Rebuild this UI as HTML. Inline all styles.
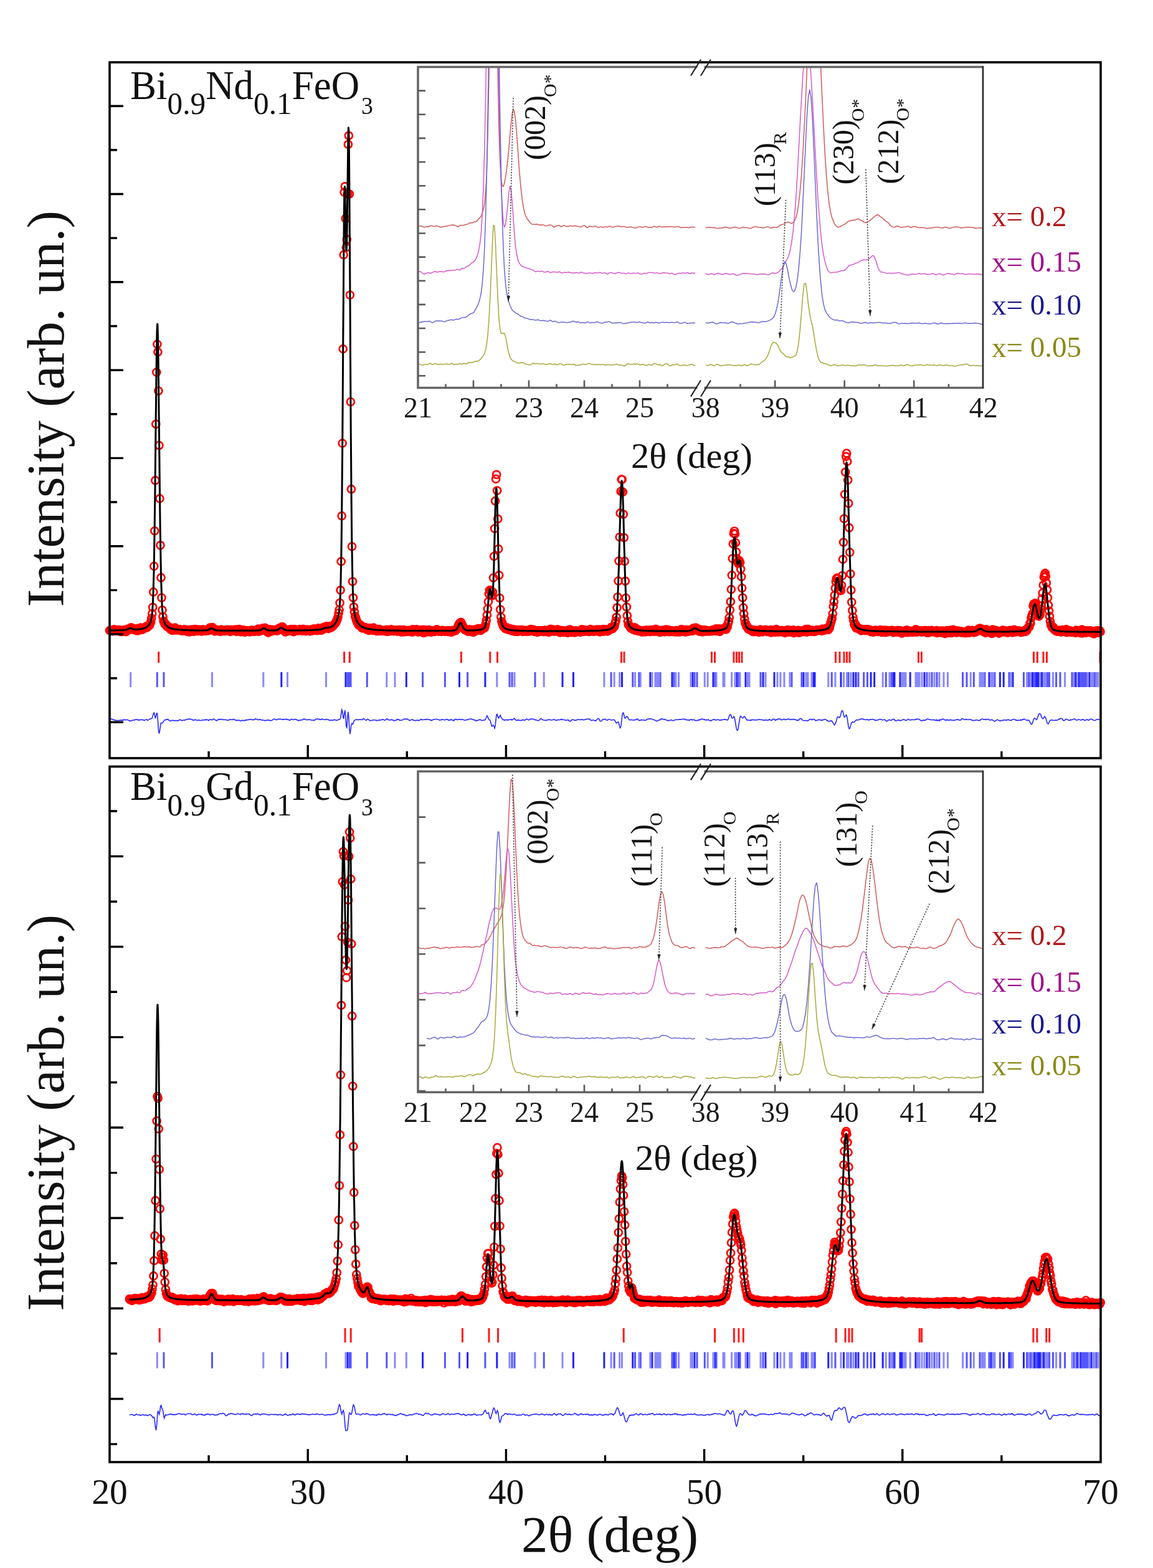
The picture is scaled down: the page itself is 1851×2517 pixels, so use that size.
<!DOCTYPE html>
<html><head><meta charset="utf-8"><title>XRD</title>
<style>html,body{margin:0;padding:0;background:#fff;}svg{display:block;}text{font-family:"Liberation Serif","Times New Roman",serif;}</style></head><body>
<svg width="1851" height="2517" viewBox="0 0 1851 2517">
<rect width="1851" height="2517" fill="#fff"/>
<defs>
<marker id="c" viewBox="-8 -8 16 16" markerWidth="16" markerHeight="16" markerUnits="userSpaceOnUse" refX="0" refY="0" overflow="visible"><circle r="6" fill="none" stroke="#ff0000" stroke-width="2.7"/></marker>
<marker id="ah" viewBox="-4 -8 8 8" markerWidth="8" markerHeight="8" markerUnits="userSpaceOnUse" refX="0" refY="0" orient="auto-start-reverse" overflow="visible"><path d="M-9,-2.6 L-9,2.6 L0,0 Z" fill="#222"/></marker>
<clipPath id="it"><rect x="671" y="107.5" width="907" height="515"/></clipPath>
<clipPath id="ib"><rect x="671" y="1238.2" width="907" height="515"/></clipPath>
</defs>
<polyline fill="none" stroke="none" marker-start="url(#c)" marker-mid="url(#c)" marker-end="url(#c)" points="176,1012 177,1011.6 178,1012.3 179.1,1013 180.1,1012.5 181.1,1013.1 182.1,1011.8 183.1,1010.3 184.1,1012.5 185.2,1012.6 186.2,1011.3 187.2,1011.4 188.2,1011.7 189.2,1012.9 190.3,1011.8 191.3,1011 192.3,1013.4 193.3,1012.3 194.3,1014 195.3,1013.2 196.4,1013.9 197.4,1011.9 198.4,1013.1 199.4,1011.2 200.4,1011.2 201.5,1011.5 202.5,1014.1 203.5,1011.4 204.5,1010.4 205.5,1009.7 206.5,1011.1 207.6,1009.3 208.6,1009.6 209.6,1009.3 210.6,1007.3 211.6,1010 212.7,1009.6 213.7,1008.9 214.7,1011 215.7,1010.7 216.7,1010.5 217.7,1010.6 218.8,1012.2 219.8,1010.5 220.8,1008.9 221.8,1012.3 222.8,1009.3 223.9,1010.1 224.9,1010.9 225.9,1007.5 226.9,1008.9 227.9,1011 228.9,1009.3 230,1008.4 231,1009 232,1007.6 233,1008.1 234,1006.8 235.1,1005.3 236.1,1007.2 237.1,1005.4 238.1,1005.3 239.1,1003.5 240.1,1003.7 241.2,1001.1 242.2,998.1 243.2,992.6 244.2,985.1 245.2,974.8 246.3,950.4 247.3,908.9 248.3,852.3 249.3,771.2 250.3,680.8 251.3,597.6 252.4,552.6 253.4,565 254.4,627.5 255.4,715 256.4,800.4 257.5,875.3 258.5,927.2 259.5,959.5 260.5,979.3 261.5,990 262.6,996.9 263.6,999 264.6,1001.7 265.6,1001.5 266.6,1003.3 267.6,1005.2 268.7,1005.2 269.7,1007.1 270.7,1006.1 271.7,1007.8 272.7,1007.6 273.8,1010.2 274.8,1008.6 275.8,1011.3 276.8,1012 277.8,1010.1 278.8,1011 279.9,1009.9 280.9,1007.6 281.9,1011.4 282.9,1011.3 283.9,1010.4 285,1010.2 286,1011.1 287,1011.2 288,1010.2 289,1010.5 290,1012.4 291.1,1011.3 292.1,1011.3 293.1,1012.6 294.1,1011.1 295.1,1012.5 296.2,1010.3 297.2,1011.3 298.2,1011.5 299.2,1012.3 300.2,1011.8 301.2,1014.1 302.3,1013.1 303.3,1011.3 304.3,1014.3 305.3,1010.8 306.3,1013.9 307.4,1010.9 308.4,1012.9 309.4,1010.9 310.4,1011.7 311.4,1013.7 312.4,1010.4 313.5,1010.2 314.5,1012 315.5,1012.3 316.5,1012.2 317.5,1013.1 318.6,1010.7 319.6,1012.6 320.6,1012.1 321.6,1013 322.6,1012.8 323.6,1013.5 324.7,1010.5 325.7,1012.2 326.7,1010.9 327.7,1012 328.7,1012.8 329.8,1012.3 330.8,1012.5 331.8,1011.7 332.8,1012 333.8,1011.6 334.8,1012.4 335.9,1011.1 336.9,1007.6 337.9,1009.8 338.9,1009.9 339.9,1008.1 341,1007.2 342,1011.2 343,1010.3 344,1011.4 345,1013.3 346,1010.6 347.1,1011.8 348.1,1011.9 349.1,1012.9 350.1,1011.5 351.1,1012.8 352.2,1012.3 353.2,1013.5 354.2,1013.6 355.2,1010.6 356.2,1012.8 357.2,1011.9 358.3,1012.3 359.3,1012.8 360.3,1012.9 361.3,1011.5 362.3,1012.6 363.4,1012.4 364.4,1012.2 365.4,1010.9 366.4,1011.5 367.4,1011.8 368.4,1013 369.5,1013.9 370.5,1011.2 371.5,1011.1 372.5,1012.5 373.5,1011.6 374.6,1011.4 375.6,1011.3 376.6,1011.2 377.6,1012.9 378.6,1010.5 379.6,1013.8 380.7,1011.3 381.7,1011.7 382.7,1011.3 383.7,1010.1 384.7,1010.5 385.8,1013.7 386.8,1014.3 387.8,1011.3 388.8,1013.5 389.8,1012.3 390.8,1011.3 391.9,1014.3 392.9,1014.9 393.9,1012 394.9,1012.3 395.9,1012.6 397,1012.3 398,1013.3 399,1014.1 400,1012.5 401,1013.5 402,1014.3 403.1,1011.7 404.1,1012.4 405.1,1011.8 406.1,1013.5 407.1,1013.1 408.2,1013.5 409.2,1013.3 410.2,1012 411.2,1013.2 412.2,1011.8 413.2,1011.8 414.3,1009.7 415.3,1013.7 416.3,1010.8 417.3,1011.7 418.3,1011.2 419.4,1012.4 420.4,1010.6 421.4,1008.5 422.4,1009 423.4,1008.5 424.5,1009.1 425.5,1007.8 426.5,1009.8 427.5,1013.1 428.5,1011.8 429.5,1013.8 430.6,1015.6 431.6,1012.5 432.6,1010.4 433.6,1012 434.6,1013.5 435.7,1013.3 436.7,1010.8 437.7,1011.9 438.7,1012.1 439.7,1012.2 440.7,1012 441.8,1011 442.8,1011.2 443.8,1011.5 444.8,1012.7 445.8,1010.4 446.9,1011.3 447.9,1008.4 448.9,1010.5 449.9,1008.4 450.9,1007.8 451.9,1009.3 453,1006 454,1007 455,1010.1 456,1009.4 457,1010.4 458.1,1014.5 459.1,1011.3 460.1,1011.9 461.1,1011.8 462.1,1013.3 463.1,1012.3 464.2,1012.3 465.2,1010.6 466.2,1011.7 467.2,1012.1 468.2,1010.2 469.3,1012.7 470.3,1012.5 471.3,1014.2 472.3,1010.2 473.3,1010.9 474.3,1010.9 475.4,1011.2 476.4,1011.9 477.4,1011.7 478.4,1012.3 479.4,1012.2 480.5,1011.9 481.5,1010.1 482.5,1011.3 483.5,1012 484.5,1012.6 485.5,1012.6 486.6,1009.9 487.6,1011.2 488.6,1011.7 489.6,1012.2 490.6,1013.1 491.7,1011.8 492.7,1010.7 493.7,1012.1 494.7,1011.9 495.7,1011.9 496.7,1011.4 497.8,1013.4 498.8,1011.8 499.8,1012.5 500.8,1010.4 501.8,1012.3 502.9,1010.6 503.9,1009.4 504.9,1011.6 505.9,1011.9 506.9,1010.9 507.9,1011 509,1012.1 510,1010.3 511,1008.3 512,1011 513,1010.8 514.1,1011.7 515.1,1009.9 516.1,1011.5 517.1,1011.1 518.1,1007.8 519.1,1010.1 520.2,1007.3 521.2,1006.3 522.2,1007.5 523.2,1007 524.2,1005.3 525.3,1007.8 526.3,1008.3 527.3,1009.1 528.3,1007.3 529.3,1005.3 530.3,1005.6 531.4,1007.4 532.4,1006.8 533.4,1005.8 534.4,1004.1 535.4,1003.8 536.5,1002.4 537.5,1001.1 538.5,1000.4 539.5,998.4 540.5,996.1 541.5,994 542.6,990.1 543.6,984.1 544.6,978.9 545.6,967.8 546.6,947.3 547.7,901.4 548.7,828.2 549.7,711.6 550.7,560.1 551.7,409.1 552.7,308.6 553.8,299.3 554.8,350.8 555.8,397.3 556.8,384.4 557.8,311.5 558.9,231.8 559.9,217.8 560.9,311.5 561.9,473.6 562.9,645.1 563.9,785.2 565,877.4 566,933.5 567,959.5 568,974.3 569,982.3 570.1,989.3 571.1,991.7 572.1,995.3 573.1,997.9 574.1,999.7 575.2,1002.3 576.2,1003.8 577.2,1002.2 578.2,1004.3 579.2,1004.6 580.2,1004.4 581.3,1008.3 582.3,1007.7 583.3,1007 584.3,1007.1 585.3,1008.4 586.4,1007.1 587.4,1008.4 588.4,1010.3 589.4,1010.2 590.4,1008.4 591.4,1009 592.5,1012 593.5,1008.3 594.5,1009.4 595.5,1008.6 596.5,1010.8 597.6,1010.8 598.6,1011.9 599.6,1007.6 600.6,1011 601.6,1009 602.6,1011.7 603.7,1010.9 604.7,1013.1 605.7,1011.7 606.7,1010.1 607.7,1012.8 608.8,1010.1 609.8,1011 610.8,1012.8 611.8,1012.2 612.8,1012.1 613.8,1011.7 614.9,1012.3 615.9,1012.7 616.9,1012.1 617.9,1013 618.9,1013.4 620,1011.9 621,1010.8 622,1013.8 623,1012 624,1012.8 625,1013.2 626.1,1011 627.1,1012.7 628.1,1010.3 629.1,1013 630.1,1011.7 631.2,1012.4 632.2,1013.1 633.2,1011.5 634.2,1012.4 635.2,1011.5 636.2,1012.3 637.3,1013.6 638.3,1012.4 639.3,1012.2 640.3,1011.1 641.3,1013.4 642.4,1012.4 643.4,1014.4 644.4,1011.6 645.4,1013.7 646.4,1014.5 647.4,1012.5 648.5,1011.1 649.5,1014.2 650.5,1013.7 651.5,1013.3 652.5,1013.8 653.6,1012 654.6,1013.4 655.6,1013.3 656.6,1011.8 657.6,1013.4 658.6,1012 659.7,1013.7 660.7,1014 661.7,1014.7 662.7,1010.3 663.7,1012.9 664.8,1012.2 665.8,1012.6 666.8,1012.3 667.8,1012.5 668.8,1010.3 669.8,1013.8 670.9,1014.4 671.9,1013.8 672.9,1014.2 673.9,1011.7 674.9,1011.6 676,1013.7 677,1014.3 678,1013 679,1010.9 680,1016 681,1012 682.1,1013.9 683.1,1011.4 684.1,1013.9 685.1,1013 686.1,1014.4 687.2,1013.8 688.2,1011 689.2,1011.6 690.2,1013.1 691.2,1013.7 692.2,1014.9 693.3,1013.1 694.3,1012.7 695.3,1012.7 696.3,1012.7 697.3,1014 698.4,1012.7 699.4,1012.7 700.4,1011.1 701.4,1010.4 702.4,1012.8 703.4,1013.5 704.5,1012.7 705.5,1013.3 706.5,1013.5 707.5,1012.7 708.5,1013.9 709.6,1011.9 710.6,1012.7 711.6,1012.3 712.6,1012.8 713.6,1013.4 714.6,1013.7 715.7,1012.8 716.7,1013.2 717.7,1012.3 718.7,1012.5 719.7,1014.1 720.8,1012.4 721.8,1014.1 722.8,1013.2 723.8,1012.7 724.8,1014.8 725.8,1012.2 726.9,1012.1 727.9,1012.3 728.9,1012.5 729.9,1012.2 730.9,1012.6 732,1011.1 733,1010.4 734,1008.1 735,1007.8 736,1003.8 737.1,1001.6 738.1,1000.1 739.1,999.6 740.1,998.9 741.1,1003.2 742.1,1002.9 743.2,1005.4 744.2,1007.4 745.2,1008.8 746.2,1011.1 747.2,1011.4 748.3,1010.7 749.3,1011.2 750.3,1011.6 751.3,1013.7 752.3,1011.3 753.3,1010.6 754.4,1010.8 755.4,1011.7 756.4,1013.8 757.4,1010.8 758.4,1012.1 759.5,1014.9 760.5,1011.4 761.5,1013.6 762.5,1013.3 763.5,1012.4 764.5,1010 765.6,1011.9 766.6,1011 767.6,1009.1 768.6,1009.2 769.6,1011.1 770.7,1011 771.7,1012 772.7,1011.1 773.7,1009.5 774.7,1009.1 775.7,1008.9 776.8,1007.2 777.8,1008.1 778.8,1005.4 779.8,1001.1 780.8,995.9 781.9,987.3 782.9,977.4 783.9,965.9 784.9,953.4 785.9,947.5 786.9,947.4 788,949.4 789,955.7 790,956.3 791,950.4 792,927.5 793.1,893 794.1,848.5 795.1,804.2 796.1,768.9 797.1,761.8 798.1,787.5 799.2,833 800.2,881.1 801.2,923.3 802.2,960 803.2,978.4 804.3,990.5 805.3,997.6 806.3,1000.4 807.3,1003.3 808.3,1005.8 809.3,1006.8 810.4,1007 811.4,1009.3 812.4,1009.2 813.4,1008.5 814.4,1007.6 815.5,1010.4 816.5,1010.6 817.5,1010.5 818.5,1009.3 819.5,1011.2 820.5,1009.5 821.6,1012.6 822.6,1011.8 823.6,1011.9 824.6,1010.8 825.6,1010.6 826.7,1013.7 827.7,1013.1 828.7,1011.6 829.7,1012.9 830.7,1014 831.7,1011 832.8,1011.7 833.8,1011.7 834.8,1012.9 835.8,1011.2 836.8,1012.7 837.9,1011.1 838.9,1013.6 839.9,1013.5 840.9,1012.3 841.9,1013.4 842.9,1011.8 844,1012.3 845,1013.7 846,1012.6 847,1013.1 848,1011.6 849.1,1013.5 850.1,1013.2 851.1,1011.3 852.1,1010.1 853.1,1010.4 854.1,1012.7 855.2,1012.5 856.2,1010.9 857.2,1012.9 858.2,1014 859.2,1012.7 860.3,1012.3 861.3,1013.8 862.3,1014.8 863.3,1014.6 864.3,1012.1 865.3,1013.8 866.4,1013 867.4,1012.6 868.4,1012.1 869.4,1013.3 870.4,1012.3 871.5,1014 872.5,1013.3 873.5,1014.1 874.5,1011.6 875.5,1013 876.5,1013.8 877.6,1013.4 878.6,1013.2 879.6,1012.1 880.6,1014.9 881.6,1014.2 882.7,1013.4 883.7,1009.9 884.7,1011.8 885.7,1013.1 886.7,1012.1 887.7,1010.5 888.8,1013.3 889.8,1013.4 890.8,1011.5 891.8,1012.4 892.8,1012.2 893.9,1013.6 894.9,1010.7 895.9,1010.9 896.9,1012.3 897.9,1012.2 899,1015.4 900,1012.2 901,1013.2 902,1012.5 903,1012.2 904,1013.4 905.1,1015 906.1,1012.5 907.1,1013.9 908.1,1013.4 909.1,1013.7 910.2,1013.4 911.2,1015.8 912.2,1011.5 913.2,1012.7 914.2,1011.6 915.2,1010.6 916.3,1012.9 917.3,1015.1 918.3,1014 919.3,1014.4 920.3,1013.6 921.4,1012.9 922.4,1015.4 923.4,1012.5 924.4,1014.8 925.4,1012.6 926.4,1013.1 927.5,1013.3 928.5,1013 929.5,1013.6 930.5,1013.6 931.5,1014.9 932.6,1012.9 933.6,1010.7 934.6,1010.5 935.6,1011.3 936.6,1012 937.6,1013.7 938.7,1011.1 939.7,1012.9 940.7,1012.9 941.7,1013.2 942.7,1012.7 943.8,1013.3 944.8,1012.9 945.8,1014 946.8,1013.2 947.8,1010 948.8,1012.8 949.9,1013 950.9,1012 951.9,1011.8 952.9,1013.9 953.9,1012.8 955,1011.4 956,1012.2 957,1012.3 958,1010.6 959,1013.2 960,1012.2 961.1,1012.9 962.1,1010.5 963.1,1014.5 964.1,1012.9 965.1,1012.7 966.2,1011.2 967.2,1011.2 968.2,1010.1 969.2,1013.6 970.2,1010.7 971.2,1011.8 972.3,1012.1 973.3,1010.5 974.3,1012.1 975.3,1013.3 976.3,1011 977.4,1012.1 978.4,1010.8 979.4,1009.2 980.4,1008.9 981.4,1006.9 982.4,1008.4 983.5,1009.3 984.5,1007.5 985.5,1006.5 986.5,1005 987.5,1000.2 988.6,996.8 989.6,990.8 990.6,975.5 991.6,958.4 992.6,932.6 993.6,900.5 994.7,862.1 995.7,823.7 996.7,788.7 997.7,769.6 998.7,769.7 999.8,789.7 1000.8,825.5 1001.8,863 1002.8,900.9 1003.8,932.8 1004.8,959.9 1005.9,974.4 1006.9,988.3 1007.9,997.5 1008.9,1002.8 1009.9,1003.9 1011,1005.5 1012,1007.5 1013,1007.4 1014,1009 1015,1008.1 1016,1010.2 1017.1,1009.7 1018.1,1008.9 1019.1,1007.3 1020.1,1011.8 1021.1,1011.4 1022.2,1012 1023.2,1010.3 1024.2,1012.8 1025.2,1012.1 1026.2,1011.7 1027.2,1012.9 1028.3,1013 1029.3,1012.5 1030.3,1014.6 1031.3,1013.9 1032.3,1012.7 1033.4,1012.1 1034.4,1012.5 1035.4,1014.5 1036.4,1013 1037.4,1011.5 1038.4,1011.9 1039.5,1012.7 1040.5,1013.7 1041.5,1011.9 1042.5,1013.4 1043.5,1014.1 1044.6,1013.7 1045.6,1011 1046.6,1012.5 1047.6,1011.4 1048.6,1013.4 1049.6,1011.7 1050.7,1013.6 1051.7,1013.1 1052.7,1009.9 1053.7,1012 1054.7,1013.5 1055.8,1013 1056.8,1012.6 1057.8,1011.5 1058.8,1013.6 1059.8,1015.1 1060.9,1013.3 1061.9,1013 1062.9,1012.9 1063.9,1011.5 1064.9,1012.7 1065.9,1012.1 1067,1014.4 1068,1012 1069,1010.6 1070,1012.2 1071,1012.8 1072.1,1012.9 1073.1,1011 1074.1,1014.2 1075.1,1013.2 1076.1,1012.6 1077.1,1012.2 1078.2,1013.6 1079.2,1012.7 1080.2,1013.5 1081.2,1013 1082.2,1013.3 1083.3,1014.5 1084.3,1013.2 1085.3,1012.1 1086.3,1014.3 1087.3,1013.4 1088.3,1012.3 1089.4,1014.4 1090.4,1012.9 1091.4,1014.4 1092.4,1011.8 1093.4,1010.3 1094.5,1010.7 1095.5,1013.4 1096.5,1012.2 1097.5,1012.9 1098.5,1012.9 1099.5,1011.2 1100.6,1014.6 1101.6,1011.8 1102.6,1013 1103.6,1011.2 1104.6,1012.6 1105.7,1013.6 1106.7,1012.2 1107.7,1011.4 1108.7,1011.9 1109.7,1010.9 1110.7,1011.6 1111.8,1012.9 1112.8,1008.6 1113.8,1008.3 1114.8,1008.5 1115.8,1008.5 1116.9,1007.6 1117.9,1009.8 1118.9,1010.7 1119.9,1010.7 1120.9,1009.7 1121.9,1013.3 1123,1010.6 1124,1013.1 1125,1013.8 1126,1011.1 1127,1012.8 1128.1,1014.3 1129.1,1013.2 1130.1,1011.7 1131.1,1011.4 1132.1,1013.3 1133.1,1012.3 1134.2,1011.9 1135.2,1013.5 1136.2,1012.3 1137.2,1012.8 1138.2,1013.3 1139.3,1013.2 1140.3,1012.5 1141.3,1012.6 1142.3,1013.2 1143.3,1013 1144.3,1011.1 1145.4,1012.1 1146.4,1011.3 1147.4,1010.8 1148.4,1011.5 1149.4,1009.4 1150.5,1013 1151.5,1011 1152.5,1012.2 1153.5,1009.5 1154.5,1009.6 1155.5,1013.8 1156.6,1012.4 1157.6,1010.3 1158.6,1009.9 1159.6,1009.7 1160.6,1010.4 1161.7,1009.4 1162.7,1008.8 1163.7,1009.2 1164.7,1007.2 1165.7,1010.4 1166.7,1005.8 1167.8,1006 1168.8,1000.9 1169.8,997.8 1170.8,991.5 1171.8,979.3 1172.9,965.8 1173.9,946.1 1174.9,923.4 1175.9,896.6 1176.9,873 1177.9,856.3 1179,852.5 1180,857 1181,871.3 1182,886 1183,896.6 1184.1,902.1 1185.1,904.5 1186.1,901.9 1187.1,900.2 1188.1,902.9 1189.1,913.5 1190.2,925.7 1191.2,944.1 1192.2,959.5 1193.2,975.4 1194.2,985.4 1195.3,993.7 1196.3,1000.4 1197.3,1001.2 1198.3,1005.5 1199.3,1005.3 1200.3,1007.3 1201.4,1009.9 1202.4,1010.1 1203.4,1009.6 1204.4,1010.4 1205.4,1010.7 1206.5,1011.3 1207.5,1013.4 1208.5,1011.6 1209.5,1014.2 1210.5,1011.3 1211.6,1012.7 1212.6,1012.8 1213.6,1012.3 1214.6,1011.8 1215.6,1014 1216.6,1014.4 1217.7,1013.7 1218.7,1014.9 1219.7,1013.7 1220.7,1010.7 1221.7,1013.9 1222.8,1011.9 1223.8,1014.4 1224.8,1012.4 1225.8,1013.2 1226.8,1012.9 1227.8,1012.2 1228.9,1010.8 1229.9,1012.7 1230.9,1012.8 1231.9,1014.1 1232.9,1012.3 1234,1013.3 1235,1012 1236,1013.1 1237,1011 1238,1015.5 1239,1013.4 1240.1,1012 1241.1,1013.5 1242.1,1014.1 1243.1,1013.5 1244.1,1014.8 1245.2,1013 1246.2,1010.2 1247.2,1011.8 1248.2,1014.5 1249.2,1014.2 1250.2,1013.7 1251.3,1012 1252.3,1014.2 1253.3,1014 1254.3,1012.2 1255.3,1012.2 1256.4,1013.7 1257.4,1014.6 1258.4,1015.1 1259.4,1014.1 1260.4,1015.9 1261.4,1012.3 1262.5,1014 1263.5,1012.7 1264.5,1011 1265.5,1011.8 1266.5,1014.6 1267.6,1012.2 1268.6,1011.8 1269.6,1014.1 1270.6,1014.4 1271.6,1013.3 1272.6,1015.1 1273.7,1011.4 1274.7,1016.1 1275.7,1014.5 1276.7,1013.5 1277.7,1013.5 1278.8,1013 1279.8,1012.8 1280.8,1013.4 1281.8,1011.8 1282.8,1015.7 1283.8,1013.1 1284.9,1014 1285.9,1012.9 1286.9,1012.8 1287.9,1014.2 1288.9,1013.8 1290,1012.1 1291,1012.6 1292,1013.8 1293,1010.5 1294,1010.2 1295,1014.7 1296.1,1012.6 1297.1,1009.9 1298.1,1011.9 1299.1,1012.6 1300.1,1013.1 1301.2,1013.4 1302.2,1013 1303.2,1013.4 1304.2,1011.8 1305.2,1013.1 1306.2,1013.1 1307.3,1014 1308.3,1012.5 1309.3,1013.5 1310.3,1012.6 1311.3,1011 1312.4,1011.8 1313.4,1011.5 1314.4,1011.6 1315.4,1011.9 1316.4,1012 1317.4,1012.1 1318.5,1010.7 1319.5,1012.7 1320.5,1009.7 1321.5,1011.1 1322.5,1011.8 1323.6,1011.3 1324.6,1011.3 1325.6,1010 1326.6,1010.7 1327.6,1008 1328.6,1009.8 1329.7,1010.9 1330.7,1008 1331.7,1008.1 1332.7,1003.6 1333.7,999.4 1334.8,995.8 1335.8,992.7 1336.8,985.1 1337.8,973.6 1338.8,965.7 1339.8,955.7 1340.9,944.3 1341.9,933.7 1342.9,928.8 1343.9,927.6 1344.9,928.7 1346,932.9 1347,940.3 1348,946.3 1349,948.1 1350,948 1351,939.4 1352.1,924.1 1353.1,897.9 1354.1,870.5 1355.1,832.6 1356.1,793.6 1357.2,757.8 1358.2,732.8 1359.2,727.7 1360.2,740.8 1361.2,770.6 1362.2,808 1363.3,847.2 1364.3,886.6 1365.3,921.3 1366.3,947.2 1367.3,966.6 1368.4,980 1369.4,990.7 1370.4,996.4 1371.4,1002.2 1372.4,1003.9 1373.5,1002.4 1374.5,1008.2 1375.5,1006.9 1376.5,1007 1377.5,1008.4 1378.5,1009.5 1379.6,1009.1 1380.6,1009.4 1381.6,1009.9 1382.6,1012.3 1383.6,1010.6 1384.7,1011.7 1385.7,1011.5 1386.7,1010.8 1387.7,1010.5 1388.7,1010.3 1389.7,1012.2 1390.8,1010.6 1391.8,1010.4 1392.8,1010.6 1393.8,1010.4 1394.8,1012.3 1395.9,1012.5 1396.9,1011.4 1397.9,1014.1 1398.9,1012.2 1399.9,1013.2 1400.9,1013.1 1402,1014.8 1403,1013.8 1404,1012.8 1405,1011.8 1406,1011.7 1407.1,1013 1408.1,1013.2 1409.1,1014 1410.1,1012.6 1411.1,1013.4 1412.1,1012.4 1413.2,1011 1414.2,1013.2 1415.2,1015 1416.2,1014.3 1417.2,1015 1418.3,1014.7 1419.3,1011.7 1420.3,1013.1 1421.3,1015.2 1422.3,1012.6 1423.3,1011.9 1424.4,1013.8 1425.4,1014.2 1426.4,1013.8 1427.4,1013.1 1428.4,1012.7 1429.5,1012.1 1430.5,1012.1 1431.5,1012.1 1432.5,1011.9 1433.5,1012.8 1434.5,1015.4 1435.6,1013.7 1436.6,1013.2 1437.6,1014.1 1438.6,1012.5 1439.6,1014 1440.7,1014.7 1441.7,1011.9 1442.7,1012.8 1443.7,1013.4 1444.7,1012.6 1445.7,1012.4 1446.8,1013.3 1447.8,1016.6 1448.8,1014.5 1449.8,1014.3 1450.8,1014.9 1451.9,1013.5 1452.9,1012.3 1453.9,1014.3 1454.9,1015.1 1455.9,1011.3 1456.9,1014.3 1458,1015.2 1459,1013.5 1460,1013.3 1461,1014.6 1462,1012.8 1463.1,1014.4 1464.1,1014.9 1465.1,1013.6 1466.1,1012.9 1467.1,1014.6 1468.1,1013.4 1469.2,1013.9 1470.2,1010.4 1471.2,1014.7 1472.2,1012.2 1473.2,1013.9 1474.3,1014 1475.3,1013 1476.3,1012.8 1477.3,1012.3 1478.3,1013.5 1479.3,1014.6 1480.4,1014.5 1481.4,1013.3 1482.4,1013.2 1483.4,1012.2 1484.4,1013.4 1485.5,1012.6 1486.5,1012.1 1487.5,1013.7 1488.5,1015.7 1489.5,1015.3 1490.5,1015.6 1491.6,1012 1492.6,1014.9 1493.6,1012.4 1494.6,1013.2 1495.6,1011.9 1496.7,1012.7 1497.7,1014.1 1498.7,1014.2 1499.7,1013.8 1500.7,1013.7 1501.7,1014.6 1502.8,1014 1503.8,1012 1504.8,1016 1505.8,1013.6 1506.8,1015 1507.9,1013.7 1508.9,1012.9 1509.9,1014 1510.9,1013 1511.9,1015.9 1512.9,1012.6 1514,1014.7 1515,1013.2 1516,1013.8 1517,1017.1 1518,1014.9 1519.1,1013.7 1520.1,1012.1 1521.1,1013.6 1522.1,1013.7 1523.1,1015.7 1524.1,1012.3 1525.2,1011.8 1526.2,1014 1527.2,1014.3 1528.2,1015.9 1529.2,1012.9 1530.3,1010.8 1531.3,1013.1 1532.3,1012.5 1533.3,1013.3 1534.3,1015.2 1535.4,1012.4 1536.4,1015.5 1537.4,1014.2 1538.4,1013.7 1539.4,1012.9 1540.4,1013.5 1541.5,1013.5 1542.5,1014.9 1543.5,1015.5 1544.5,1013.9 1545.5,1014.8 1546.6,1015.6 1547.6,1015.5 1548.6,1014.6 1549.6,1016.2 1550.6,1015.6 1551.6,1015.9 1552.7,1013.8 1553.7,1013.5 1554.7,1011.5 1555.7,1015.7 1556.7,1014.8 1557.8,1012.8 1558.8,1014.2 1559.8,1014.3 1560.8,1011.8 1561.8,1014.2 1562.8,1015.1 1563.9,1015.2 1564.9,1013 1565.9,1012.8 1566.9,1014.4 1567.9,1013.5 1569,1011.1 1570,1010.4 1571,1011.1 1572,1009 1573,1008.7 1574,1011.4 1575.1,1009.8 1576.1,1009.5 1577.1,1011.3 1578.1,1013.9 1579.1,1012.3 1580.2,1011.6 1581.2,1011.1 1582.2,1015.9 1583.2,1010.4 1584.2,1015 1585.2,1012.6 1586.3,1012.3 1587.3,1012.7 1588.3,1013.7 1589.3,1015.3 1590.3,1013.2 1591.4,1014.8 1592.4,1017 1593.4,1010.5 1594.4,1013.1 1595.4,1011.8 1596.4,1015 1597.5,1012.2 1598.5,1012 1599.5,1012.1 1600.5,1014 1601.5,1015.4 1602.6,1014.2 1603.6,1016.6 1604.6,1016 1605.6,1013.8 1606.6,1015.1 1607.6,1014.1 1608.7,1014.1 1609.7,1011.6 1610.7,1012.4 1611.7,1014 1612.7,1012.4 1613.8,1014.8 1614.8,1014.3 1615.8,1012.8 1616.8,1015.3 1617.8,1014.2 1618.8,1015.4 1619.9,1013.7 1620.9,1011.8 1621.9,1014.7 1622.9,1013.5 1623.9,1014.8 1625,1015.1 1626,1015.2 1627,1011.9 1628,1010.8 1629,1013 1630,1014.4 1631.1,1012.7 1632.1,1013.9 1633.1,1012.5 1634.1,1013.1 1635.1,1013 1636.2,1012.6 1637.2,1014 1638.2,1013.7 1639.2,1015.2 1640.2,1013.6 1641.2,1014.6 1642.3,1013 1643.3,1013.8 1644.3,1012.4 1645.3,1011.8 1646.3,1013.8 1647.4,1012.7 1648.4,1012.4 1649.4,1009.6 1650.4,1007.4 1651.4,1006.8 1652.4,1006 1653.5,1000.7 1654.5,1000.3 1655.5,991.7 1656.5,988.6 1657.5,985.1 1658.6,972.9 1659.6,969.5 1660.6,970 1661.6,968.4 1662.6,971.2 1663.6,974.8 1664.7,981.5 1665.7,985.1 1666.7,987.3 1667.7,989.4 1668.7,987.7 1669.8,986 1670.8,977.5 1671.8,972.8 1672.8,961.1 1673.8,951.9 1674.8,939.3 1675.9,926.2 1676.9,922.8 1677.9,920.1 1678.9,925.4 1679.9,935.8 1681,946.7 1682,959.5 1683,971.5 1684,980.6 1685,989.4 1686,997.6 1687.1,1002.9 1688.1,1004.9 1689.1,1007.6 1690.1,1007.8 1691.1,1006.9 1692.2,1009.8 1693.2,1011.3 1694.2,1011.8 1695.2,1012.9 1696.2,1013.2 1697.3,1013.6 1698.3,1013 1699.3,1013.2 1700.3,1011.9 1701.3,1013.4 1702.3,1013.3 1703.4,1014.6 1704.4,1011.3 1705.4,1012.7 1706.4,1011.2 1707.4,1012.5 1708.5,1011.7 1709.5,1013.8 1710.5,1012.7 1711.5,1010.4 1712.5,1015.2 1713.5,1012.3 1714.6,1011.7 1715.6,1013.3 1716.6,1012.9 1717.6,1012.3 1718.6,1014.7 1719.7,1013.4 1720.7,1015 1721.7,1014.8 1722.7,1014.7 1723.7,1014.2 1724.7,1013.8 1725.8,1013.5 1726.8,1015.8 1727.8,1011.6 1728.8,1012.6 1729.8,1013.2 1730.9,1014.5 1731.9,1014.2 1732.9,1013.4 1733.9,1013.6 1734.9,1016.2 1735.9,1013.2 1737,1010.6 1738,1016.4 1739,1013 1740,1013.7 1741,1014.3 1742.1,1012.5 1743.1,1015.7 1744.1,1014 1745.1,1012.4 1746.1,1014.5 1747.1,1014.8 1748.2,1014.1 1749.2,1014.8 1750.2,1012.4 1751.2,1015.4 1752.2,1013.2 1753.3,1015.8 1754.3,1013.5 1755.3,1014.4 1756.3,1017.5 1757.3,1014.3 1758.3,1015.6 1759.4,1014.9 1760.4,1012.4 1761.4,1015.7 1762.4,1015.6 1763.4,1012.6 1764.5,1014.2 1765.5,1012.4 1766.5,1014"/>
<polyline fill="none" stroke="#000" stroke-width="3" stroke-linejoin="round" points="176,1011.9 176.3,1011.9 176.6,1011.9 177,1011.9 177.3,1011.9 177.6,1011.9 177.9,1011.9 178.2,1011.9 178.5,1011.9 178.9,1011.9 179.2,1011.9 179.5,1011.9 179.8,1011.9 180.1,1011.9 180.5,1011.9 180.8,1011.9 181.1,1011.9 181.4,1011.9 181.7,1011.9 182,1011.9 182.4,1011.9 182.7,1011.9 183,1011.9 183.3,1011.9 183.6,1011.9 184,1011.9 184.3,1011.9 184.6,1011.9 184.9,1011.9 185.2,1011.9 185.5,1011.8 185.9,1011.8 186.2,1011.8 186.5,1011.8 186.8,1011.8 187.1,1011.8 187.5,1011.8 187.8,1011.8 188.1,1011.8 188.4,1011.8 188.7,1011.8 189,1011.8 189.4,1011.8 189.7,1011.8 190,1011.8 190.3,1011.8 190.6,1011.8 191,1011.8 191.3,1011.8 191.6,1011.8 191.9,1011.7 192.2,1011.7 192.5,1011.7 192.9,1011.7 193.2,1011.7 193.5,1011.7 193.8,1011.7 194.1,1011.7 194.5,1011.7 194.8,1011.7 195.1,1011.7 195.4,1011.7 195.7,1011.7 196,1011.6 196.4,1011.6 196.7,1011.6 197,1011.6 197.3,1011.6 197.6,1011.6 198,1011.6 198.3,1011.6 198.6,1011.5 198.9,1011.5 199.2,1011.5 199.5,1011.5 199.9,1011.5 200.2,1011.4 200.5,1011.4 200.8,1011.3 201.1,1011.3 201.5,1011.3 201.8,1011.2 202.1,1011.1 202.4,1011 202.7,1011 203,1010.9 203.4,1010.8 203.7,1010.6 204,1010.5 204.3,1010.4 204.6,1010.2 205,1010.1 205.3,1009.9 205.6,1009.7 205.9,1009.6 206.2,1009.4 206.5,1009.2 206.9,1009.1 207.2,1008.9 207.5,1008.8 207.8,1008.6 208.1,1008.5 208.5,1008.4 208.8,1008.4 209.1,1008.3 209.4,1008.3 209.7,1008.4 210,1008.4 210.4,1008.5 210.7,1008.6 211,1008.7 211.3,1008.9 211.6,1009 212,1009.2 212.3,1009.3 212.6,1009.4 212.9,1009.6 213.2,1009.7 213.5,1009.9 213.9,1010 214.2,1010.1 214.5,1010.2 214.8,1010.3 215.1,1010.3 215.5,1010.4 215.8,1010.5 216.1,1010.5 216.4,1010.5 216.7,1010.6 217,1010.6 217.4,1010.6 217.7,1010.6 218,1010.6 218.3,1010.6 218.6,1010.6 219,1010.6 219.3,1010.6 219.6,1010.6 219.9,1010.5 220.2,1010.5 220.5,1010.5 220.9,1010.5 221.2,1010.4 221.5,1010.4 221.8,1010.4 222.1,1010.3 222.5,1010.3 222.8,1010.3 223.1,1010.2 223.4,1010.2 223.7,1010.1 224,1010.1 224.4,1010 224.7,1010 225,1009.9 225.3,1009.9 225.6,1009.8 226,1009.8 226.3,1009.7 226.6,1009.7 226.9,1009.6 227.2,1009.5 227.5,1009.5 227.9,1009.4 228.2,1009.3 228.5,1009.3 228.8,1009.2 229.1,1009.1 229.5,1009 229.8,1008.9 230.1,1008.8 230.4,1008.7 230.7,1008.6 231,1008.5 231.4,1008.4 231.7,1008.3 232,1008.2 232.3,1008.1 232.6,1007.9 233,1007.8 233.3,1007.7 233.6,1007.5 233.9,1007.3 234.2,1007.2 234.5,1007 234.9,1006.8 235.2,1006.6 235.5,1006.4 235.8,1006.2 236.1,1006 236.5,1005.7 236.8,1005.5 237.1,1005.2 237.4,1004.9 237.7,1004.6 238,1004.3 238.4,1004 238.7,1003.6 239,1003.2 239.3,1002.8 239.6,1002.4 240,1001.9 240.3,1001.4 240.6,1000.8 240.9,1000.2 241.2,999.5 241.5,998.7 241.9,997.9 242.2,996.9 242.5,995.7 242.8,994.4 243.1,992.8 243.5,991 243.8,988.7 244.1,986 244.4,982.7 244.7,978.8 245,974 245.4,968.2 245.7,961.2 246,953 246.3,943.2 246.6,931.7 247,918.3 247.3,902.9 247.6,885.4 247.9,865.7 248.2,843.8 248.5,819.8 248.9,793.8 249.2,766.1 249.5,737.1 249.8,707.1 250.1,676.8 250.5,646.8 250.8,618 251.1,591.2 251.4,567.3 251.7,547.5 252,532.4 252.4,523.1 252.7,519.9 253,523.1 253.3,532.4 253.6,547.5 254,567.4 254.3,591.2 254.6,618 254.9,646.9 255.2,676.8 255.6,707.1 255.9,737.1 256.2,766.1 256.5,793.8 256.8,819.8 257.1,843.8 257.5,865.7 257.8,885.4 258.1,902.9 258.4,918.3 258.7,931.7 259.1,943.2 259.4,953 259.7,961.3 260,968.2 260.3,974 260.6,978.8 261,982.8 261.3,986 261.6,988.7 261.9,991 262.2,992.9 262.6,994.4 262.9,995.8 263.2,996.9 263.5,997.9 263.8,998.8 264.1,999.5 264.5,1000.2 264.8,1000.8 265.1,1001.4 265.4,1001.9 265.7,1002.4 266.1,1002.9 266.4,1003.3 266.7,1003.7 267,1004 267.3,1004.4 267.6,1004.7 268,1005 268.3,1005.3 268.6,1005.5 268.9,1005.8 269.2,1006 269.6,1006.3 269.9,1006.5 270.2,1006.7 270.5,1006.9 270.8,1007.1 271.1,1007.2 271.5,1007.4 271.8,1007.6 272.1,1007.7 272.4,1007.9 272.7,1008 273.1,1008.1 273.4,1008.3 273.7,1008.4 274,1008.5 274.3,1008.6 274.6,1008.7 275,1008.8 275.3,1008.9 275.6,1009 275.9,1009.1 276.2,1009.2 276.6,1009.3 276.9,1009.3 277.2,1009.4 277.5,1009.5 277.8,1009.6 278.1,1009.6 278.5,1009.7 278.8,1009.8 279.1,1009.8 279.4,1009.9 279.7,1009.9 280.1,1010 280.4,1010 280.7,1010.1 281,1010.2 281.3,1010.2 281.6,1010.2 282,1010.3 282.3,1010.3 282.6,1010.4 282.9,1010.4 283.2,1010.5 283.6,1010.5 283.9,1010.5 284.2,1010.6 284.5,1010.6 284.8,1010.6 285.1,1010.7 285.5,1010.7 285.8,1010.7 286.1,1010.8 286.4,1010.8 286.7,1010.8 287.1,1010.9 287.4,1010.9 287.7,1010.9 288,1010.9 288.3,1011 288.6,1011 289,1011 289.3,1011 289.6,1011.1 289.9,1011.1 290.2,1011.1 290.6,1011.1 290.9,1011.2 291.2,1011.2 291.5,1011.2 291.8,1011.2 292.1,1011.2 292.5,1011.2 292.8,1011.3 293.1,1011.3 293.4,1011.3 293.7,1011.3 294.1,1011.3 294.4,1011.3 294.7,1011.4 295,1011.4 295.3,1011.4 295.6,1011.4 296,1011.4 296.3,1011.4 296.6,1011.5 296.9,1011.5 297.2,1011.5 297.6,1011.5 297.9,1011.5 298.2,1011.5 298.5,1011.5 298.8,1011.5 299.1,1011.6 299.5,1011.6 299.8,1011.6 300.1,1011.6 300.4,1011.6 300.7,1011.6 301.1,1011.6 301.4,1011.6 301.7,1011.6 302,1011.6 302.3,1011.7 302.6,1011.7 303,1011.7 303.3,1011.7 303.6,1011.7 303.9,1011.7 304.2,1011.7 304.6,1011.7 304.9,1011.7 305.2,1011.7 305.5,1011.7 305.8,1011.7 306.1,1011.8 306.5,1011.8 306.8,1011.8 307.1,1011.8 307.4,1011.8 307.7,1011.8 308.1,1011.8 308.4,1011.8 308.7,1011.8 309,1011.8 309.3,1011.8 309.6,1011.8 310,1011.8 310.3,1011.8 310.6,1011.8 310.9,1011.9 311.2,1011.9 311.6,1011.9 311.9,1011.9 312.2,1011.9 312.5,1011.9 312.8,1011.9 313.1,1011.9 313.5,1011.9 313.8,1011.9 314.1,1011.9 314.4,1011.9 314.7,1011.9 315.1,1011.9 315.4,1011.9 315.7,1011.9 316,1011.9 316.3,1011.9 316.6,1011.9 317,1011.9 317.3,1011.9 317.6,1011.9 317.9,1012 318.2,1012 318.6,1012 318.9,1012 319.2,1012 319.5,1012 319.8,1012 320.1,1012 320.5,1012 320.8,1012 321.1,1012 321.4,1012 321.7,1012 322.1,1012 322.4,1012 322.7,1012 323,1012 323.3,1012 323.6,1012 324,1012 324.3,1012 324.6,1012 324.9,1012 325.2,1012 325.6,1012 325.9,1012 326.2,1012 326.5,1012 326.8,1012 327.1,1012 327.5,1012 327.8,1012 328.1,1012 328.4,1012 328.7,1012 329.1,1012 329.4,1011.9 329.7,1011.9 330,1011.9 330.3,1011.9 330.6,1011.9 331,1011.8 331.3,1011.8 331.6,1011.8 331.9,1011.7 332.2,1011.6 332.6,1011.6 332.9,1011.5 333.2,1011.4 333.5,1011.3 333.8,1011.2 334.1,1011.1 334.5,1010.9 334.8,1010.8 335.1,1010.6 335.4,1010.4 335.7,1010.2 336.1,1010 336.4,1009.9 336.7,1009.7 337,1009.5 337.3,1009.3 337.6,1009.1 338,1008.9 338.3,1008.8 338.6,1008.7 338.9,1008.6 339.2,1008.5 339.6,1008.5 339.9,1008.5 340.2,1008.6 340.5,1008.7 340.8,1008.8 341.1,1009 341.5,1009.1 341.8,1009.3 342.1,1009.5 342.4,1009.7 342.7,1009.9 343.1,1010.1 343.4,1010.3 343.7,1010.5 344,1010.6 344.3,1010.8 344.6,1011 345,1011.1 345.3,1011.3 345.6,1011.4 345.9,1011.5 346.2,1011.6 346.6,1011.7 346.9,1011.7 347.2,1011.8 347.5,1011.8 347.8,1011.9 348.1,1011.9 348.5,1012 348.8,1012 349.1,1012 349.4,1012 349.7,1012.1 350.1,1012.1 350.4,1012.1 350.7,1012.1 351,1012.1 351.3,1012.1 351.6,1012.1 352,1012.1 352.3,1012.1 352.6,1012.2 352.9,1012.2 353.2,1012.2 353.6,1012.2 353.9,1012.2 354.2,1012.2 354.5,1012.2 354.8,1012.2 355.1,1012.2 355.5,1012.2 355.8,1012.2 356.1,1012.2 356.4,1012.2 356.7,1012.2 357.1,1012.2 357.4,1012.2 357.7,1012.2 358,1012.2 358.3,1012.2 358.6,1012.2 359,1012.2 359.3,1012.2 359.6,1012.2 359.9,1012.2 360.2,1012.2 360.6,1012.2 360.9,1012.2 361.2,1012.2 361.5,1012.2 361.8,1012.2 362.1,1012.2 362.5,1012.3 362.8,1012.3 363.1,1012.3 363.4,1012.3 363.7,1012.3 364.1,1012.3 364.4,1012.3 364.7,1012.3 365,1012.3 365.3,1012.3 365.6,1012.3 366,1012.3 366.3,1012.3 366.6,1012.3 366.9,1012.3 367.2,1012.3 367.6,1012.3 367.9,1012.3 368.2,1012.3 368.5,1012.3 368.8,1012.3 369.1,1012.3 369.5,1012.3 369.8,1012.3 370.1,1012.3 370.4,1012.3 370.7,1012.3 371.1,1012.3 371.4,1012.3 371.7,1012.3 372,1012.3 372.3,1012.3 372.6,1012.3 373,1012.3 373.3,1012.3 373.6,1012.3 373.9,1012.3 374.2,1012.3 374.6,1012.3 374.9,1012.3 375.2,1012.3 375.5,1012.3 375.8,1012.3 376.1,1012.3 376.5,1012.3 376.8,1012.3 377.1,1012.3 377.4,1012.3 377.7,1012.3 378.1,1012.3 378.4,1012.3 378.7,1012.3 379,1012.3 379.3,1012.3 379.6,1012.3 380,1012.3 380.3,1012.3 380.6,1012.3 380.9,1012.3 381.2,1012.3 381.6,1012.3 381.9,1012.3 382.2,1012.3 382.5,1012.3 382.8,1012.3 383.1,1012.3 383.5,1012.3 383.8,1012.3 384.1,1012.3 384.4,1012.3 384.7,1012.3 385.1,1012.3 385.4,1012.3 385.7,1012.3 386,1012.3 386.3,1012.3 386.6,1012.3 387,1012.3 387.3,1012.3 387.6,1012.3 387.9,1012.3 388.2,1012.3 388.6,1012.3 388.9,1012.3 389.2,1012.3 389.5,1012.3 389.8,1012.3 390.1,1012.3 390.5,1012.3 390.8,1012.3 391.1,1012.3 391.4,1012.3 391.7,1012.3 392.1,1012.3 392.4,1012.3 392.7,1012.3 393,1012.3 393.3,1012.3 393.6,1012.3 394,1012.3 394.3,1012.3 394.6,1012.3 394.9,1012.3 395.2,1012.3 395.6,1012.3 395.9,1012.3 396.2,1012.3 396.5,1012.3 396.8,1012.3 397.1,1012.3 397.5,1012.3 397.8,1012.3 398.1,1012.3 398.4,1012.3 398.7,1012.3 399.1,1012.3 399.4,1012.3 399.7,1012.3 400,1012.3 400.3,1012.3 400.6,1012.3 401,1012.3 401.3,1012.3 401.6,1012.3 401.9,1012.3 402.2,1012.3 402.6,1012.3 402.9,1012.3 403.2,1012.3 403.5,1012.3 403.8,1012.3 404.1,1012.3 404.5,1012.3 404.8,1012.3 405.1,1012.3 405.4,1012.3 405.7,1012.3 406.1,1012.3 406.4,1012.3 406.7,1012.3 407,1012.3 407.3,1012.3 407.6,1012.3 408,1012.3 408.3,1012.3 408.6,1012.3 408.9,1012.3 409.2,1012.3 409.6,1012.3 409.9,1012.3 410.2,1012.2 410.5,1012.2 410.8,1012.2 411.1,1012.2 411.5,1012.2 411.8,1012.2 412.1,1012.2 412.4,1012.2 412.7,1012.2 413.1,1012.2 413.4,1012.2 413.7,1012.1 414,1012.1 414.3,1012.1 414.7,1012.1 415,1012 415.3,1012 415.6,1011.9 415.9,1011.9 416.2,1011.8 416.6,1011.8 416.9,1011.7 417.2,1011.6 417.5,1011.5 417.8,1011.4 418.2,1011.2 418.5,1011.1 418.8,1010.9 419.1,1010.8 419.4,1010.6 419.7,1010.4 420.1,1010.2 420.4,1010 420.7,1009.8 421,1009.6 421.3,1009.4 421.7,1009.2 422,1009.1 422.3,1008.9 422.6,1008.8 422.9,1008.7 423.2,1008.7 423.6,1008.6 423.9,1008.7 424.2,1008.7 424.5,1008.8 424.8,1008.9 425.2,1009.1 425.5,1009.2 425.8,1009.4 426.1,1009.6 426.4,1009.8 426.7,1010 427.1,1010.2 427.4,1010.4 427.7,1010.6 428,1010.7 428.3,1010.9 428.7,1011.1 429,1011.2 429.3,1011.3 429.6,1011.4 429.9,1011.5 430.2,1011.6 430.6,1011.7 430.9,1011.8 431.2,1011.8 431.5,1011.9 431.8,1011.9 432.2,1012 432.5,1012 432.8,1012 433.1,1012.1 433.4,1012.1 433.7,1012.1 434.1,1012.1 434.4,1012.1 434.7,1012.1 435,1012.1 435.3,1012.1 435.7,1012.1 436,1012.1 436.3,1012.1 436.6,1012.1 436.9,1012.1 437.2,1012.1 437.6,1012.1 437.9,1012.1 438.2,1012.1 438.5,1012.1 438.8,1012.1 439.2,1012.1 439.5,1012.1 439.8,1012.1 440.1,1012.1 440.4,1012.1 440.7,1012.1 441.1,1012.1 441.4,1012 441.7,1012 442,1012 442.3,1012 442.7,1011.9 443,1011.9 443.3,1011.8 443.6,1011.8 443.9,1011.7 444.2,1011.6 444.6,1011.5 444.9,1011.4 445.2,1011.3 445.5,1011.2 445.8,1011 446.2,1010.9 446.5,1010.7 446.8,1010.5 447.1,1010.3 447.4,1010.1 447.7,1009.9 448.1,1009.6 448.4,1009.4 448.7,1009.1 449,1008.9 449.3,1008.6 449.7,1008.4 450,1008.2 450.3,1008 450.6,1007.9 450.9,1007.8 451.2,1007.7 451.6,1007.7 451.9,1007.7 452.2,1007.8 452.5,1007.9 452.8,1008 453.2,1008.2 453.5,1008.4 453.8,1008.6 454.1,1008.9 454.4,1009.1 454.7,1009.3 455.1,1009.6 455.4,1009.8 455.7,1010.1 456,1010.3 456.3,1010.5 456.7,1010.7 457,1010.9 457.3,1011 457.6,1011.2 457.9,1011.3 458.2,1011.4 458.6,1011.5 458.9,1011.6 459.2,1011.7 459.5,1011.7 459.8,1011.8 460.2,1011.8 460.5,1011.9 460.8,1011.9 461.1,1011.9 461.4,1012 461.7,1012 462.1,1012 462.4,1012 462.7,1012 463,1012 463.3,1012 463.7,1012 464,1012 464.3,1012 464.6,1012 464.9,1012.1 465.2,1012.1 465.6,1012.1 465.9,1012.1 466.2,1012.1 466.5,1012.1 466.8,1012.1 467.2,1012.1 467.5,1012.1 467.8,1012.1 468.1,1012.1 468.4,1012.1 468.7,1012.1 469.1,1012.1 469.4,1012.1 469.7,1012.1 470,1012.1 470.3,1012.1 470.7,1012.1 471,1012.1 471.3,1012.1 471.6,1012 471.9,1012 472.2,1012 472.6,1012 472.9,1012 473.2,1012 473.5,1012 473.8,1012 474.2,1012 474.5,1012 474.8,1012 475.1,1012 475.4,1012 475.7,1012 476.1,1012 476.4,1012 476.7,1012 477,1012 477.3,1012 477.7,1012 478,1012 478.3,1012 478.6,1012 478.9,1012 479.2,1012 479.6,1012 479.9,1012 480.2,1012 480.5,1012 480.8,1012 481.2,1011.9 481.5,1011.9 481.8,1011.9 482.1,1011.9 482.4,1011.9 482.7,1011.9 483.1,1011.9 483.4,1011.9 483.7,1011.9 484,1011.9 484.3,1011.9 484.7,1011.9 485,1011.9 485.3,1011.9 485.6,1011.9 485.9,1011.9 486.2,1011.9 486.6,1011.9 486.9,1011.8 487.2,1011.8 487.5,1011.8 487.8,1011.8 488.2,1011.8 488.5,1011.8 488.8,1011.8 489.1,1011.8 489.4,1011.8 489.7,1011.8 490.1,1011.8 490.4,1011.8 490.7,1011.8 491,1011.8 491.3,1011.7 491.7,1011.7 492,1011.7 492.3,1011.7 492.6,1011.7 492.9,1011.7 493.2,1011.7 493.6,1011.7 493.9,1011.7 494.2,1011.7 494.5,1011.7 494.8,1011.6 495.2,1011.6 495.5,1011.6 495.8,1011.6 496.1,1011.6 496.4,1011.6 496.7,1011.6 497.1,1011.6 497.4,1011.6 497.7,1011.5 498,1011.5 498.3,1011.5 498.7,1011.5 499,1011.5 499.3,1011.5 499.6,1011.5 499.9,1011.5 500.2,1011.4 500.6,1011.4 500.9,1011.4 501.2,1011.4 501.5,1011.4 501.8,1011.4 502.2,1011.4 502.5,1011.3 502.8,1011.3 503.1,1011.3 503.4,1011.3 503.7,1011.3 504.1,1011.3 504.4,1011.2 504.7,1011.2 505,1011.2 505.3,1011.2 505.7,1011.2 506,1011.1 506.3,1011.1 506.6,1011.1 506.9,1011.1 507.2,1011.1 507.6,1011 507.9,1011 508.2,1011 508.5,1011 508.8,1011 509.2,1010.9 509.5,1010.9 509.8,1010.9 510.1,1010.8 510.4,1010.8 510.7,1010.8 511.1,1010.8 511.4,1010.7 511.7,1010.7 512,1010.7 512.3,1010.6 512.7,1010.6 513,1010.6 513.3,1010.5 513.6,1010.5 513.9,1010.4 514.2,1010.4 514.6,1010.3 514.9,1010.3 515.2,1010.2 515.5,1010.1 515.8,1010.1 516.2,1010 516.5,1009.9 516.8,1009.8 517.1,1009.7 517.4,1009.6 517.7,1009.5 518.1,1009.4 518.4,1009.3 518.7,1009.2 519,1009 519.3,1008.9 519.7,1008.8 520,1008.6 520.3,1008.5 520.6,1008.4 520.9,1008.3 521.2,1008.1 521.6,1008 521.9,1007.9 522.2,1007.8 522.5,1007.8 522.8,1007.7 523.2,1007.7 523.5,1007.6 523.8,1007.6 524.1,1007.6 524.4,1007.6 524.7,1007.6 525.1,1007.6 525.4,1007.6 525.7,1007.6 526,1007.6 526.3,1007.6 526.7,1007.6 527,1007.6 527.3,1007.5 527.6,1007.5 527.9,1007.4 528.2,1007.4 528.6,1007.3 528.9,1007.2 529.2,1007.2 529.5,1007.1 529.8,1007 530.2,1006.9 530.5,1006.7 530.8,1006.6 531.1,1006.5 531.4,1006.3 531.7,1006.2 532.1,1006 532.4,1005.8 532.7,1005.6 533,1005.4 533.3,1005.2 533.7,1005 534,1004.8 534.3,1004.6 534.6,1004.3 534.9,1004.1 535.2,1003.8 535.6,1003.5 535.9,1003.2 536.2,1002.9 536.5,1002.6 536.8,1002.3 537.2,1001.9 537.5,1001.5 537.8,1001.1 538.1,1000.7 538.4,1000.2 538.7,999.8 539.1,999.2 539.4,998.7 539.7,998.1 540,997.5 540.3,996.9 540.7,996.2 541,995.5 541.3,994.7 541.6,993.8 541.9,992.9 542.2,991.9 542.6,990.8 542.9,989.6 543.2,988.3 543.5,986.8 543.8,985.1 544.2,983.2 544.5,980.9 544.8,978.2 545.1,975 545.4,971.1 545.7,966.2 546.1,960.3 546.4,953 546.7,944 547,932.9 547.3,919.4 547.7,903.2 548,883.7 548.3,860.8 548.6,834 548.9,803.4 549.2,768.7 549.6,730.2 549.9,688.2 550.2,643.2 550.5,596 550.8,547.7 551.2,499.5 551.5,452.9 551.8,409.6 552.1,371.5 552.4,340.2 552.7,317.4 553.1,303.8 553.4,299.6 553.7,303.9 554,315.1 554.3,331 554.7,349.2 555,367.3 555.3,383.2 555.6,395.1 555.9,401.5 556.2,401.7 556.6,395.2 556.9,382 557.2,362.8 557.5,338.6 557.8,311.2 558.2,282.5 558.5,254.8 558.8,231 559.1,213.5 559.4,204.9 559.7,206.8 560.1,220.2 560.4,244.8 560.7,279.5 561,322.6 561.3,371.8 561.7,425.1 562,480.4 562.3,535.9 562.6,590.2 562.9,642 563.2,690.4 563.6,734.8 563.9,774.7 564.2,810 564.5,840.8 564.8,867.2 565.2,889.6 565.5,908.3 565.8,923.8 566.1,936.4 566.4,946.7 566.7,955.1 567.1,961.8 567.4,967.3 567.7,971.7 568,975.4 568.3,978.4 568.7,981 569,983.1 569.3,985 569.6,986.6 569.9,988.1 570.2,989.4 570.6,990.6 570.9,991.7 571.2,992.7 571.5,993.6 571.8,994.5 572.2,995.3 572.5,996 572.8,996.7 573.1,997.4 573.4,998 573.8,998.6 574.1,999.1 574.4,999.6 574.7,1000.1 575,1000.6 575.3,1001 575.7,1001.4 576,1001.8 576.3,1002.2 576.6,1002.5 576.9,1002.9 577.3,1003.2 577.6,1003.5 577.9,1003.8 578.2,1004.1 578.5,1004.3 578.8,1004.6 579.2,1004.8 579.5,1005.1 579.8,1005.3 580.1,1005.5 580.4,1005.7 580.8,1005.9 581.1,1006.1 581.4,1006.2 581.7,1006.4 582,1006.6 582.3,1006.7 582.7,1006.9 583,1007 583.3,1007.2 583.6,1007.3 583.9,1007.4 584.3,1007.6 584.6,1007.7 584.9,1007.8 585.2,1007.9 585.5,1008 585.8,1008.1 586.2,1008.2 586.5,1008.3 586.8,1008.4 587.1,1008.5 587.4,1008.6 587.8,1008.7 588.1,1008.8 588.4,1008.9 588.7,1009 589,1009 589.3,1009.1 589.7,1009.2 590,1009.3 590.3,1009.3 590.6,1009.4 590.9,1009.5 591.3,1009.5 591.6,1009.6 591.9,1009.6 592.2,1009.7 592.5,1009.8 592.8,1009.8 593.2,1009.9 593.5,1009.9 593.8,1010 594.1,1010 594.4,1010.1 594.8,1010.1 595.1,1010.2 595.4,1010.2 595.7,1010.2 596,1010.3 596.3,1010.3 596.7,1010.4 597,1010.4 597.3,1010.4 597.6,1010.5 597.9,1010.5 598.3,1010.6 598.6,1010.6 598.9,1010.6 599.2,1010.7 599.5,1010.7 599.8,1010.7 600.2,1010.8 600.5,1010.8 600.8,1010.8 601.1,1010.8 601.4,1010.9 601.8,1010.9 602.1,1010.9 602.4,1011 602.7,1011 603,1011 603.3,1011 603.7,1011.1 604,1011.1 604.3,1011.1 604.6,1011.1 604.9,1011.1 605.3,1011.2 605.6,1011.2 605.9,1011.2 606.2,1011.2 606.5,1011.3 606.8,1011.3 607.2,1011.3 607.5,1011.3 607.8,1011.3 608.1,1011.4 608.4,1011.4 608.8,1011.4 609.1,1011.4 609.4,1011.4 609.7,1011.4 610,1011.5 610.3,1011.5 610.7,1011.5 611,1011.5 611.3,1011.5 611.6,1011.5 611.9,1011.6 612.3,1011.6 612.6,1011.6 612.9,1011.6 613.2,1011.6 613.5,1011.6 613.8,1011.6 614.2,1011.7 614.5,1011.7 614.8,1011.7 615.1,1011.7 615.4,1011.7 615.8,1011.7 616.1,1011.7 616.4,1011.7 616.7,1011.8 617,1011.8 617.3,1011.8 617.7,1011.8 618,1011.8 618.3,1011.8 618.6,1011.8 618.9,1011.8 619.3,1011.8 619.6,1011.9 619.9,1011.9 620.2,1011.9 620.5,1011.9 620.8,1011.9 621.2,1011.9 621.5,1011.9 621.8,1011.9 622.1,1011.9 622.4,1011.9 622.8,1012 623.1,1012 623.4,1012 623.7,1012 624,1012 624.3,1012 624.7,1012 625,1012 625.3,1012 625.6,1012 625.9,1012 626.3,1012 626.6,1012.1 626.9,1012.1 627.2,1012.1 627.5,1012.1 627.8,1012.1 628.2,1012.1 628.5,1012.1 628.8,1012.1 629.1,1012.1 629.4,1012.1 629.8,1012.1 630.1,1012.1 630.4,1012.1 630.7,1012.1 631,1012.1 631.3,1012.2 631.7,1012.2 632,1012.2 632.3,1012.2 632.6,1012.2 632.9,1012.2 633.3,1012.2 633.6,1012.2 633.9,1012.2 634.2,1012.2 634.5,1012.2 634.8,1012.2 635.2,1012.2 635.5,1012.2 635.8,1012.2 636.1,1012.2 636.4,1012.2 636.8,1012.2 637.1,1012.3 637.4,1012.3 637.7,1012.3 638,1012.3 638.3,1012.3 638.7,1012.3 639,1012.3 639.3,1012.3 639.6,1012.3 639.9,1012.3 640.3,1012.3 640.6,1012.3 640.9,1012.3 641.2,1012.3 641.5,1012.3 641.8,1012.3 642.2,1012.3 642.5,1012.3 642.8,1012.3 643.1,1012.3 643.4,1012.3 643.8,1012.3 644.1,1012.4 644.4,1012.4 644.7,1012.4 645,1012.4 645.3,1012.4 645.7,1012.4 646,1012.4 646.3,1012.4 646.6,1012.4 646.9,1012.4 647.3,1012.4 647.6,1012.4 647.9,1012.4 648.2,1012.4 648.5,1012.4 648.8,1012.4 649.2,1012.4 649.5,1012.4 649.8,1012.4 650.1,1012.4 650.4,1012.4 650.8,1012.4 651.1,1012.4 651.4,1012.4 651.7,1012.4 652,1012.4 652.3,1012.4 652.7,1012.4 653,1012.4 653.3,1012.4 653.6,1012.5 653.9,1012.5 654.3,1012.5 654.6,1012.5 654.9,1012.5 655.2,1012.5 655.5,1012.5 655.8,1012.5 656.2,1012.5 656.5,1012.5 656.8,1012.5 657.1,1012.5 657.4,1012.5 657.8,1012.5 658.1,1012.5 658.4,1012.5 658.7,1012.5 659,1012.5 659.3,1012.5 659.7,1012.5 660,1012.5 660.3,1012.5 660.6,1012.5 660.9,1012.5 661.3,1012.5 661.6,1012.5 661.9,1012.5 662.2,1012.5 662.5,1012.5 662.8,1012.5 663.2,1012.5 663.5,1012.5 663.8,1012.5 664.1,1012.5 664.4,1012.5 664.8,1012.5 665.1,1012.5 665.4,1012.5 665.7,1012.5 666,1012.5 666.3,1012.5 666.7,1012.5 667,1012.5 667.3,1012.6 667.6,1012.6 667.9,1012.6 668.3,1012.6 668.6,1012.6 668.9,1012.6 669.2,1012.6 669.5,1012.6 669.8,1012.6 670.2,1012.6 670.5,1012.6 670.8,1012.6 671.1,1012.6 671.4,1012.6 671.8,1012.6 672.1,1012.6 672.4,1012.6 672.7,1012.6 673,1012.6 673.3,1012.6 673.7,1012.6 674,1012.6 674.3,1012.6 674.6,1012.6 674.9,1012.6 675.3,1012.6 675.6,1012.6 675.9,1012.6 676.2,1012.6 676.5,1012.6 676.8,1012.6 677.2,1012.6 677.5,1012.6 677.8,1012.6 678.1,1012.6 678.4,1012.6 678.8,1012.6 679.1,1012.6 679.4,1012.6 679.7,1012.6 680,1012.6 680.3,1012.6 680.7,1012.6 681,1012.6 681.3,1012.6 681.6,1012.6 681.9,1012.6 682.3,1012.6 682.6,1012.6 682.9,1012.6 683.2,1012.6 683.5,1012.6 683.8,1012.6 684.2,1012.6 684.5,1012.6 684.8,1012.6 685.1,1012.6 685.4,1012.6 685.8,1012.6 686.1,1012.6 686.4,1012.6 686.7,1012.6 687,1012.6 687.3,1012.6 687.7,1012.6 688,1012.6 688.3,1012.6 688.6,1012.6 688.9,1012.6 689.3,1012.6 689.6,1012.6 689.9,1012.6 690.2,1012.6 690.5,1012.6 690.8,1012.6 691.2,1012.6 691.5,1012.6 691.8,1012.6 692.1,1012.6 692.4,1012.6 692.8,1012.6 693.1,1012.6 693.4,1012.6 693.7,1012.6 694,1012.6 694.3,1012.6 694.7,1012.6 695,1012.6 695.3,1012.6 695.6,1012.6 695.9,1012.6 696.3,1012.6 696.6,1012.6 696.9,1012.6 697.2,1012.6 697.5,1012.6 697.8,1012.6 698.2,1012.6 698.5,1012.6 698.8,1012.6 699.1,1012.6 699.4,1012.6 699.8,1012.6 700.1,1012.6 700.4,1012.6 700.7,1012.6 701,1012.6 701.3,1012.6 701.7,1012.6 702,1012.6 702.3,1012.6 702.6,1012.6 702.9,1012.6 703.3,1012.6 703.6,1012.6 703.9,1012.6 704.2,1012.6 704.5,1012.6 704.8,1012.6 705.2,1012.6 705.5,1012.6 705.8,1012.6 706.1,1012.6 706.4,1012.6 706.8,1012.6 707.1,1012.6 707.4,1012.6 707.7,1012.6 708,1012.6 708.3,1012.6 708.7,1012.6 709,1012.6 709.3,1012.6 709.6,1012.6 709.9,1012.6 710.3,1012.6 710.6,1012.6 710.9,1012.6 711.2,1012.6 711.5,1012.6 711.8,1012.6 712.2,1012.6 712.5,1012.6 712.8,1012.6 713.1,1012.6 713.4,1012.6 713.8,1012.6 714.1,1012.6 714.4,1012.6 714.7,1012.6 715,1012.6 715.3,1012.6 715.7,1012.6 716,1012.6 716.3,1012.6 716.6,1012.6 716.9,1012.6 717.3,1012.6 717.6,1012.6 717.9,1012.6 718.2,1012.5 718.5,1012.5 718.8,1012.5 719.2,1012.5 719.5,1012.5 719.8,1012.5 720.1,1012.5 720.4,1012.5 720.8,1012.5 721.1,1012.5 721.4,1012.5 721.7,1012.5 722,1012.5 722.3,1012.5 722.7,1012.5 723,1012.5 723.3,1012.4 723.6,1012.4 723.9,1012.4 724.3,1012.4 724.6,1012.4 724.9,1012.4 725.2,1012.4 725.5,1012.4 725.8,1012.3 726.2,1012.3 726.5,1012.3 726.8,1012.3 727.1,1012.3 727.4,1012.2 727.8,1012.2 728.1,1012.2 728.4,1012.1 728.7,1012.1 729,1012.1 729.3,1012 729.7,1011.9 730,1011.8 730.3,1011.7 730.6,1011.6 730.9,1011.5 731.3,1011.3 731.6,1011.2 731.9,1010.9 732.2,1010.7 732.5,1010.4 732.9,1010.1 733.2,1009.7 733.5,1009.3 733.8,1008.9 734.1,1008.4 734.4,1007.9 734.8,1007.3 735.1,1006.7 735.4,1006 735.7,1005.4 736,1004.7 736.4,1004 736.7,1003.4 737,1002.7 737.3,1002.1 737.6,1001.5 737.9,1001 738.3,1000.6 738.6,1000.3 738.9,1000.1 739.2,1000.1 739.5,1000.1 739.9,1000.3 740.2,1000.6 740.5,1001 740.8,1001.5 741.1,1002 741.4,1002.7 741.8,1003.3 742.1,1004 742.4,1004.6 742.7,1005.3 743,1006 743.4,1006.6 743.7,1007.2 744,1007.8 744.3,1008.3 744.6,1008.8 744.9,1009.2 745.3,1009.6 745.6,1010 745.9,1010.3 746.2,1010.5 746.5,1010.8 746.9,1011 747.2,1011.2 747.5,1011.3 747.8,1011.4 748.1,1011.5 748.4,1011.6 748.8,1011.7 749.1,1011.8 749.4,1011.8 749.7,1011.9 750,1011.9 750.4,1011.9 750.7,1012 751,1012 751.3,1012 751.6,1012 751.9,1012 752.3,1012 752.6,1012 752.9,1012 753.2,1012 753.5,1012 753.9,1012 754.2,1012 754.5,1012 754.8,1012 755.1,1012 755.4,1012 755.8,1012 756.1,1012 756.4,1012 756.7,1012 757,1012 757.4,1012 757.7,1012 758,1012 758.3,1012 758.6,1012 758.9,1011.9 759.3,1011.9 759.6,1011.9 759.9,1011.9 760.2,1011.9 760.5,1011.9 760.9,1011.9 761.2,1011.9 761.5,1011.8 761.8,1011.8 762.1,1011.8 762.4,1011.8 762.8,1011.8 763.1,1011.7 763.4,1011.7 763.7,1011.7 764,1011.7 764.4,1011.7 764.7,1011.6 765,1011.6 765.3,1011.6 765.6,1011.5 765.9,1011.5 766.3,1011.5 766.6,1011.4 766.9,1011.4 767.2,1011.4 767.5,1011.3 767.9,1011.3 768.2,1011.3 768.5,1011.2 768.8,1011.2 769.1,1011.1 769.4,1011.1 769.8,1011 770.1,1011 770.4,1010.9 770.7,1010.9 771,1010.8 771.4,1010.7 771.7,1010.7 772,1010.6 772.3,1010.5 772.6,1010.4 772.9,1010.3 773.3,1010.3 773.6,1010.2 773.9,1010.1 774.2,1009.9 774.5,1009.8 774.9,1009.7 775.2,1009.5 775.5,1009.4 775.8,1009.2 776.1,1009 776.4,1008.8 776.8,1008.6 777.1,1008.3 777.4,1007.9 777.7,1007.5 778,1007.1 778.4,1006.5 778.7,1005.8 779,1005 779.3,1004.1 779.6,1003 779.9,1001.7 780.3,1000.2 780.6,998.4 780.9,996.4 781.2,994.2 781.5,991.6 781.9,988.8 782.2,985.7 782.5,982.4 782.8,978.9 783.1,975.1 783.4,971.3 783.8,967.4 784.1,963.5 784.4,959.7 784.7,956.2 785,953 785.4,950.2 785.7,948 786,946.5 786.3,945.6 786.6,945.5 786.9,946 787.3,947.1 787.6,948.7 787.9,950.6 788.2,952.6 788.5,954.6 788.9,956.5 789.2,958 789.5,958.9 789.8,959.3 790.1,958.9 790.4,957.5 790.8,955.1 791.1,951.6 791.4,946.9 791.7,941 792,933.8 792.4,925.3 792.7,915.6 793,904.8 793.3,893 793.6,880.5 793.9,867.3 794.3,853.9 794.6,840.6 794.9,827.6 795.2,815.6 795.5,804.8 795.9,795.9 796.2,789.1 796.5,785 796.8,783.7 797.1,785.2 797.4,789.7 797.8,796.7 798.1,806 798.4,817.1 798.7,829.5 799,842.9 799.4,856.8 799.7,870.9 800,884.8 800.3,898.2 800.6,911.1 800.9,923.1 801.3,934.2 801.6,944.4 801.9,953.5 802.2,961.6 802.5,968.8 802.9,975 803.2,980.3 803.5,984.9 803.8,988.7 804.1,992 804.4,994.7 804.8,996.9 805.1,998.8 805.4,1000.3 805.7,1001.6 806,1002.6 806.4,1003.5 806.7,1004.2 807,1004.9 807.3,1005.4 807.6,1005.9 807.9,1006.3 808.3,1006.7 808.6,1007 808.9,1007.3 809.2,1007.6 809.5,1007.8 809.9,1008.1 810.2,1008.3 810.5,1008.5 810.8,1008.7 811.1,1008.8 811.4,1009 811.8,1009.2 812.1,1009.3 812.4,1009.5 812.7,1009.6 813,1009.7 813.4,1009.8 813.7,1009.9 814,1010 814.3,1010.1 814.6,1010.2 814.9,1010.3 815.3,1010.4 815.6,1010.5 815.9,1010.6 816.2,1010.7 816.5,1010.7 816.9,1010.8 817.2,1010.9 817.5,1010.9 817.8,1011 818.1,1011 818.4,1011.1 818.8,1011.2 819.1,1011.2 819.4,1011.3 819.7,1011.3 820,1011.3 820.4,1011.4 820.7,1011.4 821,1011.5 821.3,1011.5 821.6,1011.6 821.9,1011.6 822.3,1011.6 822.6,1011.7 822.9,1011.7 823.2,1011.7 823.5,1011.8 823.9,1011.8 824.2,1011.8 824.5,1011.8 824.8,1011.9 825.1,1011.9 825.4,1011.9 825.8,1011.9 826.1,1012 826.4,1012 826.7,1012 827,1012 827.4,1012.1 827.7,1012.1 828,1012.1 828.3,1012.1 828.6,1012.1 828.9,1012.1 829.3,1012.2 829.6,1012.2 829.9,1012.2 830.2,1012.2 830.5,1012.2 830.9,1012.2 831.2,1012.3 831.5,1012.3 831.8,1012.3 832.1,1012.3 832.4,1012.3 832.8,1012.3 833.1,1012.3 833.4,1012.4 833.7,1012.4 834,1012.4 834.4,1012.4 834.7,1012.4 835,1012.4 835.3,1012.4 835.6,1012.4 835.9,1012.4 836.3,1012.5 836.6,1012.5 836.9,1012.5 837.2,1012.5 837.5,1012.5 837.9,1012.5 838.2,1012.5 838.5,1012.5 838.8,1012.5 839.1,1012.5 839.4,1012.5 839.8,1012.6 840.1,1012.6 840.4,1012.6 840.7,1012.6 841,1012.6 841.4,1012.6 841.7,1012.6 842,1012.6 842.3,1012.6 842.6,1012.6 842.9,1012.6 843.3,1012.6 843.6,1012.6 843.9,1012.6 844.2,1012.7 844.5,1012.7 844.9,1012.7 845.2,1012.7 845.5,1012.7 845.8,1012.7 846.1,1012.7 846.4,1012.7 846.8,1012.7 847.1,1012.7 847.4,1012.7 847.7,1012.7 848,1012.7 848.4,1012.7 848.7,1012.7 849,1012.7 849.3,1012.7 849.6,1012.7 849.9,1012.7 850.3,1012.7 850.6,1012.8 850.9,1012.8 851.2,1012.8 851.5,1012.8 851.9,1012.8 852.2,1012.8 852.5,1012.8 852.8,1012.8 853.1,1012.8 853.4,1012.8 853.8,1012.8 854.1,1012.8 854.4,1012.8 854.7,1012.8 855,1012.8 855.4,1012.8 855.7,1012.8 856,1012.8 856.3,1012.8 856.6,1012.8 856.9,1012.8 857.3,1012.8 857.6,1012.8 857.9,1012.8 858.2,1012.8 858.5,1012.8 858.9,1012.8 859.2,1012.8 859.5,1012.8 859.8,1012.8 860.1,1012.9 860.4,1012.9 860.8,1012.9 861.1,1012.9 861.4,1012.9 861.7,1012.9 862,1012.9 862.4,1012.9 862.7,1012.9 863,1012.9 863.3,1012.9 863.6,1012.9 863.9,1012.9 864.3,1012.9 864.6,1012.9 864.9,1012.9 865.2,1012.9 865.5,1012.9 865.9,1012.9 866.2,1012.9 866.5,1012.9 866.8,1012.9 867.1,1012.9 867.4,1012.9 867.8,1012.9 868.1,1012.9 868.4,1012.9 868.7,1012.9 869,1012.9 869.4,1012.9 869.7,1012.9 870,1012.9 870.3,1012.9 870.6,1012.9 870.9,1012.9 871.3,1012.9 871.6,1012.9 871.9,1012.9 872.2,1012.9 872.5,1012.9 872.9,1012.9 873.2,1012.9 873.5,1012.9 873.8,1012.9 874.1,1012.9 874.4,1012.9 874.8,1012.9 875.1,1012.9 875.4,1012.9 875.7,1012.9 876,1012.9 876.4,1012.9 876.7,1012.9 877,1012.9 877.3,1012.9 877.6,1013 877.9,1013 878.3,1013 878.6,1013 878.9,1013 879.2,1013 879.5,1013 879.9,1013 880.2,1013 880.5,1013 880.8,1013 881.1,1013 881.4,1013 881.8,1013 882.1,1013 882.4,1013 882.7,1013 883,1013 883.4,1013 883.7,1013 884,1013 884.3,1013 884.6,1013 884.9,1013 885.3,1013 885.6,1013 885.9,1013 886.2,1013 886.5,1013 886.9,1013 887.2,1013 887.5,1013 887.8,1013 888.1,1013 888.4,1013 888.8,1013 889.1,1013 889.4,1013 889.7,1013 890,1013 890.4,1013 890.7,1013 891,1013 891.3,1013 891.6,1013 892,1013 892.3,1013 892.6,1013 892.9,1013 893.2,1013 893.5,1013 893.9,1013 894.2,1013 894.5,1013 894.8,1013 895.1,1013 895.5,1013 895.8,1013 896.1,1013 896.4,1013 896.7,1013 897,1013 897.4,1013 897.7,1013 898,1013 898.3,1013 898.6,1013 899,1013 899.3,1013 899.6,1013 899.9,1013 900.2,1013 900.5,1013 900.9,1013 901.2,1013 901.5,1013 901.8,1013 902.1,1013 902.5,1013 902.8,1013 903.1,1013 903.4,1013 903.7,1013 904,1013 904.4,1013 904.7,1013 905,1013 905.3,1013 905.6,1013 906,1013 906.3,1013 906.6,1013 906.9,1013 907.2,1013 907.5,1013 907.9,1013 908.2,1013 908.5,1013 908.8,1013 909.1,1013 909.5,1013 909.8,1013 910.1,1013 910.4,1013 910.7,1013 911,1013 911.4,1013 911.7,1013 912,1013 912.3,1013 912.6,1013 913,1013 913.3,1013 913.6,1013 913.9,1013 914.2,1013 914.5,1013 914.9,1013 915.2,1013 915.5,1013 915.8,1013 916.1,1013 916.5,1013 916.8,1013 917.1,1013 917.4,1013 917.7,1013 918,1013 918.4,1013 918.7,1013 919,1013 919.3,1013 919.6,1013 920,1013 920.3,1013 920.6,1013 920.9,1013 921.2,1013 921.5,1013 921.9,1013 922.2,1013 922.5,1013 922.8,1013 923.1,1013 923.5,1013 923.8,1013 924.1,1013 924.4,1013 924.7,1013 925,1013 925.4,1013 925.7,1013 926,1012.9 926.3,1012.9 926.6,1012.9 927,1012.9 927.3,1012.9 927.6,1012.9 927.9,1012.9 928.2,1012.9 928.5,1012.9 928.9,1012.9 929.2,1012.9 929.5,1012.9 929.8,1012.9 930.1,1012.9 930.5,1012.9 930.8,1012.9 931.1,1012.9 931.4,1012.9 931.7,1012.9 932,1012.9 932.4,1012.9 932.7,1012.9 933,1012.9 933.3,1012.9 933.6,1012.9 934,1012.9 934.3,1012.9 934.6,1012.9 934.9,1012.9 935.2,1012.9 935.5,1012.9 935.9,1012.9 936.2,1012.9 936.5,1012.9 936.8,1012.9 937.1,1012.9 937.5,1012.9 937.8,1012.9 938.1,1012.9 938.4,1012.9 938.7,1012.9 939,1012.9 939.4,1012.8 939.7,1012.8 940,1012.8 940.3,1012.8 940.6,1012.8 941,1012.8 941.3,1012.8 941.6,1012.8 941.9,1012.8 942.2,1012.8 942.5,1012.8 942.9,1012.8 943.2,1012.8 943.5,1012.8 943.8,1012.8 944.1,1012.8 944.5,1012.8 944.8,1012.8 945.1,1012.8 945.4,1012.8 945.7,1012.8 946,1012.8 946.4,1012.8 946.7,1012.7 947,1012.7 947.3,1012.7 947.6,1012.7 948,1012.7 948.3,1012.7 948.6,1012.7 948.9,1012.7 949.2,1012.7 949.5,1012.7 949.9,1012.7 950.2,1012.7 950.5,1012.7 950.8,1012.7 951.1,1012.7 951.5,1012.6 951.8,1012.6 952.1,1012.6 952.4,1012.6 952.7,1012.6 953,1012.6 953.4,1012.6 953.7,1012.6 954,1012.6 954.3,1012.6 954.6,1012.6 955,1012.6 955.3,1012.5 955.6,1012.5 955.9,1012.5 956.2,1012.5 956.5,1012.5 956.9,1012.5 957.2,1012.5 957.5,1012.5 957.8,1012.5 958.1,1012.4 958.5,1012.4 958.8,1012.4 959.1,1012.4 959.4,1012.4 959.7,1012.4 960,1012.4 960.4,1012.4 960.7,1012.3 961,1012.3 961.3,1012.3 961.6,1012.3 962,1012.3 962.3,1012.3 962.6,1012.2 962.9,1012.2 963.2,1012.2 963.5,1012.2 963.9,1012.2 964.2,1012.1 964.5,1012.1 964.8,1012.1 965.1,1012.1 965.5,1012.1 965.8,1012 966.1,1012 966.4,1012 966.7,1012 967,1011.9 967.4,1011.9 967.7,1011.9 968,1011.8 968.3,1011.8 968.6,1011.8 969,1011.8 969.3,1011.7 969.6,1011.7 969.9,1011.7 970.2,1011.6 970.5,1011.6 970.9,1011.5 971.2,1011.5 971.5,1011.5 971.8,1011.4 972.1,1011.4 972.5,1011.3 972.8,1011.3 973.1,1011.2 973.4,1011.2 973.7,1011.1 974,1011.1 974.4,1011 974.7,1011 975,1010.9 975.3,1010.8 975.6,1010.8 976,1010.7 976.3,1010.6 976.6,1010.5 976.9,1010.5 977.2,1010.4 977.5,1010.3 977.9,1010.2 978.2,1010.1 978.5,1010 978.8,1009.9 979.1,1009.8 979.5,1009.7 979.8,1009.6 980.1,1009.5 980.4,1009.3 980.7,1009.2 981,1009 981.4,1008.9 981.7,1008.7 982,1008.6 982.3,1008.4 982.6,1008.2 983,1008 983.3,1007.7 983.6,1007.5 983.9,1007.2 984.2,1007 984.5,1006.7 984.9,1006.3 985.2,1005.9 985.5,1005.5 985.8,1005 986.1,1004.5 986.5,1003.9 986.8,1003.2 987.1,1002.3 987.4,1001.4 987.7,1000.2 988,998.9 988.4,997.4 988.7,995.6 989,993.5 989.3,991.1 989.6,988.3 990,985 990.3,981.3 990.6,977 990.9,972.2 991.2,966.7 991.5,960.6 991.9,953.7 992.2,946.2 992.5,938 992.8,929 993.1,919.4 993.5,909.1 993.8,898.2 994.1,886.9 994.4,875.2 994.7,863.2 995,851 995.4,839 995.7,827.3 996,816 996.3,805.5 996.6,796 997,787.8 997.3,781 997.6,776 997.9,773 998.2,771.9 998.5,773 998.9,776 999.2,781 999.5,787.8 999.8,796 1000.1,805.5 1000.5,816 1000.8,827.3 1001.1,839 1001.4,851.1 1001.7,863.2 1002,875.2 1002.4,886.9 1002.7,898.3 1003,909.1 1003.3,919.4 1003.6,929 1004,938 1004.3,946.2 1004.6,953.8 1004.9,960.6 1005.2,966.7 1005.5,972.2 1005.9,977 1006.2,981.3 1006.5,985 1006.8,988.3 1007.1,991.1 1007.5,993.5 1007.8,995.6 1008.1,997.4 1008.4,999 1008.7,1000.3 1009,1001.4 1009.4,1002.4 1009.7,1003.2 1010,1003.9 1010.3,1004.5 1010.6,1005.1 1011,1005.5 1011.3,1006 1011.6,1006.4 1011.9,1006.7 1012.2,1007 1012.5,1007.3 1012.9,1007.5 1013.2,1007.8 1013.5,1008 1013.8,1008.2 1014.1,1008.4 1014.5,1008.6 1014.8,1008.8 1015.1,1008.9 1015.4,1009.1 1015.7,1009.2 1016,1009.4 1016.4,1009.5 1016.7,1009.6 1017,1009.7 1017.3,1009.9 1017.6,1010 1018,1010.1 1018.3,1010.2 1018.6,1010.3 1018.9,1010.3 1019.2,1010.4 1019.5,1010.5 1019.9,1010.6 1020.2,1010.7 1020.5,1010.7 1020.8,1010.8 1021.1,1010.9 1021.5,1011 1021.8,1011 1022.1,1011.1 1022.4,1011.1 1022.7,1011.2 1023,1011.2 1023.4,1011.3 1023.7,1011.3 1024,1011.4 1024.3,1011.4 1024.6,1011.5 1025,1011.5 1025.3,1011.6 1025.6,1011.6 1025.9,1011.6 1026.2,1011.7 1026.5,1011.7 1026.9,1011.8 1027.2,1011.8 1027.5,1011.8 1027.8,1011.9 1028.1,1011.9 1028.5,1011.9 1028.8,1011.9 1029.1,1012 1029.4,1012 1029.7,1012 1030,1012.1 1030.4,1012.1 1030.7,1012.1 1031,1012.1 1031.3,1012.2 1031.6,1012.2 1032,1012.2 1032.3,1012.2 1032.6,1012.2 1032.9,1012.3 1033.2,1012.3 1033.5,1012.3 1033.9,1012.3 1034.2,1012.3 1034.5,1012.4 1034.8,1012.4 1035.1,1012.4 1035.5,1012.4 1035.8,1012.4 1036.1,1012.4 1036.4,1012.5 1036.7,1012.5 1037,1012.5 1037.4,1012.5 1037.7,1012.5 1038,1012.5 1038.3,1012.5 1038.6,1012.5 1039,1012.6 1039.3,1012.6 1039.6,1012.6 1039.9,1012.6 1040.2,1012.6 1040.5,1012.6 1040.9,1012.6 1041.2,1012.6 1041.5,1012.7 1041.8,1012.7 1042.1,1012.7 1042.5,1012.7 1042.8,1012.7 1043.1,1012.7 1043.4,1012.7 1043.7,1012.7 1044,1012.7 1044.4,1012.7 1044.7,1012.7 1045,1012.8 1045.3,1012.8 1045.6,1012.8 1046,1012.8 1046.3,1012.8 1046.6,1012.8 1046.9,1012.8 1047.2,1012.8 1047.5,1012.8 1047.9,1012.8 1048.2,1012.8 1048.5,1012.8 1048.8,1012.8 1049.1,1012.8 1049.5,1012.9 1049.8,1012.9 1050.1,1012.9 1050.4,1012.9 1050.7,1012.9 1051.1,1012.9 1051.4,1012.9 1051.7,1012.9 1052,1012.9 1052.3,1012.9 1052.6,1012.9 1053,1012.9 1053.3,1012.9 1053.6,1012.9 1053.9,1012.9 1054.2,1012.9 1054.6,1012.9 1054.9,1012.9 1055.2,1012.9 1055.5,1013 1055.8,1013 1056.1,1013 1056.5,1013 1056.8,1013 1057.1,1013 1057.4,1013 1057.7,1013 1058.1,1013 1058.4,1013 1058.7,1013 1059,1013 1059.3,1013 1059.6,1013 1060,1013 1060.3,1013 1060.6,1013 1060.9,1013 1061.2,1013 1061.6,1013 1061.9,1013 1062.2,1013 1062.5,1013 1062.8,1013 1063.1,1013 1063.5,1013 1063.8,1013 1064.1,1013 1064.4,1013.1 1064.7,1013.1 1065.1,1013.1 1065.4,1013.1 1065.7,1013.1 1066,1013.1 1066.3,1013.1 1066.6,1013.1 1067,1013.1 1067.3,1013.1 1067.6,1013.1 1067.9,1013.1 1068.2,1013.1 1068.6,1013.1 1068.9,1013.1 1069.2,1013.1 1069.5,1013.1 1069.8,1013.1 1070.1,1013.1 1070.5,1013.1 1070.8,1013.1 1071.1,1013.1 1071.4,1013.1 1071.7,1013.1 1072.1,1013.1 1072.4,1013.1 1072.7,1013.1 1073,1013.1 1073.3,1013.1 1073.6,1013.1 1074,1013.1 1074.3,1013.1 1074.6,1013.1 1074.9,1013.1 1075.2,1013.1 1075.6,1013.1 1075.9,1013.1 1076.2,1013.1 1076.5,1013.1 1076.8,1013.1 1077.1,1013.1 1077.5,1013.1 1077.8,1013.1 1078.1,1013.1 1078.4,1013.1 1078.7,1013.1 1079.1,1013.1 1079.4,1013.1 1079.7,1013.1 1080,1013.1 1080.3,1013.1 1080.6,1013.1 1081,1013.1 1081.3,1013.1 1081.6,1013.1 1081.9,1013.1 1082.2,1013.1 1082.6,1013.1 1082.9,1013.1 1083.2,1013.1 1083.5,1013.1 1083.8,1013.1 1084.1,1013.1 1084.5,1013.1 1084.8,1013.1 1085.1,1013.1 1085.4,1013.1 1085.7,1013.1 1086.1,1013.1 1086.4,1013.1 1086.7,1013.1 1087,1013.1 1087.3,1013.1 1087.6,1013.1 1088,1013.1 1088.3,1013.1 1088.6,1013.1 1088.9,1013.1 1089.2,1013.1 1089.6,1013.1 1089.9,1013.1 1090.2,1013.1 1090.5,1013.1 1090.8,1013.1 1091.1,1013.1 1091.5,1013.1 1091.8,1013.1 1092.1,1013.1 1092.4,1013.1 1092.7,1013.1 1093.1,1013.1 1093.4,1013.1 1093.7,1013.1 1094,1013.1 1094.3,1013.1 1094.6,1013.1 1095,1013.1 1095.3,1013.1 1095.6,1013.1 1095.9,1013.1 1096.2,1013.1 1096.6,1013.1 1096.9,1013.1 1097.2,1013.1 1097.5,1013.1 1097.8,1013.1 1098.1,1013.1 1098.5,1013.1 1098.8,1013.1 1099.1,1013.1 1099.4,1013.1 1099.7,1013.1 1100.1,1013.1 1100.4,1013.1 1100.7,1013 1101,1013 1101.3,1013 1101.6,1013 1102,1013 1102.3,1013 1102.6,1013 1102.9,1013 1103.2,1013 1103.6,1013 1103.9,1012.9 1104.2,1012.9 1104.5,1012.9 1104.8,1012.9 1105.1,1012.8 1105.5,1012.8 1105.8,1012.7 1106.1,1012.7 1106.4,1012.6 1106.7,1012.6 1107.1,1012.5 1107.4,1012.4 1107.7,1012.3 1108,1012.2 1108.3,1012.1 1108.6,1012 1109,1011.9 1109.3,1011.7 1109.6,1011.6 1109.9,1011.4 1110.2,1011.3 1110.6,1011.1 1110.9,1010.9 1111.2,1010.7 1111.5,1010.5 1111.8,1010.3 1112.1,1010.1 1112.5,1009.9 1112.8,1009.7 1113.1,1009.5 1113.4,1009.3 1113.7,1009.1 1114.1,1009 1114.4,1008.8 1114.7,1008.7 1115,1008.7 1115.3,1008.6 1115.6,1008.6 1116,1008.6 1116.3,1008.7 1116.6,1008.7 1116.9,1008.8 1117.2,1009 1117.6,1009.1 1117.9,1009.3 1118.2,1009.4 1118.5,1009.6 1118.8,1009.8 1119.1,1010 1119.5,1010.2 1119.8,1010.4 1120.1,1010.6 1120.4,1010.8 1120.7,1011 1121.1,1011.2 1121.4,1011.4 1121.7,1011.5 1122,1011.7 1122.3,1011.8 1122.6,1011.9 1123,1012 1123.3,1012.1 1123.6,1012.2 1123.9,1012.3 1124.2,1012.4 1124.6,1012.5 1124.9,1012.5 1125.2,1012.6 1125.5,1012.6 1125.8,1012.6 1126.1,1012.7 1126.5,1012.7 1126.8,1012.7 1127.1,1012.8 1127.4,1012.8 1127.7,1012.8 1128.1,1012.8 1128.4,1012.8 1128.7,1012.8 1129,1012.8 1129.3,1012.8 1129.6,1012.8 1130,1012.8 1130.3,1012.8 1130.6,1012.8 1130.9,1012.8 1131.2,1012.8 1131.6,1012.8 1131.9,1012.8 1132.2,1012.8 1132.5,1012.8 1132.8,1012.8 1133.1,1012.8 1133.5,1012.8 1133.8,1012.8 1134.1,1012.8 1134.4,1012.8 1134.7,1012.8 1135.1,1012.8 1135.4,1012.8 1135.7,1012.8 1136,1012.8 1136.3,1012.8 1136.6,1012.8 1137,1012.8 1137.3,1012.7 1137.6,1012.7 1137.9,1012.7 1138.2,1012.7 1138.6,1012.7 1138.9,1012.7 1139.2,1012.7 1139.5,1012.7 1139.8,1012.7 1140.1,1012.7 1140.5,1012.7 1140.8,1012.6 1141.1,1012.6 1141.4,1012.6 1141.7,1012.6 1142.1,1012.6 1142.4,1012.6 1142.7,1012.6 1143,1012.6 1143.3,1012.5 1143.6,1012.5 1144,1012.5 1144.3,1012.5 1144.6,1012.5 1144.9,1012.5 1145.2,1012.5 1145.6,1012.4 1145.9,1012.4 1146.2,1012.4 1146.5,1012.4 1146.8,1012.4 1147.1,1012.4 1147.5,1012.3 1147.8,1012.3 1148.1,1012.3 1148.4,1012.3 1148.7,1012.2 1149.1,1012.2 1149.4,1012.2 1149.7,1012.2 1150,1012.2 1150.3,1012.1 1150.6,1012.1 1151,1012.1 1151.3,1012 1151.6,1012 1151.9,1012 1152.2,1011.9 1152.6,1011.9 1152.9,1011.9 1153.2,1011.8 1153.5,1011.8 1153.8,1011.8 1154.1,1011.7 1154.5,1011.7 1154.8,1011.6 1155.1,1011.6 1155.4,1011.6 1155.7,1011.5 1156.1,1011.5 1156.4,1011.4 1156.7,1011.4 1157,1011.3 1157.3,1011.2 1157.6,1011.2 1158,1011.1 1158.3,1011.1 1158.6,1011 1158.9,1010.9 1159.2,1010.8 1159.6,1010.8 1159.9,1010.7 1160.2,1010.6 1160.5,1010.5 1160.8,1010.4 1161.1,1010.3 1161.5,1010.2 1161.8,1010.1 1162.1,1010 1162.4,1009.9 1162.7,1009.7 1163.1,1009.6 1163.4,1009.5 1163.7,1009.3 1164,1009.1 1164.3,1009 1164.6,1008.8 1165,1008.6 1165.3,1008.3 1165.6,1008.1 1165.9,1007.8 1166.2,1007.5 1166.6,1007.1 1166.9,1006.7 1167.2,1006.3 1167.5,1005.7 1167.8,1005.1 1168.1,1004.4 1168.5,1003.6 1168.8,1002.7 1169.1,1001.6 1169.4,1000.3 1169.7,998.8 1170.1,997.1 1170.4,995.1 1170.7,992.8 1171,990.2 1171.3,987.3 1171.6,984 1172,980.3 1172.3,976.2 1172.6,971.7 1172.9,966.7 1173.2,961.3 1173.6,955.5 1173.9,949.3 1174.2,942.8 1174.5,935.9 1174.8,928.8 1175.1,921.6 1175.5,914.2 1175.8,906.9 1176.1,899.7 1176.4,892.8 1176.7,886.2 1177.1,880.2 1177.4,874.8 1177.7,870.3 1178,866.7 1178.3,864.2 1178.6,862.7 1179,862.3 1179.3,862.9 1179.6,864.5 1179.9,866.9 1180.2,870 1180.6,873.6 1180.9,877.5 1181.2,881.6 1181.5,885.6 1181.8,889.6 1182.1,893.3 1182.5,896.6 1182.8,899.5 1183.1,901.9 1183.4,903.8 1183.7,905.1 1184.1,905.9 1184.4,906.1 1184.7,905.9 1185,905.3 1185.3,904.4 1185.6,903.3 1186,902.2 1186.3,901 1186.6,900.1 1186.9,899.5 1187.2,899.3 1187.6,899.7 1187.9,900.7 1188.2,902.4 1188.5,904.7 1188.8,907.7 1189.1,911.3 1189.5,915.4 1189.8,920 1190.1,924.9 1190.4,930 1190.7,935.3 1191.1,940.7 1191.4,946 1191.7,951.3 1192,956.4 1192.3,961.4 1192.6,966.1 1193,970.6 1193.3,974.8 1193.6,978.7 1193.9,982.3 1194.2,985.6 1194.6,988.5 1194.9,991.2 1195.2,993.6 1195.5,995.7 1195.8,997.6 1196.1,999.3 1196.5,1000.7 1196.8,1002 1197.1,1003.1 1197.4,1004 1197.7,1004.8 1198.1,1005.5 1198.4,1006.1 1198.7,1006.7 1199,1007.1 1199.3,1007.5 1199.6,1007.9 1200,1008.2 1200.3,1008.5 1200.6,1008.7 1200.9,1008.9 1201.2,1009.1 1201.6,1009.3 1201.9,1009.5 1202.2,1009.6 1202.5,1009.8 1202.8,1009.9 1203.1,1010 1203.5,1010.2 1203.8,1010.3 1204.1,1010.4 1204.4,1010.5 1204.7,1010.6 1205.1,1010.7 1205.4,1010.8 1205.7,1010.8 1206,1010.9 1206.3,1011 1206.6,1011.1 1207,1011.1 1207.3,1011.2 1207.6,1011.3 1207.9,1011.3 1208.2,1011.4 1208.6,1011.4 1208.9,1011.5 1209.2,1011.5 1209.5,1011.6 1209.8,1011.6 1210.2,1011.7 1210.5,1011.7 1210.8,1011.8 1211.1,1011.8 1211.4,1011.9 1211.7,1011.9 1212.1,1011.9 1212.4,1012 1212.7,1012 1213,1012 1213.3,1012.1 1213.7,1012.1 1214,1012.1 1214.3,1012.2 1214.6,1012.2 1214.9,1012.2 1215.2,1012.2 1215.6,1012.3 1215.9,1012.3 1216.2,1012.3 1216.5,1012.3 1216.8,1012.4 1217.2,1012.4 1217.5,1012.4 1217.8,1012.4 1218.1,1012.5 1218.4,1012.5 1218.7,1012.5 1219.1,1012.5 1219.4,1012.5 1219.7,1012.5 1220,1012.6 1220.3,1012.6 1220.7,1012.6 1221,1012.6 1221.3,1012.6 1221.6,1012.6 1221.9,1012.7 1222.2,1012.7 1222.6,1012.7 1222.9,1012.7 1223.2,1012.7 1223.5,1012.7 1223.8,1012.7 1224.2,1012.8 1224.5,1012.8 1224.8,1012.8 1225.1,1012.8 1225.4,1012.8 1225.7,1012.8 1226.1,1012.8 1226.4,1012.8 1226.7,1012.8 1227,1012.9 1227.3,1012.9 1227.7,1012.9 1228,1012.9 1228.3,1012.9 1228.6,1012.9 1228.9,1012.9 1229.2,1012.9 1229.6,1012.9 1229.9,1012.9 1230.2,1012.9 1230.5,1012.9 1230.8,1013 1231.2,1013 1231.5,1013 1231.8,1013 1232.1,1013 1232.4,1013 1232.7,1013 1233.1,1013 1233.4,1013 1233.7,1013 1234,1013 1234.3,1013 1234.7,1013 1235,1013 1235.3,1013 1235.6,1013.1 1235.9,1013.1 1236.2,1013.1 1236.6,1013.1 1236.9,1013.1 1237.2,1013.1 1237.5,1013.1 1237.8,1013.1 1238.2,1013.1 1238.5,1013.1 1238.8,1013.1 1239.1,1013.1 1239.4,1013.1 1239.7,1013.1 1240.1,1013.1 1240.4,1013.1 1240.7,1013.1 1241,1013.1 1241.3,1013.1 1241.7,1013.1 1242,1013.1 1242.3,1013.1 1242.6,1013.1 1242.9,1013.2 1243.2,1013.2 1243.6,1013.2 1243.9,1013.2 1244.2,1013.2 1244.5,1013.2 1244.8,1013.2 1245.2,1013.2 1245.5,1013.2 1245.8,1013.2 1246.1,1013.2 1246.4,1013.2 1246.7,1013.2 1247.1,1013.2 1247.4,1013.2 1247.7,1013.2 1248,1013.2 1248.3,1013.2 1248.7,1013.2 1249,1013.2 1249.3,1013.2 1249.6,1013.2 1249.9,1013.2 1250.2,1013.2 1250.6,1013.2 1250.9,1013.2 1251.2,1013.2 1251.5,1013.2 1251.8,1013.2 1252.2,1013.2 1252.5,1013.2 1252.8,1013.2 1253.1,1013.2 1253.4,1013.2 1253.7,1013.2 1254.1,1013.2 1254.4,1013.2 1254.7,1013.2 1255,1013.2 1255.3,1013.2 1255.7,1013.2 1256,1013.2 1256.3,1013.2 1256.6,1013.2 1256.9,1013.2 1257.2,1013.2 1257.6,1013.2 1257.9,1013.2 1258.2,1013.2 1258.5,1013.2 1258.8,1013.2 1259.2,1013.2 1259.5,1013.2 1259.8,1013.2 1260.1,1013.2 1260.4,1013.2 1260.7,1013.2 1261.1,1013.2 1261.4,1013.2 1261.7,1013.2 1262,1013.2 1262.3,1013.2 1262.7,1013.2 1263,1013.2 1263.3,1013.2 1263.6,1013.2 1263.9,1013.2 1264.2,1013.2 1264.6,1013.2 1264.9,1013.2 1265.2,1013.2 1265.5,1013.2 1265.8,1013.2 1266.2,1013.2 1266.5,1013.2 1266.8,1013.2 1267.1,1013.2 1267.4,1013.2 1267.7,1013.2 1268.1,1013.2 1268.4,1013.2 1268.7,1013.2 1269,1013.2 1269.3,1013.2 1269.7,1013.2 1270,1013.2 1270.3,1013.2 1270.6,1013.2 1270.9,1013.2 1271.2,1013.2 1271.6,1013.2 1271.9,1013.2 1272.2,1013.2 1272.5,1013.2 1272.8,1013.2 1273.2,1013.2 1273.5,1013.2 1273.8,1013.2 1274.1,1013.2 1274.4,1013.2 1274.7,1013.2 1275.1,1013.2 1275.4,1013.2 1275.7,1013.2 1276,1013.2 1276.3,1013.2 1276.7,1013.2 1277,1013.2 1277.3,1013.2 1277.6,1013.2 1277.9,1013.2 1278.2,1013.2 1278.6,1013.2 1278.9,1013.2 1279.2,1013.2 1279.5,1013.2 1279.8,1013.2 1280.2,1013.2 1280.5,1013.2 1280.8,1013.2 1281.1,1013.2 1281.4,1013.2 1281.7,1013.2 1282.1,1013.2 1282.4,1013.2 1282.7,1013.2 1283,1013.2 1283.3,1013.2 1283.7,1013.1 1284,1013.1 1284.3,1013.1 1284.6,1013.1 1284.9,1013.1 1285.2,1013.1 1285.6,1013.1 1285.9,1013.1 1286.2,1013.1 1286.5,1013.1 1286.8,1013.1 1287.2,1013.1 1287.5,1013.1 1287.8,1013.1 1288.1,1013.1 1288.4,1013.1 1288.7,1013.1 1289.1,1013.1 1289.4,1013.1 1289.7,1013.1 1290,1013.1 1290.3,1013.1 1290.7,1013.1 1291,1013 1291.3,1013 1291.6,1013 1291.9,1013 1292.2,1013 1292.6,1013 1292.9,1013 1293.2,1013 1293.5,1013 1293.8,1013 1294.2,1013 1294.5,1013 1294.8,1013 1295.1,1013 1295.4,1013 1295.7,1013 1296.1,1012.9 1296.4,1012.9 1296.7,1012.9 1297,1012.9 1297.3,1012.9 1297.7,1012.9 1298,1012.9 1298.3,1012.9 1298.6,1012.9 1298.9,1012.9 1299.2,1012.9 1299.6,1012.9 1299.9,1012.8 1300.2,1012.8 1300.5,1012.8 1300.8,1012.8 1301.2,1012.8 1301.5,1012.8 1301.8,1012.8 1302.1,1012.8 1302.4,1012.8 1302.7,1012.7 1303.1,1012.7 1303.4,1012.7 1303.7,1012.7 1304,1012.7 1304.3,1012.7 1304.7,1012.7 1305,1012.7 1305.3,1012.6 1305.6,1012.6 1305.9,1012.6 1306.2,1012.6 1306.6,1012.6 1306.9,1012.6 1307.2,1012.6 1307.5,1012.5 1307.8,1012.5 1308.2,1012.5 1308.5,1012.5 1308.8,1012.5 1309.1,1012.5 1309.4,1012.4 1309.7,1012.4 1310.1,1012.4 1310.4,1012.4 1310.7,1012.4 1311,1012.3 1311.3,1012.3 1311.7,1012.3 1312,1012.3 1312.3,1012.2 1312.6,1012.2 1312.9,1012.2 1313.2,1012.2 1313.6,1012.1 1313.9,1012.1 1314.2,1012.1 1314.5,1012.1 1314.8,1012 1315.2,1012 1315.5,1012 1315.8,1011.9 1316.1,1011.9 1316.4,1011.9 1316.7,1011.8 1317.1,1011.8 1317.4,1011.8 1317.7,1011.7 1318,1011.7 1318.3,1011.7 1318.7,1011.6 1319,1011.6 1319.3,1011.5 1319.6,1011.5 1319.9,1011.4 1320.2,1011.4 1320.6,1011.3 1320.9,1011.3 1321.2,1011.2 1321.5,1011.2 1321.8,1011.1 1322.2,1011.1 1322.5,1011 1322.8,1010.9 1323.1,1010.9 1323.4,1010.8 1323.7,1010.7 1324.1,1010.7 1324.4,1010.6 1324.7,1010.5 1325,1010.4 1325.3,1010.3 1325.7,1010.2 1326,1010.1 1326.3,1010 1326.6,1009.9 1326.9,1009.8 1327.2,1009.6 1327.6,1009.5 1327.9,1009.4 1328.2,1009.2 1328.5,1009 1328.8,1008.8 1329.2,1008.6 1329.5,1008.4 1329.8,1008.1 1330.1,1007.8 1330.4,1007.5 1330.7,1007.1 1331.1,1006.7 1331.4,1006.2 1331.7,1005.7 1332,1005.2 1332.3,1004.5 1332.7,1003.8 1333,1003 1333.3,1002.1 1333.6,1001.1 1333.9,1000 1334.2,998.8 1334.6,997.4 1334.9,996 1335.2,994.3 1335.5,992.6 1335.8,990.7 1336.2,988.6 1336.5,986.4 1336.8,984.1 1337.1,981.6 1337.4,978.9 1337.7,976.1 1338.1,973.2 1338.4,970.2 1338.7,967.1 1339,963.9 1339.3,960.6 1339.7,957.3 1340,954 1340.3,950.8 1340.6,947.6 1340.9,944.5 1341.2,941.5 1341.6,938.7 1341.9,936.1 1342.2,933.8 1342.5,931.8 1342.8,930.2 1343.2,928.9 1343.5,927.9 1343.8,927.4 1344.1,927.3 1344.4,927.6 1344.7,928.2 1345.1,929.2 1345.4,930.5 1345.7,932 1346,933.8 1346.3,935.6 1346.7,937.6 1347,939.6 1347.3,941.6 1347.6,943.4 1347.9,945.1 1348.2,946.6 1348.6,947.9 1348.9,948.8 1349.2,949.3 1349.5,949.3 1349.8,948.9 1350.2,947.9 1350.5,946.3 1350.8,944.1 1351.1,941.2 1351.4,937.5 1351.7,933.1 1352.1,927.9 1352.4,921.9 1352.7,915.2 1353,907.7 1353.3,899.4 1353.7,890.4 1354,880.8 1354.3,870.5 1354.6,859.8 1354.9,848.7 1355.2,837.3 1355.6,825.8 1355.9,814.2 1356.2,802.9 1356.5,792 1356.8,781.6 1357.2,772 1357.5,763.4 1357.8,756.1 1358.1,750.1 1358.4,745.8 1358.7,743.2 1359.1,742.4 1359.4,743.5 1359.7,746.4 1360,751.1 1360.3,757.3 1360.7,765 1361,774 1361.3,783.9 1361.6,794.8 1361.9,806.2 1362.2,818 1362.6,830.1 1362.9,842.3 1363.2,854.4 1363.5,866.4 1363.8,878 1364.2,889.2 1364.5,899.9 1364.8,910.1 1365.1,919.7 1365.4,928.6 1365.7,937 1366.1,944.7 1366.4,951.7 1366.7,958.1 1367,963.9 1367.3,969.1 1367.7,973.8 1368,978 1368.3,981.7 1368.6,984.9 1368.9,987.8 1369.3,990.3 1369.6,992.5 1369.9,994.4 1370.2,996.1 1370.5,997.6 1370.8,998.8 1371.2,999.9 1371.5,1000.9 1371.8,1001.7 1372.1,1002.5 1372.4,1003.1 1372.8,1003.7 1373.1,1004.2 1373.4,1004.7 1373.7,1005.1 1374,1005.5 1374.3,1005.8 1374.7,1006.2 1375,1006.5 1375.3,1006.7 1375.6,1007 1375.9,1007.2 1376.3,1007.5 1376.6,1007.7 1376.9,1007.9 1377.2,1008.1 1377.5,1008.2 1377.8,1008.4 1378.2,1008.6 1378.5,1008.7 1378.8,1008.9 1379.1,1009 1379.4,1009.2 1379.8,1009.3 1380.1,1009.4 1380.4,1009.5 1380.7,1009.7 1381,1009.8 1381.3,1009.9 1381.7,1010 1382,1010.1 1382.3,1010.2 1382.6,1010.3 1382.9,1010.4 1383.3,1010.4 1383.6,1010.5 1383.9,1010.6 1384.2,1010.7 1384.5,1010.8 1384.8,1010.8 1385.2,1010.9 1385.5,1011 1385.8,1011 1386.1,1011.1 1386.4,1011.2 1386.8,1011.2 1387.1,1011.3 1387.4,1011.3 1387.7,1011.4 1388,1011.4 1388.3,1011.5 1388.7,1011.5 1389,1011.6 1389.3,1011.6 1389.6,1011.7 1389.9,1011.7 1390.3,1011.8 1390.6,1011.8 1390.9,1011.8 1391.2,1011.9 1391.5,1011.9 1391.8,1011.9 1392.2,1012 1392.5,1012 1392.8,1012.1 1393.1,1012.1 1393.4,1012.1 1393.8,1012.1 1394.1,1012.2 1394.4,1012.2 1394.7,1012.2 1395,1012.3 1395.3,1012.3 1395.7,1012.3 1396,1012.3 1396.3,1012.4 1396.6,1012.4 1396.9,1012.4 1397.3,1012.4 1397.6,1012.5 1397.9,1012.5 1398.2,1012.5 1398.5,1012.5 1398.8,1012.6 1399.2,1012.6 1399.5,1012.6 1399.8,1012.6 1400.1,1012.6 1400.4,1012.7 1400.8,1012.7 1401.1,1012.7 1401.4,1012.7 1401.7,1012.7 1402,1012.7 1402.3,1012.8 1402.7,1012.8 1403,1012.8 1403.3,1012.8 1403.6,1012.8 1403.9,1012.8 1404.3,1012.9 1404.6,1012.9 1404.9,1012.9 1405.2,1012.9 1405.5,1012.9 1405.8,1012.9 1406.2,1012.9 1406.5,1013 1406.8,1013 1407.1,1013 1407.4,1013 1407.8,1013 1408.1,1013 1408.4,1013 1408.7,1013 1409,1013.1 1409.3,1013.1 1409.7,1013.1 1410,1013.1 1410.3,1013.1 1410.6,1013.1 1410.9,1013.1 1411.3,1013.1 1411.6,1013.1 1411.9,1013.1 1412.2,1013.2 1412.5,1013.2 1412.8,1013.2 1413.2,1013.2 1413.5,1013.2 1413.8,1013.2 1414.1,1013.2 1414.4,1013.2 1414.8,1013.2 1415.1,1013.2 1415.4,1013.2 1415.7,1013.3 1416,1013.3 1416.3,1013.3 1416.7,1013.3 1417,1013.3 1417.3,1013.3 1417.6,1013.3 1417.9,1013.3 1418.3,1013.3 1418.6,1013.3 1418.9,1013.3 1419.2,1013.3 1419.5,1013.3 1419.8,1013.3 1420.2,1013.4 1420.5,1013.4 1420.8,1013.4 1421.1,1013.4 1421.4,1013.4 1421.8,1013.4 1422.1,1013.4 1422.4,1013.4 1422.7,1013.4 1423,1013.4 1423.3,1013.4 1423.7,1013.4 1424,1013.4 1424.3,1013.4 1424.6,1013.4 1424.9,1013.4 1425.3,1013.4 1425.6,1013.5 1425.9,1013.5 1426.2,1013.5 1426.5,1013.5 1426.8,1013.5 1427.2,1013.5 1427.5,1013.5 1427.8,1013.5 1428.1,1013.5 1428.4,1013.5 1428.8,1013.5 1429.1,1013.5 1429.4,1013.5 1429.7,1013.5 1430,1013.5 1430.3,1013.5 1430.7,1013.5 1431,1013.5 1431.3,1013.5 1431.6,1013.5 1431.9,1013.5 1432.3,1013.6 1432.6,1013.6 1432.9,1013.6 1433.2,1013.6 1433.5,1013.6 1433.8,1013.6 1434.2,1013.6 1434.5,1013.6 1434.8,1013.6 1435.1,1013.6 1435.4,1013.6 1435.8,1013.6 1436.1,1013.6 1436.4,1013.6 1436.7,1013.6 1437,1013.6 1437.3,1013.6 1437.7,1013.6 1438,1013.6 1438.3,1013.6 1438.6,1013.6 1438.9,1013.6 1439.3,1013.6 1439.6,1013.6 1439.9,1013.6 1440.2,1013.6 1440.5,1013.6 1440.8,1013.6 1441.2,1013.6 1441.5,1013.7 1441.8,1013.7 1442.1,1013.7 1442.4,1013.7 1442.8,1013.7 1443.1,1013.7 1443.4,1013.7 1443.7,1013.7 1444,1013.7 1444.3,1013.7 1444.7,1013.7 1445,1013.7 1445.3,1013.7 1445.6,1013.7 1445.9,1013.7 1446.3,1013.7 1446.6,1013.7 1446.9,1013.7 1447.2,1013.7 1447.5,1013.7 1447.8,1013.7 1448.2,1013.7 1448.5,1013.7 1448.8,1013.7 1449.1,1013.7 1449.4,1013.7 1449.8,1013.7 1450.1,1013.7 1450.4,1013.7 1450.7,1013.7 1451,1013.7 1451.3,1013.7 1451.7,1013.7 1452,1013.7 1452.3,1013.7 1452.6,1013.7 1452.9,1013.7 1453.3,1013.7 1453.6,1013.7 1453.9,1013.8 1454.2,1013.8 1454.5,1013.8 1454.8,1013.8 1455.2,1013.8 1455.5,1013.8 1455.8,1013.8 1456.1,1013.8 1456.4,1013.8 1456.8,1013.8 1457.1,1013.8 1457.4,1013.8 1457.7,1013.8 1458,1013.8 1458.3,1013.8 1458.7,1013.8 1459,1013.8 1459.3,1013.8 1459.6,1013.8 1459.9,1013.8 1460.3,1013.8 1460.6,1013.8 1460.9,1013.8 1461.2,1013.8 1461.5,1013.8 1461.8,1013.8 1462.2,1013.8 1462.5,1013.8 1462.8,1013.8 1463.1,1013.8 1463.4,1013.8 1463.8,1013.8 1464.1,1013.8 1464.4,1013.8 1464.7,1013.8 1465,1013.8 1465.3,1013.8 1465.7,1013.8 1466,1013.8 1466.3,1013.8 1466.6,1013.8 1466.9,1013.8 1467.3,1013.8 1467.6,1013.8 1467.9,1013.8 1468.2,1013.8 1468.5,1013.8 1468.8,1013.8 1469.2,1013.8 1469.5,1013.8 1469.8,1013.8 1470.1,1013.8 1470.4,1013.8 1470.8,1013.8 1471.1,1013.8 1471.4,1013.8 1471.7,1013.8 1472,1013.8 1472.3,1013.9 1472.7,1013.9 1473,1013.9 1473.3,1013.9 1473.6,1013.9 1473.9,1013.9 1474.3,1013.9 1474.6,1013.9 1474.9,1013.9 1475.2,1013.9 1475.5,1013.9 1475.8,1013.9 1476.2,1013.9 1476.5,1013.9 1476.8,1013.9 1477.1,1013.9 1477.4,1013.9 1477.8,1013.9 1478.1,1013.9 1478.4,1013.9 1478.7,1013.9 1479,1013.9 1479.3,1013.9 1479.7,1013.9 1480,1013.9 1480.3,1013.9 1480.6,1013.9 1480.9,1013.9 1481.3,1013.9 1481.6,1013.9 1481.9,1013.9 1482.2,1013.9 1482.5,1013.9 1482.8,1013.9 1483.2,1013.9 1483.5,1013.9 1483.8,1013.9 1484.1,1013.9 1484.4,1013.9 1484.8,1013.9 1485.1,1013.9 1485.4,1013.9 1485.7,1013.9 1486,1013.9 1486.3,1013.9 1486.7,1013.9 1487,1013.9 1487.3,1013.9 1487.6,1013.9 1487.9,1013.9 1488.3,1013.9 1488.6,1013.9 1488.9,1013.9 1489.2,1013.9 1489.5,1013.9 1489.8,1013.9 1490.2,1013.9 1490.5,1013.9 1490.8,1013.9 1491.1,1013.9 1491.4,1013.9 1491.8,1013.9 1492.1,1013.9 1492.4,1013.9 1492.7,1013.9 1493,1013.9 1493.3,1013.9 1493.7,1013.9 1494,1013.9 1494.3,1013.9 1494.6,1013.9 1494.9,1013.9 1495.3,1013.9 1495.6,1013.9 1495.9,1013.9 1496.2,1013.9 1496.5,1013.9 1496.8,1013.9 1497.2,1013.9 1497.5,1013.9 1497.8,1013.9 1498.1,1013.9 1498.4,1013.9 1498.8,1013.9 1499.1,1013.9 1499.4,1013.9 1499.7,1013.9 1500,1013.9 1500.3,1013.9 1500.7,1013.9 1501,1013.9 1501.3,1013.9 1501.6,1014 1501.9,1014 1502.3,1014 1502.6,1014 1502.9,1014 1503.2,1014 1503.5,1014 1503.8,1014 1504.2,1014 1504.5,1014 1504.8,1014 1505.1,1014 1505.4,1014 1505.8,1014 1506.1,1014 1506.4,1014 1506.7,1014 1507,1014 1507.3,1014 1507.7,1014 1508,1014 1508.3,1014 1508.6,1014 1508.9,1014 1509.3,1014 1509.6,1014 1509.9,1014 1510.2,1014 1510.5,1014 1510.8,1014 1511.2,1014 1511.5,1014 1511.8,1014 1512.1,1014 1512.4,1014 1512.8,1014 1513.1,1014 1513.4,1014 1513.7,1014 1514,1014 1514.3,1014 1514.7,1014 1515,1014 1515.3,1014 1515.6,1014 1515.9,1014 1516.3,1014 1516.6,1014 1516.9,1014 1517.2,1014 1517.5,1014 1517.8,1014 1518.2,1014 1518.5,1014 1518.8,1014 1519.1,1014 1519.4,1014 1519.8,1014 1520.1,1014 1520.4,1014 1520.7,1014 1521,1014 1521.3,1014 1521.7,1014 1522,1014 1522.3,1014 1522.6,1014 1522.9,1014 1523.3,1014 1523.6,1014 1523.9,1014 1524.2,1014 1524.5,1014 1524.8,1014 1525.2,1014 1525.5,1014 1525.8,1014 1526.1,1014 1526.4,1014 1526.8,1014 1527.1,1014 1527.4,1014 1527.7,1014 1528,1014 1528.4,1014 1528.7,1014 1529,1014 1529.3,1014 1529.6,1014 1529.9,1014 1530.3,1014 1530.6,1014 1530.9,1014 1531.2,1014 1531.5,1014 1531.9,1014 1532.2,1014 1532.5,1014 1532.8,1014 1533.1,1014 1533.4,1014 1533.8,1014 1534.1,1014 1534.4,1014 1534.7,1014 1535,1014 1535.4,1014 1535.7,1014 1536,1014 1536.3,1014 1536.6,1014 1536.9,1014 1537.3,1014 1537.6,1014 1537.9,1014 1538.2,1014 1538.5,1014 1538.9,1014 1539.2,1014 1539.5,1014 1539.8,1014 1540.1,1014 1540.4,1014 1540.8,1014 1541.1,1014 1541.4,1014 1541.7,1014 1542,1014 1542.4,1014 1542.7,1014 1543,1014 1543.3,1014 1543.6,1014 1543.9,1014 1544.3,1014 1544.6,1014 1544.9,1014 1545.2,1014 1545.5,1014 1545.9,1014 1546.2,1014 1546.5,1014 1546.8,1014 1547.1,1014 1547.4,1014 1547.8,1014 1548.1,1014 1548.4,1014 1548.7,1014 1549,1014 1549.4,1014 1549.7,1014 1550,1014 1550.3,1014 1550.6,1014 1550.9,1014 1551.3,1014 1551.6,1014 1551.9,1014 1552.2,1014 1552.5,1014 1552.9,1014 1553.2,1014 1553.5,1014 1553.8,1014 1554.1,1014 1554.4,1014 1554.8,1014 1555.1,1014 1555.4,1014 1555.7,1014 1556,1014 1556.4,1014 1556.7,1014 1557,1013.9 1557.3,1013.9 1557.6,1013.9 1557.9,1013.9 1558.3,1013.9 1558.6,1013.9 1558.9,1013.9 1559.2,1013.9 1559.5,1013.9 1559.9,1013.9 1560.2,1013.9 1560.5,1013.9 1560.8,1013.9 1561.1,1013.9 1561.4,1013.8 1561.8,1013.8 1562.1,1013.8 1562.4,1013.8 1562.7,1013.8 1563,1013.7 1563.4,1013.7 1563.7,1013.7 1564,1013.6 1564.3,1013.6 1564.6,1013.5 1564.9,1013.4 1565.3,1013.4 1565.6,1013.3 1565.9,1013.2 1566.2,1013.1 1566.5,1013 1566.9,1012.8 1567.2,1012.7 1567.5,1012.6 1567.8,1012.4 1568.1,1012.2 1568.4,1012 1568.8,1011.8 1569.1,1011.6 1569.4,1011.4 1569.7,1011.2 1570,1011 1570.4,1010.8 1570.7,1010.6 1571,1010.4 1571.3,1010.2 1571.6,1010 1571.9,1009.8 1572.3,1009.6 1572.6,1009.5 1572.9,1009.4 1573.2,1009.3 1573.5,1009.2 1573.9,1009.2 1574.2,1009.2 1574.5,1009.3 1574.8,1009.4 1575.1,1009.5 1575.4,1009.6 1575.8,1009.8 1576.1,1010 1576.4,1010.2 1576.7,1010.4 1577,1010.6 1577.4,1010.8 1577.7,1011 1578,1011.2 1578.3,1011.4 1578.6,1011.6 1578.9,1011.8 1579.3,1012 1579.6,1012.2 1579.9,1012.4 1580.2,1012.6 1580.5,1012.7 1580.9,1012.8 1581.2,1013 1581.5,1013.1 1581.8,1013.2 1582.1,1013.3 1582.4,1013.4 1582.8,1013.4 1583.1,1013.5 1583.4,1013.6 1583.7,1013.6 1584,1013.7 1584.4,1013.7 1584.7,1013.7 1585,1013.8 1585.3,1013.8 1585.6,1013.8 1585.9,1013.8 1586.3,1013.8 1586.6,1013.9 1586.9,1013.9 1587.2,1013.9 1587.5,1013.9 1587.9,1013.9 1588.2,1013.9 1588.5,1013.9 1588.8,1013.9 1589.1,1013.9 1589.4,1013.9 1589.8,1013.9 1590.1,1013.9 1590.4,1013.9 1590.7,1013.9 1591,1013.9 1591.4,1013.9 1591.7,1013.9 1592,1014 1592.3,1014 1592.6,1014 1592.9,1014 1593.3,1014 1593.6,1014 1593.9,1014 1594.2,1014 1594.5,1014 1594.9,1014 1595.2,1014 1595.5,1014 1595.8,1014 1596.1,1014 1596.4,1014 1596.8,1014 1597.1,1014 1597.4,1014 1597.7,1014 1598,1014 1598.4,1014 1598.7,1014 1599,1014 1599.3,1014 1599.6,1014 1599.9,1014 1600.3,1014 1600.6,1014 1600.9,1014 1601.2,1014 1601.5,1014 1601.9,1014 1602.2,1014 1602.5,1014 1602.8,1014 1603.1,1014 1603.4,1014 1603.8,1014 1604.1,1014 1604.4,1014 1604.7,1014 1605,1014 1605.4,1014 1605.7,1014 1606,1014 1606.3,1014 1606.6,1014 1606.9,1014 1607.3,1014 1607.6,1014 1607.9,1014 1608.2,1014 1608.5,1014 1608.9,1014 1609.2,1014 1609.5,1014 1609.8,1013.9 1610.1,1013.9 1610.4,1013.9 1610.8,1013.9 1611.1,1013.9 1611.4,1013.9 1611.7,1013.9 1612,1013.9 1612.4,1013.9 1612.7,1013.9 1613,1013.9 1613.3,1013.9 1613.6,1013.9 1613.9,1013.9 1614.3,1013.9 1614.6,1013.9 1614.9,1013.9 1615.2,1013.9 1615.5,1013.9 1615.9,1013.9 1616.2,1013.9 1616.5,1013.9 1616.8,1013.9 1617.1,1013.9 1617.4,1013.9 1617.8,1013.9 1618.1,1013.9 1618.4,1013.9 1618.7,1013.9 1619,1013.9 1619.4,1013.9 1619.7,1013.9 1620,1013.9 1620.3,1013.9 1620.6,1013.9 1620.9,1013.8 1621.3,1013.8 1621.6,1013.8 1621.9,1013.8 1622.2,1013.8 1622.5,1013.8 1622.9,1013.8 1623.2,1013.8 1623.5,1013.8 1623.8,1013.8 1624.1,1013.8 1624.4,1013.8 1624.8,1013.8 1625.1,1013.8 1625.4,1013.8 1625.7,1013.8 1626,1013.8 1626.4,1013.8 1626.7,1013.7 1627,1013.7 1627.3,1013.7 1627.6,1013.7 1627.9,1013.7 1628.3,1013.7 1628.6,1013.7 1628.9,1013.7 1629.2,1013.7 1629.5,1013.7 1629.9,1013.7 1630.2,1013.7 1630.5,1013.6 1630.8,1013.6 1631.1,1013.6 1631.4,1013.6 1631.8,1013.6 1632.1,1013.6 1632.4,1013.6 1632.7,1013.6 1633,1013.6 1633.4,1013.5 1633.7,1013.5 1634,1013.5 1634.3,1013.5 1634.6,1013.5 1634.9,1013.5 1635.3,1013.5 1635.6,1013.4 1635.9,1013.4 1636.2,1013.4 1636.5,1013.4 1636.9,1013.4 1637.2,1013.4 1637.5,1013.3 1637.8,1013.3 1638.1,1013.3 1638.4,1013.3 1638.8,1013.3 1639.1,1013.2 1639.4,1013.2 1639.7,1013.2 1640,1013.2 1640.4,1013.1 1640.7,1013.1 1641,1013.1 1641.3,1013 1641.6,1013 1641.9,1013 1642.3,1012.9 1642.6,1012.9 1642.9,1012.9 1643.2,1012.8 1643.5,1012.8 1643.9,1012.7 1644.2,1012.7 1644.5,1012.6 1644.8,1012.6 1645.1,1012.5 1645.4,1012.5 1645.8,1012.4 1646.1,1012.3 1646.4,1012.2 1646.7,1012.1 1647,1012 1647.4,1011.9 1647.7,1011.8 1648,1011.6 1648.3,1011.5 1648.6,1011.3 1648.9,1011.1 1649.3,1010.8 1649.6,1010.6 1649.9,1010.3 1650.2,1009.9 1650.5,1009.5 1650.9,1009.1 1651.2,1008.6 1651.5,1008 1651.8,1007.4 1652.1,1006.7 1652.4,1006 1652.8,1005.1 1653.1,1004.2 1653.4,1003.2 1653.7,1002.1 1654,1000.9 1654.4,999.6 1654.7,998.2 1655,996.7 1655.3,995.2 1655.6,993.6 1655.9,991.9 1656.3,990.1 1656.6,988.3 1656.9,986.5 1657.2,984.7 1657.5,982.9 1657.9,981.1 1658.2,979.3 1658.5,977.6 1658.8,976 1659.1,974.6 1659.4,973.3 1659.8,972.1 1660.1,971.2 1660.4,970.5 1660.7,970.1 1661,969.9 1661.4,969.9 1661.7,970.2 1662,970.7 1662.3,971.5 1662.6,972.4 1662.9,973.6 1663.3,974.8 1663.6,976.2 1663.9,977.7 1664.2,979.2 1664.5,980.7 1664.9,982.2 1665.2,983.7 1665.5,985.1 1665.8,986.5 1666.1,987.7 1666.4,988.9 1666.8,989.9 1667.1,990.7 1667.4,991.4 1667.7,991.9 1668,992.2 1668.4,992.3 1668.7,992.2 1669,991.9 1669.3,991.3 1669.6,990.5 1669.9,989.5 1670.3,988.2 1670.6,986.7 1670.9,985 1671.2,983.1 1671.5,980.9 1671.9,978.6 1672.2,976.1 1672.5,973.4 1672.8,970.6 1673.1,967.7 1673.4,964.7 1673.8,961.7 1674.1,958.6 1674.4,955.6 1674.7,952.7 1675,949.8 1675.4,947.2 1675.7,944.8 1676,942.6 1676.3,940.8 1676.6,939.3 1676.9,938.2 1677.3,937.6 1677.6,937.4 1677.9,937.7 1678.2,938.4 1678.5,939.5 1678.9,941.1 1679.2,943.1 1679.5,945.3 1679.8,947.9 1680.1,950.7 1680.4,953.6 1680.8,956.7 1681.1,959.9 1681.4,963.1 1681.7,966.3 1682,969.5 1682.4,972.7 1682.7,975.8 1683,978.7 1683.3,981.6 1683.6,984.3 1683.9,986.9 1684.3,989.3 1684.6,991.6 1684.9,993.7 1685.2,995.6 1685.5,997.4 1685.9,999.1 1686.2,1000.6 1686.5,1001.9 1686.8,1003.1 1687.1,1004.2 1687.5,1005.2 1687.8,1006 1688.1,1006.8 1688.4,1007.5 1688.7,1008.1 1689,1008.6 1689.4,1009.1 1689.7,1009.5 1690,1009.8 1690.3,1010.1 1690.6,1010.4 1691,1010.7 1691.3,1010.9 1691.6,1011.1 1691.9,1011.2 1692.2,1011.4 1692.5,1011.5 1692.9,1011.7 1693.2,1011.8 1693.5,1011.9 1693.8,1012 1694.1,1012.1 1694.5,1012.1 1694.8,1012.2 1695.1,1012.3 1695.4,1012.4 1695.7,1012.4 1696,1012.5 1696.4,1012.5 1696.7,1012.6 1697,1012.6 1697.3,1012.7 1697.6,1012.7 1698,1012.8 1698.3,1012.8 1698.6,1012.9 1698.9,1012.9 1699.2,1013 1699.5,1013 1699.9,1013 1700.2,1013.1 1700.5,1013.1 1700.8,1013.1 1701.1,1013.2 1701.5,1013.2 1701.8,1013.2 1702.1,1013.2 1702.4,1013.3 1702.7,1013.3 1703,1013.3 1703.4,1013.3 1703.7,1013.4 1704,1013.4 1704.3,1013.4 1704.6,1013.4 1705,1013.4 1705.3,1013.5 1705.6,1013.5 1705.9,1013.5 1706.2,1013.5 1706.5,1013.5 1706.9,1013.6 1707.2,1013.6 1707.5,1013.6 1707.8,1013.6 1708.1,1013.6 1708.5,1013.6 1708.8,1013.7 1709.1,1013.7 1709.4,1013.7 1709.7,1013.7 1710,1013.7 1710.4,1013.7 1710.7,1013.7 1711,1013.7 1711.3,1013.8 1711.6,1013.8 1712,1013.8 1712.3,1013.8 1712.6,1013.8 1712.9,1013.8 1713.2,1013.8 1713.5,1013.8 1713.9,1013.8 1714.2,1013.8 1714.5,1013.9 1714.8,1013.9 1715.1,1013.9 1715.5,1013.9 1715.8,1013.9 1716.1,1013.9 1716.4,1013.9 1716.7,1013.9 1717,1013.9 1717.4,1013.9 1717.7,1013.9 1718,1013.9 1718.3,1013.9 1718.6,1014 1719,1014 1719.3,1014 1719.6,1014 1719.9,1014 1720.2,1014 1720.5,1014 1720.9,1014 1721.2,1014 1721.5,1014 1721.8,1014 1722.1,1014 1722.5,1014 1722.8,1014 1723.1,1014 1723.4,1014 1723.7,1014.1 1724,1014.1 1724.4,1014.1 1724.7,1014.1 1725,1014.1 1725.3,1014.1 1725.6,1014.1 1726,1014.1 1726.3,1014.1 1726.6,1014.1 1726.9,1014.1 1727.2,1014.1 1727.5,1014.1 1727.9,1014.1 1728.2,1014.1 1728.5,1014.1 1728.8,1014.1 1729.1,1014.1 1729.5,1014.1 1729.8,1014.1 1730.1,1014.1 1730.4,1014.1 1730.7,1014.1 1731,1014.1 1731.4,1014.2 1731.7,1014.2 1732,1014.2 1732.3,1014.2 1732.6,1014.2 1733,1014.2 1733.3,1014.2 1733.6,1014.2 1733.9,1014.2 1734.2,1014.2 1734.5,1014.2 1734.9,1014.2 1735.2,1014.2 1735.5,1014.2 1735.8,1014.2 1736.1,1014.2 1736.5,1014.2 1736.8,1014.2 1737.1,1014.2 1737.4,1014.2 1737.7,1014.2 1738,1014.2 1738.4,1014.2 1738.7,1014.2 1739,1014.2 1739.3,1014.2 1739.6,1014.2 1740,1014.2 1740.3,1014.2 1740.6,1014.2 1740.9,1014.2 1741.2,1014.2 1741.5,1014.2 1741.9,1014.2 1742.2,1014.2 1742.5,1014.2 1742.8,1014.3 1743.1,1014.3 1743.5,1014.3 1743.8,1014.3 1744.1,1014.3 1744.4,1014.3 1744.7,1014.3 1745,1014.3 1745.4,1014.3 1745.7,1014.3 1746,1014.3 1746.3,1014.3 1746.6,1014.3 1747,1014.3 1747.3,1014.3 1747.6,1014.3 1747.9,1014.3 1748.2,1014.3 1748.5,1014.3 1748.9,1014.3 1749.2,1014.3 1749.5,1014.3 1749.8,1014.3 1750.1,1014.3 1750.5,1014.3 1750.8,1014.3 1751.1,1014.3 1751.4,1014.3 1751.7,1014.3 1752,1014.3 1752.4,1014.3 1752.7,1014.3 1753,1014.3 1753.3,1014.3 1753.6,1014.3 1754,1014.3 1754.3,1014.3 1754.6,1014.3 1754.9,1014.3 1755.2,1014.3 1755.5,1014.3 1755.9,1014.3 1756.2,1014.3 1756.5,1014.3 1756.8,1014.3 1757.1,1014.3 1757.5,1014.3 1757.8,1014.3 1758.1,1014.3 1758.4,1014.3 1758.7,1014.3 1759,1014.3 1759.4,1014.3 1759.7,1014.3 1760,1014.3 1760.3,1014.3 1760.6,1014.3 1761,1014.3 1761.3,1014.3 1761.6,1014.3 1761.9,1014.4 1762.2,1014.4 1762.5,1014.4 1762.9,1014.4 1763.2,1014.4 1763.5,1014.4 1763.8,1014.4 1764.1,1014.4 1764.5,1014.4 1764.8,1014.4 1765.1,1014.4 1765.4,1014.4 1765.7,1014.4 1766,1014.4 1766.4,1014.4 1766.7,1014.4 1767,1014.4"/>
<path d="M254.7 1046v18M552.6 1046v18M561.3 1046v18M740.4 1046v18M786.8 1046v18M798.5 1046v18M997.5 1046v18M1002 1046v18M1142.5 1046v18M1147.5 1046v18M1178 1046v18M1182.5 1046v18M1186.5 1046v18M1191 1046v18M1341.5 1046v18M1348 1046v18M1355 1046v18M1359.5 1046v18M1364 1046v18M1474.5 1046v18M1479.4 1046v18M1659.5 1046v18M1665.3 1046v18M1675 1046v18M1680.5 1046v18M1766 1046v18" stroke="#ff1a1a" stroke-width="3" fill="none"/>
<path d="M451.8 1079v24M555 1079v24M652.3 1079v24M737.5 1079v24M778.9 1079v24M903 1079v24M920.4 1079v24M998.5 1079v24M1043.9 1079v24M1079 1079v24M1112 1079v24M1145 1079v24M1183 1079v24M1197 1079v24M1225 1079v24M1243 1079v24M1290 1079v24M1306 1079v24M1308 1079v24M1350 1079v24M1370 1079v24M1374 1079v24M1398.1 1079v24M1403.7 1079v24M1434 1079v24M1436 1079v24M1445 1079v24M1461.2 1079v24M1484 1079v24M1588 1079v24M1605.4 1079v24M1611.2 1079v24M1626 1079v24M1657.6 1079v24M1663.6 1079v24M1666.6 1079v24M1672.6 1079v24M1726.6 1079v24M1732.2 1079v24M1749 1079v24" stroke="#2222ff" stroke-width="3" fill="none"/>
<path d="M252.3 1079v24M263 1079v24M558 1079v24M561 1079v24M563 1079v24M589.3 1079v24M678.6 1079v24M714.4 1079v24M750.6 1079v24M818 1079v24M822 1079v24M859 1079v24M981.1 1079v24M1015.8 1079v24M1025.8 1079v24M1060 1079v24M1082 1079v24M1115 1079v24M1119 1079v24M1148 1079v24M1186 1079v24M1221 1079v24M1271 1079v24M1287 1079v24M1335.3 1079v24M1362 1079v24M1378 1079v24M1386.7 1079v24M1392.5 1079v24M1422.3 1079v24M1431 1079v24M1488 1079v24M1496 1079v24M1504 1079v24M1545.6 1079v24M1552 1079v24M1563.4 1079v24M1581 1079v24M1597 1079v24M1620 1079v24M1643.5 1079v24M1651.6 1079v24M1660.6 1079v24M1681.6 1079v24M1684.6 1079v24M1695.6 1079v24M1702 1079v24M1721 1079v24M1735 1079v24M1737.8 1079v24M1740.6 1079v24M1743.4 1079v24M1757.4 1079v24" stroke="#5555ff" stroke-width="3" fill="none"/>
<path d="M209.7 1079v24M340.5 1079v24M422.8 1079v24M461.5 1079v24M523.5 1079v24M620.8 1079v24M634 1079v24M797.8 1079v24M826 1079v24M873.2 1079v24M969.9 1079v24M986.1 1079v24M994.7 1079v24M1019.6 1079v24M1028.3 1079v24M1046.9 1079v24M1052 1079v24M1055 1079v24M1058 1079v24M1085 1079v24M1089.6 1079v24M1109 1079v24M1131.3 1079v24M1136.2 1079v24M1150 1079v24M1161 1079v24M1163 1079v24M1174.7 1079v24M1180 1079v24M1188 1079v24M1200 1079v24M1203 1079v24M1229 1079v24M1248 1079v24M1252.9 1079v24M1259 1079v24M1268 1079v24M1294 1079v24M1297 1079v24M1303 1079v24M1329.8 1079v24M1341 1079v24M1354.6 1079v24M1359.6 1079v24M1366 1079v24M1417.2 1079v24M1428 1079v24M1448 1079v24M1451 1079v24M1454 1079v24M1470 1079v24M1473 1079v24M1476 1079v24M1480 1079v24M1492 1079v24M1500 1079v24M1508 1079v24M1515 1079v24M1521.5 1079v24M1558.3 1079v24M1573 1079v24M1576 1079v24M1579 1079v24M1591 1079v24M1594 1079v24M1623 1079v24M1648.6 1079v24M1654.6 1079v24M1669.6 1079v24M1675.6 1079v24M1678.6 1079v24M1690.5 1079v24M1709.6 1079v24M1723.8 1079v24M1729.4 1079v24M1746.2 1079v24M1751.8 1079v24M1754.6 1079v24M1760.2 1079v24M1763 1079v24" stroke="#8888ff" stroke-width="3" fill="none"/>
<polyline fill="none" stroke="#2a2aff" stroke-width="1.6" points="176,1155.2 177,1154.3 178,1154.1 179.1,1154.5 180.1,1154.2 181.1,1155 182.1,1155.5 183.1,1155.3 184.1,1155.8 185.2,1156.7 186.2,1156.4 187.2,1156.5 188.2,1156.7 189.2,1156.6 190.3,1156.6 191.3,1156.5 192.3,1156.4 193.3,1156.1 194.3,1155.8 195.3,1156.2 196.4,1156.4 197.4,1155.3 198.4,1155.9 199.4,1155.5 200.4,1155 201.5,1155.7 202.5,1155.7 203.5,1155.3 204.5,1155.3 205.5,1156 206.5,1156.3 207.6,1156.8 208.6,1157.7 209.6,1157.1 210.6,1157 211.6,1156.6 212.7,1156.4 213.7,1156 214.7,1155.6 215.7,1156 216.7,1155.5 217.7,1154.9 218.8,1155 219.8,1154.9 220.8,1154.9 221.8,1156.1 222.8,1156 223.9,1155.4 224.9,1155.8 225.9,1155.3 226.9,1155.1 227.9,1155.8 228.9,1155.3 230,1155.6 231,1156.4 232,1156.4 233,1155.6 234,1155.3 235.1,1155.1 236.1,1155.3 237.1,1156.2 238.1,1155.8 239.1,1155.4 240.1,1154.2 241.2,1153.9 242.2,1153.7 243.2,1153.6 244.2,1152.7 245.2,1149.4 246.3,1145.3 247.3,1144 248.3,1148.2 249.3,1152.4 250.3,1150.3 251.3,1144.9 252.4,1145.4 253.4,1155.9 254.4,1171.3 255.4,1177.7 256.4,1173.4 257.5,1165.4 258.5,1160.6 259.5,1160.6 260.5,1160.7 261.5,1159.4 262.6,1157.9 263.6,1156.5 264.6,1155.6 265.6,1155.7 266.6,1154.9 267.6,1154.6 268.7,1155.2 269.7,1154.5 270.7,1155.6 271.7,1156.7 272.7,1157 273.8,1157.5 274.8,1157 275.8,1156.6 276.8,1156.1 277.8,1156.7 278.8,1156.4 279.9,1156.7 280.9,1156.9 281.9,1156.4 282.9,1157 283.9,1156.9 285,1157.1 286,1156.9 287,1156.2 288,1155.4 289,1155.4 290,1155.8 291.1,1156.4 292.1,1156.4 293.1,1156.9 294.1,1156 295.1,1155.9 296.2,1156.3 297.2,1155.4 298.2,1155.5 299.2,1155.2 300.2,1154.4 301.2,1154.6 302.3,1154.5 303.3,1154 304.3,1154.6 305.3,1153.9 306.3,1154.5 307.4,1154.8 308.4,1155.2 309.4,1155.8 310.4,1155.6 311.4,1156.3 312.4,1155.5 313.5,1155.2 314.5,1155.5 315.5,1155.9 316.5,1156.2 317.5,1156.1 318.6,1156.4 319.6,1155.6 320.6,1156.5 321.6,1156.5 322.6,1156.5 323.6,1156.2 324.7,1155.8 325.7,1155.9 326.7,1155.6 327.7,1155.7 328.7,1155.4 329.8,1155.9 330.8,1154.9 331.8,1155.6 332.8,1155.5 333.8,1155.3 334.8,1156.7 335.9,1155.9 336.9,1154.8 337.9,1155.1 338.9,1155.4 339.9,1155.3 341,1155.5 342,1155 343,1153.8 344,1154.7 345,1155.2 346,1156 347.1,1157 348.1,1156.3 349.1,1156.5 350.1,1155 351.1,1154.5 352.2,1155.1 353.2,1154.6 354.2,1154.8 355.2,1154.4 356.2,1154.8 357.2,1154.9 358.3,1155.1 359.3,1155.5 360.3,1155.3 361.3,1155 362.3,1155.6 363.4,1155.8 364.4,1155.6 365.4,1156.3 366.4,1156.2 367.4,1155.8 368.4,1155.2 369.5,1154.7 370.5,1155.3 371.5,1155.2 372.5,1155.3 373.5,1155.4 374.6,1154.3 375.6,1154.7 376.6,1155.5 377.6,1155.3 378.6,1156.1 379.6,1156.9 380.7,1156 381.7,1156.6 382.7,1156.3 383.7,1155.9 384.7,1156.9 385.8,1157.2 386.8,1157.3 387.8,1156.4 388.8,1156.9 389.8,1156.1 390.8,1156.4 391.9,1157.1 392.9,1156 393.9,1156.1 394.9,1156.3 395.9,1155.2 397,1155.7 398,1155.7 399,1155 400,1155.1 401,1155 402,1154.7 403.1,1155 404.1,1155.1 405.1,1155.2 406.1,1155.9 407.1,1154.8 408.2,1155.1 409.2,1154.8 410.2,1153.7 411.2,1154.3 412.2,1154.7 413.2,1154.5 414.3,1155.7 415.3,1155.6 416.3,1154.7 417.3,1155.3 418.3,1155 419.4,1155.5 420.4,1155.9 421.4,1156 422.4,1155.6 423.4,1156.5 424.5,1156.7 425.5,1156.4 426.5,1156.8 427.5,1156 428.5,1156.2 429.5,1155.9 430.6,1155.9 431.6,1156.1 432.6,1156.1 433.6,1156.8 434.6,1156.7 435.7,1156.8 436.7,1156.1 437.7,1155.3 438.7,1155 439.7,1154 440.7,1154.2 441.8,1155 442.8,1155 443.8,1155.5 444.8,1155 445.8,1154.5 446.9,1154.5 447.9,1154.2 448.9,1154.5 449.9,1154.2 450.9,1154.5 451.9,1154.8 453,1154.9 454,1154.7 455,1155.2 456,1154.5 457,1154.6 458.1,1154.8 459.1,1154.5 460.1,1155.3 461.1,1154.4 462.1,1155 463.1,1155.4 464.2,1155.6 465.2,1156.5 466.2,1155.5 467.2,1155 468.2,1154.2 469.3,1154.6 470.3,1155.3 471.3,1155.2 472.3,1154.7 473.3,1154.6 474.3,1154.5 475.4,1154.7 476.4,1155.8 477.4,1155.5 478.4,1155.9 479.4,1157 480.5,1156.3 481.5,1156 482.5,1156.1 483.5,1155.8 484.5,1155.4 485.5,1155.6 486.6,1154.8 487.6,1153.8 488.6,1154.6 489.6,1154.4 490.6,1155 491.7,1155.5 492.7,1155.3 493.7,1155.7 494.7,1155.1 495.7,1155.1 496.7,1155.1 497.8,1155.3 498.8,1155.5 499.8,1155.9 500.8,1156 501.8,1156 502.9,1156.3 503.9,1155.9 504.9,1156.1 505.9,1155.3 506.9,1154.4 507.9,1154.2 509,1154.1 510,1153.9 511,1154.2 512,1154.6 513,1154.4 514.1,1155.2 515.1,1154.7 516.1,1154.8 517.1,1154 518.1,1154.4 519.1,1154.8 520.2,1155.1 521.2,1155.2 522.2,1155 523.2,1155.3 524.2,1154.4 525.3,1154.8 526.3,1155.1 527.3,1155.3 528.3,1156.1 529.3,1156.5 530.3,1156.1 531.4,1156.2 532.4,1155.9 533.4,1156.1 534.4,1156.3 535.4,1156 536.5,1155.1 537.5,1155.7 538.5,1155.5 539.5,1155.9 540.5,1156.3 541.5,1155.9 542.6,1155.5 543.6,1155.1 544.6,1155 545.6,1154.8 546.6,1152.8 547.7,1145.4 548.7,1139.2 549.7,1141.8 550.7,1150.6 551.7,1154.1 552.7,1146.3 553.8,1140.1 554.8,1149.7 555.8,1166 556.8,1167.9 557.8,1153.2 558.9,1142.7 559.9,1151.5 560.9,1170.2 561.9,1178.4 562.9,1171.9 563.9,1163.5 565,1161.2 566,1162.6 567,1161.6 568,1157.9 569,1156.5 570.1,1155.9 571.1,1155.2 572.1,1155.3 573.1,1155.1 574.1,1155.1 575.2,1155.7 576.2,1155.3 577.2,1154.8 578.2,1155.3 579.2,1155 580.2,1155.3 581.3,1155.6 582.3,1154.3 583.3,1153.7 584.3,1154.2 585.3,1154.5 586.4,1155.7 587.4,1156.2 588.4,1156 589.4,1154.8 590.4,1154.2 591.4,1155.1 592.5,1155.6 593.5,1156.4 594.5,1157 595.5,1156.5 596.5,1156.5 597.6,1156.4 598.6,1156 599.6,1155.8 600.6,1155.5 601.6,1155.7 602.6,1156 603.7,1156.1 604.7,1156.9 605.7,1156.3 606.7,1156.7 607.7,1156.3 608.8,1155.6 609.8,1156 610.8,1155.4 611.8,1155.7 612.8,1155.5 613.8,1154.9 614.9,1154.9 615.9,1155.2 616.9,1156.1 617.9,1156.2 618.9,1155.6 620,1154.7 621,1153.8 622,1154.5 623,1155.2 624,1155.4 625,1155.7 626.1,1156 627.1,1155.6 628.1,1154.9 629.1,1155.7 630.1,1155.6 631.2,1155.8 632.2,1156.7 633.2,1157.1 634.2,1156.3 635.2,1156.3 636.2,1156.3 637.3,1154.5 638.3,1154.7 639.3,1155.1 640.3,1154.8 641.3,1156.2 642.4,1156.5 643.4,1156.1 644.4,1156.2 645.4,1156.1 646.4,1155.2 647.4,1154.9 648.5,1154.3 649.5,1154 650.5,1154.5 651.5,1154.2 652.5,1154.6 653.6,1154 654.6,1154.6 655.6,1155.3 656.6,1155.8 657.6,1156.7 658.6,1156.1 659.7,1155.5 660.7,1155.2 661.7,1155.1 662.7,1155.2 663.7,1156.2 664.8,1156.4 665.8,1156.4 666.8,1156.9 667.8,1156.6 668.8,1156 669.8,1156.5 670.9,1156.2 671.9,1156.8 672.9,1156.1 673.9,1156.2 674.9,1155.2 676,1154.5 677,1155.4 678,1155.3 679,1155.4 680,1155.2 681,1155.2 682.1,1154.9 683.1,1154.8 684.1,1155.5 685.1,1154.3 686.1,1154.5 687.2,1154.6 688.2,1155.1 689.2,1155.1 690.2,1155.3 691.2,1156.4 692.2,1156 693.3,1156.8 694.3,1155.7 695.3,1155 696.3,1154.9 697.3,1154.7 698.4,1154.8 699.4,1154.7 700.4,1154.2 701.4,1154.2 702.4,1155 703.4,1155 704.5,1155.4 705.5,1156 706.5,1155.4 707.5,1155.9 708.5,1155.5 709.6,1154.7 710.6,1155.2 711.6,1155 712.6,1155.6 713.6,1155.8 714.6,1155.5 715.7,1155 716.7,1154.5 717.7,1154.9 718.7,1155.1 719.7,1155.9 720.8,1155.9 721.8,1155.7 722.8,1156 723.8,1154.9 724.8,1155 725.8,1156 726.9,1155.9 727.9,1156.9 728.9,1156.8 729.9,1154.7 730.9,1154.9 732,1154.3 733,1154.8 734,1155.6 735,1155.2 736,1154.6 737.1,1154.9 738.1,1154.5 739.1,1155.1 740.1,1155.4 741.1,1154.7 742.1,1155 743.2,1155 744.2,1155.4 745.2,1156 746.2,1156.4 747.2,1155.5 748.3,1155.7 749.3,1155.4 750.3,1155.1 751.3,1155.5 752.3,1154.6 753.3,1154.2 754.4,1154.2 755.4,1154.2 756.4,1154.2 757.4,1154 758.4,1155 759.5,1155 760.5,1155.1 761.5,1156 762.5,1155.7 763.5,1156.9 764.5,1156.8 765.6,1157.1 766.6,1156.5 767.6,1156.2 768.6,1155.5 769.6,1155.2 770.7,1155.5 771.7,1155.3 772.7,1156.1 773.7,1156.6 774.7,1156.5 775.7,1156.1 776.8,1155.8 777.8,1156 778.8,1155.4 779.8,1153.8 780.8,1151.2 781.9,1148.9 782.9,1150.4 783.9,1153.4 784.9,1155.2 785.9,1155.5 786.9,1156.5 788,1159.7 789,1164.6 790,1166.1 791,1164.4 792,1164.1 793.1,1166.2 794.1,1169 795.1,1165 796.1,1155.3 797.1,1147.1 798.1,1146.3 799.2,1150.4 800.2,1152.7 801.2,1151.9 802.2,1149.3 803.2,1148.3 804.3,1151.1 805.3,1152.9 806.3,1154.1 807.3,1155.6 808.3,1155.3 809.3,1155.8 810.4,1156.3 811.4,1155.2 812.4,1155.9 813.4,1155.5 814.4,1155.1 815.5,1156.2 816.5,1155.4 817.5,1155.2 818.5,1155.2 819.5,1154.9 820.5,1154.5 821.6,1155.9 822.6,1155.3 823.6,1154.5 824.6,1154.4 825.6,1153.1 826.7,1154.4 827.7,1155.4 828.7,1156 829.7,1156.7 830.7,1155.8 831.7,1155.9 832.8,1155.7 833.8,1156.2 834.8,1156.7 835.8,1156.3 836.8,1156.6 837.9,1156 838.9,1155.3 839.9,1155.8 840.9,1155.9 841.9,1156 842.9,1156.2 844,1154.9 845,1154.4 846,1154.3 847,1155 848,1155.3 849.1,1155.9 850.1,1155.1 851.1,1154.2 852.1,1154.6 853.1,1153.9 854.1,1154.3 855.2,1154.3 856.2,1154.6 857.2,1154.5 858.2,1155 859.2,1155.9 860.3,1155.4 861.3,1156.1 862.3,1156.3 863.3,1156.7 864.3,1157 865.3,1156.4 866.4,1155.2 867.4,1154.2 868.4,1153.4 869.4,1154.2 870.4,1155 871.5,1155.2 872.5,1156.1 873.5,1156.3 874.5,1156.1 875.5,1156.4 876.5,1156.5 877.6,1155.9 878.6,1156 879.6,1155.4 880.6,1155.1 881.6,1155.4 882.7,1155.2 883.7,1155.5 884.7,1155.8 885.7,1156 886.7,1155.7 887.7,1155.2 888.8,1154.6 889.8,1155.1 890.8,1155.5 891.8,1156 892.8,1156.4 893.9,1156 894.9,1155.9 895.9,1155.4 896.9,1155.5 897.9,1155.7 899,1155.2 900,1154.9 901,1155.3 902,1154.4 903,1155.3 904,1155.3 905.1,1155.2 906.1,1155.7 907.1,1155.7 908.1,1156.4 909.1,1156.2 910.2,1155.8 911.2,1155.8 912.2,1155.5 913.2,1157.1 914.2,1157.1 915.2,1157.8 916.3,1157.6 917.3,1155.8 918.3,1155.7 919.3,1155.1 920.3,1155.2 921.4,1155.7 922.4,1156.1 923.4,1156.1 924.4,1156.5 925.4,1155.8 926.4,1155.6 927.5,1155 928.5,1154.8 929.5,1155.2 930.5,1155.3 931.5,1155.6 932.6,1155 933.6,1154.8 934.6,1155 935.6,1155.6 936.6,1155.3 937.6,1155.6 938.7,1155.3 939.7,1154.5 940.7,1154.7 941.7,1154.4 942.7,1154.4 943.8,1154.1 944.8,1154.4 945.8,1154.4 946.8,1154.3 947.8,1155.6 948.8,1156.5 949.9,1156.5 950.9,1156.2 951.9,1155.8 952.9,1155.8 953.9,1156.5 955,1156.7 956,1157.2 957,1156.4 958,1155.3 959,1154.2 960,1153.2 961.1,1153.8 962.1,1154.5 963.1,1157.2 964.1,1157.7 965.1,1157.6 966.2,1156.8 967.2,1155.1 968.2,1154.6 969.2,1154.6 970.2,1154.6 971.2,1154.4 972.3,1155 973.3,1155.2 974.3,1156.1 975.3,1156.1 976.3,1155.1 977.4,1154.7 978.4,1154.5 979.4,1155.1 980.4,1155.7 981.4,1156 982.4,1155.7 983.5,1155.5 984.5,1155.5 985.5,1155.3 986.5,1155.9 987.5,1157.5 988.6,1159.2 989.6,1160.8 990.6,1160.2 991.6,1159.2 992.6,1159 993.6,1161.5 994.7,1166.5 995.7,1168.6 996.7,1166.8 997.7,1159 998.7,1149.2 999.8,1144.4 1000.8,1144.2 1001.8,1148.1 1002.8,1152.2 1003.8,1153.1 1004.8,1151.6 1005.9,1150.2 1006.9,1150.1 1007.9,1151.6 1008.9,1153.7 1009.9,1155.2 1011,1155.8 1012,1155.5 1013,1155.5 1014,1155.3 1015,1155.7 1016,1156 1017.1,1155.9 1018.1,1155.8 1019.1,1155.6 1020.1,1155.6 1021.1,1154.7 1022.2,1154.8 1023.2,1154.2 1024.2,1154.4 1025.2,1156.4 1026.2,1156.2 1027.2,1156.7 1028.3,1156.3 1029.3,1155.3 1030.3,1155.8 1031.3,1155.5 1032.3,1156 1033.4,1156 1034.4,1155.8 1035.4,1156.3 1036.4,1156.4 1037.4,1155.8 1038.4,1155 1039.5,1154.2 1040.5,1154.1 1041.5,1153.8 1042.5,1154.3 1043.5,1153.9 1044.6,1153.6 1045.6,1154 1046.6,1154.3 1047.6,1154.9 1048.6,1155.3 1049.6,1155.1 1050.7,1155.6 1051.7,1156.5 1052.7,1156.7 1053.7,1157.7 1054.7,1157.4 1055.8,1156.6 1056.8,1156.9 1057.8,1155.8 1058.8,1155.6 1059.8,1155.6 1060.9,1154.2 1061.9,1153.7 1062.9,1154.5 1063.9,1154.1 1064.9,1154.6 1065.9,1155.2 1067,1154.4 1068,1155 1069,1155.4 1070,1155.9 1071,1156.6 1072.1,1156.4 1073.1,1156.6 1074.1,1156.9 1075.1,1156.3 1076.1,1156.3 1077.1,1155.5 1078.2,1155.9 1079.2,1156.4 1080.2,1156.7 1081.2,1156.8 1082.2,1156.3 1083.3,1155.6 1084.3,1155.4 1085.3,1155.3 1086.3,1155.2 1087.3,1155.2 1088.3,1155.4 1089.4,1155 1090.4,1154.8 1091.4,1155.1 1092.4,1154.7 1093.4,1154.9 1094.5,1154.7 1095.5,1154.5 1096.5,1154.3 1097.5,1154.2 1098.5,1154.6 1099.5,1154.4 1100.6,1154.7 1101.6,1155.7 1102.6,1155.3 1103.6,1155.7 1104.6,1156.2 1105.7,1155.5 1106.7,1156.3 1107.7,1155.5 1108.7,1154.9 1109.7,1155.4 1110.7,1154.9 1111.8,1156 1112.8,1155.2 1113.8,1155.1 1114.8,1156.2 1115.8,1156 1116.9,1156.9 1117.9,1156.7 1118.9,1156.7 1119.9,1156.5 1120.9,1155.6 1121.9,1156.4 1123,1154.9 1124,1155.4 1125,1155.1 1126,1154.1 1127,1154.7 1128.1,1154.1 1129.1,1154.8 1130.1,1155.1 1131.1,1154.7 1132.1,1155.5 1133.1,1156.3 1134.2,1155.3 1135.2,1155.8 1136.2,1155.8 1137.2,1154.9 1138.2,1156.4 1139.3,1156.8 1140.3,1156.7 1141.3,1157.1 1142.3,1156.5 1143.3,1155.5 1144.3,1155.4 1145.4,1155 1146.4,1154.7 1147.4,1155.6 1148.4,1155.4 1149.4,1155.8 1150.5,1155.8 1151.5,1155.1 1152.5,1155.3 1153.5,1155.3 1154.5,1155.7 1155.5,1156.4 1156.6,1156.1 1157.6,1155.5 1158.6,1155.8 1159.6,1155.2 1160.6,1155.2 1161.7,1155.4 1162.7,1154.5 1163.7,1154.9 1164.7,1155.1 1165.7,1155 1166.7,1155.7 1167.8,1155.8 1168.8,1154.8 1169.8,1152.5 1170.8,1149.2 1171.8,1147.3 1172.9,1146.9 1173.9,1149.6 1174.9,1152.5 1175.9,1152.9 1176.9,1152.3 1177.9,1150.1 1179,1151.1 1180,1156 1181,1161.8 1182,1168.7 1183,1172 1184.1,1172.5 1185.1,1169.2 1186.1,1163.1 1187.1,1156.6 1188.1,1150.8 1189.1,1149.5 1190.2,1150.8 1191.2,1152.2 1192.2,1152.7 1193.2,1152.2 1194.2,1150.2 1195.3,1150.2 1196.3,1151.7 1197.3,1153 1198.3,1155 1199.3,1156 1200.3,1155.5 1201.4,1155.8 1202.4,1156.3 1203.4,1156.4 1204.4,1156 1205.4,1156.5 1206.5,1155.8 1207.5,1155.2 1208.5,1155.5 1209.5,1155.5 1210.5,1155.6 1211.6,1155.8 1212.6,1155.8 1213.6,1155.5 1214.6,1155.8 1215.6,1155.6 1216.6,1155.5 1217.7,1155 1218.7,1154.9 1219.7,1155 1220.7,1155.3 1221.7,1155.3 1222.8,1155.4 1223.8,1155.7 1224.8,1155.7 1225.8,1156.5 1226.8,1155.9 1227.8,1155.9 1228.9,1155.9 1229.9,1155.4 1230.9,1156.1 1231.9,1156.2 1232.9,1155.7 1234,1155.8 1235,1154.8 1236,1155.3 1237,1155.9 1238,1156.2 1239,1156.3 1240.1,1154.9 1241.1,1154.1 1242.1,1154.6 1243.1,1154.4 1244.1,1155.7 1245.2,1156.5 1246.2,1154.9 1247.2,1155.2 1248.2,1154.7 1249.2,1153.9 1250.2,1154.2 1251.3,1154.1 1252.3,1154 1253.3,1154.6 1254.3,1155.8 1255.3,1155.4 1256.4,1155.3 1257.4,1154.8 1258.4,1154.1 1259.4,1154.6 1260.4,1155.5 1261.4,1155 1262.5,1154.9 1263.5,1154.7 1264.5,1154.2 1265.5,1154.4 1266.5,1154.6 1267.6,1154.4 1268.6,1155 1269.6,1155.3 1270.6,1154.6 1271.6,1155.1 1272.6,1154.8 1273.7,1154.4 1274.7,1155.2 1275.7,1154.6 1276.7,1155.2 1277.7,1155.3 1278.8,1156.2 1279.8,1156.7 1280.8,1155.9 1281.8,1156.1 1282.8,1155.5 1283.8,1153.8 1284.9,1153.8 1285.9,1153.3 1286.9,1154 1287.9,1155.6 1288.9,1156.3 1290,1156.7 1291,1156.8 1292,1156.9 1293,1156.4 1294,1156.5 1295,1156.9 1296.1,1157.1 1297.1,1156.7 1298.1,1156.4 1299.1,1155.4 1300.1,1154.5 1301.2,1154.8 1302.2,1154.6 1303.2,1155.6 1304.2,1155 1305.2,1154.4 1306.2,1154.8 1307.3,1154.7 1308.3,1155.4 1309.3,1156.7 1310.3,1156.9 1311.3,1156 1312.4,1156.2 1313.4,1155.6 1314.4,1155 1315.4,1155.7 1316.4,1155.6 1317.4,1155.6 1318.5,1156.3 1319.5,1155.8 1320.5,1156.2 1321.5,1155.3 1322.5,1155.3 1323.6,1154.6 1324.6,1154.6 1325.6,1155.1 1326.6,1155.4 1327.6,1156.9 1328.6,1156.9 1329.7,1157.5 1330.7,1157.9 1331.7,1157.3 1332.7,1157.5 1333.7,1157.4 1334.8,1156.8 1335.8,1157.8 1336.8,1159.7 1337.8,1161.1 1338.8,1162.9 1339.8,1163.8 1340.9,1161.8 1341.9,1159.6 1342.9,1156.1 1343.9,1152.4 1344.9,1150.6 1346,1150.8 1347,1151.8 1348,1151.7 1349,1149.8 1350,1146.1 1351,1141.7 1352.1,1140.7 1353.1,1142 1354.1,1145.9 1355.1,1150.1 1356.1,1151.3 1357.2,1149.6 1358.2,1147.6 1359.2,1148.2 1360.2,1152.9 1361.2,1160.5 1362.2,1166.8 1363.3,1169.9 1364.3,1169.3 1365.3,1165.6 1366.3,1162.2 1367.3,1159.9 1368.4,1158.7 1369.4,1159.4 1370.4,1159.5 1371.4,1158.9 1372.4,1157.9 1373.5,1156.7 1374.5,1155.8 1375.5,1155.5 1376.5,1156 1377.5,1155.8 1378.5,1155.3 1379.6,1155.4 1380.6,1154.5 1381.6,1154 1382.6,1154.3 1383.6,1154.2 1384.7,1153.9 1385.7,1154.4 1386.7,1155.1 1387.7,1154.8 1388.7,1155.3 1389.7,1155.5 1390.8,1155.3 1391.8,1154.7 1392.8,1155.3 1393.8,1155.7 1394.8,1155.4 1395.9,1155.6 1396.9,1154.8 1397.9,1155 1398.9,1154.8 1399.9,1154.9 1400.9,1154.6 1402,1154.8 1403,1155.1 1404,1155.3 1405,1156.6 1406,1156.4 1407.1,1156.1 1408.1,1156.2 1409.1,1155.9 1410.1,1155.2 1411.1,1155.2 1412.1,1154.6 1413.2,1154.6 1414.2,1155 1415.2,1155.1 1416.2,1155.7 1417.2,1155.8 1418.3,1155.4 1419.3,1155 1420.3,1155.3 1421.3,1156.1 1422.3,1156.9 1423.3,1157.9 1424.4,1157.6 1425.4,1156.3 1426.4,1155.8 1427.4,1155.6 1428.4,1155.5 1429.5,1156.1 1430.5,1156 1431.5,1156 1432.5,1155 1433.5,1154.3 1434.5,1154.8 1435.6,1154.8 1436.6,1156.1 1437.6,1157.1 1438.6,1157 1439.6,1156.9 1440.7,1156.4 1441.7,1155.8 1442.7,1155.9 1443.7,1156.2 1444.7,1156.9 1445.7,1156.8 1446.8,1156.6 1447.8,1155.8 1448.8,1155.5 1449.8,1155 1450.8,1154.8 1451.9,1155.2 1452.9,1155.7 1453.9,1156.7 1454.9,1156.6 1455.9,1155.8 1456.9,1155.1 1458,1154.3 1459,1154.7 1460,1155.4 1461,1155.8 1462,1155.6 1463.1,1155.4 1464.1,1155.4 1465.1,1155.2 1466.1,1155.3 1467.1,1155.4 1468.1,1155.6 1469.2,1154.8 1470.2,1154.7 1471.2,1155.1 1472.2,1154 1473.2,1154.4 1474.3,1154.5 1475.3,1154.3 1476.3,1155.3 1477.3,1155.9 1478.3,1156.9 1479.3,1156.6 1480.4,1157 1481.4,1156.4 1482.4,1155.8 1483.4,1156.6 1484.4,1156 1485.5,1156.1 1486.5,1155.5 1487.5,1154.5 1488.5,1154.4 1489.5,1154.1 1490.5,1154.6 1491.6,1154.9 1492.6,1155.1 1493.6,1155.5 1494.6,1155.3 1495.6,1155.6 1496.7,1155.6 1497.7,1155.3 1498.7,1155.5 1499.7,1155.8 1500.7,1155.5 1501.7,1156.4 1502.8,1156.4 1503.8,1155.4 1504.8,1157 1505.8,1156.5 1506.8,1156 1507.9,1157.2 1508.9,1155.1 1509.9,1155.9 1510.9,1155.5 1511.9,1154.4 1512.9,1154.9 1514,1154.1 1515,1154.4 1516,1155.4 1517,1155.6 1518,1155.9 1519.1,1156.1 1520.1,1155.2 1521.1,1156.1 1522.1,1155.8 1523.1,1155.7 1524.1,1156.5 1525.2,1155.5 1526.2,1155.4 1527.2,1156.1 1528.2,1155.6 1529.2,1156.2 1530.3,1156.5 1531.3,1156 1532.3,1156.2 1533.3,1155.6 1534.3,1155.7 1535.4,1155.2 1536.4,1155.1 1537.4,1155.1 1538.4,1155 1539.4,1155.5 1540.4,1156 1541.5,1156.1 1542.5,1155.6 1543.5,1154.6 1544.5,1153.5 1545.5,1153.7 1546.6,1154.2 1547.6,1154.9 1548.6,1155.4 1549.6,1155 1550.6,1154.5 1551.6,1155 1552.7,1155.1 1553.7,1155.2 1554.7,1155.3 1555.7,1155.3 1556.7,1154.5 1557.8,1155.1 1558.8,1155.4 1559.8,1155.5 1560.8,1156.6 1561.8,1156.3 1562.8,1156.7 1563.9,1156.7 1564.9,1156.1 1565.9,1156.2 1566.9,1155.8 1567.9,1155.6 1569,1155.9 1570,1156.2 1571,1156.8 1572,1156.6 1573,1155.8 1574,1155.9 1575.1,1154.4 1576.1,1154.3 1577.1,1154.3 1578.1,1154.3 1579.1,1155.1 1580.2,1154.8 1581.2,1154.6 1582.2,1155.4 1583.2,1154.6 1584.2,1155 1585.2,1155 1586.3,1154.2 1587.3,1155.2 1588.3,1155.9 1589.3,1155.6 1590.3,1155.6 1591.4,1155.7 1592.4,1155.2 1593.4,1155.8 1594.4,1156.8 1595.4,1157 1596.4,1158 1597.5,1157.6 1598.5,1156.9 1599.5,1156.1 1600.5,1155.4 1601.5,1155.3 1602.6,1156.1 1603.6,1156.2 1604.6,1156.7 1605.6,1157.3 1606.6,1156.7 1607.6,1156.6 1608.7,1156.4 1609.7,1156.3 1610.7,1156.4 1611.7,1155.6 1612.7,1155.8 1613.8,1156 1614.8,1155.7 1615.8,1156.2 1616.8,1155.7 1617.8,1155.4 1618.8,1155.2 1619.9,1155.7 1620.9,1156.2 1621.9,1156.2 1622.9,1156.5 1623.9,1156 1625,1155.3 1626,1155.1 1627,1154.5 1628,1154.7 1629,1154.7 1630,1155.3 1631.1,1156.3 1632.1,1156 1633.1,1156.9 1634.1,1156.5 1635.1,1155.9 1636.2,1156.4 1637.2,1156.1 1638.2,1155.4 1639.2,1156.4 1640.2,1155.8 1641.2,1154.7 1642.3,1155.2 1643.3,1154.3 1644.3,1154.4 1645.3,1154.7 1646.3,1155.6 1647.4,1155.8 1648.4,1156.2 1649.4,1156.5 1650.4,1155.9 1651.4,1156.1 1652.4,1157.3 1653.5,1159.1 1654.5,1161.4 1655.5,1162.8 1656.5,1162.3 1657.5,1160.4 1658.6,1157.2 1659.6,1153.8 1660.6,1152.8 1661.6,1153.6 1662.6,1153.8 1663.6,1155.4 1664.7,1154.5 1665.7,1151.7 1666.7,1149.1 1667.7,1146.3 1668.7,1145.4 1669.8,1145.9 1670.8,1146.9 1671.8,1150.6 1672.8,1152.5 1673.8,1153.3 1674.8,1153.8 1675.9,1151.7 1676.9,1150 1677.9,1151.1 1678.9,1152.8 1679.9,1156.1 1681,1160.5 1682,1161.9 1683,1162.1 1684,1159.9 1685,1157.6 1686,1156.3 1687.1,1155.9 1688.1,1155.8 1689.1,1155.9 1690.1,1156.2 1691.1,1156.2 1692.2,1156.3 1693.2,1156.5 1694.2,1156.1 1695.2,1156.1 1696.2,1156.4 1697.3,1156 1698.3,1155.4 1699.3,1155.1 1700.3,1154.1 1701.3,1154.3 1702.3,1153.4 1703.4,1153.1 1704.4,1153.5 1705.4,1153.8 1706.4,1156.1 1707.4,1156.6 1708.5,1156.7 1709.5,1155.9 1710.5,1155.2 1711.5,1154.3 1712.5,1154.7 1713.5,1155 1714.6,1155.5 1715.6,1156.2 1716.6,1156.3 1717.6,1156.2 1718.6,1155.3 1719.7,1155.8 1720.7,1155.3 1721.7,1155.3 1722.7,1155.1 1723.7,1154.2 1724.7,1154.1 1725.8,1154.4 1726.8,1155.3 1727.8,1156 1728.8,1156 1729.8,1155.7 1730.9,1155.2 1731.9,1154.8 1732.9,1155.3 1733.9,1155.6 1734.9,1155.9 1735.9,1155.8 1737,1154.9 1738,1155.1 1739,1155 1740,1155.3 1741,1156.5 1742.1,1156.2 1743.1,1155.8 1744.1,1155.3 1745.1,1154.9 1746.1,1155.4 1747.1,1156.2 1748.2,1155.5 1749.2,1155.4 1750.2,1154.2 1751.2,1154.2 1752.2,1154.7 1753.3,1154.6 1754.3,1155.6 1755.3,1155.9 1756.3,1156.3 1757.3,1156.5 1758.3,1156.3 1759.4,1155.8 1760.4,1154.9 1761.4,1154.7 1762.4,1154.7 1763.4,1154.5 1764.5,1155.1 1765.5,1155.1 1766.5,1155.3"/>
<polyline fill="none" stroke="none" marker-start="url(#c)" marker-mid="url(#c)" marker-end="url(#c)" points="207.8,2085.2 208.8,2086.3 209.9,2085.8 210.9,2086.7 211.9,2087.9 212.9,2087.4 213.9,2085.3 214.9,2085.6 216,2084.2 217,2086 218,2085 219,2084.4 220,2084.7 221.1,2086.6 222.1,2086 223.1,2085.5 224.1,2086.8 225.1,2084.9 226.1,2084.2 227.2,2085.9 228.2,2082.8 229.2,2085.3 230.2,2085.1 231.2,2084.9 232.3,2085.2 233.3,2083.6 234.3,2083.8 235.3,2081.5 236.3,2082.3 237.3,2081.9 238.4,2082.2 239.4,2082.9 240.4,2080.4 241.4,2080.2 242.4,2076.4 243.5,2075.2 244.5,2069.1 245.5,2062.6 246.5,2048.2 247.5,2023.7 248.5,1983.7 249.6,1927.2 250.6,1860.5 251.6,1799.4 252.6,1760 253.6,1763 254.7,1812.1 255.7,1877.1 256.7,1940.4 257.7,1989 258.7,2013.1 259.8,2022.5 260.8,2018.7 261.8,2014.6 262.8,2022.8 263.8,2044 264.8,2058 265.9,2069.7 266.9,2076.1 267.9,2079 268.9,2081.1 269.9,2080.1 271,2082 272,2082.8 273,2082.2 274,2083 275,2083.8 276,2084.2 277.1,2082.7 278.1,2084.4 279.1,2085.3 280.1,2086.4 281.1,2085.9 282.2,2086.9 283.2,2085.6 284.2,2085.5 285.2,2088.4 286.2,2086 287.2,2085.3 288.3,2085.9 289.3,2087.3 290.3,2084.7 291.3,2087.1 292.3,2087.8 293.4,2087.7 294.4,2086.5 295.4,2085.3 296.4,2085.1 297.4,2086.3 298.4,2088 299.5,2087.4 300.5,2087.7 301.5,2086.9 302.5,2088.8 303.5,2086.6 304.6,2085.9 305.6,2086.9 306.6,2086.2 307.6,2087.9 308.6,2088.5 309.6,2087.6 310.7,2085.4 311.7,2085.6 312.7,2087.4 313.7,2085.4 314.7,2087.3 315.8,2085.1 316.8,2086.3 317.8,2087.4 318.8,2085.9 319.8,2087.8 320.8,2088 321.9,2088.6 322.9,2086.6 323.9,2087 324.9,2087 325.9,2087.4 327,2085.1 328,2087.4 329,2087.7 330,2085.3 331,2085 332,2086.1 333.1,2088.3 334.1,2086.3 335.1,2083.8 336.1,2082.9 337.1,2079 338.2,2080.2 339.2,2076.1 340.2,2077.3 341.2,2076.2 342.2,2080.1 343.2,2081 344.3,2084.8 345.3,2087 346.3,2087.4 347.3,2087.2 348.3,2088 349.4,2085.4 350.4,2085.3 351.4,2086.6 352.4,2088.2 353.4,2087.2 354.4,2087.9 355.5,2085.3 356.5,2086.7 357.5,2086.5 358.5,2087.6 359.5,2089.6 360.6,2088.1 361.6,2088.5 362.6,2086.7 363.6,2087.1 364.6,2088.2 365.6,2087.7 366.7,2085.3 367.7,2088.4 368.7,2088.3 369.7,2087.5 370.7,2088.1 371.8,2087.7 372.8,2086.6 373.8,2085.2 374.8,2089.4 375.8,2087.3 376.8,2087.2 377.9,2087.3 378.9,2087.5 379.9,2087.7 380.9,2086.1 381.9,2087.8 383,2087.4 384,2087.3 385,2087.1 386,2087.5 387,2086.1 388,2087.3 389.1,2087.1 390.1,2087.3 391.1,2088.5 392.1,2088.3 393.1,2088.5 394.2,2087 395.2,2088.1 396.2,2088.5 397.2,2087 398.2,2086.6 399.2,2089.4 400.3,2085.2 401.3,2087.2 402.3,2087.4 403.3,2086 404.3,2087.2 405.4,2088 406.4,2084.6 407.4,2088.5 408.4,2087.3 409.4,2086.2 410.4,2088.4 411.5,2087.3 412.5,2086.6 413.5,2084.1 414.5,2088 415.5,2086.8 416.6,2085.6 417.6,2085.8 418.6,2086.7 419.6,2084.1 420.6,2083.7 421.7,2082.6 422.7,2081.5 423.7,2081.7 424.7,2082.9 425.7,2083.8 426.7,2086.2 427.8,2085.7 428.8,2085.8 429.8,2087 430.8,2086.6 431.8,2087.9 432.9,2085.1 433.9,2084.4 434.9,2087.5 435.9,2086.6 436.9,2087.3 437.9,2085.5 439,2086.5 440,2086.9 441,2087.2 442,2086.8 443,2088 444.1,2085.8 445.1,2087.2 446.1,2085.3 447.1,2085.2 448.1,2083.3 449.1,2083.9 450.2,2082.1 451.2,2084 452.2,2082.3 453.2,2083.7 454.2,2083.8 455.3,2084.7 456.3,2084.3 457.3,2088.4 458.3,2085.9 459.3,2088.3 460.3,2085.2 461.4,2089.1 462.4,2088 463.4,2088.8 464.4,2084.9 465.4,2088.4 466.5,2086.7 467.5,2087.5 468.5,2089 469.5,2087.2 470.5,2086 471.5,2087 472.6,2085.6 473.6,2087.2 474.6,2086.7 475.6,2087.1 476.6,2086.2 477.7,2084.4 478.7,2086.2 479.7,2086.3 480.7,2087.3 481.7,2087.4 482.7,2084.7 483.8,2087.8 484.8,2087.5 485.8,2086.5 486.8,2086.8 487.8,2083.9 488.9,2089.1 489.9,2085.7 490.9,2085.3 491.9,2087.4 492.9,2086.8 493.9,2085.4 495,2083.9 496,2086.9 497,2087.6 498,2084.5 499,2083.7 500.1,2085.9 501.1,2088 502.1,2083.5 503.1,2085.4 504.1,2083.7 505.1,2085 506.2,2085.3 507.2,2085.2 508.2,2082.8 509.2,2082.6 510.2,2086.7 511.3,2085.1 512.3,2081.6 513.3,2083.9 514.3,2084.8 515.3,2082.7 516.3,2082.3 517.4,2081.5 518.4,2081.1 519.4,2079.8 520.4,2078.8 521.4,2076.8 522.5,2077.3 523.5,2076.3 524.5,2076.1 525.5,2074.6 526.5,2075.8 527.5,2076.5 528.6,2075.5 529.6,2075.2 530.6,2073.6 531.6,2073.4 532.6,2070.6 533.7,2069.7 534.7,2069.6 535.7,2068 536.7,2063.9 537.7,2061.1 538.7,2057.4 539.8,2052.6 540.8,2043 541.8,2024.3 542.8,1998.1 543.8,1958.4 544.9,1903 545.9,1821.7 546.9,1725.6 547.9,1613.8 548.9,1503.7 549.9,1415.4 551,1367.1 552,1373.8 553,1420.3 554,1487 555,1541 556.1,1569.4 557.1,1558.2 558.1,1512.6 559.1,1444.7 560.1,1374.7 561.1,1335.4 562.2,1345.3 563.2,1411 564.2,1515.2 565.2,1631 566.2,1743.5 567.3,1840.4 568.3,1914.1 569.3,1967.2 570.3,2006 571.3,2029.2 572.3,2045.9 573.4,2052.4 574.4,2058.6 575.4,2064.8 576.4,2065 577.4,2067 578.5,2070.6 579.5,2071.9 580.5,2074 581.5,2073 582.5,2076.5 583.6,2075.3 584.6,2072.2 585.6,2073.2 586.6,2070.5 587.6,2068.5 588.6,2067.5 589.7,2065.5 590.7,2066.6 591.7,2071.6 592.7,2073.6 593.7,2075.8 594.8,2078.4 595.8,2083.2 596.8,2083.5 597.8,2084.8 598.8,2082.1 599.8,2082.9 600.9,2083.1 601.9,2085.2 602.9,2085.8 603.9,2084.5 604.9,2084.7 606,2086 607,2084.9 608,2084.5 609,2085.1 610,2086.8 611,2088.2 612.1,2086.1 613.1,2085.7 614.1,2086.3 615.1,2086.6 616.1,2087 617.2,2085.4 618.2,2086.4 619.2,2086.2 620.2,2087.6 621.2,2087.3 622.2,2086.4 623.3,2087.8 624.3,2088.2 625.3,2087.1 626.3,2085.4 627.3,2086.6 628.4,2085.2 629.4,2087.1 630.4,2087.4 631.4,2088.7 632.4,2087.8 633.4,2085.4 634.5,2086.8 635.5,2086.3 636.5,2086.4 637.5,2087.3 638.5,2087.6 639.6,2087.2 640.6,2086.6 641.6,2086.9 642.6,2086.8 643.6,2087.3 644.6,2088.4 645.7,2087.8 646.7,2088.7 647.7,2086.4 648.7,2090.1 649.7,2087.9 650.8,2084.8 651.8,2088.1 652.8,2089 653.8,2087.7 654.8,2086.2 655.8,2087.9 656.9,2087 657.9,2087.7 658.9,2088.2 659.9,2084 660.9,2087.7 662,2088.5 663,2088.4 664,2087.4 665,2087.4 666,2087 667,2087.7 668.1,2089.7 669.1,2087.3 670.1,2088.3 671.1,2088.3 672.1,2089.8 673.2,2088.7 674.2,2088.9 675.2,2088.1 676.2,2089.8 677.2,2088 678.2,2087.9 679.3,2089.4 680.3,2088.8 681.3,2089.1 682.3,2087 683.3,2091.1 684.4,2088.5 685.4,2090.1 686.4,2088.6 687.4,2087.1 688.4,2088.9 689.4,2088 690.5,2089.2 691.5,2085.8 692.5,2087.1 693.5,2086.8 694.5,2089.8 695.6,2089.5 696.6,2086.9 697.6,2088.4 698.6,2088.5 699.6,2087.8 700.6,2089.7 701.7,2087.3 702.7,2088.2 703.7,2087.7 704.7,2089 705.7,2087.6 706.8,2089.1 707.8,2087.1 708.8,2086.9 709.8,2087.2 710.8,2087.6 711.8,2087.5 712.9,2091.5 713.9,2087.2 714.9,2088.6 715.9,2088.1 716.9,2088.6 718,2089.9 719,2088.9 720,2087.4 721,2086.5 722,2089 723,2089.3 724.1,2086.5 725.1,2089.2 726.1,2085.7 727.1,2088.1 728.1,2089.2 729.2,2086.9 730.2,2086 731.2,2089.7 732.2,2086.1 733.2,2088.1 734.3,2085.8 735.3,2087.6 736.3,2088.5 737.3,2085.2 738.3,2083.6 739.3,2081 740.4,2080.2 741.4,2080.5 742.4,2081.3 743.4,2082 744.4,2082.6 745.5,2084.4 746.5,2084.9 747.5,2088.7 748.5,2086.2 749.5,2087 750.5,2084.2 751.6,2086.6 752.6,2088.2 753.6,2086.9 754.6,2089.1 755.6,2088.3 756.7,2089.8 757.7,2085.8 758.7,2086.8 759.7,2088.9 760.7,2087.5 761.7,2086.2 762.8,2086.6 763.8,2086.7 764.8,2088 765.8,2087.6 766.8,2086.6 767.9,2085.4 768.9,2087.3 769.9,2087.4 770.9,2084.4 771.9,2086.5 772.9,2083.5 774,2083.8 775,2081.7 776,2078.5 777,2075.9 778,2069.4 779.1,2062 780.1,2049.3 781.1,2033.5 782.1,2019.5 783.1,2012.1 784.1,2012.1 785.2,2023.2 786.2,2035.6 787.2,2046.4 788.2,2056.1 789.2,2059.7 790.3,2058.4 791.3,2046.3 792.3,2030.8 793.3,2001.9 794.3,1968.5 795.3,1924 796.4,1885.3 797.4,1851.3 798.4,1842.1 799.4,1853.1 800.4,1883.3 801.5,1927.2 802.5,1968.1 803.5,2005 804.5,2035.2 805.5,2051.7 806.5,2064.1 807.6,2073.6 808.6,2076.1 809.6,2080.4 810.6,2082.3 811.6,2082.2 812.7,2083.8 813.7,2080.8 814.7,2085.7 815.7,2083 816.7,2082.5 817.7,2085.6 818.8,2084.7 819.8,2081.3 820.8,2082 821.8,2080.8 822.8,2080.3 823.9,2082.9 824.9,2084.8 825.9,2087.9 826.9,2085.3 827.9,2087.4 828.9,2086.5 830,2087 831,2089.2 832,2085.6 833,2086.5 834,2086.9 835.1,2089.4 836.1,2088.6 837.1,2088.8 838.1,2088.7 839.1,2089.6 840.1,2087.8 841.2,2088.1 842.2,2088 843.2,2089 844.2,2086.9 845.2,2088.3 846.3,2091.8 847.3,2089.3 848.3,2088.7 849.3,2087.5 850.3,2089 851.3,2089 852.4,2089.5 853.4,2087.9 854.4,2089.3 855.4,2089.5 856.4,2089.6 857.5,2088.1 858.5,2089.4 859.5,2090.8 860.5,2088.1 861.5,2089.7 862.5,2088.4 863.6,2088.4 864.6,2087.4 865.6,2087.6 866.6,2089.6 867.6,2089.1 868.7,2090.5 869.7,2086.9 870.7,2088.4 871.7,2087.3 872.7,2089.3 873.7,2091.4 874.8,2087.1 875.8,2088.9 876.8,2088.8 877.8,2088.9 878.8,2088.2 879.9,2088.4 880.9,2090.9 881.9,2087.7 882.9,2089.7 883.9,2089.6 884.9,2087 886,2087.9 887,2089.5 888,2091.3 889,2088.9 890,2088.4 891.1,2089.2 892.1,2090.6 893.1,2090 894.1,2090.6 895.1,2088.8 896.2,2088.1 897.2,2087.9 898.2,2090 899.2,2088.8 900.2,2088.4 901.2,2089.7 902.3,2089.3 903.3,2086.6 904.3,2088.9 905.3,2088.1 906.3,2089.6 907.4,2089.1 908.4,2091.2 909.4,2089.1 910.4,2087.7 911.4,2086.6 912.4,2087.7 913.5,2088.3 914.5,2089.1 915.5,2089.8 916.5,2089.3 917.5,2088.4 918.6,2090 919.6,2088 920.6,2090.3 921.6,2091.2 922.6,2090.3 923.6,2091.1 924.7,2090.7 925.7,2087.7 926.7,2089.3 927.7,2088.8 928.7,2087.7 929.8,2087.5 930.8,2089.7 931.8,2087.4 932.8,2088.6 933.8,2089 934.8,2088.5 935.9,2090.7 936.9,2089.9 937.9,2089.1 938.9,2088.2 939.9,2089.4 941,2089.1 942,2087.7 943,2087.2 944,2087.9 945,2087.3 946,2089.3 947.1,2089.2 948.1,2088.4 949.1,2089.1 950.1,2089.3 951.1,2086.7 952.2,2088.9 953.2,2089.8 954.2,2088 955.2,2086.3 956.2,2088.4 957.2,2087 958.3,2088.9 959.3,2088.9 960.3,2089.1 961.3,2088.4 962.3,2085.9 963.4,2089.4 964.4,2086 965.4,2089 966.4,2088 967.4,2086.6 968.4,2086.7 969.5,2087 970.5,2089.1 971.5,2086.5 972.5,2088 973.5,2083.5 974.6,2086.5 975.6,2085.8 976.6,2087.1 977.6,2085.9 978.6,2086.4 979.6,2083.1 980.7,2083.9 981.7,2082.1 982.7,2082.3 983.7,2080.4 984.7,2075.8 985.8,2075 986.8,2070.8 987.8,2060.9 988.8,2052.9 989.8,2039 990.8,2020.9 991.9,2003.1 992.9,1978.5 993.9,1956.3 994.9,1929.7 995.9,1908.6 997,1895.2 998,1887.5 999,1890.7 1000,1901.3 1001,1918.9 1002,1945 1003.1,1966.4 1004.1,1992.7 1005.1,2013.3 1006.1,2032.6 1007.1,2042.6 1008.2,2056.3 1009.2,2064.2 1010.2,2070.5 1011.2,2070.8 1012.2,2074.5 1013.2,2070.5 1014.3,2067.2 1015.3,2072.4 1016.3,2076 1017.3,2079.2 1018.3,2083.8 1019.4,2084.4 1020.4,2084.2 1021.4,2085.7 1022.4,2085.8 1023.4,2087 1024.4,2086.5 1025.5,2087 1026.5,2085.6 1027.5,2086.6 1028.5,2087.9 1029.5,2090.7 1030.6,2087.1 1031.6,2087.1 1032.6,2089.3 1033.6,2090.6 1034.6,2089.7 1035.6,2087.3 1036.7,2089.8 1037.7,2089.1 1038.7,2088.4 1039.7,2087.2 1040.7,2088.8 1041.8,2088.9 1042.8,2089.5 1043.8,2087 1044.8,2087.7 1045.8,2089.1 1046.8,2090.7 1047.9,2090 1048.9,2088.4 1049.9,2090 1050.9,2088.1 1051.9,2088.8 1053,2088.9 1054,2088.5 1055,2088.7 1056,2090.3 1057,2089.7 1058.1,2086.5 1059.1,2090.8 1060.1,2090 1061.1,2088.1 1062.1,2089.6 1063.1,2090.4 1064.2,2091 1065.2,2088.8 1066.2,2088.3 1067.2,2087.8 1068.2,2089.4 1069.3,2088.3 1070.3,2090.8 1071.3,2089.3 1072.3,2090.4 1073.3,2089.4 1074.3,2088.7 1075.4,2088.3 1076.4,2090.8 1077.4,2088.1 1078.4,2090.2 1079.4,2090.8 1080.5,2089.8 1081.5,2091.4 1082.5,2089.6 1083.5,2089.3 1084.5,2089.9 1085.5,2089 1086.6,2090 1087.6,2089.7 1088.6,2091.4 1089.6,2089.6 1090.6,2090.7 1091.7,2090.2 1092.7,2089.8 1093.7,2089.5 1094.7,2091.7 1095.7,2091.6 1096.7,2090 1097.8,2089.1 1098.8,2089.3 1099.8,2088.6 1100.8,2088.1 1101.8,2089.1 1102.9,2089.7 1103.9,2090.9 1104.9,2090.8 1105.9,2090.2 1106.9,2089.4 1107.9,2089.4 1109,2089.7 1110,2089.8 1111,2088.9 1112,2089.4 1113,2089.3 1114.1,2089.3 1115.1,2090.3 1116.1,2090.9 1117.1,2089 1118.1,2089.1 1119.1,2089.9 1120.2,2090.1 1121.2,2086.8 1122.2,2090.5 1123.2,2089.8 1124.2,2089.2 1125.3,2090.9 1126.3,2089.3 1127.3,2087.3 1128.3,2088.3 1129.3,2088.7 1130.3,2088.7 1131.4,2089.2 1132.4,2088.2 1133.4,2089.5 1134.4,2089.8 1135.4,2089.1 1136.5,2088.1 1137.5,2088.8 1138.5,2088.3 1139.5,2091.5 1140.5,2087.6 1141.5,2086.1 1142.6,2087.3 1143.6,2089.2 1144.6,2089.7 1145.6,2088.3 1146.6,2089.7 1147.7,2087.6 1148.7,2089 1149.7,2087.1 1150.7,2086.5 1151.7,2090.4 1152.7,2087.4 1153.8,2088.4 1154.8,2089.1 1155.8,2087.9 1156.8,2087.1 1157.8,2085.3 1158.9,2088 1159.9,2084.5 1160.9,2082.8 1161.9,2083.8 1162.9,2082.9 1163.9,2082.2 1165,2081.6 1166,2076.8 1167,2073 1168,2067 1169,2057.4 1170.1,2050.1 1171.1,2038.7 1172.1,2023.4 1173.1,2011.4 1174.1,1994.9 1175.1,1978.1 1176.2,1964.7 1177.2,1953.2 1178.2,1949.5 1179.2,1947.4 1180.2,1952.2 1181.3,1960.1 1182.3,1969 1183.3,1974.6 1184.3,1979.6 1185.3,1985.6 1186.3,1986.6 1187.4,1989 1188.4,1993.7 1189.4,1998.3 1190.4,2007 1191.4,2019.3 1192.5,2028.7 1193.5,2040.3 1194.5,2048.4 1195.5,2058.8 1196.5,2063.9 1197.5,2070.4 1198.6,2074.2 1199.6,2079 1200.6,2083 1201.6,2080.9 1202.6,2084.5 1203.7,2083.5 1204.7,2085.3 1205.7,2085.5 1206.7,2084.6 1207.7,2086.7 1208.7,2085.7 1209.8,2089.4 1210.8,2086.7 1211.8,2088.3 1212.8,2088.3 1213.8,2088.3 1214.9,2088 1215.9,2086.6 1216.9,2090.9 1217.9,2088.7 1218.9,2089.7 1220,2087.5 1221,2089.5 1222,2088.5 1223,2089.6 1224,2088.4 1225,2088.1 1226.1,2089.8 1227.1,2089.3 1228.1,2091.1 1229.1,2089.1 1230.1,2088.5 1231.2,2090.2 1232.2,2088.2 1233.2,2092.1 1234.2,2091.9 1235.2,2091.3 1236.2,2090.3 1237.3,2089.7 1238.3,2089.8 1239.3,2089.8 1240.3,2088.9 1241.3,2090.4 1242.4,2091.3 1243.4,2091.3 1244.4,2087.3 1245.4,2092.7 1246.4,2090.1 1247.4,2088.1 1248.5,2089.3 1249.5,2090.9 1250.5,2089.9 1251.5,2088.9 1252.5,2088.5 1253.6,2091 1254.6,2089 1255.6,2089.6 1256.6,2088.6 1257.6,2088.3 1258.6,2090.3 1259.7,2091.7 1260.7,2089.5 1261.7,2087.8 1262.7,2089.1 1263.7,2089.7 1264.8,2087 1265.8,2091.2 1266.8,2088.8 1267.8,2090.6 1268.8,2089.9 1269.8,2089.8 1270.9,2088.1 1271.9,2091 1272.9,2090.5 1273.9,2091.8 1274.9,2089.3 1276,2090.4 1277,2089.3 1278,2091.1 1279,2090.2 1280,2088.5 1281,2090 1282.1,2089 1283.1,2089.1 1284.1,2090.1 1285.1,2091.6 1286.1,2088.5 1287.2,2089.4 1288.2,2088.4 1289.2,2092 1290.2,2091.5 1291.2,2092.1 1292.2,2090.5 1293.3,2088.2 1294.3,2088.7 1295.3,2089.4 1296.3,2089.1 1297.3,2088.3 1298.4,2089.6 1299.4,2088.7 1300.4,2088.9 1301.4,2091.6 1302.4,2089.4 1303.4,2087.2 1304.5,2089.3 1305.5,2088.9 1306.5,2089.3 1307.5,2089.1 1308.5,2087 1309.6,2088.6 1310.6,2089.4 1311.6,2091.8 1312.6,2088.6 1313.6,2090.1 1314.6,2089.7 1315.7,2086.4 1316.7,2086.3 1317.7,2089.2 1318.7,2085.6 1319.7,2085.8 1320.8,2086.9 1321.8,2084.7 1322.8,2087.1 1323.8,2086 1324.8,2085.5 1325.8,2084.1 1326.9,2080.3 1327.9,2081.1 1328.9,2078.2 1329.9,2074.4 1330.9,2068.2 1332,2062.7 1333,2053.7 1334,2046.6 1335,2037.4 1336,2025.9 1337,2015 1338.1,2007.2 1339.1,1999.1 1340.1,1993.8 1341.1,1996.5 1342.1,1998.1 1343.2,2000.1 1344.2,2005.8 1345.2,2007.7 1346.2,2006.8 1347.2,2000.2 1348.2,1991.1 1349.3,1978.8 1350.3,1961.5 1351.3,1939.5 1352.3,1916.9 1353.3,1895.4 1354.4,1869.9 1355.4,1848 1356.4,1829.7 1357.4,1819.4 1358.4,1816.1 1359.4,1820.2 1360.5,1833.8 1361.5,1849.9 1362.5,1873.2 1363.5,1897 1364.5,1924.6 1365.6,1949.2 1366.6,1973.5 1367.6,1994.9 1368.6,2011.4 1369.6,2028.6 1370.7,2040.5 1371.7,2052.8 1372.7,2059.5 1373.7,2067.9 1374.7,2071.2 1375.7,2074.9 1376.8,2076.2 1377.8,2078.7 1378.8,2080.7 1379.8,2080.7 1380.8,2082.4 1381.9,2082.8 1382.9,2083.1 1383.9,2084.7 1384.9,2085.4 1385.9,2085.1 1386.9,2086.4 1388,2085.8 1389,2085.2 1390,2085.8 1391,2087.6 1392,2088.9 1393.1,2087.6 1394.1,2087.9 1395.1,2086.6 1396.1,2088.6 1397.1,2088.6 1398.1,2087.6 1399.2,2089.2 1400.2,2088.9 1401.2,2086.8 1402.2,2087.2 1403.2,2088.3 1404.3,2088.9 1405.3,2090.4 1406.3,2088.7 1407.3,2089.4 1408.3,2089.3 1409.3,2090.2 1410.4,2089.7 1411.4,2090 1412.4,2089.4 1413.4,2088.2 1414.4,2089.5 1415.5,2092 1416.5,2091.2 1417.5,2092 1418.5,2091.1 1419.5,2089.5 1420.5,2089.8 1421.6,2091 1422.6,2090 1423.6,2091.3 1424.6,2092.1 1425.6,2092.1 1426.7,2091.5 1427.7,2088.8 1428.7,2092.1 1429.7,2089.1 1430.7,2089 1431.7,2090.8 1432.8,2090.7 1433.8,2091.4 1434.8,2090.7 1435.8,2089.9 1436.8,2090.7 1437.9,2089.6 1438.9,2089.4 1439.9,2090.4 1440.9,2090.4 1441.9,2090.9 1442.9,2090.5 1444,2092.2 1445,2090.4 1446,2090.7 1447,2092 1448,2088.4 1449.1,2092.2 1450.1,2092 1451.1,2090.7 1452.1,2093.4 1453.1,2092 1454.1,2092.9 1455.2,2092.2 1456.2,2091.3 1457.2,2090.7 1458.2,2089.8 1459.2,2090.2 1460.3,2089.7 1461.3,2090.5 1462.3,2091.7 1463.3,2089.9 1464.3,2091.8 1465.3,2092 1466.4,2089.4 1467.4,2090.3 1468.4,2091 1469.4,2090.4 1470.4,2090.2 1471.5,2092.9 1472.5,2091.4 1473.5,2092.7 1474.5,2091.2 1475.5,2092.1 1476.5,2089.7 1477.6,2090.7 1478.6,2092.3 1479.6,2091.4 1480.6,2092.8 1481.6,2091.3 1482.7,2090.7 1483.7,2091.1 1484.7,2093.7 1485.7,2091.8 1486.7,2090.8 1487.7,2091.1 1488.8,2090.1 1489.8,2093 1490.8,2090.8 1491.8,2092.2 1492.8,2091.2 1493.9,2091 1494.9,2090.7 1495.9,2092.2 1496.9,2091.3 1497.9,2092.9 1498.9,2093.2 1500,2090.9 1501,2091.6 1502,2093.5 1503,2092.6 1504,2091.5 1505.1,2089.7 1506.1,2090.3 1507.1,2090.6 1508.1,2093.7 1509.1,2091.7 1510.1,2091 1511.2,2091.1 1512.2,2091.1 1513.2,2091.9 1514.2,2089.5 1515.2,2089.8 1516.3,2091.7 1517.3,2092.8 1518.3,2089.2 1519.3,2092.3 1520.3,2090.2 1521.3,2089.4 1522.4,2092.8 1523.4,2091.3 1524.4,2092.1 1525.4,2091 1526.4,2091.3 1527.5,2089.3 1528.5,2091 1529.5,2091.7 1530.5,2090.3 1531.5,2092 1532.6,2092.1 1533.6,2089 1534.6,2092.7 1535.6,2092.3 1536.6,2091.7 1537.6,2093 1538.7,2094.2 1539.7,2090.5 1540.7,2092.7 1541.7,2092.4 1542.7,2092.2 1543.8,2092.9 1544.8,2093 1545.8,2091.5 1546.8,2088.9 1547.8,2090.9 1548.8,2090.8 1549.9,2093.5 1550.9,2091.8 1551.9,2093.2 1552.9,2090.8 1553.9,2092 1555,2091.7 1556,2091.8 1557,2092.4 1558,2093.5 1559,2091 1560,2093.3 1561.1,2093 1562.1,2091.9 1563.1,2092.3 1564.1,2091 1565.1,2089.9 1566.2,2090.5 1567.2,2090.2 1568.2,2089.9 1569.2,2088.4 1570.2,2091.1 1571.2,2088 1572.3,2089.3 1573.3,2089.6 1574.3,2088.4 1575.3,2089.3 1576.3,2088.6 1577.4,2088.5 1578.4,2093.1 1579.4,2090.8 1580.4,2088.7 1581.4,2090.3 1582.4,2089.7 1583.5,2091.4 1584.5,2093.4 1585.5,2093 1586.5,2090.9 1587.5,2090.6 1588.6,2092.6 1589.6,2092.1 1590.6,2091.4 1591.6,2093.9 1592.6,2092.2 1593.6,2089.8 1594.7,2089.2 1595.7,2091.9 1596.7,2089.6 1597.7,2092.4 1598.7,2092.8 1599.8,2094.5 1600.8,2090.6 1601.8,2092.2 1602.8,2089 1603.8,2091.4 1604.8,2091.5 1605.9,2093.9 1606.9,2089.9 1607.9,2092.2 1608.9,2091.9 1609.9,2094.4 1611,2090.6 1612,2090.5 1613,2092.4 1614,2091.6 1615,2091.2 1616,2090.5 1617.1,2091.5 1618.1,2089.5 1619.1,2091.9 1620.1,2092.3 1621.1,2092.1 1622.2,2094.6 1623.2,2092.4 1624.2,2090.2 1625.2,2091.1 1626.2,2092.4 1627.2,2090.9 1628.3,2093.7 1629.3,2091.6 1630.3,2090.6 1631.3,2090.3 1632.3,2092 1633.4,2089.9 1634.4,2088.7 1635.4,2091.3 1636.4,2089.8 1637.4,2092.4 1638.4,2092.7 1639.5,2089.4 1640.5,2089.8 1641.5,2089.3 1642.5,2089.7 1643.5,2088.7 1644.6,2086.5 1645.6,2084.2 1646.6,2084.9 1647.6,2084.7 1648.6,2078.8 1649.6,2076.8 1650.7,2073.5 1651.7,2070.6 1652.7,2064.3 1653.7,2063.4 1654.7,2059.7 1655.8,2059.9 1656.8,2056.7 1657.8,2056.3 1658.8,2056.1 1659.8,2057.4 1660.8,2061.1 1661.9,2060.8 1662.9,2066.9 1663.9,2068.6 1664.9,2069.7 1665.9,2072.5 1667,2070.4 1668,2069.4 1669,2068.3 1670,2062.4 1671,2060.3 1672,2054.7 1673.1,2050.1 1674.1,2044.3 1675.1,2036.3 1676.1,2029.5 1677.1,2024.1 1678.2,2018.4 1679.2,2019.8 1680.2,2018.1 1681.2,2020.9 1682.2,2021.1 1683.2,2029 1684.3,2035.4 1685.3,2043.1 1686.3,2047.8 1687.3,2056.2 1688.3,2061.7 1689.4,2070 1690.4,2071 1691.4,2076 1692.4,2079.1 1693.4,2080.9 1694.5,2084.6 1695.5,2086.2 1696.5,2086.3 1697.5,2087.5 1698.5,2089 1699.5,2089.2 1700.6,2090.2 1701.6,2089.1 1702.6,2089 1703.6,2090.4 1704.6,2088.3 1705.7,2092.5 1706.7,2091.1 1707.7,2088.9 1708.7,2091.6 1709.7,2093.1 1710.7,2089.6 1711.8,2090.7 1712.8,2092.8 1713.8,2090.5 1714.8,2092.7 1715.8,2093.2 1716.9,2091.8 1717.9,2092.3 1718.9,2093.1 1719.9,2092.2 1720.9,2093 1721.9,2091.8 1723,2091.9 1724,2091 1725,2092.5 1726,2093.6 1727,2093.6 1728.1,2092.4 1729.1,2090.2 1730.1,2091.1 1731.1,2092.9 1732.1,2091 1733.1,2093.6 1734.2,2091 1735.2,2092.7 1736.2,2091.3 1737.2,2091.5 1738.2,2092.6 1739.3,2091.9 1740.3,2093.6 1741.3,2092.4 1742.3,2091 1743.3,2087.4 1744.3,2091.5 1745.4,2092.3 1746.4,2093.6 1747.4,2091.1 1748.4,2094.4 1749.4,2093.4 1750.5,2092 1751.5,2093.9 1752.5,2090.6 1753.5,2091.2 1754.5,2093.2 1755.5,2093.2 1756.6,2094.1 1757.6,2094.2 1758.6,2092 1759.6,2091.8 1760.6,2092.1 1761.7,2092.2 1762.7,2093.2 1763.7,2092.1 1764.7,2094.4 1765.7,2092.6 1766.7,2090.8"/>
<polyline fill="none" stroke="#000" stroke-width="3" stroke-linejoin="round" points="207.8,2086.1 208.1,2086.1 208.5,2086.1 208.8,2086.1 209.1,2086.1 209.4,2086.1 209.7,2086.1 210,2086 210.4,2086 210.7,2086 211,2086 211.3,2086 211.6,2086 212,2086 212.3,2086 212.6,2085.9 212.9,2085.9 213.2,2085.9 213.5,2085.9 213.9,2085.9 214.2,2085.9 214.5,2085.8 214.8,2085.8 215.1,2085.8 215.5,2085.8 215.8,2085.8 216.1,2085.8 216.4,2085.7 216.7,2085.7 217,2085.7 217.4,2085.7 217.7,2085.7 218,2085.6 218.3,2085.6 218.6,2085.6 219,2085.6 219.3,2085.5 219.6,2085.5 219.9,2085.5 220.2,2085.5 220.5,2085.4 220.9,2085.4 221.2,2085.4 221.5,2085.3 221.8,2085.3 222.1,2085.3 222.5,2085.2 222.8,2085.2 223.1,2085.2 223.4,2085.1 223.7,2085.1 224,2085.1 224.4,2085 224.7,2085 225,2084.9 225.3,2084.9 225.6,2084.8 226,2084.8 226.3,2084.7 226.6,2084.7 226.9,2084.6 227.2,2084.6 227.5,2084.5 227.9,2084.5 228.2,2084.4 228.5,2084.3 228.8,2084.3 229.1,2084.2 229.5,2084.1 229.8,2084 230.1,2084 230.4,2083.9 230.7,2083.8 231,2083.7 231.4,2083.6 231.7,2083.5 232,2083.4 232.3,2083.3 232.6,2083.2 233,2083.1 233.3,2083 233.6,2082.8 233.9,2082.7 234.2,2082.5 234.5,2082.4 234.9,2082.2 235.2,2082.1 235.5,2081.9 235.8,2081.7 236.1,2081.5 236.5,2081.3 236.8,2081.1 237.1,2080.9 237.4,2080.7 237.7,2080.4 238,2080.1 238.4,2079.9 238.7,2079.5 239,2079.2 239.3,2078.9 239.6,2078.5 240,2078.1 240.3,2077.7 240.6,2077.2 240.9,2076.7 241.2,2076.2 241.5,2075.6 241.9,2075 242.2,2074.2 242.5,2073.4 242.8,2072.5 243.1,2071.4 243.5,2070.2 243.8,2068.7 244.1,2066.9 244.4,2064.8 244.7,2062.1 245,2059 245.4,2055.1 245.7,2050.4 246,2044.6 246.3,2037.6 246.6,2029.2 247,2019.2 247.3,2007.4 247.6,1993.6 247.9,1977.6 248.2,1959.4 248.5,1938.8 248.9,1916 249.2,1891 249.5,1864 249.8,1835.3 250.1,1805.5 250.5,1775 250.8,1744.6 251.1,1715 251.4,1687.4 251.7,1662.6 252,1641.8 252.4,1626 252.7,1616.1 253,1612.7 253.3,1616 253.6,1625.7 254,1641.4 254.3,1662.1 254.6,1686.7 254.9,1714.3 255.2,1743.6 255.6,1773.8 255.9,1803.9 256.2,1833.4 256.5,1861.6 256.8,1887.9 257.1,1912.1 257.5,1933.9 257.8,1953.1 258.1,1969.6 258.4,1983.5 258.7,1994.8 259.1,2003.8 259.4,2010.6 259.7,2015.4 260,2018.7 260.3,2020.7 260.6,2021.9 261,2022.6 261.3,2023.2 261.6,2024.1 261.9,2025.7 262.2,2028 262.6,2031.2 262.9,2035 263.2,2039.2 263.5,2043.7 263.8,2048.3 264.1,2052.7 264.5,2056.8 264.8,2060.6 265.1,2064 265.4,2067 265.7,2069.5 266.1,2071.6 266.4,2073.4 266.7,2074.8 267,2076 267.3,2076.9 267.6,2077.7 268,2078.3 268.3,2078.9 268.6,2079.3 268.9,2079.7 269.2,2080.1 269.6,2080.4 269.9,2080.7 270.2,2081 270.5,2081.2 270.8,2081.5 271.1,2081.7 271.5,2081.9 271.8,2082.1 272.1,2082.2 272.4,2082.4 272.7,2082.6 273.1,2082.7 273.4,2082.9 273.7,2083 274,2083.1 274.3,2083.3 274.6,2083.4 275,2083.5 275.3,2083.6 275.6,2083.7 275.9,2083.8 276.2,2083.9 276.6,2084 276.9,2084.1 277.2,2084.2 277.5,2084.3 277.8,2084.3 278.1,2084.4 278.5,2084.5 278.8,2084.5 279.1,2084.6 279.4,2084.7 279.7,2084.7 280.1,2084.8 280.4,2084.8 280.7,2084.9 281,2085 281.3,2085 281.6,2085.1 282,2085.1 282.3,2085.1 282.6,2085.2 282.9,2085.2 283.2,2085.3 283.6,2085.3 283.9,2085.4 284.2,2085.4 284.5,2085.4 284.8,2085.5 285.1,2085.5 285.5,2085.5 285.8,2085.6 286.1,2085.6 286.4,2085.6 286.7,2085.7 287.1,2085.7 287.4,2085.7 287.7,2085.7 288,2085.8 288.3,2085.8 288.6,2085.8 289,2085.8 289.3,2085.9 289.6,2085.9 289.9,2085.9 290.2,2085.9 290.6,2086 290.9,2086 291.2,2086 291.5,2086 291.8,2086 292.1,2086.1 292.5,2086.1 292.8,2086.1 293.1,2086.1 293.4,2086.1 293.7,2086.1 294.1,2086.2 294.4,2086.2 294.7,2086.2 295,2086.2 295.3,2086.2 295.6,2086.2 296,2086.3 296.3,2086.3 296.6,2086.3 296.9,2086.3 297.2,2086.3 297.6,2086.3 297.9,2086.3 298.2,2086.4 298.5,2086.4 298.8,2086.4 299.1,2086.4 299.5,2086.4 299.8,2086.4 300.1,2086.4 300.4,2086.4 300.7,2086.4 301.1,2086.5 301.4,2086.5 301.7,2086.5 302,2086.5 302.3,2086.5 302.6,2086.5 303,2086.5 303.3,2086.5 303.6,2086.5 303.9,2086.5 304.2,2086.5 304.6,2086.6 304.9,2086.6 305.2,2086.6 305.5,2086.6 305.8,2086.6 306.1,2086.6 306.5,2086.6 306.8,2086.6 307.1,2086.6 307.4,2086.6 307.7,2086.6 308.1,2086.6 308.4,2086.6 308.7,2086.6 309,2086.7 309.3,2086.7 309.6,2086.7 310,2086.7 310.3,2086.7 310.6,2086.7 310.9,2086.7 311.2,2086.7 311.6,2086.7 311.9,2086.7 312.2,2086.7 312.5,2086.7 312.8,2086.7 313.1,2086.7 313.5,2086.7 313.8,2086.7 314.1,2086.7 314.4,2086.7 314.7,2086.7 315.1,2086.8 315.4,2086.8 315.7,2086.8 316,2086.8 316.3,2086.8 316.6,2086.8 317,2086.8 317.3,2086.8 317.6,2086.8 317.9,2086.8 318.2,2086.8 318.6,2086.8 318.9,2086.8 319.2,2086.8 319.5,2086.8 319.8,2086.8 320.1,2086.8 320.5,2086.8 320.8,2086.8 321.1,2086.8 321.4,2086.8 321.7,2086.8 322.1,2086.8 322.4,2086.8 322.7,2086.8 323,2086.8 323.3,2086.8 323.6,2086.8 324,2086.8 324.3,2086.8 324.6,2086.8 324.9,2086.8 325.2,2086.8 325.6,2086.8 325.9,2086.8 326.2,2086.8 326.5,2086.8 326.8,2086.8 327.1,2086.8 327.5,2086.8 327.8,2086.8 328.1,2086.8 328.4,2086.8 328.7,2086.7 329.1,2086.7 329.4,2086.7 329.7,2086.7 330,2086.7 330.3,2086.7 330.6,2086.7 331,2086.6 331.3,2086.6 331.6,2086.5 331.9,2086.5 332.2,2086.4 332.6,2086.3 332.9,2086.2 333.2,2086.1 333.5,2086 333.8,2085.8 334.1,2085.6 334.5,2085.3 334.8,2085 335.1,2084.6 335.4,2084.2 335.7,2083.7 336.1,2083.2 336.4,2082.6 336.7,2082 337,2081.3 337.3,2080.6 337.6,2079.9 338,2079.3 338.3,2078.6 338.6,2078.1 338.9,2077.6 339.2,2077.2 339.6,2077 339.9,2076.9 340.2,2077 340.5,2077.2 340.8,2077.6 341.1,2078.1 341.5,2078.6 341.8,2079.3 342.1,2080 342.4,2080.7 342.7,2081.3 343.1,2082 343.4,2082.6 343.7,2083.2 344,2083.8 344.3,2084.2 344.6,2084.7 345,2085 345.3,2085.4 345.6,2085.6 345.9,2085.9 346.2,2086.1 346.6,2086.2 346.9,2086.3 347.2,2086.5 347.5,2086.5 347.8,2086.6 348.1,2086.7 348.5,2086.7 348.8,2086.8 349.1,2086.8 349.4,2086.8 349.7,2086.8 350.1,2086.9 350.4,2086.9 350.7,2086.9 351,2086.9 351.3,2086.9 351.6,2086.9 352,2086.9 352.3,2087 352.6,2087 352.9,2087 353.2,2087 353.6,2087 353.9,2087 354.2,2087 354.5,2087 354.8,2087 355.1,2087 355.5,2087 355.8,2087 356.1,2087.1 356.4,2087.1 356.7,2087.1 357.1,2087.1 357.4,2087.1 357.7,2087.1 358,2087.1 358.3,2087.1 358.6,2087.1 359,2087.1 359.3,2087.1 359.6,2087.1 359.9,2087.1 360.2,2087.1 360.6,2087.1 360.9,2087.1 361.2,2087.1 361.5,2087.1 361.8,2087.1 362.1,2087.1 362.5,2087.1 362.8,2087.1 363.1,2087.1 363.4,2087.1 363.7,2087.1 364.1,2087.1 364.4,2087.1 364.7,2087.1 365,2087.2 365.3,2087.2 365.6,2087.2 366,2087.2 366.3,2087.2 366.6,2087.2 366.9,2087.2 367.2,2087.2 367.6,2087.2 367.9,2087.2 368.2,2087.2 368.5,2087.2 368.8,2087.2 369.1,2087.2 369.5,2087.2 369.8,2087.2 370.1,2087.2 370.4,2087.2 370.7,2087.2 371.1,2087.2 371.4,2087.2 371.7,2087.2 372,2087.2 372.3,2087.2 372.6,2087.2 373,2087.2 373.3,2087.2 373.6,2087.2 373.9,2087.2 374.2,2087.2 374.6,2087.2 374.9,2087.2 375.2,2087.2 375.5,2087.2 375.8,2087.2 376.1,2087.2 376.5,2087.2 376.8,2087.2 377.1,2087.2 377.4,2087.2 377.7,2087.2 378.1,2087.2 378.4,2087.2 378.7,2087.2 379,2087.2 379.3,2087.2 379.6,2087.2 380,2087.2 380.3,2087.2 380.6,2087.2 380.9,2087.2 381.2,2087.2 381.6,2087.2 381.9,2087.2 382.2,2087.2 382.5,2087.2 382.8,2087.2 383.1,2087.2 383.5,2087.2 383.8,2087.2 384.1,2087.2 384.4,2087.2 384.7,2087.2 385.1,2087.2 385.4,2087.2 385.7,2087.2 386,2087.2 386.3,2087.2 386.6,2087.2 387,2087.2 387.3,2087.2 387.6,2087.2 387.9,2087.2 388.2,2087.2 388.6,2087.2 388.9,2087.2 389.2,2087.2 389.5,2087.2 389.8,2087.2 390.1,2087.2 390.5,2087.2 390.8,2087.2 391.1,2087.2 391.4,2087.2 391.7,2087.2 392.1,2087.2 392.4,2087.2 392.7,2087.2 393,2087.2 393.3,2087.2 393.6,2087.2 394,2087.2 394.3,2087.2 394.6,2087.2 394.9,2087.2 395.2,2087.2 395.6,2087.2 395.9,2087.2 396.2,2087.2 396.5,2087.2 396.8,2087.2 397.1,2087.2 397.5,2087.2 397.8,2087.2 398.1,2087.2 398.4,2087.2 398.7,2087.2 399.1,2087.2 399.4,2087.2 399.7,2087.2 400,2087.2 400.3,2087.2 400.6,2087.2 401,2087.2 401.3,2087.2 401.6,2087.2 401.9,2087.2 402.2,2087.2 402.6,2087.2 402.9,2087.2 403.2,2087.2 403.5,2087.2 403.8,2087.2 404.1,2087.2 404.5,2087.2 404.8,2087.2 405.1,2087.2 405.4,2087.2 405.7,2087.2 406.1,2087.2 406.4,2087.2 406.7,2087.2 407,2087.2 407.3,2087.2 407.6,2087.2 408,2087.2 408.3,2087.2 408.6,2087.2 408.9,2087.2 409.2,2087.2 409.6,2087.2 409.9,2087.1 410.2,2087.1 410.5,2087.1 410.8,2087.1 411.1,2087.1 411.5,2087.1 411.8,2087.1 412.1,2087.1 412.4,2087.1 412.7,2087.1 413.1,2087 413.4,2087 413.7,2087 414,2086.9 414.3,2086.9 414.7,2086.9 415,2086.8 415.3,2086.7 415.6,2086.7 415.9,2086.6 416.2,2086.5 416.6,2086.4 416.9,2086.2 417.2,2086.1 417.5,2085.9 417.8,2085.7 418.2,2085.6 418.5,2085.4 418.8,2085.1 419.1,2084.9 419.4,2084.7 419.7,2084.4 420.1,2084.2 420.4,2084 420.7,2083.7 421,2083.5 421.3,2083.3 421.7,2083.1 422,2083 422.3,2082.9 422.6,2082.8 422.9,2082.8 423.2,2082.8 423.6,2082.9 423.9,2083 424.2,2083.1 424.5,2083.3 424.8,2083.5 425.2,2083.7 425.5,2083.9 425.8,2084.2 426.1,2084.4 426.4,2084.7 426.7,2084.9 427.1,2085.1 427.4,2085.3 427.7,2085.5 428,2085.7 428.3,2085.9 428.7,2086 429,2086.2 429.3,2086.3 429.6,2086.4 429.9,2086.5 430.2,2086.6 430.6,2086.7 430.9,2086.7 431.2,2086.8 431.5,2086.8 431.8,2086.9 432.2,2086.9 432.5,2086.9 432.8,2086.9 433.1,2087 433.4,2087 433.7,2087 434.1,2087 434.4,2087 434.7,2087 435,2087 435.3,2087 435.7,2087 436,2087 436.3,2087 436.6,2087 436.9,2087 437.2,2087 437.6,2087 437.9,2087 438.2,2087 438.5,2087 438.8,2087 439.2,2087 439.5,2087 439.8,2087 440.1,2087 440.4,2087 440.7,2087 441.1,2086.9 441.4,2086.9 441.7,2086.9 442,2086.9 442.3,2086.9 442.7,2086.8 443,2086.8 443.3,2086.7 443.6,2086.7 443.9,2086.6 444.2,2086.5 444.6,2086.5 444.9,2086.4 445.2,2086.3 445.5,2086.1 445.8,2086 446.2,2085.9 446.5,2085.7 446.8,2085.5 447.1,2085.3 447.4,2085.1 447.7,2084.9 448.1,2084.7 448.4,2084.5 448.7,2084.2 449,2084 449.3,2083.8 449.7,2083.6 450,2083.4 450.3,2083.2 450.6,2083.1 450.9,2083 451.2,2082.9 451.6,2082.9 451.9,2082.9 452.2,2083 452.5,2083.1 452.8,2083.2 453.2,2083.4 453.5,2083.6 453.8,2083.8 454.1,2084 454.4,2084.2 454.7,2084.4 455.1,2084.6 455.4,2084.8 455.7,2085.1 456,2085.3 456.3,2085.4 456.7,2085.6 457,2085.8 457.3,2085.9 457.6,2086 457.9,2086.2 458.2,2086.3 458.6,2086.4 458.9,2086.4 459.2,2086.5 459.5,2086.6 459.8,2086.6 460.2,2086.6 460.5,2086.7 460.8,2086.7 461.1,2086.7 461.4,2086.7 461.7,2086.8 462.1,2086.8 462.4,2086.8 462.7,2086.8 463,2086.8 463.3,2086.8 463.7,2086.8 464,2086.8 464.3,2086.8 464.6,2086.8 464.9,2086.8 465.2,2086.8 465.6,2086.8 465.9,2086.8 466.2,2086.8 466.5,2086.8 466.8,2086.8 467.2,2086.8 467.5,2086.8 467.8,2086.8 468.1,2086.8 468.4,2086.8 468.7,2086.8 469.1,2086.8 469.4,2086.8 469.7,2086.8 470,2086.8 470.3,2086.7 470.7,2086.7 471,2086.7 471.3,2086.7 471.6,2086.7 471.9,2086.7 472.2,2086.7 472.6,2086.7 472.9,2086.7 473.2,2086.7 473.5,2086.7 473.8,2086.7 474.2,2086.7 474.5,2086.7 474.8,2086.7 475.1,2086.7 475.4,2086.6 475.7,2086.6 476.1,2086.6 476.4,2086.6 476.7,2086.6 477,2086.6 477.3,2086.6 477.7,2086.6 478,2086.6 478.3,2086.6 478.6,2086.6 478.9,2086.6 479.2,2086.5 479.6,2086.5 479.9,2086.5 480.2,2086.5 480.5,2086.5 480.8,2086.5 481.2,2086.5 481.5,2086.5 481.8,2086.5 482.1,2086.4 482.4,2086.4 482.7,2086.4 483.1,2086.4 483.4,2086.4 483.7,2086.4 484,2086.4 484.3,2086.4 484.7,2086.4 485,2086.3 485.3,2086.3 485.6,2086.3 485.9,2086.3 486.2,2086.3 486.6,2086.3 486.9,2086.3 487.2,2086.2 487.5,2086.2 487.8,2086.2 488.2,2086.2 488.5,2086.2 488.8,2086.2 489.1,2086.2 489.4,2086.1 489.7,2086.1 490.1,2086.1 490.4,2086.1 490.7,2086.1 491,2086.1 491.3,2086 491.7,2086 492,2086 492.3,2086 492.6,2086 492.9,2085.9 493.2,2085.9 493.6,2085.9 493.9,2085.9 494.2,2085.9 494.5,2085.8 494.8,2085.8 495.2,2085.8 495.5,2085.8 495.8,2085.8 496.1,2085.7 496.4,2085.7 496.7,2085.7 497.1,2085.7 497.4,2085.6 497.7,2085.6 498,2085.6 498.3,2085.6 498.7,2085.5 499,2085.5 499.3,2085.5 499.6,2085.4 499.9,2085.4 500.2,2085.4 500.6,2085.4 500.9,2085.3 501.2,2085.3 501.5,2085.3 501.8,2085.2 502.2,2085.2 502.5,2085.2 502.8,2085.1 503.1,2085.1 503.4,2085.1 503.7,2085 504.1,2085 504.4,2085 504.7,2084.9 505,2084.9 505.3,2084.8 505.7,2084.8 506,2084.8 506.3,2084.7 506.6,2084.7 506.9,2084.6 507.2,2084.6 507.6,2084.5 507.9,2084.5 508.2,2084.4 508.5,2084.4 508.8,2084.3 509.2,2084.3 509.5,2084.2 509.8,2084.2 510.1,2084.1 510.4,2084 510.7,2084 511.1,2083.9 511.4,2083.8 511.7,2083.8 512,2083.7 512.3,2083.6 512.7,2083.6 513,2083.5 513.3,2083.4 513.6,2083.3 513.9,2083.2 514.2,2083.1 514.6,2082.9 514.9,2082.8 515.2,2082.7 515.5,2082.5 515.8,2082.4 516.2,2082.2 516.5,2082 516.8,2081.8 517.1,2081.5 517.4,2081.3 517.7,2081 518.1,2080.7 518.4,2080.4 518.7,2080.1 519,2079.8 519.3,2079.4 519.7,2079.1 520,2078.7 520.3,2078.4 520.6,2078 520.9,2077.7 521.2,2077.4 521.6,2077.1 521.9,2076.8 522.2,2076.5 522.5,2076.3 522.8,2076.2 523.2,2076 523.5,2076 523.8,2075.9 524.1,2075.9 524.4,2075.9 524.7,2075.9 525.1,2076 525.4,2076 525.7,2076.1 526,2076.1 526.3,2076.1 526.7,2076.2 527,2076.2 527.3,2076.2 527.6,2076.1 527.9,2076.1 528.2,2076 528.6,2075.9 528.9,2075.7 529.2,2075.6 529.5,2075.4 529.8,2075.2 530.2,2075 530.5,2074.7 530.8,2074.4 531.1,2074.1 531.4,2073.8 531.7,2073.5 532.1,2073.1 532.4,2072.7 532.7,2072.3 533,2071.8 533.3,2071.3 533.7,2070.8 534,2070.3 534.3,2069.8 534.6,2069.2 534.9,2068.6 535.2,2067.9 535.6,2067.2 535.9,2066.5 536.2,2065.7 536.5,2064.8 536.8,2063.9 537.2,2062.9 537.5,2061.9 537.8,2060.7 538.1,2059.4 538.4,2058 538.7,2056.4 539.1,2054.6 539.4,2052.6 539.7,2050.3 540,2047.7 540.3,2044.6 540.7,2041.1 541,2037 541.3,2032.3 541.6,2026.7 541.9,2020.4 542.2,2013 542.6,2004.4 542.9,1994.6 543.2,1983.3 543.5,1970.5 543.8,1956 544.2,1939.6 544.5,1921.3 544.8,1901 545.1,1878.6 545.4,1854 545.7,1827.4 546.1,1798.7 546.4,1768.1 546.7,1735.8 547,1702 547.3,1667 547.7,1631.2 548,1595 548.3,1558.9 548.6,1523.5 548.9,1489.4 549.2,1457.3 549.6,1427.9 549.9,1402 550.2,1380.2 550.5,1363.1 550.8,1351.2 551.2,1344.8 551.5,1343.8 551.8,1348 552.1,1357 552.4,1370.2 552.7,1386.8 553.1,1405.8 553.4,1426.4 553.7,1447.7 554,1468.9 554.3,1489 554.7,1507.5 555,1523.6 555.3,1536.9 555.6,1546.8 555.9,1553.2 556.2,1555.6 556.6,1554.1 556.9,1548.6 557.2,1539.3 557.5,1526.4 557.8,1510.2 558.2,1491.2 558.5,1469.9 558.8,1447.1 559.1,1423.5 559.4,1399.8 559.7,1377 560.1,1356 560.4,1337.8 560.7,1323.2 561,1313.1 561.3,1308.2 561.7,1308.8 562,1315.3 562.3,1327.5 562.6,1345.2 562.9,1368 563.2,1395.1 563.6,1425.9 563.9,1459.5 564.2,1495.3 564.5,1532.5 564.8,1570.5 565.2,1608.5 565.5,1646.2 565.8,1683 566.1,1718.6 566.4,1752.6 566.7,1784.8 567.1,1814.9 567.4,1842.9 567.7,1868.8 568,1892.3 568.3,1913.7 568.7,1933 569,1950.2 569.3,1965.5 569.6,1978.9 569.9,1990.8 570.2,2001.1 570.6,2010 570.9,2017.8 571.2,2024.5 571.5,2030.3 571.8,2035.2 572.2,2039.5 572.5,2043.2 572.8,2046.4 573.1,2049.2 573.4,2051.6 573.8,2053.7 574.1,2055.5 574.4,2057.2 574.7,2058.7 575,2060 575.3,2061.2 575.7,2062.3 576,2063.3 576.3,2064.3 576.6,2065.1 576.9,2065.9 577.3,2066.7 577.6,2067.4 577.9,2068.1 578.2,2068.7 578.5,2069.3 578.8,2069.9 579.2,2070.4 579.5,2070.9 579.8,2071.4 580.1,2071.9 580.4,2072.3 580.8,2072.7 581.1,2073 581.4,2073.4 581.7,2073.7 582,2074 582.3,2074.2 582.7,2074.4 583,2074.5 583.3,2074.6 583.6,2074.7 583.9,2074.6 584.3,2074.5 584.6,2074.3 584.9,2074 585.2,2073.7 585.5,2073.2 585.8,2072.7 586.2,2072 586.5,2071.3 586.8,2070.6 587.1,2069.8 587.4,2069 587.8,2068.2 588.1,2067.4 588.4,2066.8 588.7,2066.2 589,2065.9 589.3,2065.7 589.7,2065.7 590,2066 590.3,2066.5 590.6,2067.2 590.9,2068 591.3,2069 591.6,2070.1 591.9,2071.2 592.2,2072.3 592.5,2073.4 592.8,2074.5 593.2,2075.6 593.5,2076.5 593.8,2077.4 594.1,2078.2 594.4,2079 594.8,2079.6 595.1,2080.2 595.4,2080.7 595.7,2081.1 596,2081.5 596.3,2081.8 596.7,2082.1 597,2082.3 597.3,2082.5 597.6,2082.7 597.9,2082.9 598.3,2083 598.6,2083.1 598.9,2083.2 599.2,2083.4 599.5,2083.5 599.8,2083.6 600.2,2083.6 600.5,2083.7 600.8,2083.8 601.1,2083.9 601.4,2084 601.8,2084.1 602.1,2084.1 602.4,2084.2 602.7,2084.3 603,2084.3 603.3,2084.4 603.7,2084.5 604,2084.5 604.3,2084.6 604.6,2084.6 604.9,2084.7 605.3,2084.7 605.6,2084.8 605.9,2084.9 606.2,2084.9 606.5,2085 606.8,2085 607.2,2085.1 607.5,2085.1 607.8,2085.1 608.1,2085.2 608.4,2085.2 608.8,2085.3 609.1,2085.3 609.4,2085.4 609.7,2085.4 610,2085.4 610.3,2085.5 610.7,2085.5 611,2085.6 611.3,2085.6 611.6,2085.6 611.9,2085.7 612.3,2085.7 612.6,2085.7 612.9,2085.8 613.2,2085.8 613.5,2085.8 613.8,2085.9 614.2,2085.9 614.5,2085.9 614.8,2085.9 615.1,2086 615.4,2086 615.8,2086 616.1,2086.1 616.4,2086.1 616.7,2086.1 617,2086.1 617.3,2086.2 617.7,2086.2 618,2086.2 618.3,2086.2 618.6,2086.3 618.9,2086.3 619.3,2086.3 619.6,2086.3 619.9,2086.4 620.2,2086.4 620.5,2086.4 620.8,2086.4 621.2,2086.4 621.5,2086.5 621.8,2086.5 622.1,2086.5 622.4,2086.5 622.8,2086.6 623.1,2086.6 623.4,2086.6 623.7,2086.6 624,2086.6 624.3,2086.6 624.7,2086.7 625,2086.7 625.3,2086.7 625.6,2086.7 625.9,2086.7 626.3,2086.8 626.6,2086.8 626.9,2086.8 627.2,2086.8 627.5,2086.8 627.8,2086.8 628.2,2086.9 628.5,2086.9 628.8,2086.9 629.1,2086.9 629.4,2086.9 629.8,2086.9 630.1,2086.9 630.4,2087 630.7,2087 631,2087 631.3,2087 631.7,2087 632,2087 632.3,2087 632.6,2087.1 632.9,2087.1 633.3,2087.1 633.6,2087.1 633.9,2087.1 634.2,2087.1 634.5,2087.1 634.8,2087.1 635.2,2087.2 635.5,2087.2 635.8,2087.2 636.1,2087.2 636.4,2087.2 636.8,2087.2 637.1,2087.2 637.4,2087.2 637.7,2087.2 638,2087.3 638.3,2087.3 638.7,2087.3 639,2087.3 639.3,2087.3 639.6,2087.3 639.9,2087.3 640.3,2087.3 640.6,2087.3 640.9,2087.3 641.2,2087.4 641.5,2087.4 641.8,2087.4 642.2,2087.4 642.5,2087.4 642.8,2087.4 643.1,2087.4 643.4,2087.4 643.8,2087.4 644.1,2087.4 644.4,2087.4 644.7,2087.5 645,2087.5 645.3,2087.5 645.7,2087.5 646,2087.5 646.3,2087.5 646.6,2087.5 646.9,2087.5 647.3,2087.5 647.6,2087.5 647.9,2087.5 648.2,2087.5 648.5,2087.6 648.8,2087.6 649.2,2087.6 649.5,2087.6 649.8,2087.6 650.1,2087.6 650.4,2087.6 650.8,2087.6 651.1,2087.6 651.4,2087.6 651.7,2087.6 652,2087.6 652.3,2087.6 652.7,2087.6 653,2087.7 653.3,2087.7 653.6,2087.7 653.9,2087.7 654.3,2087.7 654.6,2087.7 654.9,2087.7 655.2,2087.7 655.5,2087.7 655.8,2087.7 656.2,2087.7 656.5,2087.7 656.8,2087.7 657.1,2087.7 657.4,2087.7 657.8,2087.7 658.1,2087.8 658.4,2087.8 658.7,2087.8 659,2087.8 659.3,2087.8 659.7,2087.8 660,2087.8 660.3,2087.8 660.6,2087.8 660.9,2087.8 661.3,2087.8 661.6,2087.8 661.9,2087.8 662.2,2087.8 662.5,2087.8 662.8,2087.8 663.2,2087.8 663.5,2087.8 663.8,2087.8 664.1,2087.9 664.4,2087.9 664.8,2087.9 665.1,2087.9 665.4,2087.9 665.7,2087.9 666,2087.9 666.3,2087.9 666.7,2087.9 667,2087.9 667.3,2087.9 667.6,2087.9 667.9,2087.9 668.3,2087.9 668.6,2087.9 668.9,2087.9 669.2,2087.9 669.5,2087.9 669.8,2087.9 670.2,2087.9 670.5,2087.9 670.8,2087.9 671.1,2088 671.4,2088 671.8,2088 672.1,2088 672.4,2088 672.7,2088 673,2088 673.3,2088 673.7,2088 674,2088 674.3,2088 674.6,2088 674.9,2088 675.3,2088 675.6,2088 675.9,2088 676.2,2088 676.5,2088 676.8,2088 677.2,2088 677.5,2088 677.8,2088 678.1,2088 678.4,2088 678.8,2088 679.1,2088 679.4,2088 679.7,2088.1 680,2088.1 680.3,2088.1 680.7,2088.1 681,2088.1 681.3,2088.1 681.6,2088.1 681.9,2088.1 682.3,2088.1 682.6,2088.1 682.9,2088.1 683.2,2088.1 683.5,2088.1 683.8,2088.1 684.2,2088.1 684.5,2088.1 684.8,2088.1 685.1,2088.1 685.4,2088.1 685.8,2088.1 686.1,2088.1 686.4,2088.1 686.7,2088.1 687,2088.1 687.3,2088.1 687.7,2088.1 688,2088.1 688.3,2088.1 688.6,2088.1 688.9,2088.1 689.3,2088.1 689.6,2088.1 689.9,2088.1 690.2,2088.1 690.5,2088.1 690.8,2088.1 691.2,2088.2 691.5,2088.2 691.8,2088.2 692.1,2088.2 692.4,2088.2 692.8,2088.2 693.1,2088.2 693.4,2088.2 693.7,2088.2 694,2088.2 694.3,2088.2 694.7,2088.2 695,2088.2 695.3,2088.2 695.6,2088.2 695.9,2088.2 696.3,2088.2 696.6,2088.2 696.9,2088.2 697.2,2088.2 697.5,2088.2 697.8,2088.2 698.2,2088.2 698.5,2088.2 698.8,2088.2 699.1,2088.2 699.4,2088.2 699.8,2088.2 700.1,2088.2 700.4,2088.2 700.7,2088.2 701,2088.2 701.3,2088.2 701.7,2088.2 702,2088.2 702.3,2088.2 702.6,2088.2 702.9,2088.2 703.3,2088.2 703.6,2088.2 703.9,2088.2 704.2,2088.2 704.5,2088.2 704.8,2088.2 705.2,2088.2 705.5,2088.2 705.8,2088.2 706.1,2088.2 706.4,2088.2 706.8,2088.2 707.1,2088.2 707.4,2088.2 707.7,2088.2 708,2088.2 708.3,2088.2 708.7,2088.2 709,2088.2 709.3,2088.2 709.6,2088.2 709.9,2088.2 710.3,2088.2 710.6,2088.2 710.9,2088.2 711.2,2088.2 711.5,2088.2 711.8,2088.2 712.2,2088.2 712.5,2088.2 712.8,2088.2 713.1,2088.2 713.4,2088.2 713.8,2088.2 714.1,2088.2 714.4,2088.2 714.7,2088.2 715,2088.2 715.3,2088.2 715.7,2088.2 716,2088.2 716.3,2088.2 716.6,2088.2 716.9,2088.2 717.3,2088.2 717.6,2088.2 717.9,2088.2 718.2,2088.2 718.5,2088.2 718.8,2088.2 719.2,2088.2 719.5,2088.2 719.8,2088.2 720.1,2088.2 720.4,2088.2 720.8,2088.2 721.1,2088.2 721.4,2088.2 721.7,2088.2 722,2088.2 722.3,2088.2 722.7,2088.2 723,2088.2 723.3,2088.2 723.6,2088.2 723.9,2088.2 724.3,2088.2 724.6,2088.2 724.9,2088.2 725.2,2088.2 725.5,2088.2 725.8,2088.2 726.2,2088.2 726.5,2088.2 726.8,2088.2 727.1,2088.1 727.4,2088.1 727.8,2088.1 728.1,2088.1 728.4,2088.1 728.7,2088.1 729,2088.1 729.3,2088.1 729.7,2088.1 730,2088.1 730.3,2088.1 730.6,2088 730.9,2088 731.3,2088 731.6,2088 731.9,2088 732.2,2087.9 732.5,2087.9 732.9,2087.8 733.2,2087.8 733.5,2087.7 733.8,2087.7 734.1,2087.6 734.4,2087.5 734.8,2087.4 735.1,2087.3 735.4,2087.1 735.7,2087 736,2086.8 736.4,2086.6 736.7,2086.3 737,2086.1 737.3,2085.8 737.6,2085.5 737.9,2085.2 738.3,2084.8 738.6,2084.4 738.9,2084.1 739.2,2083.7 739.5,2083.3 739.9,2082.9 740.2,2082.5 740.5,2082.2 740.8,2081.8 741.1,2081.6 741.4,2081.3 741.8,2081.1 742.1,2081 742.4,2081 742.7,2081 743,2081.1 743.4,2081.3 743.7,2081.5 744,2081.8 744.3,2082.1 744.6,2082.4 744.9,2082.8 745.3,2083.2 745.6,2083.6 745.9,2084 746.2,2084.3 746.5,2084.7 746.9,2085 747.2,2085.3 747.5,2085.6 747.8,2085.9 748.1,2086.2 748.4,2086.4 748.8,2086.6 749.1,2086.8 749.4,2086.9 749.7,2087 750,2087.2 750.4,2087.3 750.7,2087.3 751,2087.4 751.3,2087.5 751.6,2087.5 751.9,2087.5 752.3,2087.6 752.6,2087.6 752.9,2087.6 753.2,2087.6 753.5,2087.6 753.9,2087.6 754.2,2087.6 754.5,2087.6 754.8,2087.6 755.1,2087.6 755.4,2087.6 755.8,2087.6 756.1,2087.6 756.4,2087.6 756.7,2087.6 757,2087.6 757.4,2087.6 757.7,2087.6 758,2087.5 758.3,2087.5 758.6,2087.5 758.9,2087.5 759.3,2087.5 759.6,2087.5 759.9,2087.4 760.2,2087.4 760.5,2087.4 760.9,2087.4 761.2,2087.4 761.5,2087.3 761.8,2087.3 762.1,2087.3 762.4,2087.3 762.8,2087.2 763.1,2087.2 763.4,2087.2 763.7,2087.1 764,2087.1 764.4,2087.1 764.7,2087 765,2087 765.3,2086.9 765.6,2086.9 765.9,2086.9 766.3,2086.8 766.6,2086.8 766.9,2086.7 767.2,2086.7 767.5,2086.6 767.9,2086.5 768.2,2086.5 768.5,2086.4 768.8,2086.3 769.1,2086.3 769.4,2086.2 769.8,2086.1 770.1,2086 770.4,2085.9 770.7,2085.8 771,2085.7 771.4,2085.6 771.7,2085.5 772,2085.3 772.3,2085.2 772.6,2085 772.9,2084.9 773.3,2084.7 773.6,2084.4 773.9,2084.1 774.2,2083.8 774.5,2083.5 774.9,2083 775.2,2082.5 775.5,2081.9 775.8,2081.1 776.1,2080.2 776.4,2079.2 776.8,2077.9 777.1,2076.4 777.4,2074.7 777.7,2072.7 778,2070.4 778.4,2067.8 778.7,2064.9 779,2061.6 779.3,2058.1 779.6,2054.3 779.9,2050.2 780.3,2045.9 780.6,2041.4 780.9,2037 781.2,2032.5 781.5,2028.2 781.9,2024.2 782.2,2020.7 782.5,2017.6 782.8,2015.3 783.1,2013.8 783.4,2013.1 783.8,2013.4 784.1,2014.5 784.4,2016.5 784.7,2019.1 785,2022.3 785.4,2025.8 785.7,2029.7 786,2033.6 786.3,2037.6 786.6,2041.4 786.9,2045.1 787.3,2048.5 787.6,2051.5 787.9,2054.2 788.2,2056.4 788.5,2058.1 788.9,2059.3 789.2,2060 789.5,2060.1 789.8,2059.5 790.1,2058.4 790.4,2056.6 790.8,2054 791.1,2050.8 791.4,2046.8 791.7,2041.9 792,2036.3 792.4,2029.7 792.7,2022.3 793,2014 793.3,2004.9 793.6,1994.9 793.9,1984.1 794.3,1972.6 794.6,1960.5 794.9,1947.9 795.2,1935.1 795.5,1922.1 795.9,1909.3 796.2,1896.9 796.5,1885.2 796.8,1874.6 797.1,1865.2 797.4,1857.6 797.8,1851.9 798.1,1848.4 798.4,1847.2 798.7,1848.4 799,1852 799.4,1857.8 799.7,1865.6 800,1875 800.3,1885.8 800.6,1897.6 800.9,1910.1 801.3,1923 801.6,1936 801.9,1949 802.2,1961.7 802.5,1974 802.9,1985.6 803.2,1996.6 803.5,2006.8 803.8,2016.2 804.1,2024.8 804.4,2032.6 804.8,2039.5 805.1,2045.7 805.4,2051.1 805.7,2055.8 806,2059.9 806.4,2063.4 806.7,2066.5 807,2069 807.3,2071.2 807.6,2073.1 807.9,2074.7 808.3,2076 808.6,2077.1 808.9,2078.1 809.2,2078.9 809.5,2079.6 809.9,2080.2 810.2,2080.7 810.5,2081.1 810.8,2081.5 811.1,2081.9 811.4,2082.2 811.8,2082.5 812.1,2082.7 812.4,2083 812.7,2083.2 813,2083.3 813.4,2083.5 813.7,2083.6 814,2083.7 814.3,2083.8 814.6,2083.9 814.9,2084 815.3,2084 815.6,2084 815.9,2083.9 816.2,2083.9 816.5,2083.8 816.9,2083.7 817.2,2083.6 817.5,2083.4 817.8,2083.3 818.1,2083.1 818.4,2082.9 818.8,2082.6 819.1,2082.4 819.4,2082.2 819.7,2082 820,2081.8 820.4,2081.6 820.7,2081.5 821,2081.3 821.3,2081.3 821.6,2081.3 821.9,2081.3 822.3,2081.4 822.6,2081.5 822.9,2081.7 823.2,2081.9 823.5,2082.2 823.9,2082.5 824.2,2082.8 824.5,2083.1 824.8,2083.5 825.1,2083.8 825.4,2084.2 825.8,2084.5 826.1,2084.8 826.4,2085.1 826.7,2085.4 827,2085.7 827.4,2085.9 827.7,2086.2 828,2086.4 828.3,2086.6 828.6,2086.7 828.9,2086.9 829.3,2087 829.6,2087.1 829.9,2087.2 830.2,2087.3 830.5,2087.4 830.9,2087.5 831.2,2087.6 831.5,2087.6 831.8,2087.7 832.1,2087.7 832.4,2087.8 832.8,2087.8 833.1,2087.8 833.4,2087.9 833.7,2087.9 834,2087.9 834.4,2088 834.7,2088 835,2088 835.3,2088 835.6,2088.1 835.9,2088.1 836.3,2088.1 836.6,2088.1 836.9,2088.1 837.2,2088.2 837.5,2088.2 837.9,2088.2 838.2,2088.2 838.5,2088.2 838.8,2088.2 839.1,2088.3 839.4,2088.3 839.8,2088.3 840.1,2088.3 840.4,2088.3 840.7,2088.3 841,2088.3 841.4,2088.4 841.7,2088.4 842,2088.4 842.3,2088.4 842.6,2088.4 842.9,2088.4 843.3,2088.4 843.6,2088.4 843.9,2088.5 844.2,2088.5 844.5,2088.5 844.9,2088.5 845.2,2088.5 845.5,2088.5 845.8,2088.5 846.1,2088.5 846.4,2088.5 846.8,2088.5 847.1,2088.6 847.4,2088.6 847.7,2088.6 848,2088.6 848.4,2088.6 848.7,2088.6 849,2088.6 849.3,2088.6 849.6,2088.6 849.9,2088.6 850.3,2088.6 850.6,2088.6 850.9,2088.6 851.2,2088.7 851.5,2088.7 851.9,2088.7 852.2,2088.7 852.5,2088.7 852.8,2088.7 853.1,2088.7 853.4,2088.7 853.8,2088.7 854.1,2088.7 854.4,2088.7 854.7,2088.7 855,2088.7 855.4,2088.7 855.7,2088.7 856,2088.7 856.3,2088.8 856.6,2088.8 856.9,2088.8 857.3,2088.8 857.6,2088.8 857.9,2088.8 858.2,2088.8 858.5,2088.8 858.9,2088.8 859.2,2088.8 859.5,2088.8 859.8,2088.8 860.1,2088.8 860.4,2088.8 860.8,2088.8 861.1,2088.8 861.4,2088.8 861.7,2088.8 862,2088.8 862.4,2088.8 862.7,2088.8 863,2088.8 863.3,2088.9 863.6,2088.9 863.9,2088.9 864.3,2088.9 864.6,2088.9 864.9,2088.9 865.2,2088.9 865.5,2088.9 865.9,2088.9 866.2,2088.9 866.5,2088.9 866.8,2088.9 867.1,2088.9 867.4,2088.9 867.8,2088.9 868.1,2088.9 868.4,2088.9 868.7,2088.9 869,2088.9 869.4,2088.9 869.7,2088.9 870,2088.9 870.3,2088.9 870.6,2088.9 870.9,2088.9 871.3,2088.9 871.6,2088.9 871.9,2088.9 872.2,2088.9 872.5,2088.9 872.9,2088.9 873.2,2089 873.5,2089 873.8,2089 874.1,2089 874.4,2089 874.8,2089 875.1,2089 875.4,2089 875.7,2089 876,2089 876.4,2089 876.7,2089 877,2089 877.3,2089 877.6,2089 877.9,2089 878.3,2089 878.6,2089 878.9,2089 879.2,2089 879.5,2089 879.9,2089 880.2,2089 880.5,2089 880.8,2089 881.1,2089 881.4,2089 881.8,2089 882.1,2089 882.4,2089 882.7,2089 883,2089 883.4,2089 883.7,2089 884,2089 884.3,2089 884.6,2089 884.9,2089 885.3,2089 885.6,2089 885.9,2089 886.2,2089 886.5,2089 886.9,2089 887.2,2089 887.5,2089 887.8,2089 888.1,2089 888.4,2089 888.8,2089 889.1,2089 889.4,2089.1 889.7,2089.1 890,2089.1 890.4,2089.1 890.7,2089.1 891,2089.1 891.3,2089.1 891.6,2089.1 892,2089.1 892.3,2089.1 892.6,2089.1 892.9,2089.1 893.2,2089.1 893.5,2089.1 893.9,2089.1 894.2,2089.1 894.5,2089.1 894.8,2089.1 895.1,2089.1 895.5,2089.1 895.8,2089.1 896.1,2089.1 896.4,2089.1 896.7,2089.1 897,2089.1 897.4,2089.1 897.7,2089.1 898,2089.1 898.3,2089.1 898.6,2089.1 899,2089.1 899.3,2089.1 899.6,2089.1 899.9,2089.1 900.2,2089.1 900.5,2089.1 900.9,2089.1 901.2,2089.1 901.5,2089.1 901.8,2089.1 902.1,2089.1 902.5,2089.1 902.8,2089.1 903.1,2089.1 903.4,2089.1 903.7,2089.1 904,2089.1 904.4,2089.1 904.7,2089.1 905,2089.1 905.3,2089.1 905.6,2089.1 906,2089.1 906.3,2089.1 906.6,2089.1 906.9,2089.1 907.2,2089.1 907.5,2089.1 907.9,2089.1 908.2,2089.1 908.5,2089.1 908.8,2089.1 909.1,2089.1 909.5,2089.1 909.8,2089.1 910.1,2089.1 910.4,2089.1 910.7,2089.1 911,2089.1 911.4,2089.1 911.7,2089.1 912,2089.1 912.3,2089.1 912.6,2089.1 913,2089.1 913.3,2089.1 913.6,2089.1 913.9,2089.1 914.2,2089.1 914.5,2089.1 914.9,2089.1 915.2,2089.1 915.5,2089.1 915.8,2089.1 916.1,2089.1 916.5,2089.1 916.8,2089.1 917.1,2089.1 917.4,2089.1 917.7,2089.1 918,2089.1 918.4,2089.1 918.7,2089.1 919,2089.1 919.3,2089.1 919.6,2089.1 920,2089.1 920.3,2089.1 920.6,2089.1 920.9,2089.1 921.2,2089.1 921.5,2089.1 921.9,2089.1 922.2,2089.1 922.5,2089.1 922.8,2089.1 923.1,2089.1 923.5,2089 923.8,2089 924.1,2089 924.4,2089 924.7,2089 925,2089 925.4,2089 925.7,2089 926,2089 926.3,2089 926.6,2089 927,2089 927.3,2089 927.6,2089 927.9,2089 928.2,2089 928.5,2089 928.9,2089 929.2,2089 929.5,2089 929.8,2089 930.1,2089 930.5,2089 930.8,2089 931.1,2089 931.4,2089 931.7,2089 932,2089 932.4,2089 932.7,2089 933,2089 933.3,2089 933.6,2089 934,2089 934.3,2089 934.6,2089 934.9,2088.9 935.2,2088.9 935.5,2088.9 935.9,2088.9 936.2,2088.9 936.5,2088.9 936.8,2088.9 937.1,2088.9 937.5,2088.9 937.8,2088.9 938.1,2088.9 938.4,2088.9 938.7,2088.9 939,2088.9 939.4,2088.9 939.7,2088.9 940,2088.9 940.3,2088.9 940.6,2088.9 941,2088.9 941.3,2088.8 941.6,2088.8 941.9,2088.8 942.2,2088.8 942.5,2088.8 942.9,2088.8 943.2,2088.8 943.5,2088.8 943.8,2088.8 944.1,2088.8 944.5,2088.8 944.8,2088.8 945.1,2088.8 945.4,2088.8 945.7,2088.7 946,2088.7 946.4,2088.7 946.7,2088.7 947,2088.7 947.3,2088.7 947.6,2088.7 948,2088.7 948.3,2088.7 948.6,2088.7 948.9,2088.7 949.2,2088.6 949.5,2088.6 949.9,2088.6 950.2,2088.6 950.5,2088.6 950.8,2088.6 951.1,2088.6 951.5,2088.6 951.8,2088.6 952.1,2088.5 952.4,2088.5 952.7,2088.5 953,2088.5 953.4,2088.5 953.7,2088.5 954,2088.5 954.3,2088.4 954.6,2088.4 955,2088.4 955.3,2088.4 955.6,2088.4 955.9,2088.4 956.2,2088.4 956.5,2088.3 956.9,2088.3 957.2,2088.3 957.5,2088.3 957.8,2088.3 958.1,2088.2 958.5,2088.2 958.8,2088.2 959.1,2088.2 959.4,2088.2 959.7,2088.1 960,2088.1 960.4,2088.1 960.7,2088.1 961,2088 961.3,2088 961.6,2088 962,2088 962.3,2087.9 962.6,2087.9 962.9,2087.9 963.2,2087.8 963.5,2087.8 963.9,2087.8 964.2,2087.8 964.5,2087.7 964.8,2087.7 965.1,2087.7 965.5,2087.6 965.8,2087.6 966.1,2087.5 966.4,2087.5 966.7,2087.5 967,2087.4 967.4,2087.4 967.7,2087.3 968,2087.3 968.3,2087.2 968.6,2087.2 969,2087.1 969.3,2087.1 969.6,2087 969.9,2087 970.2,2086.9 970.5,2086.9 970.9,2086.8 971.2,2086.7 971.5,2086.7 971.8,2086.6 972.1,2086.5 972.5,2086.5 972.8,2086.4 973.1,2086.3 973.4,2086.2 973.7,2086.1 974,2086.1 974.4,2086 974.7,2085.9 975,2085.8 975.3,2085.7 975.6,2085.6 976,2085.4 976.3,2085.3 976.6,2085.2 976.9,2085.1 977.2,2085 977.5,2084.8 977.9,2084.7 978.2,2084.5 978.5,2084.4 978.8,2084.2 979.1,2084 979.5,2083.8 979.8,2083.6 980.1,2083.4 980.4,2083.1 980.7,2082.9 981,2082.6 981.4,2082.3 981.7,2081.9 982,2081.6 982.3,2081.1 982.6,2080.7 983,2080.2 983.3,2079.6 983.6,2079 983.9,2078.3 984.2,2077.5 984.5,2076.5 984.9,2075.5 985.2,2074.4 985.5,2073.1 985.8,2071.7 986.1,2070.1 986.5,2068.3 986.8,2066.3 987.1,2064 987.4,2061.5 987.7,2058.8 988,2055.7 988.4,2052.4 988.7,2048.7 989,2044.7 989.3,2040.3 989.6,2035.6 990,2030.5 990.3,2025.1 990.6,2019.2 990.9,2013 991.2,2006.4 991.5,1999.5 991.9,1992.2 992.2,1984.7 992.5,1976.8 992.8,1968.7 993.1,1960.5 993.5,1952.1 993.8,1943.6 994.1,1935.1 994.4,1926.7 994.7,1918.4 995,1910.4 995.4,1902.6 995.7,1895.3 996,1888.6 996.3,1882.4 996.6,1877 997,1872.5 997.3,1868.8 997.6,1866.1 997.9,1864.5 998.2,1863.9 998.5,1864.5 998.9,1866.1 999.2,1868.8 999.5,1872.4 999.8,1877 1000.1,1882.4 1000.5,1888.5 1000.8,1895.3 1001.1,1902.6 1001.4,1910.3 1001.7,1918.3 1002,1926.6 1002.4,1935 1002.7,1943.5 1003,1951.9 1003.3,1960.3 1003.6,1968.6 1004,1976.6 1004.3,1984.5 1004.6,1992 1004.9,1999.2 1005.2,2006.2 1005.5,2012.7 1005.9,2018.9 1006.2,2024.7 1006.5,2030.1 1006.8,2035.2 1007.1,2039.9 1007.5,2044.2 1007.8,2048.1 1008.1,2051.6 1008.4,2054.9 1008.7,2057.7 1009,2060.3 1009.4,2062.4 1009.7,2064.3 1010,2065.8 1010.3,2066.9 1010.6,2067.7 1011,2068.1 1011.3,2068.2 1011.6,2068 1011.9,2067.4 1012.2,2066.6 1012.5,2065.6 1012.9,2064.5 1013.2,2063.4 1013.5,2062.4 1013.8,2061.7 1014.1,2061.4 1014.5,2061.5 1014.8,2062.2 1015.1,2063.3 1015.4,2064.8 1015.7,2066.7 1016,2068.7 1016.4,2070.8 1016.7,2072.8 1017,2074.7 1017.3,2076.5 1017.6,2078 1018,2079.4 1018.3,2080.6 1018.6,2081.6 1018.9,2082.4 1019.2,2083 1019.5,2083.6 1019.9,2084 1020.2,2084.3 1020.5,2084.6 1020.8,2084.9 1021.1,2085.1 1021.5,2085.3 1021.8,2085.4 1022.1,2085.6 1022.4,2085.7 1022.7,2085.9 1023,2086 1023.4,2086.1 1023.7,2086.2 1024,2086.3 1024.3,2086.4 1024.6,2086.5 1025,2086.6 1025.3,2086.7 1025.6,2086.7 1025.9,2086.8 1026.2,2086.9 1026.5,2087 1026.9,2087 1027.2,2087.1 1027.5,2087.2 1027.8,2087.2 1028.1,2087.3 1028.5,2087.3 1028.8,2087.4 1029.1,2087.4 1029.4,2087.5 1029.7,2087.5 1030,2087.6 1030.4,2087.6 1030.7,2087.7 1031,2087.7 1031.3,2087.8 1031.6,2087.8 1032,2087.8 1032.3,2087.9 1032.6,2087.9 1032.9,2088 1033.2,2088 1033.5,2088 1033.9,2088.1 1034.2,2088.1 1034.5,2088.1 1034.8,2088.2 1035.1,2088.2 1035.5,2088.2 1035.8,2088.3 1036.1,2088.3 1036.4,2088.3 1036.7,2088.3 1037,2088.4 1037.4,2088.4 1037.7,2088.4 1038,2088.4 1038.3,2088.5 1038.6,2088.5 1039,2088.5 1039.3,2088.5 1039.6,2088.5 1039.9,2088.6 1040.2,2088.6 1040.5,2088.6 1040.9,2088.6 1041.2,2088.6 1041.5,2088.7 1041.8,2088.7 1042.1,2088.7 1042.5,2088.7 1042.8,2088.7 1043.1,2088.8 1043.4,2088.8 1043.7,2088.8 1044,2088.8 1044.4,2088.8 1044.7,2088.8 1045,2088.9 1045.3,2088.9 1045.6,2088.9 1046,2088.9 1046.3,2088.9 1046.6,2088.9 1046.9,2088.9 1047.2,2088.9 1047.5,2089 1047.9,2089 1048.2,2089 1048.5,2089 1048.8,2089 1049.1,2089 1049.5,2089 1049.8,2089 1050.1,2089.1 1050.4,2089.1 1050.7,2089.1 1051.1,2089.1 1051.4,2089.1 1051.7,2089.1 1052,2089.1 1052.3,2089.1 1052.6,2089.1 1053,2089.1 1053.3,2089.2 1053.6,2089.2 1053.9,2089.2 1054.2,2089.2 1054.6,2089.2 1054.9,2089.2 1055.2,2089.2 1055.5,2089.2 1055.8,2089.2 1056.1,2089.2 1056.5,2089.2 1056.8,2089.2 1057.1,2089.3 1057.4,2089.3 1057.7,2089.3 1058.1,2089.3 1058.4,2089.3 1058.7,2089.3 1059,2089.3 1059.3,2089.3 1059.6,2089.3 1060,2089.3 1060.3,2089.3 1060.6,2089.3 1060.9,2089.3 1061.2,2089.3 1061.6,2089.4 1061.9,2089.4 1062.2,2089.4 1062.5,2089.4 1062.8,2089.4 1063.1,2089.4 1063.5,2089.4 1063.8,2089.4 1064.1,2089.4 1064.4,2089.4 1064.7,2089.4 1065.1,2089.4 1065.4,2089.4 1065.7,2089.4 1066,2089.4 1066.3,2089.4 1066.6,2089.4 1067,2089.4 1067.3,2089.4 1067.6,2089.5 1067.9,2089.5 1068.2,2089.5 1068.6,2089.5 1068.9,2089.5 1069.2,2089.5 1069.5,2089.5 1069.8,2089.5 1070.1,2089.5 1070.5,2089.5 1070.8,2089.5 1071.1,2089.5 1071.4,2089.5 1071.7,2089.5 1072.1,2089.5 1072.4,2089.5 1072.7,2089.5 1073,2089.5 1073.3,2089.5 1073.6,2089.5 1074,2089.5 1074.3,2089.5 1074.6,2089.5 1074.9,2089.5 1075.2,2089.5 1075.6,2089.5 1075.9,2089.6 1076.2,2089.6 1076.5,2089.6 1076.8,2089.6 1077.1,2089.6 1077.5,2089.6 1077.8,2089.6 1078.1,2089.6 1078.4,2089.6 1078.7,2089.6 1079.1,2089.6 1079.4,2089.6 1079.7,2089.6 1080,2089.6 1080.3,2089.6 1080.6,2089.6 1081,2089.6 1081.3,2089.6 1081.6,2089.6 1081.9,2089.6 1082.2,2089.6 1082.6,2089.6 1082.9,2089.6 1083.2,2089.6 1083.5,2089.6 1083.8,2089.6 1084.1,2089.6 1084.5,2089.6 1084.8,2089.6 1085.1,2089.6 1085.4,2089.6 1085.7,2089.6 1086.1,2089.6 1086.4,2089.6 1086.7,2089.6 1087,2089.6 1087.3,2089.6 1087.6,2089.6 1088,2089.6 1088.3,2089.6 1088.6,2089.6 1088.9,2089.6 1089.2,2089.6 1089.6,2089.6 1089.9,2089.6 1090.2,2089.6 1090.5,2089.6 1090.8,2089.6 1091.1,2089.6 1091.5,2089.7 1091.8,2089.7 1092.1,2089.7 1092.4,2089.7 1092.7,2089.7 1093.1,2089.7 1093.4,2089.7 1093.7,2089.7 1094,2089.7 1094.3,2089.7 1094.6,2089.7 1095,2089.7 1095.3,2089.7 1095.6,2089.7 1095.9,2089.7 1096.2,2089.7 1096.6,2089.7 1096.9,2089.7 1097.2,2089.7 1097.5,2089.7 1097.8,2089.7 1098.1,2089.7 1098.5,2089.7 1098.8,2089.7 1099.1,2089.7 1099.4,2089.7 1099.7,2089.7 1100.1,2089.7 1100.4,2089.7 1100.7,2089.7 1101,2089.7 1101.3,2089.7 1101.6,2089.7 1102,2089.7 1102.3,2089.7 1102.6,2089.7 1102.9,2089.7 1103.2,2089.7 1103.6,2089.7 1103.9,2089.7 1104.2,2089.7 1104.5,2089.7 1104.8,2089.7 1105.1,2089.7 1105.5,2089.7 1105.8,2089.7 1106.1,2089.7 1106.4,2089.7 1106.7,2089.7 1107.1,2089.7 1107.4,2089.7 1107.7,2089.7 1108,2089.7 1108.3,2089.7 1108.6,2089.7 1109,2089.6 1109.3,2089.6 1109.6,2089.6 1109.9,2089.6 1110.2,2089.6 1110.6,2089.6 1110.9,2089.6 1111.2,2089.6 1111.5,2089.6 1111.8,2089.6 1112.1,2089.6 1112.5,2089.6 1112.8,2089.6 1113.1,2089.6 1113.4,2089.6 1113.7,2089.6 1114.1,2089.6 1114.4,2089.6 1114.7,2089.6 1115,2089.6 1115.3,2089.6 1115.6,2089.6 1116,2089.6 1116.3,2089.6 1116.6,2089.6 1116.9,2089.6 1117.2,2089.6 1117.6,2089.6 1117.9,2089.6 1118.2,2089.6 1118.5,2089.6 1118.8,2089.6 1119.1,2089.6 1119.5,2089.6 1119.8,2089.6 1120.1,2089.6 1120.4,2089.6 1120.7,2089.6 1121.1,2089.6 1121.4,2089.5 1121.7,2089.5 1122,2089.5 1122.3,2089.5 1122.6,2089.5 1123,2089.5 1123.3,2089.5 1123.6,2089.5 1123.9,2089.5 1124.2,2089.5 1124.6,2089.5 1124.9,2089.5 1125.2,2089.5 1125.5,2089.5 1125.8,2089.5 1126.1,2089.5 1126.5,2089.5 1126.8,2089.5 1127.1,2089.5 1127.4,2089.4 1127.7,2089.4 1128.1,2089.4 1128.4,2089.4 1128.7,2089.4 1129,2089.4 1129.3,2089.4 1129.6,2089.4 1130,2089.4 1130.3,2089.4 1130.6,2089.4 1130.9,2089.4 1131.2,2089.4 1131.6,2089.3 1131.9,2089.3 1132.2,2089.3 1132.5,2089.3 1132.8,2089.3 1133.1,2089.3 1133.5,2089.3 1133.8,2089.3 1134.1,2089.3 1134.4,2089.3 1134.7,2089.2 1135.1,2089.2 1135.4,2089.2 1135.7,2089.2 1136,2089.2 1136.3,2089.2 1136.6,2089.2 1137,2089.2 1137.3,2089.1 1137.6,2089.1 1137.9,2089.1 1138.2,2089.1 1138.6,2089.1 1138.9,2089.1 1139.2,2089.1 1139.5,2089 1139.8,2089 1140.1,2089 1140.5,2089 1140.8,2089 1141.1,2089 1141.4,2088.9 1141.7,2088.9 1142.1,2088.9 1142.4,2088.9 1142.7,2088.9 1143,2088.8 1143.3,2088.8 1143.6,2088.8 1144,2088.8 1144.3,2088.7 1144.6,2088.7 1144.9,2088.7 1145.2,2088.7 1145.6,2088.6 1145.9,2088.6 1146.2,2088.6 1146.5,2088.6 1146.8,2088.5 1147.1,2088.5 1147.5,2088.5 1147.8,2088.4 1148.1,2088.4 1148.4,2088.4 1148.7,2088.3 1149.1,2088.3 1149.4,2088.3 1149.7,2088.2 1150,2088.2 1150.3,2088.1 1150.6,2088.1 1151,2088 1151.3,2088 1151.6,2088 1151.9,2087.9 1152.2,2087.9 1152.6,2087.8 1152.9,2087.8 1153.2,2087.7 1153.5,2087.6 1153.8,2087.6 1154.1,2087.5 1154.5,2087.4 1154.8,2087.4 1155.1,2087.3 1155.4,2087.2 1155.7,2087.2 1156.1,2087.1 1156.4,2087 1156.7,2086.9 1157,2086.8 1157.3,2086.7 1157.6,2086.6 1158,2086.5 1158.3,2086.4 1158.6,2086.3 1158.9,2086.2 1159.2,2086.1 1159.6,2085.9 1159.9,2085.8 1160.2,2085.6 1160.5,2085.5 1160.8,2085.3 1161.1,2085.1 1161.5,2084.9 1161.8,2084.6 1162.1,2084.4 1162.4,2084.1 1162.7,2083.8 1163.1,2083.4 1163.4,2083 1163.7,2082.6 1164,2082.1 1164.3,2081.5 1164.6,2080.9 1165,2080.3 1165.3,2079.5 1165.6,2078.6 1165.9,2077.7 1166.2,2076.6 1166.6,2075.4 1166.9,2074.1 1167.2,2072.6 1167.5,2071 1167.8,2069.2 1168.1,2067.3 1168.5,2065.1 1168.8,2062.8 1169.1,2060.2 1169.4,2057.5 1169.7,2054.5 1170.1,2051.3 1170.4,2047.9 1170.7,2044.2 1171,2040.4 1171.3,2036.3 1171.6,2032.1 1172,2027.6 1172.3,2023 1172.6,2018.3 1172.9,2013.4 1173.2,2008.4 1173.6,2003.4 1173.9,1998.3 1174.2,1993.2 1174.5,1988.2 1174.8,1983.3 1175.1,1978.5 1175.5,1974 1175.8,1969.7 1176.1,1965.7 1176.4,1962 1176.7,1958.8 1177.1,1956 1177.4,1953.7 1177.7,1951.9 1178,1950.6 1178.3,1949.9 1178.6,1949.6 1179,1949.9 1179.3,1950.6 1179.6,1951.7 1179.9,1953.1 1180.2,1954.8 1180.6,1956.8 1180.9,1958.9 1181.2,1961.2 1181.5,1963.5 1181.8,1965.8 1182.1,1968.1 1182.5,1970.3 1182.8,1972.4 1183.1,1974.4 1183.4,1976.2 1183.7,1977.9 1184.1,1979.4 1184.4,1980.8 1184.7,1982 1185,1983.1 1185.3,1984.1 1185.6,1984.9 1186,1985.7 1186.3,1986.5 1186.6,1987.3 1186.9,1988.1 1187.2,1989 1187.6,1990 1187.9,1991.2 1188.2,1992.5 1188.5,1994 1188.8,1995.8 1189.1,1997.8 1189.5,2000 1189.8,2002.4 1190.1,2005.1 1190.4,2007.9 1190.7,2010.8 1191.1,2013.9 1191.4,2017.1 1191.7,2020.4 1192,2023.7 1192.3,2027 1192.6,2030.4 1193,2033.7 1193.3,2037 1193.6,2040.2 1193.9,2043.4 1194.2,2046.4 1194.6,2049.4 1194.9,2052.2 1195.2,2054.9 1195.5,2057.5 1195.8,2059.9 1196.1,2062.2 1196.5,2064.4 1196.8,2066.4 1197.1,2068.3 1197.4,2070.1 1197.7,2071.7 1198.1,2073.2 1198.4,2074.5 1198.7,2075.8 1199,2076.9 1199.3,2078 1199.6,2078.9 1200,2079.8 1200.3,2080.5 1200.6,2081.2 1200.9,2081.8 1201.2,2082.4 1201.6,2082.9 1201.9,2083.4 1202.2,2083.8 1202.5,2084.1 1202.8,2084.5 1203.1,2084.8 1203.5,2085 1203.8,2085.3 1204.1,2085.5 1204.4,2085.7 1204.7,2085.9 1205.1,2086 1205.4,2086.2 1205.7,2086.3 1206,2086.5 1206.3,2086.6 1206.6,2086.7 1207,2086.8 1207.3,2086.9 1207.6,2087 1207.9,2087.1 1208.2,2087.2 1208.6,2087.3 1208.9,2087.4 1209.2,2087.4 1209.5,2087.5 1209.8,2087.6 1210.2,2087.7 1210.5,2087.7 1210.8,2087.8 1211.1,2087.8 1211.4,2087.9 1211.7,2088 1212.1,2088 1212.4,2088.1 1212.7,2088.1 1213,2088.2 1213.3,2088.2 1213.7,2088.3 1214,2088.3 1214.3,2088.4 1214.6,2088.4 1214.9,2088.4 1215.2,2088.5 1215.6,2088.5 1215.9,2088.5 1216.2,2088.6 1216.5,2088.6 1216.8,2088.7 1217.2,2088.7 1217.5,2088.7 1217.8,2088.7 1218.1,2088.8 1218.4,2088.8 1218.7,2088.8 1219.1,2088.9 1219.4,2088.9 1219.7,2088.9 1220,2088.9 1220.3,2089 1220.7,2089 1221,2089 1221.3,2089 1221.6,2089.1 1221.9,2089.1 1222.2,2089.1 1222.6,2089.1 1222.9,2089.1 1223.2,2089.2 1223.5,2089.2 1223.8,2089.2 1224.2,2089.2 1224.5,2089.2 1224.8,2089.3 1225.1,2089.3 1225.4,2089.3 1225.7,2089.3 1226.1,2089.3 1226.4,2089.3 1226.7,2089.4 1227,2089.4 1227.3,2089.4 1227.7,2089.4 1228,2089.4 1228.3,2089.4 1228.6,2089.4 1228.9,2089.5 1229.2,2089.5 1229.6,2089.5 1229.9,2089.5 1230.2,2089.5 1230.5,2089.5 1230.8,2089.5 1231.2,2089.5 1231.5,2089.5 1231.8,2089.6 1232.1,2089.6 1232.4,2089.6 1232.7,2089.6 1233.1,2089.6 1233.4,2089.6 1233.7,2089.6 1234,2089.6 1234.3,2089.6 1234.7,2089.6 1235,2089.7 1235.3,2089.7 1235.6,2089.7 1235.9,2089.7 1236.2,2089.7 1236.6,2089.7 1236.9,2089.7 1237.2,2089.7 1237.5,2089.7 1237.8,2089.7 1238.2,2089.7 1238.5,2089.7 1238.8,2089.7 1239.1,2089.7 1239.4,2089.8 1239.7,2089.8 1240.1,2089.8 1240.4,2089.8 1240.7,2089.8 1241,2089.8 1241.3,2089.8 1241.7,2089.8 1242,2089.8 1242.3,2089.8 1242.6,2089.8 1242.9,2089.8 1243.2,2089.8 1243.6,2089.8 1243.9,2089.8 1244.2,2089.8 1244.5,2089.8 1244.8,2089.8 1245.2,2089.8 1245.5,2089.9 1245.8,2089.9 1246.1,2089.9 1246.4,2089.9 1246.7,2089.9 1247.1,2089.9 1247.4,2089.9 1247.7,2089.9 1248,2089.9 1248.3,2089.9 1248.7,2089.9 1249,2089.9 1249.3,2089.9 1249.6,2089.9 1249.9,2089.9 1250.2,2089.9 1250.6,2089.9 1250.9,2089.9 1251.2,2089.9 1251.5,2089.9 1251.8,2089.9 1252.2,2089.9 1252.5,2089.9 1252.8,2089.9 1253.1,2089.9 1253.4,2089.9 1253.7,2089.9 1254.1,2089.9 1254.4,2089.9 1254.7,2089.9 1255,2089.9 1255.3,2089.9 1255.7,2089.9 1256,2089.9 1256.3,2089.9 1256.6,2089.9 1256.9,2089.9 1257.2,2089.9 1257.6,2089.9 1257.9,2089.9 1258.2,2089.9 1258.5,2089.9 1258.8,2089.9 1259.2,2089.9 1259.5,2089.9 1259.8,2089.9 1260.1,2089.9 1260.4,2089.9 1260.7,2089.9 1261.1,2089.9 1261.4,2089.9 1261.7,2089.9 1262,2089.9 1262.3,2089.9 1262.7,2089.9 1263,2089.9 1263.3,2089.9 1263.6,2089.9 1263.9,2089.9 1264.2,2089.9 1264.6,2089.9 1264.9,2089.9 1265.2,2089.9 1265.5,2089.9 1265.8,2089.9 1266.2,2089.9 1266.5,2089.9 1266.8,2089.9 1267.1,2089.9 1267.4,2089.9 1267.7,2089.9 1268.1,2089.9 1268.4,2089.9 1268.7,2089.9 1269,2089.9 1269.3,2089.9 1269.7,2089.9 1270,2089.9 1270.3,2089.9 1270.6,2089.9 1270.9,2089.9 1271.2,2089.9 1271.6,2089.9 1271.9,2089.9 1272.2,2089.9 1272.5,2089.9 1272.8,2089.9 1273.2,2089.9 1273.5,2089.9 1273.8,2089.9 1274.1,2089.9 1274.4,2089.9 1274.7,2089.9 1275.1,2089.9 1275.4,2089.9 1275.7,2089.9 1276,2089.9 1276.3,2089.9 1276.7,2089.9 1277,2089.8 1277.3,2089.8 1277.6,2089.8 1277.9,2089.8 1278.2,2089.8 1278.6,2089.8 1278.9,2089.8 1279.2,2089.8 1279.5,2089.8 1279.8,2089.8 1280.2,2089.8 1280.5,2089.8 1280.8,2089.8 1281.1,2089.8 1281.4,2089.8 1281.7,2089.8 1282.1,2089.8 1282.4,2089.8 1282.7,2089.8 1283,2089.7 1283.3,2089.7 1283.7,2089.7 1284,2089.7 1284.3,2089.7 1284.6,2089.7 1284.9,2089.7 1285.2,2089.7 1285.6,2089.7 1285.9,2089.7 1286.2,2089.7 1286.5,2089.7 1286.8,2089.7 1287.2,2089.7 1287.5,2089.6 1287.8,2089.6 1288.1,2089.6 1288.4,2089.6 1288.7,2089.6 1289.1,2089.6 1289.4,2089.6 1289.7,2089.6 1290,2089.6 1290.3,2089.6 1290.7,2089.5 1291,2089.5 1291.3,2089.5 1291.6,2089.5 1291.9,2089.5 1292.2,2089.5 1292.6,2089.5 1292.9,2089.5 1293.2,2089.5 1293.5,2089.4 1293.8,2089.4 1294.2,2089.4 1294.5,2089.4 1294.8,2089.4 1295.1,2089.4 1295.4,2089.4 1295.7,2089.4 1296.1,2089.3 1296.4,2089.3 1296.7,2089.3 1297,2089.3 1297.3,2089.3 1297.7,2089.3 1298,2089.2 1298.3,2089.2 1298.6,2089.2 1298.9,2089.2 1299.2,2089.2 1299.6,2089.2 1299.9,2089.1 1300.2,2089.1 1300.5,2089.1 1300.8,2089.1 1301.2,2089.1 1301.5,2089 1301.8,2089 1302.1,2089 1302.4,2089 1302.7,2089 1303.1,2088.9 1303.4,2088.9 1303.7,2088.9 1304,2088.9 1304.3,2088.8 1304.7,2088.8 1305,2088.8 1305.3,2088.8 1305.6,2088.7 1305.9,2088.7 1306.2,2088.7 1306.6,2088.6 1306.9,2088.6 1307.2,2088.6 1307.5,2088.6 1307.8,2088.5 1308.2,2088.5 1308.5,2088.5 1308.8,2088.4 1309.1,2088.4 1309.4,2088.4 1309.7,2088.3 1310.1,2088.3 1310.4,2088.2 1310.7,2088.2 1311,2088.2 1311.3,2088.1 1311.7,2088.1 1312,2088 1312.3,2088 1312.6,2087.9 1312.9,2087.9 1313.2,2087.8 1313.6,2087.8 1313.9,2087.7 1314.2,2087.7 1314.5,2087.6 1314.8,2087.6 1315.2,2087.5 1315.5,2087.4 1315.8,2087.4 1316.1,2087.3 1316.4,2087.3 1316.7,2087.2 1317.1,2087.1 1317.4,2087 1317.7,2087 1318,2086.9 1318.3,2086.8 1318.7,2086.7 1319,2086.6 1319.3,2086.6 1319.6,2086.5 1319.9,2086.4 1320.2,2086.3 1320.6,2086.2 1320.9,2086.1 1321.2,2085.9 1321.5,2085.8 1321.8,2085.7 1322.2,2085.6 1322.5,2085.4 1322.8,2085.3 1323.1,2085.1 1323.4,2084.9 1323.7,2084.7 1324.1,2084.5 1324.4,2084.3 1324.7,2084.1 1325,2083.8 1325.3,2083.5 1325.7,2083.2 1326,2082.8 1326.3,2082.5 1326.6,2082 1326.9,2081.6 1327.2,2081 1327.6,2080.4 1327.9,2079.8 1328.2,2079.1 1328.5,2078.3 1328.8,2077.4 1329.2,2076.5 1329.5,2075.4 1329.8,2074.2 1330.1,2073 1330.4,2071.6 1330.7,2070.1 1331.1,2068.5 1331.4,2066.7 1331.7,2064.8 1332,2062.8 1332.3,2060.6 1332.7,2058.3 1333,2055.8 1333.3,2053.3 1333.6,2050.6 1333.9,2047.8 1334.2,2044.9 1334.6,2041.9 1334.9,2038.8 1335.2,2035.7 1335.5,2032.5 1335.8,2029.3 1336.2,2026.1 1336.5,2023 1336.8,2019.9 1337.1,2016.9 1337.4,2014 1337.7,2011.3 1338.1,2008.8 1338.4,2006.5 1338.7,2004.4 1339,2002.7 1339.3,2001.2 1339.7,2000 1340,1999.2 1340.3,1998.7 1340.6,1998.5 1340.9,1998.6 1341.2,1998.9 1341.6,1999.5 1341.9,2000.3 1342.2,2001.2 1342.5,2002.2 1342.8,2003.3 1343.2,2004.4 1343.5,2005.4 1343.8,2006.4 1344.1,2007.3 1344.4,2008 1344.7,2008.5 1345.1,2008.8 1345.4,2008.8 1345.7,2008.6 1346,2008 1346.3,2007.1 1346.7,2005.9 1347,2004.2 1347.3,2002.2 1347.6,1999.8 1347.9,1997 1348.2,1993.8 1348.6,1990.1 1348.9,1986.1 1349.2,1981.7 1349.5,1976.9 1349.8,1971.7 1350.2,1966.1 1350.5,1960.3 1350.8,1954.1 1351.1,1947.6 1351.4,1940.9 1351.7,1933.9 1352.1,1926.8 1352.4,1919.5 1352.7,1912.1 1353,1904.6 1353.3,1897.1 1353.7,1889.6 1354,1882.2 1354.3,1875 1354.6,1867.9 1354.9,1861.1 1355.2,1854.7 1355.6,1848.5 1355.9,1842.9 1356.2,1837.7 1356.5,1833.1 1356.8,1829.1 1357.2,1825.8 1357.5,1823.2 1357.8,1821.3 1358.1,1820.2 1358.4,1819.9 1358.7,1820.4 1359.1,1821.6 1359.4,1823.6 1359.7,1826.4 1360,1829.9 1360.3,1834.1 1360.7,1838.9 1361,1844.2 1361.3,1850.1 1361.6,1856.4 1361.9,1863.2 1362.2,1870.2 1362.6,1877.6 1362.9,1885.1 1363.2,1892.9 1363.5,1900.7 1363.8,1908.7 1364.2,1916.6 1364.5,1924.6 1364.8,1932.5 1365.1,1940.3 1365.4,1948 1365.7,1955.5 1366.1,1962.9 1366.4,1970 1366.7,1977 1367,1983.7 1367.3,1990.2 1367.7,1996.5 1368,2002.4 1368.3,2008.1 1368.6,2013.5 1368.9,2018.7 1369.3,2023.6 1369.6,2028.2 1369.9,2032.5 1370.2,2036.6 1370.5,2040.4 1370.8,2043.9 1371.2,2047.2 1371.5,2050.3 1371.8,2053.2 1372.1,2055.8 1372.4,2058.3 1372.8,2060.5 1373.1,2062.6 1373.4,2064.5 1373.7,2066.3 1374,2067.9 1374.3,2069.4 1374.7,2070.7 1375,2072 1375.3,2073.1 1375.6,2074.1 1375.9,2075.1 1376.3,2075.9 1376.6,2076.7 1376.9,2077.4 1377.2,2078.1 1377.5,2078.7 1377.8,2079.2 1378.2,2079.7 1378.5,2080.2 1378.8,2080.6 1379.1,2081 1379.4,2081.4 1379.8,2081.7 1380.1,2082.1 1380.4,2082.4 1380.7,2082.6 1381,2082.9 1381.3,2083.1 1381.7,2083.4 1382,2083.6 1382.3,2083.8 1382.6,2084 1382.9,2084.2 1383.3,2084.3 1383.6,2084.5 1383.9,2084.7 1384.2,2084.8 1384.5,2085 1384.8,2085.1 1385.2,2085.3 1385.5,2085.4 1385.8,2085.5 1386.1,2085.6 1386.4,2085.8 1386.8,2085.9 1387.1,2086 1387.4,2086.1 1387.7,2086.2 1388,2086.3 1388.3,2086.4 1388.7,2086.5 1389,2086.6 1389.3,2086.7 1389.6,2086.8 1389.9,2086.9 1390.3,2086.9 1390.6,2087 1390.9,2087.1 1391.2,2087.2 1391.5,2087.3 1391.8,2087.3 1392.2,2087.4 1392.5,2087.5 1392.8,2087.5 1393.1,2087.6 1393.4,2087.7 1393.8,2087.7 1394.1,2087.8 1394.4,2087.8 1394.7,2087.9 1395,2088 1395.3,2088 1395.7,2088.1 1396,2088.1 1396.3,2088.2 1396.6,2088.2 1396.9,2088.3 1397.3,2088.3 1397.6,2088.4 1397.9,2088.4 1398.2,2088.5 1398.5,2088.5 1398.8,2088.5 1399.2,2088.6 1399.5,2088.6 1399.8,2088.7 1400.1,2088.7 1400.4,2088.8 1400.8,2088.8 1401.1,2088.8 1401.4,2088.9 1401.7,2088.9 1402,2088.9 1402.3,2089 1402.7,2089 1403,2089 1403.3,2089.1 1403.6,2089.1 1403.9,2089.1 1404.3,2089.2 1404.6,2089.2 1404.9,2089.2 1405.2,2089.2 1405.5,2089.3 1405.8,2089.3 1406.2,2089.3 1406.5,2089.4 1406.8,2089.4 1407.1,2089.4 1407.4,2089.4 1407.8,2089.5 1408.1,2089.5 1408.4,2089.5 1408.7,2089.5 1409,2089.6 1409.3,2089.6 1409.7,2089.6 1410,2089.6 1410.3,2089.6 1410.6,2089.7 1410.9,2089.7 1411.3,2089.7 1411.6,2089.7 1411.9,2089.8 1412.2,2089.8 1412.5,2089.8 1412.8,2089.8 1413.2,2089.8 1413.5,2089.8 1413.8,2089.9 1414.1,2089.9 1414.4,2089.9 1414.8,2089.9 1415.1,2089.9 1415.4,2090 1415.7,2090 1416,2090 1416.3,2090 1416.7,2090 1417,2090 1417.3,2090.1 1417.6,2090.1 1417.9,2090.1 1418.3,2090.1 1418.6,2090.1 1418.9,2090.1 1419.2,2090.1 1419.5,2090.2 1419.8,2090.2 1420.2,2090.2 1420.5,2090.2 1420.8,2090.2 1421.1,2090.2 1421.4,2090.2 1421.8,2090.2 1422.1,2090.3 1422.4,2090.3 1422.7,2090.3 1423,2090.3 1423.3,2090.3 1423.7,2090.3 1424,2090.3 1424.3,2090.3 1424.6,2090.4 1424.9,2090.4 1425.3,2090.4 1425.6,2090.4 1425.9,2090.4 1426.2,2090.4 1426.5,2090.4 1426.8,2090.4 1427.2,2090.4 1427.5,2090.4 1427.8,2090.5 1428.1,2090.5 1428.4,2090.5 1428.8,2090.5 1429.1,2090.5 1429.4,2090.5 1429.7,2090.5 1430,2090.5 1430.3,2090.5 1430.7,2090.5 1431,2090.6 1431.3,2090.6 1431.6,2090.6 1431.9,2090.6 1432.3,2090.6 1432.6,2090.6 1432.9,2090.6 1433.2,2090.6 1433.5,2090.6 1433.8,2090.6 1434.2,2090.6 1434.5,2090.6 1434.8,2090.7 1435.1,2090.7 1435.4,2090.7 1435.8,2090.7 1436.1,2090.7 1436.4,2090.7 1436.7,2090.7 1437,2090.7 1437.3,2090.7 1437.7,2090.7 1438,2090.7 1438.3,2090.7 1438.6,2090.7 1438.9,2090.8 1439.3,2090.8 1439.6,2090.8 1439.9,2090.8 1440.2,2090.8 1440.5,2090.8 1440.8,2090.8 1441.2,2090.8 1441.5,2090.8 1441.8,2090.8 1442.1,2090.8 1442.4,2090.8 1442.8,2090.8 1443.1,2090.8 1443.4,2090.8 1443.7,2090.8 1444,2090.9 1444.3,2090.9 1444.7,2090.9 1445,2090.9 1445.3,2090.9 1445.6,2090.9 1445.9,2090.9 1446.3,2090.9 1446.6,2090.9 1446.9,2090.9 1447.2,2090.9 1447.5,2090.9 1447.8,2090.9 1448.2,2090.9 1448.5,2090.9 1448.8,2090.9 1449.1,2090.9 1449.4,2090.9 1449.8,2091 1450.1,2091 1450.4,2091 1450.7,2091 1451,2091 1451.3,2091 1451.7,2091 1452,2091 1452.3,2091 1452.6,2091 1452.9,2091 1453.3,2091 1453.6,2091 1453.9,2091 1454.2,2091 1454.5,2091 1454.8,2091 1455.2,2091 1455.5,2091 1455.8,2091 1456.1,2091 1456.4,2091.1 1456.8,2091.1 1457.1,2091.1 1457.4,2091.1 1457.7,2091.1 1458,2091.1 1458.3,2091.1 1458.7,2091.1 1459,2091.1 1459.3,2091.1 1459.6,2091.1 1459.9,2091.1 1460.3,2091.1 1460.6,2091.1 1460.9,2091.1 1461.2,2091.1 1461.5,2091.1 1461.8,2091.1 1462.2,2091.1 1462.5,2091.1 1462.8,2091.1 1463.1,2091.1 1463.4,2091.1 1463.8,2091.1 1464.1,2091.1 1464.4,2091.2 1464.7,2091.2 1465,2091.2 1465.3,2091.2 1465.7,2091.2 1466,2091.2 1466.3,2091.2 1466.6,2091.2 1466.9,2091.2 1467.3,2091.2 1467.6,2091.2 1467.9,2091.2 1468.2,2091.2 1468.5,2091.2 1468.8,2091.2 1469.2,2091.2 1469.5,2091.2 1469.8,2091.2 1470.1,2091.2 1470.4,2091.2 1470.8,2091.2 1471.1,2091.2 1471.4,2091.2 1471.7,2091.2 1472,2091.2 1472.3,2091.2 1472.7,2091.2 1473,2091.2 1473.3,2091.2 1473.6,2091.3 1473.9,2091.3 1474.3,2091.3 1474.6,2091.3 1474.9,2091.3 1475.2,2091.3 1475.5,2091.3 1475.8,2091.3 1476.2,2091.3 1476.5,2091.3 1476.8,2091.3 1477.1,2091.3 1477.4,2091.3 1477.8,2091.3 1478.1,2091.3 1478.4,2091.3 1478.7,2091.3 1479,2091.3 1479.3,2091.3 1479.7,2091.3 1480,2091.3 1480.3,2091.3 1480.6,2091.3 1480.9,2091.3 1481.3,2091.3 1481.6,2091.3 1481.9,2091.3 1482.2,2091.3 1482.5,2091.3 1482.8,2091.3 1483.2,2091.3 1483.5,2091.3 1483.8,2091.3 1484.1,2091.3 1484.4,2091.3 1484.8,2091.3 1485.1,2091.4 1485.4,2091.4 1485.7,2091.4 1486,2091.4 1486.3,2091.4 1486.7,2091.4 1487,2091.4 1487.3,2091.4 1487.6,2091.4 1487.9,2091.4 1488.3,2091.4 1488.6,2091.4 1488.9,2091.4 1489.2,2091.4 1489.5,2091.4 1489.8,2091.4 1490.2,2091.4 1490.5,2091.4 1490.8,2091.4 1491.1,2091.4 1491.4,2091.4 1491.8,2091.4 1492.1,2091.4 1492.4,2091.4 1492.7,2091.4 1493,2091.4 1493.3,2091.4 1493.7,2091.4 1494,2091.4 1494.3,2091.4 1494.6,2091.4 1494.9,2091.4 1495.3,2091.4 1495.6,2091.4 1495.9,2091.4 1496.2,2091.4 1496.5,2091.4 1496.8,2091.4 1497.2,2091.4 1497.5,2091.4 1497.8,2091.4 1498.1,2091.4 1498.4,2091.5 1498.8,2091.5 1499.1,2091.5 1499.4,2091.5 1499.7,2091.5 1500,2091.5 1500.3,2091.5 1500.7,2091.5 1501,2091.5 1501.3,2091.5 1501.6,2091.5 1501.9,2091.5 1502.3,2091.5 1502.6,2091.5 1502.9,2091.5 1503.2,2091.5 1503.5,2091.5 1503.8,2091.5 1504.2,2091.5 1504.5,2091.5 1504.8,2091.5 1505.1,2091.5 1505.4,2091.5 1505.8,2091.5 1506.1,2091.5 1506.4,2091.5 1506.7,2091.5 1507,2091.5 1507.3,2091.5 1507.7,2091.5 1508,2091.5 1508.3,2091.5 1508.6,2091.5 1508.9,2091.5 1509.3,2091.5 1509.6,2091.5 1509.9,2091.5 1510.2,2091.5 1510.5,2091.5 1510.8,2091.5 1511.2,2091.5 1511.5,2091.5 1511.8,2091.5 1512.1,2091.5 1512.4,2091.5 1512.8,2091.5 1513.1,2091.5 1513.4,2091.5 1513.7,2091.5 1514,2091.5 1514.3,2091.5 1514.7,2091.5 1515,2091.5 1515.3,2091.6 1515.6,2091.6 1515.9,2091.6 1516.3,2091.6 1516.6,2091.6 1516.9,2091.6 1517.2,2091.6 1517.5,2091.6 1517.8,2091.6 1518.2,2091.6 1518.5,2091.6 1518.8,2091.6 1519.1,2091.6 1519.4,2091.6 1519.8,2091.6 1520.1,2091.6 1520.4,2091.6 1520.7,2091.6 1521,2091.6 1521.3,2091.6 1521.7,2091.6 1522,2091.6 1522.3,2091.6 1522.6,2091.6 1522.9,2091.6 1523.3,2091.6 1523.6,2091.6 1523.9,2091.6 1524.2,2091.6 1524.5,2091.6 1524.8,2091.6 1525.2,2091.6 1525.5,2091.6 1525.8,2091.6 1526.1,2091.6 1526.4,2091.6 1526.8,2091.6 1527.1,2091.6 1527.4,2091.6 1527.7,2091.6 1528,2091.6 1528.4,2091.6 1528.7,2091.6 1529,2091.6 1529.3,2091.6 1529.6,2091.6 1529.9,2091.6 1530.3,2091.6 1530.6,2091.6 1530.9,2091.6 1531.2,2091.6 1531.5,2091.6 1531.9,2091.6 1532.2,2091.6 1532.5,2091.6 1532.8,2091.6 1533.1,2091.6 1533.4,2091.6 1533.8,2091.6 1534.1,2091.6 1534.4,2091.6 1534.7,2091.6 1535,2091.6 1535.4,2091.6 1535.7,2091.6 1536,2091.6 1536.3,2091.6 1536.6,2091.6 1536.9,2091.6 1537.3,2091.6 1537.6,2091.6 1537.9,2091.6 1538.2,2091.7 1538.5,2091.7 1538.9,2091.7 1539.2,2091.7 1539.5,2091.7 1539.8,2091.7 1540.1,2091.7 1540.4,2091.7 1540.8,2091.7 1541.1,2091.7 1541.4,2091.7 1541.7,2091.7 1542,2091.7 1542.4,2091.7 1542.7,2091.7 1543,2091.7 1543.3,2091.7 1543.6,2091.7 1543.9,2091.7 1544.3,2091.7 1544.6,2091.7 1544.9,2091.7 1545.2,2091.7 1545.5,2091.7 1545.9,2091.7 1546.2,2091.7 1546.5,2091.7 1546.8,2091.7 1547.1,2091.7 1547.4,2091.7 1547.8,2091.7 1548.1,2091.7 1548.4,2091.7 1548.7,2091.7 1549,2091.7 1549.4,2091.7 1549.7,2091.7 1550,2091.7 1550.3,2091.7 1550.6,2091.7 1550.9,2091.7 1551.3,2091.7 1551.6,2091.7 1551.9,2091.7 1552.2,2091.7 1552.5,2091.7 1552.9,2091.7 1553.2,2091.7 1553.5,2091.7 1553.8,2091.7 1554.1,2091.7 1554.4,2091.7 1554.8,2091.7 1555.1,2091.7 1555.4,2091.7 1555.7,2091.7 1556,2091.7 1556.4,2091.7 1556.7,2091.6 1557,2091.6 1557.3,2091.6 1557.6,2091.6 1557.9,2091.6 1558.3,2091.6 1558.6,2091.6 1558.9,2091.6 1559.2,2091.6 1559.5,2091.6 1559.9,2091.6 1560.2,2091.6 1560.5,2091.6 1560.8,2091.6 1561.1,2091.6 1561.4,2091.5 1561.8,2091.5 1562.1,2091.5 1562.4,2091.5 1562.7,2091.4 1563,2091.4 1563.4,2091.4 1563.7,2091.3 1564,2091.3 1564.3,2091.2 1564.6,2091.2 1564.9,2091.1 1565.3,2091 1565.6,2090.9 1565.9,2090.8 1566.2,2090.7 1566.5,2090.6 1566.9,2090.5 1567.2,2090.4 1567.5,2090.2 1567.8,2090.1 1568.1,2089.9 1568.4,2089.8 1568.8,2089.6 1569.1,2089.4 1569.4,2089.3 1569.7,2089.1 1570,2088.9 1570.4,2088.8 1570.7,2088.6 1571,2088.5 1571.3,2088.4 1571.6,2088.3 1571.9,2088.2 1572.3,2088.1 1572.6,2088.1 1572.9,2088.1 1573.2,2088.1 1573.5,2088.1 1573.9,2088.2 1574.2,2088.3 1574.5,2088.4 1574.8,2088.5 1575.1,2088.6 1575.4,2088.8 1575.8,2088.9 1576.1,2089.1 1576.4,2089.3 1576.7,2089.4 1577,2089.6 1577.4,2089.8 1577.7,2089.9 1578,2090.1 1578.3,2090.2 1578.6,2090.4 1578.9,2090.5 1579.3,2090.6 1579.6,2090.7 1579.9,2090.8 1580.2,2090.9 1580.5,2091 1580.9,2091.1 1581.2,2091.2 1581.5,2091.2 1581.8,2091.3 1582.1,2091.4 1582.4,2091.4 1582.8,2091.4 1583.1,2091.5 1583.4,2091.5 1583.7,2091.5 1584,2091.6 1584.4,2091.6 1584.7,2091.6 1585,2091.6 1585.3,2091.6 1585.6,2091.6 1585.9,2091.6 1586.3,2091.6 1586.6,2091.7 1586.9,2091.7 1587.2,2091.7 1587.5,2091.7 1587.9,2091.7 1588.2,2091.7 1588.5,2091.7 1588.8,2091.7 1589.1,2091.7 1589.4,2091.7 1589.8,2091.7 1590.1,2091.7 1590.4,2091.7 1590.7,2091.7 1591,2091.7 1591.4,2091.7 1591.7,2091.7 1592,2091.7 1592.3,2091.7 1592.6,2091.7 1592.9,2091.7 1593.3,2091.7 1593.6,2091.7 1593.9,2091.7 1594.2,2091.7 1594.5,2091.7 1594.9,2091.7 1595.2,2091.7 1595.5,2091.7 1595.8,2091.7 1596.1,2091.7 1596.4,2091.7 1596.8,2091.7 1597.1,2091.7 1597.4,2091.7 1597.7,2091.7 1598,2091.7 1598.4,2091.7 1598.7,2091.7 1599,2091.7 1599.3,2091.7 1599.6,2091.7 1599.9,2091.7 1600.3,2091.7 1600.6,2091.7 1600.9,2091.7 1601.2,2091.7 1601.5,2091.7 1601.9,2091.7 1602.2,2091.7 1602.5,2091.7 1602.8,2091.7 1603.1,2091.7 1603.4,2091.7 1603.8,2091.7 1604.1,2091.7 1604.4,2091.7 1604.7,2091.7 1605,2091.7 1605.4,2091.7 1605.7,2091.7 1606,2091.7 1606.3,2091.7 1606.6,2091.7 1606.9,2091.7 1607.3,2091.7 1607.6,2091.7 1607.9,2091.7 1608.2,2091.7 1608.5,2091.7 1608.9,2091.7 1609.2,2091.7 1609.5,2091.7 1609.8,2091.7 1610.1,2091.7 1610.4,2091.7 1610.8,2091.7 1611.1,2091.7 1611.4,2091.6 1611.7,2091.6 1612,2091.6 1612.4,2091.6 1612.7,2091.6 1613,2091.6 1613.3,2091.6 1613.6,2091.6 1613.9,2091.6 1614.3,2091.6 1614.6,2091.6 1614.9,2091.6 1615.2,2091.6 1615.5,2091.6 1615.9,2091.6 1616.2,2091.6 1616.5,2091.6 1616.8,2091.6 1617.1,2091.6 1617.4,2091.6 1617.8,2091.6 1618.1,2091.6 1618.4,2091.5 1618.7,2091.5 1619,2091.5 1619.4,2091.5 1619.7,2091.5 1620,2091.5 1620.3,2091.5 1620.6,2091.5 1620.9,2091.5 1621.3,2091.5 1621.6,2091.5 1621.9,2091.5 1622.2,2091.5 1622.5,2091.5 1622.9,2091.4 1623.2,2091.4 1623.5,2091.4 1623.8,2091.4 1624.1,2091.4 1624.4,2091.4 1624.8,2091.4 1625.1,2091.4 1625.4,2091.4 1625.7,2091.4 1626,2091.3 1626.4,2091.3 1626.7,2091.3 1627,2091.3 1627.3,2091.3 1627.6,2091.3 1627.9,2091.3 1628.3,2091.3 1628.6,2091.2 1628.9,2091.2 1629.2,2091.2 1629.5,2091.2 1629.9,2091.2 1630.2,2091.2 1630.5,2091.1 1630.8,2091.1 1631.1,2091.1 1631.4,2091.1 1631.8,2091.1 1632.1,2091 1632.4,2091 1632.7,2091 1633,2091 1633.4,2091 1633.7,2090.9 1634,2090.9 1634.3,2090.9 1634.6,2090.9 1634.9,2090.8 1635.3,2090.8 1635.6,2090.8 1635.9,2090.7 1636.2,2090.7 1636.5,2090.7 1636.9,2090.6 1637.2,2090.6 1637.5,2090.5 1637.8,2090.5 1638.1,2090.4 1638.4,2090.4 1638.8,2090.3 1639.1,2090.3 1639.4,2090.2 1639.7,2090.1 1640,2090 1640.4,2089.9 1640.7,2089.8 1641,2089.7 1641.3,2089.6 1641.6,2089.5 1641.9,2089.3 1642.3,2089.2 1642.6,2089 1642.9,2088.8 1643.2,2088.6 1643.5,2088.4 1643.9,2088.1 1644.2,2087.8 1644.5,2087.5 1644.8,2087.2 1645.1,2086.8 1645.4,2086.4 1645.8,2086 1646.1,2085.6 1646.4,2085.1 1646.7,2084.5 1647,2083.9 1647.4,2083.3 1647.7,2082.7 1648,2082 1648.3,2081.2 1648.6,2080.4 1648.9,2079.6 1649.3,2078.7 1649.6,2077.8 1649.9,2076.9 1650.2,2075.9 1650.5,2074.9 1650.9,2073.8 1651.2,2072.7 1651.5,2071.6 1651.8,2070.5 1652.1,2069.4 1652.4,2068.3 1652.8,2067.1 1653.1,2066 1653.4,2064.9 1653.7,2063.8 1654,2062.7 1654.4,2061.7 1654.7,2060.7 1655,2059.8 1655.3,2059 1655.6,2058.2 1655.9,2057.6 1656.3,2057 1656.6,2056.5 1656.9,2056.2 1657.2,2055.9 1657.5,2055.8 1657.9,2055.8 1658.2,2055.9 1658.5,2056.1 1658.8,2056.4 1659.1,2056.9 1659.4,2057.4 1659.8,2058 1660.1,2058.7 1660.4,2059.4 1660.7,2060.2 1661,2061 1661.4,2061.9 1661.7,2062.8 1662,2063.6 1662.3,2064.5 1662.6,2065.4 1662.9,2066.2 1663.3,2067 1663.6,2067.8 1663.9,2068.5 1664.2,2069.2 1664.5,2069.8 1664.9,2070.4 1665.2,2070.8 1665.5,2071.2 1665.8,2071.5 1666.1,2071.7 1666.4,2071.9 1666.8,2071.9 1667.1,2071.8 1667.4,2071.6 1667.7,2071.3 1668,2070.9 1668.4,2070.4 1668.7,2069.8 1669,2069.1 1669.3,2068.3 1669.6,2067.4 1669.9,2066.3 1670.3,2065.2 1670.6,2064 1670.9,2062.6 1671.2,2061.2 1671.5,2059.7 1671.9,2058.1 1672.2,2056.4 1672.5,2054.7 1672.8,2052.9 1673.1,2051 1673.4,2049.1 1673.8,2047.2 1674.1,2045.2 1674.4,2043.2 1674.7,2041.3 1675,2039.3 1675.4,2037.4 1675.7,2035.5 1676,2033.6 1676.3,2031.8 1676.6,2030.1 1676.9,2028.5 1677.3,2027.1 1677.6,2025.7 1677.9,2024.5 1678.2,2023.5 1678.5,2022.6 1678.9,2021.9 1679.2,2021.4 1679.5,2021.2 1679.8,2021.1 1680.1,2021.2 1680.4,2021.5 1680.8,2022.1 1681.1,2022.8 1681.4,2023.7 1681.7,2024.8 1682,2026.1 1682.4,2027.5 1682.7,2029 1683,2030.7 1683.3,2032.5 1683.6,2034.3 1683.9,2036.3 1684.3,2038.2 1684.6,2040.3 1684.9,2042.3 1685.2,2044.4 1685.5,2046.5 1685.9,2048.6 1686.2,2050.7 1686.5,2052.7 1686.8,2054.7 1687.1,2056.7 1687.5,2058.6 1687.8,2060.5 1688.1,2062.3 1688.4,2064.1 1688.7,2065.8 1689,2067.4 1689.4,2069 1689.7,2070.5 1690,2071.9 1690.3,2073.3 1690.6,2074.6 1691,2075.8 1691.3,2076.9 1691.6,2078 1691.9,2079 1692.2,2079.9 1692.5,2080.8 1692.9,2081.6 1693.2,2082.3 1693.5,2083 1693.8,2083.7 1694.1,2084.3 1694.5,2084.8 1694.8,2085.3 1695.1,2085.8 1695.4,2086.2 1695.7,2086.6 1696,2087 1696.4,2087.3 1696.7,2087.6 1697,2087.9 1697.3,2088.1 1697.6,2088.3 1698,2088.5 1698.3,2088.7 1698.6,2088.9 1698.9,2089.1 1699.2,2089.2 1699.5,2089.4 1699.9,2089.5 1700.2,2089.6 1700.5,2089.7 1700.8,2089.8 1701.1,2089.9 1701.5,2090 1701.8,2090.1 1702.1,2090.1 1702.4,2090.2 1702.7,2090.3 1703,2090.3 1703.4,2090.4 1703.7,2090.4 1704,2090.5 1704.3,2090.5 1704.6,2090.6 1705,2090.6 1705.3,2090.7 1705.6,2090.7 1705.9,2090.8 1706.2,2090.8 1706.5,2090.8 1706.9,2090.9 1707.2,2090.9 1707.5,2091 1707.8,2091 1708.1,2091 1708.5,2091 1708.8,2091.1 1709.1,2091.1 1709.4,2091.1 1709.7,2091.2 1710,2091.2 1710.4,2091.2 1710.7,2091.2 1711,2091.3 1711.3,2091.3 1711.6,2091.3 1712,2091.3 1712.3,2091.4 1712.6,2091.4 1712.9,2091.4 1713.2,2091.4 1713.5,2091.4 1713.9,2091.5 1714.2,2091.5 1714.5,2091.5 1714.8,2091.5 1715.1,2091.5 1715.5,2091.6 1715.8,2091.6 1716.1,2091.6 1716.4,2091.6 1716.7,2091.6 1717,2091.6 1717.4,2091.7 1717.7,2091.7 1718,2091.7 1718.3,2091.7 1718.6,2091.7 1719,2091.7 1719.3,2091.7 1719.6,2091.8 1719.9,2091.8 1720.2,2091.8 1720.5,2091.8 1720.9,2091.8 1721.2,2091.8 1721.5,2091.8 1721.8,2091.8 1722.1,2091.9 1722.5,2091.9 1722.8,2091.9 1723.1,2091.9 1723.4,2091.9 1723.7,2091.9 1724,2091.9 1724.4,2091.9 1724.7,2091.9 1725,2091.9 1725.3,2092 1725.6,2092 1726,2092 1726.3,2092 1726.6,2092 1726.9,2092 1727.2,2092 1727.5,2092 1727.9,2092 1728.2,2092 1728.5,2092 1728.8,2092 1729.1,2092.1 1729.5,2092.1 1729.8,2092.1 1730.1,2092.1 1730.4,2092.1 1730.7,2092.1 1731,2092.1 1731.4,2092.1 1731.7,2092.1 1732,2092.1 1732.3,2092.1 1732.6,2092.1 1733,2092.1 1733.3,2092.1 1733.6,2092.2 1733.9,2092.2 1734.2,2092.2 1734.5,2092.2 1734.9,2092.2 1735.2,2092.2 1735.5,2092.2 1735.8,2092.2 1736.1,2092.2 1736.5,2092.2 1736.8,2092.2 1737.1,2092.2 1737.4,2092.2 1737.7,2092.2 1738,2092.2 1738.4,2092.2 1738.7,2092.2 1739,2092.3 1739.3,2092.3 1739.6,2092.3 1740,2092.3 1740.3,2092.3 1740.6,2092.3 1740.9,2092.3 1741.2,2092.3 1741.5,2092.3 1741.9,2092.3 1742.2,2092.3 1742.5,2092.3 1742.8,2092.3 1743.1,2092.3 1743.5,2092.3 1743.8,2092.3 1744.1,2092.3 1744.4,2092.3 1744.7,2092.3 1745,2092.3 1745.4,2092.3 1745.7,2092.4 1746,2092.4 1746.3,2092.4 1746.6,2092.4 1747,2092.4 1747.3,2092.4 1747.6,2092.4 1747.9,2092.4 1748.2,2092.4 1748.5,2092.4 1748.9,2092.4 1749.2,2092.4 1749.5,2092.4 1749.8,2092.4 1750.1,2092.4 1750.5,2092.4 1750.8,2092.4 1751.1,2092.4 1751.4,2092.4 1751.7,2092.4 1752,2092.4 1752.4,2092.4 1752.7,2092.4 1753,2092.4 1753.3,2092.4 1753.6,2092.4 1754,2092.4 1754.3,2092.5 1754.6,2092.5 1754.9,2092.5 1755.2,2092.5 1755.5,2092.5 1755.9,2092.5 1756.2,2092.5 1756.5,2092.5 1756.8,2092.5 1757.1,2092.5 1757.5,2092.5 1757.8,2092.5 1758.1,2092.5 1758.4,2092.5 1758.7,2092.5 1759,2092.5 1759.4,2092.5 1759.7,2092.5 1760,2092.5 1760.3,2092.5 1760.6,2092.5 1761,2092.5 1761.3,2092.5 1761.6,2092.5 1761.9,2092.5 1762.2,2092.5 1762.5,2092.5 1762.9,2092.5 1763.2,2092.5 1763.5,2092.5 1763.8,2092.5 1764.1,2092.5 1764.5,2092.5 1764.8,2092.5 1765.1,2092.5 1765.4,2092.6 1765.7,2092.6 1766,2092.6 1766.4,2092.6 1766.7,2092.6 1767,2092.6"/>
<path d="M256.2 2132v23M554 2132v23M563.2 2132v23M742.4 2132v23M785 2132v23M799.5 2132v23M1001.2 2132v23M1147.6 2132v23M1178.4 2132v23M1185.9 2132v23M1193.3 2132v23M1342.2 2132v23M1357.1 2132v23M1363 2132v23M1368 2132v23M1476.2 2132v23M1479.7 2132v23M1658.9 2132v23M1664.9 2132v23M1679.8 2132v23M1684.7 2132v23M1766.6 2132v23" stroke="#ff1a1a" stroke-width="3" fill="none"/>
<path d="M461.5 2170.5v26M558 2170.5v26M678.6 2170.5v26M750.6 2170.5v26M797.8 2170.5v26M920.4 2170.5v26M969.9 2170.5v26M1015.8 2170.5v26M1046.9 2170.5v26M1082 2170.5v26M1115 2170.5v26M1148 2170.5v26M1186 2170.5v26M1200 2170.5v26M1229 2170.5v26M1248 2170.5v26M1294 2170.5v26M1308 2170.5v26M1329.8 2170.5v26M1354.6 2170.5v26M1374 2170.5v26M1378 2170.5v26M1403.7 2170.5v26M1417.2 2170.5v26M1436 2170.5v26M1445 2170.5v26M1448 2170.5v26M1470 2170.5v26M1488 2170.5v26M1591 2170.5v26M1611.2 2170.5v26M1620 2170.5v26M1643.5 2170.5v26M1660.6 2170.5v26M1666.6 2170.5v26M1669.6 2170.5v26M1675.6 2170.5v26M1729.4 2170.5v26M1735 2170.5v26M1751.8 2170.5v26" stroke="#2222ff" stroke-width="3" fill="none"/>
<path d="M263 2170.5v26M340.5 2170.5v26M561 2170.5v26M563 2170.5v26M589.3 2170.5v26M620.8 2170.5v26M714.4 2170.5v26M737.5 2170.5v26M778.9 2170.5v26M822 2170.5v26M826 2170.5v26M873.2 2170.5v26M986.1 2170.5v26M1019.6 2170.5v26M1028.3 2170.5v26M1079 2170.5v26M1085 2170.5v26M1119 2170.5v26M1131.3 2170.5v26M1150 2170.5v26M1188 2170.5v26M1225 2170.5v26M1287 2170.5v26M1290 2170.5v26M1341 2170.5v26M1366 2170.5v26M1386.7 2170.5v26M1392.5 2170.5v26M1398.1 2170.5v26M1428 2170.5v26M1434 2170.5v26M1492 2170.5v26M1500 2170.5v26M1508 2170.5v26M1552 2170.5v26M1558.3 2170.5v26M1573 2170.5v26M1588 2170.5v26M1605.4 2170.5v26M1623 2170.5v26M1648.6 2170.5v26M1654.6 2170.5v26M1663.6 2170.5v26M1684.6 2170.5v26M1690.5 2170.5v26M1702 2170.5v26M1709.6 2170.5v26M1723.8 2170.5v26M1737.8 2170.5v26M1740.6 2170.5v26M1743.4 2170.5v26M1746.2 2170.5v26M1760.2 2170.5v26" stroke="#5555ff" stroke-width="3" fill="none"/>
<path d="M252.3 2170.5v26M422.8 2170.5v26M451.8 2170.5v26M523.5 2170.5v26M555 2170.5v26M634 2170.5v26M652.3 2170.5v26M818 2170.5v26M859 2170.5v26M903 2170.5v26M981.1 2170.5v26M994.7 2170.5v26M998.5 2170.5v26M1025.8 2170.5v26M1043.9 2170.5v26M1052 2170.5v26M1055 2170.5v26M1058 2170.5v26M1060 2170.5v26M1089.6 2170.5v26M1109 2170.5v26M1112 2170.5v26M1136.2 2170.5v26M1145 2170.5v26M1161 2170.5v26M1163 2170.5v26M1174.7 2170.5v26M1180 2170.5v26M1183 2170.5v26M1197 2170.5v26M1203 2170.5v26M1221 2170.5v26M1243 2170.5v26M1252.9 2170.5v26M1259 2170.5v26M1268 2170.5v26M1271 2170.5v26M1297 2170.5v26M1303 2170.5v26M1306 2170.5v26M1335.3 2170.5v26M1350 2170.5v26M1359.6 2170.5v26M1362 2170.5v26M1370 2170.5v26M1422.3 2170.5v26M1431 2170.5v26M1451 2170.5v26M1454 2170.5v26M1461.2 2170.5v26M1473 2170.5v26M1476 2170.5v26M1480 2170.5v26M1484 2170.5v26M1496 2170.5v26M1504 2170.5v26M1515 2170.5v26M1521.5 2170.5v26M1545.6 2170.5v26M1563.4 2170.5v26M1576 2170.5v26M1579 2170.5v26M1581 2170.5v26M1594 2170.5v26M1597 2170.5v26M1626 2170.5v26M1651.6 2170.5v26M1657.6 2170.5v26M1672.6 2170.5v26M1678.6 2170.5v26M1681.6 2170.5v26M1695.6 2170.5v26M1721 2170.5v26M1726.6 2170.5v26M1732.2 2170.5v26M1749 2170.5v26M1754.6 2170.5v26M1757.4 2170.5v26M1763 2170.5v26" stroke="#8888ff" stroke-width="3" fill="none"/>
<polyline fill="none" stroke="#2a2aff" stroke-width="1.6" points="207.8,2271.2 208.8,2271 209.9,2270.7 210.9,2270.6 211.9,2270.7 212.9,2270.5 213.9,2271.6 214.9,2272.3 216,2271.5 217,2271.6 218,2270.4 219,2269.7 220,2270.5 221.1,2271 222.1,2271.2 223.1,2271.4 224.1,2271.2 225.1,2271.5 226.1,2272.2 227.2,2271.6 228.2,2271 229.2,2271 230.2,2271 231.2,2271.6 232.3,2271.6 233.3,2271.5 234.3,2271.2 235.3,2271.7 236.3,2272.5 237.3,2271.9 238.4,2271.6 239.4,2271.3 240.4,2271 241.4,2270.8 242.4,2271.5 243.5,2272.6 244.5,2274.1 245.5,2275.7 246.5,2274.8 247.5,2275.3 248.5,2282 249.6,2291.8 250.6,2295.8 251.6,2287.7 252.6,2272.8 253.6,2264.5 254.7,2267.9 255.7,2270.2 256.7,2265 257.7,2257.6 258.7,2255.9 259.8,2260.8 260.8,2262.2 261.8,2265.3 262.8,2273.1 263.8,2276.6 264.8,2273.1 265.9,2270.9 266.9,2271.8 267.9,2271.2 268.9,2271.3 269.9,2271.3 271,2270.9 272,2269.9 273,2270.3 274,2269.9 275,2269.8 276,2271 277.1,2270.2 278.1,2270.9 279.1,2271.1 280.1,2270.5 281.1,2271 282.2,2270.3 283.2,2270.4 284.2,2270.2 285.2,2269.6 286.2,2269.5 287.2,2269.1 288.3,2269.2 289.3,2269.5 290.3,2270.1 291.3,2270.2 292.3,2270.4 293.4,2269.6 294.4,2270 295.4,2270.3 296.4,2270.1 297.4,2271.5 298.4,2270.9 299.5,2269.9 300.5,2269.8 301.5,2269.6 302.5,2269 303.5,2269.3 304.6,2269.5 305.6,2269.1 306.6,2269.5 307.6,2270.4 308.6,2271 309.6,2270.8 310.7,2270.7 311.7,2269.6 312.7,2269.6 313.7,2270.8 314.7,2271.1 315.8,2271.6 316.8,2271.4 317.8,2270.4 318.8,2270.5 319.8,2270.1 320.8,2270.6 321.9,2270.3 322.9,2270 323.9,2271.1 324.9,2270.3 325.9,2271.6 327,2271.7 328,2271.2 329,2271.9 330,2270.5 331,2270.2 332,2270.6 333.1,2269.7 334.1,2270 335.1,2270 336.1,2270.3 337.1,2271.3 338.2,2271.1 339.2,2270.7 340.2,2270.4 341.2,2270.2 342.2,2270.3 343.2,2271.2 344.3,2271.4 345.3,2271.3 346.3,2271.9 347.3,2271.1 348.3,2271.2 349.4,2271.3 350.4,2270.3 351.4,2270.1 352.4,2269.4 353.4,2269 354.4,2269.4 355.5,2269.2 356.5,2269.3 357.5,2268.4 358.5,2268.9 359.5,2269.2 360.6,2269.6 361.6,2272 362.6,2272.4 363.6,2272.5 364.6,2272.3 365.6,2271.1 366.7,2269.9 367.7,2269.6 368.7,2270 369.7,2269.2 370.7,2268.9 371.8,2269.2 372.8,2269.4 373.8,2269.3 374.8,2270.3 375.8,2270.5 376.8,2270.1 377.9,2270.9 378.9,2270.4 379.9,2270 380.9,2269.4 381.9,2269.1 383,2269.8 384,2270.2 385,2270.3 386,2270.7 387,2269.2 388,2269.2 389.1,2269.8 390.1,2269.2 391.1,2270.1 392.1,2270 393.1,2269.9 394.2,2270.1 395.2,2270.1 396.2,2269.8 397.2,2269.8 398.2,2269.8 399.2,2269.9 400.3,2269.7 401.3,2270.9 402.3,2271.5 403.3,2272 404.3,2272.5 405.4,2271.2 406.4,2270.3 407.4,2270 408.4,2269.9 409.4,2269.9 410.4,2269.7 411.5,2270.1 412.5,2269.9 413.5,2269.2 414.5,2269.9 415.5,2270.4 416.6,2270.4 417.6,2271.2 418.6,2271.4 419.6,2270.1 420.6,2270.1 421.7,2270 422.7,2269.6 423.7,2269.8 424.7,2270 425.7,2269.8 426.7,2270.1 427.8,2270.4 428.8,2270.6 429.8,2270.7 430.8,2271.2 431.8,2271.6 432.9,2270.8 433.9,2270.8 434.9,2270.6 435.9,2270.1 436.9,2270.7 437.9,2270.5 439,2270.5 440,2270.8 441,2270.4 442,2270.7 443,2270.4 444.1,2270.7 445.1,2271.6 446.1,2270.9 447.1,2271.3 448.1,2270.8 449.1,2270.3 450.2,2271 451.2,2271.1 452.2,2271.6 453.2,2272 454.2,2271.8 455.3,2271.6 456.3,2270.3 457.3,2270.7 458.3,2269.6 459.3,2270.2 460.3,2271.2 461.4,2272 462.4,2272 463.4,2271.8 464.4,2271 465.4,2270.6 466.5,2271.5 467.5,2271 468.5,2270.8 469.5,2269.7 470.5,2269.3 471.5,2270.9 472.6,2270.4 473.6,2271.4 474.6,2271.3 475.6,2269.8 476.6,2270.2 477.7,2269.5 478.7,2269.5 479.7,2270.4 480.7,2270.2 481.7,2270.9 482.7,2270.3 483.8,2269.7 484.8,2269.9 485.8,2269.4 486.8,2269.6 487.8,2270 488.9,2269.9 489.9,2270.1 490.9,2270.1 491.9,2270.4 492.9,2270.7 493.9,2270.4 495,2270.9 496,2270.8 497,2271.1 498,2270.8 499,2270.8 500.1,2270.6 501.1,2269.8 502.1,2269.8 503.1,2270.2 504.1,2270.3 505.1,2270.5 506.2,2270.8 507.2,2269.7 508.2,2269.4 509.2,2269.7 510.2,2269.9 511.3,2270.4 512.3,2270.6 513.3,2270.9 514.3,2270.6 515.3,2270.2 516.3,2270.2 517.4,2270.2 518.4,2270.3 519.4,2271.1 520.4,2271.3 521.4,2271.6 522.5,2271.9 523.5,2271.3 524.5,2271.1 525.5,2271.1 526.5,2270.8 527.5,2270.6 528.6,2271.1 529.6,2270.7 530.6,2271.4 531.6,2270.9 532.6,2270.4 533.7,2270.6 534.7,2270.1 535.7,2270.7 536.7,2270.1 537.7,2269.1 538.7,2269.2 539.8,2269 540.8,2268.2 541.8,2267 542.8,2262.1 543.8,2257.2 544.9,2254.6 545.9,2256.1 546.9,2262.1 547.9,2267.7 548.9,2270 549.9,2266.3 551,2264 552,2267 553,2275.8 554,2289.2 555,2296.5 556.1,2296.5 557.1,2296.5 558.1,2294.2 559.1,2283 560.1,2272.4 561.1,2267.7 562.2,2268.7 563.2,2270.5 564.2,2270.3 565.2,2265.8 566.2,2259.2 567.3,2255.1 568.3,2256.1 569.3,2260.1 570.3,2265.1 571.3,2269.6 572.3,2270.3 573.4,2269.9 574.4,2269.7 575.4,2269.6 576.4,2270.4 577.4,2271 578.5,2271.4 579.5,2271 580.5,2270.6 581.5,2269.5 582.5,2269.3 583.6,2269.5 584.6,2269.7 585.6,2269.8 586.6,2270.4 587.6,2269.6 588.6,2268.8 589.7,2269.6 590.7,2269.6 591.7,2270.2 592.7,2271.1 593.7,2271.2 594.8,2271.3 595.8,2271.1 596.8,2270.9 597.8,2270.7 598.8,2270.5 599.8,2271.4 600.9,2270.7 601.9,2271.6 602.9,2271.7 603.9,2270.8 604.9,2272 606,2270.9 607,2270.1 608,2270.6 609,2270 610,2270.7 611,2271.1 612.1,2270.6 613.1,2270.6 614.1,2269.6 615.1,2269.6 616.1,2269.2 617.2,2268.9 618.2,2270 619.2,2270 620.2,2270.5 621.2,2271.3 622.2,2270.2 623.3,2270.4 624.3,2270.4 625.3,2270.1 626.3,2270.6 627.3,2270.5 628.4,2270.7 629.4,2270.4 630.4,2271.3 631.4,2271 632.4,2271.2 633.4,2272 634.5,2271.6 635.5,2272.5 636.5,2271.8 637.5,2271.3 638.5,2270.9 639.6,2270.9 640.6,2270.2 641.6,2269.6 642.6,2268.9 643.6,2269 644.6,2269.7 645.7,2270.2 646.7,2270.8 647.7,2270 648.7,2271.1 649.7,2271.1 650.8,2271.6 651.8,2272.7 652.8,2272.4 653.8,2272.2 654.8,2272.3 655.8,2271.7 656.9,2271.1 657.9,2271.3 658.9,2271 659.9,2270.8 660.9,2271.3 662,2271.1 663,2270.6 664,2270.2 665,2269.8 666,2269.6 667,2269.2 668.1,2268.9 669.1,2269.2 670.1,2269.2 671.1,2269.5 672.1,2270.6 673.2,2270.3 674.2,2270.2 675.2,2270.9 676.2,2270.8 677.2,2271.5 678.2,2271.7 679.3,2272.3 680.3,2271.3 681.3,2270 682.3,2269.2 683.3,2268.5 684.4,2268.9 685.4,2269.1 686.4,2269.1 687.4,2268.8 688.4,2269.6 689.4,2269.9 690.5,2270.6 691.5,2271.3 692.5,2271.4 693.5,2271.4 694.5,2270.9 695.6,2271 696.6,2269.7 697.6,2269.3 698.6,2269.9 699.6,2269.5 700.6,2270.3 701.7,2270.4 702.7,2270.5 703.7,2270.7 704.7,2270.6 705.7,2271.7 706.8,2271.6 707.8,2270.6 708.8,2270.6 709.8,2269.5 710.8,2269.4 711.8,2269.5 712.9,2269.8 713.9,2270.2 714.9,2270.6 715.9,2270.9 716.9,2270.5 718,2269.5 719,2269.2 720,2269.4 721,2270.2 722,2271 723,2270.7 724.1,2270.1 725.1,2270 726.1,2270 727.1,2270.3 728.1,2270.4 729.2,2270.3 730.2,2269.9 731.2,2269.8 732.2,2269.8 733.2,2269.2 734.3,2268.6 735.3,2269.4 736.3,2269 737.3,2269.6 738.3,2270.5 739.3,2270.5 740.4,2271.2 741.4,2271.1 742.4,2270.8 743.4,2270.5 744.4,2269.7 745.5,2271.2 746.5,2271.1 747.5,2272.2 748.5,2272.3 749.5,2271.4 750.5,2271.3 751.6,2270.2 752.6,2271 753.6,2270.5 754.6,2270.7 755.6,2271.9 756.7,2271.1 757.7,2270.9 758.7,2271.2 759.7,2270.8 760.7,2269.7 761.7,2269.8 762.8,2270.4 763.8,2270.4 764.8,2271.9 765.8,2271.9 766.8,2271.2 767.9,2271.2 768.9,2271 769.9,2271 770.9,2271.3 771.9,2271.1 772.9,2271.3 774,2270.8 775,2270.1 776,2269 777,2266.8 778,2264.6 779.1,2263.6 780.1,2266 781.1,2268.7 782.1,2269 783.1,2268.5 784.1,2267.7 785.2,2271.1 786.2,2276.1 787.2,2277.4 788.2,2275.4 789.2,2271.5 790.3,2267.6 791.3,2263.7 792.3,2260.1 793.3,2260.3 794.3,2263.1 795.3,2266.7 796.4,2269.2 797.4,2266.4 798.4,2264.3 799.4,2266.3 800.4,2272.4 801.5,2280.1 802.5,2283.1 803.5,2281.1 804.5,2277.2 805.5,2273.4 806.5,2272.7 807.6,2272.6 808.6,2271.7 809.6,2270.6 810.6,2269 811.6,2269.1 812.7,2269.1 813.7,2269.9 814.7,2270.7 815.7,2269.4 816.7,2270.4 817.7,2270 818.8,2269.8 819.8,2270.5 820.8,2270.5 821.8,2270.6 822.8,2270.9 823.9,2270.5 824.9,2269.7 825.9,2270.5 826.9,2270.3 827.9,2270.9 828.9,2271.8 830,2271.7 831,2271.6 832,2271.4 833,2271.6 834,2271.4 835.1,2271.3 836.1,2271.7 837.1,2271.4 838.1,2270.5 839.1,2270.3 840.1,2270.3 841.2,2270.5 842.2,2271 843.2,2272 844.2,2271.4 845.2,2271.1 846.3,2271.2 847.3,2271.6 848.3,2272.4 849.3,2272.6 850.3,2272.5 851.3,2271.5 852.4,2271.4 853.4,2270.6 854.4,2270.8 855.4,2270.8 856.4,2270.3 857.5,2270.2 858.5,2270.1 859.5,2270 860.5,2269.5 861.5,2269.8 862.5,2270.4 863.6,2270.8 864.6,2270.9 865.6,2271 866.6,2271 867.6,2270.3 868.7,2270.2 869.7,2269.6 870.7,2270.2 871.7,2270.3 872.7,2270.8 873.7,2271.6 874.8,2271.1 875.8,2270.9 876.8,2270.3 877.8,2270.3 878.8,2270.4 879.9,2270.9 880.9,2271.5 881.9,2270.4 882.9,2270.6 883.9,2271.4 884.9,2271.2 886,2271.9 887,2271.3 888,2270.4 889,2269.3 890,2269.4 891.1,2269.7 892.1,2270.8 893.1,2271.5 894.1,2271.1 895.1,2270.9 896.2,2269.6 897.2,2269.7 898.2,2269.6 899.2,2269.3 900.2,2270.1 901.2,2270.5 902.3,2271.7 903.3,2272.4 904.3,2271.9 905.3,2271.3 906.3,2270 907.4,2269.3 908.4,2269.6 909.4,2270.3 910.4,2270.6 911.4,2270.4 912.4,2270.6 913.5,2269.9 914.5,2270.1 915.5,2271 916.5,2270.5 917.5,2270.6 918.6,2271.1 919.6,2270.4 920.6,2270.1 921.6,2269.6 922.6,2268.7 923.6,2269 924.7,2270 925.7,2270.1 926.7,2271.4 927.7,2271.2 928.7,2271.6 929.8,2271.2 930.8,2270.4 931.8,2269.8 932.8,2269 933.8,2270 934.8,2270.5 935.9,2270.6 936.9,2270.9 937.9,2270.2 938.9,2270.2 939.9,2270.9 941,2270 942,2270.5 943,2270.1 944,2269.9 945,2271.3 946,2271.2 947.1,2271.9 948.1,2271.3 949.1,2271 950.1,2272 951.1,2271.2 952.2,2271.6 953.2,2271 954.2,2270.6 955.2,2270.3 956.2,2271.2 957.2,2271.3 958.3,2271.3 959.3,2271.8 960.3,2270.9 961.3,2270.9 962.3,2270.2 963.4,2270 964.4,2270.8 965.4,2271.2 966.4,2271.6 967.4,2272 968.4,2271.2 969.5,2271.5 970.5,2271.2 971.5,2270.5 972.5,2270.8 973.5,2270.4 974.6,2270.9 975.6,2271.4 976.6,2271.2 977.6,2270.5 978.6,2270.1 979.6,2269.7 980.7,2269.2 981.7,2269.8 982.7,2270.5 983.7,2270.2 984.7,2271.4 985.8,2270.1 986.8,2269.2 987.8,2267.2 988.8,2264.3 989.8,2262 990.8,2259.7 991.9,2260.2 992.9,2262.4 993.9,2265.5 994.9,2269.4 995.9,2272.3 997,2272.3 998,2271.5 999,2269.3 1000,2267.7 1001,2270.1 1002,2273.6 1003.1,2277.6 1004.1,2281.5 1005.1,2282 1006.1,2282.5 1007.1,2280.2 1008.2,2276.6 1009.2,2274.9 1010.2,2272.6 1011.2,2271.7 1012.2,2272.4 1013.2,2271.2 1014.3,2271.6 1015.3,2271.6 1016.3,2271 1017.3,2271.8 1018.3,2270.9 1019.4,2270 1020.4,2269.7 1021.4,2269 1022.4,2270 1023.4,2270.9 1024.4,2271.2 1025.5,2271.6 1026.5,2270.5 1027.5,2269.2 1028.5,2269.5 1029.5,2269.9 1030.6,2269.6 1031.6,2271 1032.6,2271.1 1033.6,2270.8 1034.6,2270.6 1035.6,2270.2 1036.7,2270.7 1037.7,2270.7 1038.7,2270.7 1039.7,2271 1040.7,2270.1 1041.8,2269.7 1042.8,2270.4 1043.8,2269.9 1044.8,2269.6 1045.8,2269.4 1046.8,2269.1 1047.9,2268.8 1048.9,2269.8 1049.9,2271.1 1050.9,2270.7 1051.9,2271 1053,2270.5 1054,2269.9 1055,2270 1056,2270.4 1057,2270.4 1058.1,2269.9 1059.1,2270.3 1060.1,2269.7 1061.1,2270.5 1062.1,2271.2 1063.1,2270.7 1064.2,2270.3 1065.2,2269.4 1066.2,2269.1 1067.2,2270.2 1068.2,2270.8 1069.3,2270.5 1070.3,2271.2 1071.3,2270.4 1072.3,2270.4 1073.3,2270.5 1074.3,2270.3 1075.4,2270.3 1076.4,2271.2 1077.4,2270.7 1078.4,2270.3 1079.4,2271 1080.5,2269.8 1081.5,2270 1082.5,2270.2 1083.5,2268.9 1084.5,2269.8 1085.5,2270.1 1086.6,2269.4 1087.6,2271.2 1088.6,2270.5 1089.6,2270.6 1090.6,2271.1 1091.7,2270.6 1092.7,2270.8 1093.7,2271.2 1094.7,2271.7 1095.7,2271.5 1096.7,2272 1097.8,2270.9 1098.8,2271.1 1099.8,2271.1 1100.8,2270.8 1101.8,2271.4 1102.9,2270.6 1103.9,2270 1104.9,2270 1105.9,2270.2 1106.9,2270.4 1107.9,2270.4 1109,2270 1110,2270.1 1111,2270.9 1112,2270.4 1113,2270.3 1114.1,2270 1115.1,2269.1 1116.1,2270.1 1117.1,2270.8 1118.1,2271.1 1119.1,2271.3 1120.2,2271.4 1121.2,2271.4 1122.2,2271.6 1123.2,2271.2 1124.2,2271.2 1125.3,2270.7 1126.3,2271.3 1127.3,2271.5 1128.3,2271.4 1129.3,2271.9 1130.3,2271.8 1131.4,2271.6 1132.4,2271.8 1133.4,2271.2 1134.4,2270.7 1135.4,2270.5 1136.5,2270.3 1137.5,2271.1 1138.5,2271 1139.5,2271.5 1140.5,2270.9 1141.5,2270.4 1142.6,2270.6 1143.6,2270.2 1144.6,2270.1 1145.6,2269.5 1146.6,2269 1147.7,2269.1 1148.7,2269.3 1149.7,2269.2 1150.7,2269.4 1151.7,2269.8 1152.7,2269.9 1153.8,2269.3 1154.8,2269.5 1155.8,2269.5 1156.8,2269.7 1157.8,2270.5 1158.9,2270.6 1159.9,2270.8 1160.9,2271.5 1161.9,2271.4 1162.9,2271.9 1163.9,2270.7 1165,2268.8 1166,2267 1167,2264.5 1168,2263.9 1169,2264.3 1170.1,2266.4 1171.1,2268.7 1172.1,2269.5 1173.1,2269.8 1174.1,2267.8 1175.1,2265.7 1176.2,2264.5 1177.2,2265 1178.2,2268.8 1179.2,2274.7 1180.2,2281.5 1181.3,2287.1 1182.3,2289.4 1183.3,2287.4 1184.3,2283.4 1185.3,2277.6 1186.3,2273.1 1187.4,2269.9 1188.4,2269.2 1189.4,2269.5 1190.4,2270.2 1191.4,2272 1192.5,2270.7 1193.5,2269.5 1194.5,2267.2 1195.5,2264.8 1196.5,2264.2 1197.5,2264.7 1198.6,2265.7 1199.6,2267.6 1200.6,2269 1201.6,2269.9 1202.6,2271.2 1203.7,2271.3 1204.7,2271.5 1205.7,2271.2 1206.7,2270.1 1207.7,2270.6 1208.7,2270.4 1209.8,2271.6 1210.8,2272.4 1211.8,2272 1212.8,2272.9 1213.8,2272.8 1214.9,2272.3 1215.9,2272 1216.9,2271.3 1217.9,2270.8 1218.9,2270 1220,2270 1221,2270.4 1222,2269.3 1223,2270 1224,2270 1225,2269.2 1226.1,2269.9 1227.1,2269.8 1228.1,2269.7 1229.1,2270.5 1230.1,2270.1 1231.2,2270.4 1232.2,2270.8 1233.2,2270.9 1234.2,2270.9 1235.2,2271.1 1236.2,2270.6 1237.3,2270 1238.3,2270.3 1239.3,2270.8 1240.3,2270.5 1241.3,2270.5 1242.4,2270.2 1243.4,2269 1244.4,2268.9 1245.4,2269.2 1246.4,2268.8 1247.4,2269.4 1248.5,2268.9 1249.5,2268.6 1250.5,2268.9 1251.5,2268 1252.5,2268.3 1253.6,2269.5 1254.6,2269.3 1255.6,2269.9 1256.6,2270 1257.6,2269.6 1258.6,2269.6 1259.7,2269.6 1260.7,2269.9 1261.7,2269.7 1262.7,2270 1263.7,2270.6 1264.8,2270.3 1265.8,2270.9 1266.8,2271.3 1267.8,2271 1268.8,2270.3 1269.8,2269.4 1270.9,2268.6 1271.9,2268.5 1272.9,2268.4 1273.9,2268.7 1274.9,2269.2 1276,2269.4 1277,2269.7 1278,2270.4 1279,2270.3 1280,2270.7 1281,2271.1 1282.1,2271.4 1283.1,2271.1 1284.1,2270.9 1285.1,2270.8 1286.1,2270.1 1287.2,2270 1288.2,2270.2 1289.2,2270.5 1290.2,2271.2 1291.2,2272.4 1292.2,2272.9 1293.3,2272.1 1294.3,2272.2 1295.3,2271.2 1296.3,2269.8 1297.3,2270.6 1298.4,2269.3 1299.4,2268.7 1300.4,2268.9 1301.4,2267.9 1302.4,2268.2 1303.4,2269.1 1304.5,2269.4 1305.5,2270.5 1306.5,2271.3 1307.5,2271.5 1308.5,2270.7 1309.6,2270.8 1310.6,2270.4 1311.6,2270.2 1312.6,2271 1313.6,2270.9 1314.6,2271.1 1315.7,2271.1 1316.7,2271.8 1317.7,2272.1 1318.7,2271.6 1319.7,2270.3 1320.8,2269.5 1321.8,2268.5 1322.8,2268.8 1323.8,2270 1324.8,2271.3 1325.8,2272.2 1326.9,2273.2 1327.9,2273.2 1328.9,2272 1329.9,2272.2 1330.9,2271.9 1332,2273.7 1333,2276.9 1334,2278.8 1335,2279.6 1336,2277.3 1337,2272.9 1338.1,2269.3 1339.1,2265.9 1340.1,2264.3 1341.1,2264.4 1342.1,2264.5 1343.2,2264 1344.2,2263.2 1345.2,2261.7 1346.2,2260.4 1347.2,2259.8 1348.2,2260.9 1349.3,2261.7 1350.3,2262.6 1351.3,2262.8 1352.3,2261.5 1353.3,2260.6 1354.4,2259 1355.4,2259 1356.4,2259.3 1357.4,2262.4 1358.4,2266.9 1359.4,2271.2 1360.5,2277.4 1361.5,2281.3 1362.5,2283.4 1363.5,2283.6 1364.5,2281.7 1365.6,2279.1 1366.6,2276.6 1367.6,2275 1368.6,2273.6 1369.6,2274.4 1370.7,2274.8 1371.7,2275.7 1372.7,2276.5 1373.7,2276.5 1374.7,2275.5 1375.7,2274.8 1376.8,2273.7 1377.8,2272.2 1378.8,2272.5 1379.8,2271.8 1380.8,2272.2 1381.9,2272.3 1382.9,2271.8 1383.9,2271.7 1384.9,2271 1385.9,2270.7 1386.9,2269.7 1388,2269.5 1389,2269.9 1390,2270.1 1391,2271.3 1392,2271.6 1393.1,2271.3 1394.1,2271.4 1395.1,2270.4 1396.1,2270.4 1397.1,2270.3 1398.1,2270 1399.2,2270.8 1400.2,2270.2 1401.2,2269.8 1402.2,2269.2 1403.2,2270.5 1404.3,2270.9 1405.3,2270.7 1406.3,2270.3 1407.3,2269.1 1408.3,2269.9 1409.3,2270.1 1410.4,2271.1 1411.4,2271.9 1412.4,2271.4 1413.4,2271.1 1414.4,2270.5 1415.5,2269.6 1416.5,2269.7 1417.5,2269.2 1418.5,2270.1 1419.5,2270.3 1420.5,2270.5 1421.6,2271 1422.6,2270.3 1423.6,2270 1424.6,2269.4 1425.6,2270 1426.7,2270.1 1427.7,2271 1428.7,2270.8 1429.7,2270.3 1430.7,2270.5 1431.7,2269.8 1432.8,2270.1 1433.8,2269.9 1434.8,2269.5 1435.8,2269.5 1436.8,2269.8 1437.9,2271 1438.9,2271.4 1439.9,2271.4 1440.9,2271.3 1441.9,2270.7 1442.9,2270.2 1444,2270.1 1445,2269.8 1446,2269.6 1447,2269.9 1448,2269.9 1449.1,2270 1450.1,2270.9 1451.1,2270.4 1452.1,2271.1 1453.1,2270.8 1454.1,2270.2 1455.2,2270.2 1456.2,2269.6 1457.2,2270.3 1458.2,2269.9 1459.2,2270.2 1460.3,2270.2 1461.3,2269.8 1462.3,2269.9 1463.3,2269.5 1464.3,2269.6 1465.3,2270.3 1466.4,2270.7 1467.4,2271 1468.4,2270.4 1469.4,2269.6 1470.4,2269.5 1471.5,2269.2 1472.5,2269.9 1473.5,2270.1 1474.5,2269.9 1475.5,2271.1 1476.5,2270.5 1477.6,2270.4 1478.6,2270.6 1479.6,2270.4 1480.6,2270.8 1481.6,2270.3 1482.7,2270.5 1483.7,2270.4 1484.7,2270.5 1485.7,2271.6 1486.7,2272.2 1487.7,2271.9 1488.8,2272.3 1489.8,2271.9 1490.8,2271.2 1491.8,2270.9 1492.8,2270.7 1493.9,2270.8 1494.9,2270.7 1495.9,2270.7 1496.9,2270.2 1497.9,2269.7 1498.9,2269.2 1500,2270.7 1501,2271.5 1502,2272.1 1503,2272.2 1504,2271.5 1505.1,2270.4 1506.1,2270.2 1507.1,2270.6 1508.1,2270 1509.1,2270.6 1510.1,2271 1511.2,2270.6 1512.2,2270.8 1513.2,2271.3 1514.2,2271.1 1515.2,2271.4 1516.3,2271.7 1517.3,2270.7 1518.3,2270.7 1519.3,2270.1 1520.3,2269.2 1521.3,2270 1522.4,2269.7 1523.4,2269.9 1524.4,2270.4 1525.4,2270.4 1526.4,2270.4 1527.5,2270 1528.5,2270.6 1529.5,2269.9 1530.5,2269.9 1531.5,2270.8 1532.6,2270.4 1533.6,2270.6 1534.6,2270.4 1535.6,2270.1 1536.6,2270.3 1537.6,2269.6 1538.7,2270.6 1539.7,2270.4 1540.7,2270 1541.7,2270.1 1542.7,2269.5 1543.8,2269.3 1544.8,2269.4 1545.8,2269.4 1546.8,2269.3 1547.8,2269 1548.8,2269.2 1549.9,2269.3 1550.9,2269.1 1551.9,2270 1552.9,2269.8 1553.9,2270.2 1555,2271 1556,2271.6 1557,2271.1 1558,2272 1559,2270.7 1560,2270.3 1561.1,2270.5 1562.1,2269.8 1563.1,2270.2 1564.1,2270.2 1565.1,2270.4 1566.2,2270.5 1567.2,2270.3 1568.2,2269.7 1569.2,2269 1570.2,2269 1571.2,2269.3 1572.3,2270.5 1573.3,2270.8 1574.3,2270.5 1575.3,2270.6 1576.3,2269.6 1577.4,2269.3 1578.4,2269.8 1579.4,2269.1 1580.4,2269.2 1581.4,2270.4 1582.4,2270.6 1583.5,2271.3 1584.5,2271.3 1585.5,2270.9 1586.5,2270.8 1587.5,2271 1588.6,2271.3 1589.6,2270.9 1590.6,2270.3 1591.6,2269.8 1592.6,2269.6 1593.6,2269.4 1594.7,2269.7 1595.7,2270.1 1596.7,2269.5 1597.7,2270.7 1598.7,2270.8 1599.8,2270.8 1600.8,2270.8 1601.8,2270.3 1602.8,2270 1603.8,2269.9 1604.8,2270.5 1605.9,2270.9 1606.9,2271 1607.9,2272 1608.9,2271.5 1609.9,2271.2 1611,2270.2 1612,2269.6 1613,2270.3 1614,2270.1 1615,2271.3 1616,2271.1 1617.1,2270.3 1618.1,2270 1619.1,2269.4 1620.1,2269.9 1621.1,2270.4 1622.2,2269.5 1623.2,2270.3 1624.2,2269.3 1625.2,2269 1626.2,2270.8 1627.2,2270.7 1628.3,2271.7 1629.3,2271.7 1630.3,2271.1 1631.3,2270.6 1632.3,2270 1633.4,2270.2 1634.4,2269.9 1635.4,2270.1 1636.4,2269.9 1637.4,2270.4 1638.4,2269.8 1639.5,2269.7 1640.5,2270.5 1641.5,2269.9 1642.5,2270.4 1643.5,2271.1 1644.6,2270.6 1645.6,2271.3 1646.6,2272 1647.6,2270.9 1648.6,2271.2 1649.6,2270.5 1650.7,2270.3 1651.7,2269.9 1652.7,2269.4 1653.7,2270.1 1654.7,2270.4 1655.8,2271.7 1656.8,2271.6 1657.8,2271.1 1658.8,2270.3 1659.8,2269.7 1660.8,2269.5 1661.9,2268.7 1662.9,2268.6 1663.9,2267.8 1664.9,2266.7 1665.9,2266 1667,2265.8 1668,2266.7 1669,2267.9 1670,2268.6 1671,2270 1672,2269.5 1673.1,2268.7 1674.1,2268 1675.1,2266.2 1676.1,2264.2 1677.1,2263.3 1678.2,2263.7 1679.2,2264.5 1680.2,2267.2 1681.2,2271.3 1682.2,2272.8 1683.2,2276 1684.3,2277.9 1685.3,2277.9 1686.3,2278 1687.3,2276.8 1688.3,2275.2 1689.4,2273.3 1690.4,2272.3 1691.4,2271.7 1692.4,2271.2 1693.4,2272.2 1694.5,2272.2 1695.5,2272.2 1696.5,2272.4 1697.5,2271.7 1698.5,2271.6 1699.5,2271 1700.6,2271.1 1701.6,2271 1702.6,2270.8 1703.6,2270.8 1704.6,2270.8 1705.7,2271.1 1706.7,2271.5 1707.7,2271.4 1708.7,2271 1709.7,2270.7 1710.7,2270.5 1711.8,2270.6 1712.8,2271.3 1713.8,2272.3 1714.8,2272.2 1715.8,2272.9 1716.9,2272.7 1717.9,2272 1718.9,2271.8 1719.9,2271.6 1720.9,2271.1 1721.9,2270.8 1723,2271.5 1724,2271.6 1725,2271.6 1726,2271.3 1727,2270.5 1728.1,2269.1 1729.1,2269.1 1730.1,2269.1 1731.1,2269.6 1732.1,2270.2 1733.1,2270.6 1734.2,2270.9 1735.2,2270.1 1736.2,2270.9 1737.2,2270.6 1738.2,2270.2 1739.3,2270.9 1740.3,2270.6 1741.3,2270.7 1742.3,2271 1743.3,2271.3 1744.3,2271.1 1745.4,2271.3 1746.4,2271.4 1747.4,2270.6 1748.4,2271.1 1749.4,2270.7 1750.5,2270.7 1751.5,2270.9 1752.5,2270.3 1753.5,2270.4 1754.5,2270.6 1755.5,2271.1 1756.6,2271.5 1757.6,2271.6 1758.6,2270.8 1759.6,2270 1760.6,2269.9 1761.7,2269.9 1762.7,2270.9 1763.7,2272.2 1764.7,2272.4 1765.7,2272.7 1766.7,2271.9"/>
<rect x="176" y="100" width="1591" height="1117" fill="none" stroke="#000" stroke-width="3.6"/>
<path d="M176 170.2h22M176 311.5h22M176 452.8h22M176 594.1h22M176 735.4h22M176 876.7h22M176 1018h22M176 1159.3h22M176 240.8h12M176 382.1h12M176 523.5h12M176 664.8h12M176 806h12M176 947.4h12M176 1088.7h12M335.1 1217v-11M494.2 1217v-21M653.3 1217v-11M812.4 1217v-21M971.5 1217v-11M1130.6 1217v-21M1289.7 1217v-11M1448.8 1217v-21M1607.9 1217v-11" stroke="#000" stroke-width="3.4" fill="none"/>
<rect x="176" y="1230.5" width="1591" height="1116.5" fill="none" stroke="#000" stroke-width="3.6"/>
<path d="M176 1374.6h22M176 1519.8h22M176 1664.9h22M176 1810h22M176 1955.2h22M176 2100.3h22M176 2245.5h22M176 1302h12M176 1447.2h12M176 1592.3h12M176 1737.5h12M176 1882.6h12M176 2027.8h12M176 2172.9h12M176 2318.1h12M335.1 2347v-11M494.2 2347v-21M653.3 2347v-11M812.4 2347v-21M971.5 2347v-11M1130.6 2347v-21M1289.7 2347v-11M1448.8 2347v-21M1607.9 2347v-11" stroke="#000" stroke-width="3.4" fill="none"/>
<rect x="671" y="107.5" width="907" height="515" fill="#fff" stroke="none"/>
<g clip-path="url(#it)">
<polyline fill="none" stroke="#d25a5a" stroke-width="1.5" stroke-linejoin="round" points="671,362.2 672.8,362.4 674.6,363 676.3,362.9 678.1,363.5 679.9,364.4 681.7,364.7 683.5,363.9 685.2,363.6 687,364.2 688.8,363.5 690.6,362.8 692.4,362.1 694.1,362.6 695.9,363.6 697.7,363.2 699.5,362.8 701.3,362.4 703,363.4 704.8,364.1 706.6,364.2 708.4,364.7 710.2,364.3 711.9,363.8 713.7,363.3 715.5,363.4 717.3,363 719.1,362.3 720.8,362.1 722.6,361.6 724.4,361.4 726.2,361 728,361.4 729.7,361.2 731.5,362.3 733.3,363.2 735.1,364.2 736.9,363 738.6,361.7 740.4,361.5 742.2,361.7 744,361.8 745.8,360.8 747.5,360.7 749.3,360.1 751.1,359.8 752.9,358.4 754.7,357.7 756.4,357.5 758.2,357.7 760,356.9 761.8,356.3 763.6,355.7 765.3,355.2 767.1,352.7 768.9,350.9 770.7,349 772.5,346.8 774.2,342.1 776,336.7 777.8,327.3 779.6,308.8 781.4,274.3 783.1,215.5 784.9,124.9 786.7,3.6 788.5,-130.8 790.3,-243.6 792,-289.3 793.8,-245.4 795.6,-134.1 797.4,-1.3 799.2,117.5 800.9,205 802.7,259 804.5,287.8 806.3,298.1 808.1,299.5 809.8,293.8 811.6,284.4 813.4,271.4 815.2,255.9 817,237.7 818.7,217.5 820.5,197.4 822.3,182 824.1,175.3 825.9,179.5 827.6,192.7 829.4,213 831.2,237.9 833,263.7 834.8,286.5 836.5,304.8 838.3,320.4 840.1,332.2 841.9,340.8 843.7,346 845.4,349.7 847.2,352.2 849,354.5 850.8,357 852.6,359.1 854.3,359.9 856.1,360 857.9,360.1 859.7,360.4 861.5,359.8 863.2,360.3 865,361 866.8,361.3 868.6,360.8 870.4,361.1 872.1,361.1 873.9,361.6 875.7,362.5 877.5,362.8 879.3,361.9 881,361.3 882.8,361.2 884.6,361.4 886.4,362.1 888.2,364 889.9,364.7 891.7,363.5 893.5,362.8 895.3,362 897.1,361.8 898.8,362.4 900.6,364 902.4,363.6 904.2,362.1 906,362.1 907.7,363.1 909.5,363.4 911.3,363.2 913.1,363.2 914.9,362.5 916.6,362.5 918.4,362.9 920.2,363.1 922,362.2 923.8,362.5 925.5,362.9 927.3,363.6 929.1,363.6 930.9,364.3 932.7,364 934.4,363.7 936.2,362.4 938,361.9 939.8,362.7 941.6,365 943.3,365.3 945.1,364 946.9,362.9 948.7,363.8 950.5,364 952.2,363.7 954,363 955.8,362.9 957.6,363.5 959.4,365 961.1,365.2 962.9,364.4 964.7,363.9 966.5,364.6 968.3,365 970,364.4 971.8,363.9 973.6,364.3 975.4,364.4 977.2,363.5 978.9,363.2 980.7,363.9 982.5,364.9 984.3,364.8 986.1,364.3 987.8,363.6 989.6,363.1 991.4,362.9 993.2,362.9 995,363.2 996.7,364.1 998.5,364 1000.3,363.9 1002.1,363.4 1003.9,364.4 1005.6,364.8 1007.4,364.8 1009.2,364.4 1011,364.5 1012.8,364.3 1014.5,364.6 1016.3,365.1 1018.1,365.9 1019.9,365.9 1021.7,365.9 1023.4,365.2 1025.2,364.1 1027,364 1028.8,364.2 1030.6,364.8 1032.3,364.6 1034.1,364.2 1035.9,363.4 1037.7,363.7 1039.5,364.7 1041.2,365.1 1043,364.8 1044.8,365 1046.6,364.9 1048.4,364.2 1050.1,363.2 1051.9,364 1053.7,364.6 1055.5,364.7 1057.3,363.4 1059,363.1 1060.8,363.9 1062.6,364.6 1064.4,364.3 1066.2,364.2 1067.9,363.9 1069.7,363.9 1071.5,364 1073.3,364.3 1075.1,363.8 1076.8,363.6 1078.6,364 1080.4,364.2 1082.2,364.2 1084,364.4 1085.7,364.1 1087.5,363.6 1089.3,363.7 1091.1,364.7 1092.9,365.7 1094.6,365.2 1096.4,364.9 1098.2,364.9 1100,365.2 1101.8,364.8 1103.5,364.9 1105.3,365.7 1107.1,365.2 1108.9,364.7 1110.7,364.2 1112.4,364.4 1114.2,364.6 1116,364.9"/>
<polyline fill="none" stroke="#d25a5a" stroke-width="1.5" stroke-linejoin="round" points="1132.7,365.5 1134.9,365.1 1137.2,364.9 1139.4,364.8 1141.6,365.1 1143.9,365.3 1146.1,365.8 1148.3,365.6 1150.5,366.4 1152.8,366.6 1155,366 1157.2,366 1159.5,366 1161.7,365.6 1163.9,364.3 1166.2,364.9 1168.4,365.5 1170.6,366.2 1172.8,365.9 1175.1,365.6 1177.3,365.1 1179.5,364.6 1181.8,364.8 1184,365.4 1186.2,366.3 1188.5,366 1190.7,365.5 1192.9,364.4 1195.1,365.2 1197.4,365.2 1199.6,365.6 1201.8,365.9 1204.1,366.4 1206.3,366.2 1208.5,364.8 1210.8,364.3 1213,363.6 1215.2,364.3 1217.4,364.8 1219.7,365.1 1221.9,365.3 1224.1,365.7 1226.4,365.7 1228.6,364.9 1230.8,364.2 1233.1,364.2 1235.3,365.4 1237.5,366 1239.7,365.8 1242,364.8 1244.2,365.1 1246.4,365 1248.7,364.6 1250.9,362.7 1253.1,361.1 1255.4,360.5 1257.6,359.9 1259.8,358.8 1262,357.4 1264.3,356.4 1266.5,356.6 1268.7,357.9 1271,358.7 1273.2,357.4 1275.4,354.8 1277.7,349.8 1279.9,341.2 1282.1,327.7 1284.3,307.7 1286.6,281.1 1288.8,247.6 1291,207.4 1293.3,160.8 1295.5,110.6 1297.7,60.7 1300,15.2 1302.2,-21.5 1304.4,-46.6 1306.6,-55.9 1308.9,-47.1 1311.1,-22.3 1313.3,14.5 1315.6,60 1317.8,110.7 1320,161.6 1322.3,208.7 1324.5,249 1326.7,282.2 1328.9,308 1331.2,327.7 1333.4,340.6 1335.6,349.4 1337.9,354.9 1340.1,359.7 1342.3,362.7 1344.6,364.8 1346.8,364.7 1349,363.5 1351.2,362.4 1353.5,361.3 1355.7,360.4 1357.9,358.4 1360.2,356.6 1362.4,355 1364.6,354.7 1366.9,353.8 1369.1,353.3 1371.3,353.4 1373.5,352.9 1375.8,351.8 1378,351.3 1380.2,352.7 1382.5,353.7 1384.7,355 1386.9,356.3 1389.2,357.4 1391.4,357.3 1393.6,356 1395.8,354.4 1398.1,352.6 1400.3,350.8 1402.5,348.8 1404.8,347 1407,345.1 1409.2,344.8 1411.5,346.2 1413.7,348.4 1415.9,349.3 1418.1,351.4 1420.4,354 1422.6,355.5 1424.8,356.6 1427.1,359.1 1429.3,362 1431.5,363.6 1433.8,364.5 1436,364.8 1438.2,363.8 1440.4,363 1442.7,363.3 1444.9,364.7 1447.1,364.9 1449.4,364.4 1451.6,364.4 1453.8,364.2 1456.1,363.4 1458.3,363.1 1460.5,364.3 1462.7,365 1465,364.1 1467.2,363.7 1469.4,363.7 1471.7,364.8 1473.9,365 1476.1,365.6 1478.4,365.6 1480.6,365.5 1482.8,365.6 1485,366.1 1487.3,366.5 1489.5,366.6 1491.7,366 1494,365.9 1496.2,365.7 1498.4,365.5 1500.7,364.9 1502.9,364.7 1505.1,364.8 1507.3,364.9 1509.6,365.6 1511.8,365.9 1514,365.7 1516.3,364.7 1518.5,364.7 1520.7,365.3 1523,366.4 1525.2,366.5 1527.4,365.8 1529.6,364.9 1531.9,364.6 1534.1,364.4 1536.3,364.1 1538.6,364.6 1540.8,365 1543,366 1545.3,365.4 1547.5,365.6 1549.7,364.6 1551.9,365 1554.2,364.6 1556.4,364.9 1558.6,365 1560.9,365.2 1563.1,365.3 1565.3,366.2 1567.6,366.2 1569.8,366.1 1572,365.7 1574.2,365.8 1576.5,366.4 1578.7,366.6"/>
<polyline fill="none" stroke="#d65ac8" stroke-width="1.5" stroke-linejoin="round" points="671,436.2 672.8,435.6 674.6,436.2 676.3,436.6 678.1,438.9 679.9,439.6 681.7,440 683.5,439.1 685.2,438.6 687,437.8 688.8,438 690.6,438.4 692.4,438 694.1,437.4 695.9,436.7 697.7,435.9 699.5,435.8 701.3,436.8 703,436.7 704.8,436.1 706.6,435.8 708.4,436 710.2,436.3 711.9,436.4 713.7,436.3 715.5,435.3 717.3,434.5 719.1,434.4 720.8,434.3 722.6,434.4 724.4,434.1 726.2,434 728,433.9 729.7,433.9 731.5,433.4 733.3,432.5 735.1,432.5 736.9,433.7 738.6,433 740.4,431.9 742.2,430.4 744,431.1 745.8,430.5 747.5,428.7 749.3,427.7 751.1,427 752.9,426.7 754.7,424.5 756.4,423 758.2,421.3 760,420.4 761.8,419.2 763.6,416.4 765.3,412.6 767.1,407.4 768.9,400.5 770.7,389.5 772.5,372.6 774.2,344.9 776,302.6 777.8,241.1 779.6,157.1 781.4,49.1 783.1,-77.1 784.9,-211.8 786.7,-336.6 788.5,-428.5 790.3,-462 792,-429.4 793.8,-338.2 795.6,-213.6 797.4,-79.2 799.2,45.9 800.9,154 802.7,238.2 804.5,296.9 806.3,334.4 808.1,356.7 809.8,364.7 811.6,360.4 813.4,346.3 815.2,328.1 817,308.8 818.7,298.9 820.5,304.7 822.3,325.2 824.1,351.3 825.9,376.4 827.6,394.9 829.4,407.5 831.2,416 833,421.4 834.8,424.1 836.5,426.1 838.3,427.6 840.1,428.3 841.9,428.8 843.7,429.7 845.4,430.1 847.2,430.9 849,431.1 850.8,431.9 852.6,432.5 854.3,433.1 856.1,433.6 857.9,435 859.7,436.4 861.5,435.7 863.2,435.2 865,435.4 866.8,435.9 868.6,435.3 870.4,435.3 872.1,436.1 873.9,437 875.7,436.8 877.5,435.9 879.3,435.6 881,436.2 882.8,437.5 884.6,437.5 886.4,436.9 888.2,436.2 889.9,436.4 891.7,436.6 893.5,437.2 895.3,437 897.1,436.2 898.8,436.6 900.6,437.7 902.4,438.2 904.2,437.6 906,437.2 907.7,437.3 909.5,437.4 911.3,437 913.1,436.8 914.9,437.6 916.6,437.8 918.4,438 920.2,438.2 922,438.3 923.8,437.7 925.5,437.5 927.3,438.1 929.1,438.5 930.9,438 932.7,437 934.4,437.1 936.2,438.1 938,438.7 939.8,438.5 941.6,439.1 943.3,438.6 945.1,438.5 946.9,437.9 948.7,438.5 950.5,438.8 952.2,438.7 954,438.2 955.8,437.8 957.6,438.1 959.4,438 961.1,437.7 962.9,437.3 964.7,437.6 966.5,438.6 968.3,438.8 970,437.8 971.8,438.3 973.6,439.5 975.4,440.1 977.2,438.6 978.9,437.7 980.7,437.8 982.5,437.9 984.3,438.7 986.1,439 987.8,439.4 989.6,438.3 991.4,437.7 993.2,437.2 995,437.8 996.7,438.2 998.5,438.4 1000.3,438.4 1002.1,438.7 1003.9,439.4 1005.6,439.4 1007.4,438.6 1009.2,437.9 1011,438.7 1012.8,439.1 1014.5,438.9 1016.3,438.2 1018.1,438.6 1019.9,438.8 1021.7,438.6 1023.4,438.2 1025.2,438.5 1027,439.5 1028.8,440 1030.6,439.9 1032.3,439.3 1034.1,438.6 1035.9,438.7 1037.7,438.5 1039.5,438.4 1041.2,437.4 1043,437.4 1044.8,437.4 1046.6,437.6 1048.4,437.9 1050.1,438.2 1051.9,438.4 1053.7,438.1 1055.5,438.1 1057.3,438.8 1059,439 1060.8,439.1 1062.6,438.1 1064.4,437.9 1066.2,437.8 1067.9,438.2 1069.7,438.2 1071.5,438.3 1073.3,439.2 1075.1,439.6 1076.8,439.2 1078.6,438.4 1080.4,439.5 1082.2,440.6 1084,440.9 1085.7,440 1087.5,439.1 1089.3,438.6 1091.1,438.5 1092.9,438.8 1094.6,438.5 1096.4,438 1098.2,438.2 1100,438.8 1101.8,438.3 1103.5,437.8 1105.3,438.5 1107.1,439.2 1108.9,439 1110.7,438 1112.4,438.4 1114.2,438.2 1116,438.5"/>
<polyline fill="none" stroke="#d65ac8" stroke-width="1.5" stroke-linejoin="round" points="1132.7,439.1 1134.9,440.2 1137.2,440.8 1139.4,440 1141.6,439.2 1143.9,439.7 1146.1,440.9 1148.3,440.4 1150.5,439.2 1152.8,438.4 1155,439.2 1157.2,440.1 1159.5,440.7 1161.7,440 1163.9,439.2 1166.2,438.8 1168.4,439.8 1170.6,440.5 1172.8,440.3 1175.1,439.4 1177.3,439.5 1179.5,440.3 1181.8,441.9 1184,441.7 1186.2,441.6 1188.5,440.2 1190.7,439.6 1192.9,438.8 1195.1,439.1 1197.4,439 1199.6,439 1201.8,439.2 1204.1,439.4 1206.3,439.8 1208.5,440 1210.8,440 1213,440.4 1215.2,440.7 1217.4,440.6 1219.7,440 1221.9,439.8 1224.1,440 1226.4,439.7 1228.6,440 1230.8,440.6 1233.1,441.4 1235.3,440.6 1237.5,439 1239.7,438.1 1242,438.3 1244.2,439 1246.4,438.5 1248.7,437.1 1250.9,435.6 1253.1,433.3 1255.4,430.5 1257.6,427 1259.8,423 1262,418.8 1264.3,414.5 1266.5,409.5 1268.7,400.7 1271,388.1 1273.2,371.3 1275.4,348.6 1277.7,319.3 1279.9,283.2 1282.1,243.1 1284.3,201.1 1286.6,159.9 1288.8,122.4 1291,93.5 1293.3,75.6 1295.5,69.4 1297.7,75.6 1300,94.7 1302.2,125.2 1304.4,161.9 1306.6,202.6 1308.9,245 1311.1,285.9 1313.3,322.2 1315.6,351.3 1317.8,376.5 1320,395.9 1322.3,410.4 1324.5,420.1 1326.7,427.9 1328.9,433.7 1331.2,436.6 1333.4,437.7 1335.6,437.5 1337.9,437 1340.1,436.9 1342.3,437.1 1344.6,436.6 1346.8,435.8 1349,435.2 1351.2,434.6 1353.5,434.4 1355.7,434.1 1357.9,432.2 1360.2,429.4 1362.4,427 1364.6,425.8 1366.9,425.3 1369.1,424.7 1371.3,423.6 1373.5,422.3 1375.8,422 1378,421.1 1380.2,419.5 1382.5,418.1 1384.7,417.5 1386.9,417.1 1389.2,417.1 1391.4,416.9 1393.6,416.6 1395.8,414.9 1398.1,412.9 1400.3,410.6 1402.5,410.4 1404.8,414.8 1407,421.5 1409.2,428.9 1411.5,433.6 1413.7,436.4 1415.9,436.7 1418.1,437.1 1420.4,437.9 1422.6,438.4 1424.8,438.8 1427.1,438.5 1429.3,438.6 1431.5,438.7 1433.8,438.6 1436,438.5 1438.2,438.3 1440.4,437.9 1442.7,437.4 1444.9,438.1 1447.1,439.6 1449.4,439.8 1451.6,440.3 1453.8,440.9 1456.1,441.5 1458.3,441.4 1460.5,441 1462.7,440.2 1465,439.8 1467.2,440.3 1469.4,440.6 1471.7,440.2 1473.9,439.1 1476.1,439.1 1478.4,439.7 1480.6,439.7 1482.8,439.3 1485,439.6 1487.3,440.2 1489.5,440.4 1491.7,440.5 1494,440 1496.2,439.2 1498.4,439.3 1500.7,440.4 1502.9,441.1 1505.1,440.2 1507.3,439.4 1509.6,439.3 1511.8,440.7 1514,441.5 1516.3,440.9 1518.5,439.9 1520.7,438.8 1523,439.5 1525.2,439.3 1527.4,440 1529.6,440.4 1531.9,441.1 1534.1,439.6 1536.3,438.6 1538.6,438.9 1540.8,439.4 1543,439.3 1545.3,439.1 1547.5,440.1 1549.7,440.5 1551.9,440.5 1554.2,440 1556.4,439.8 1558.6,439.7 1560.9,440.1 1563.1,440.2 1565.3,440.5 1567.6,439.7 1569.8,439.9 1572,439.8 1574.2,440.8 1576.5,440.5 1578.7,440.4"/>
<polyline fill="none" stroke="#6a6ad6" stroke-width="1.5" stroke-linejoin="round" points="671,518.2 672.8,518 674.6,517.4 676.3,516.7 678.1,517 679.9,516.3 681.7,516 683.5,515.9 685.2,516.2 687,516 688.8,515.5 690.6,516.2 692.4,516.8 694.1,518 695.9,517.2 697.7,516.1 699.5,515.3 701.3,515 703,515.3 704.8,515 706.6,515.3 708.4,515.3 710.2,515.6 711.9,516.3 713.7,516.6 715.5,515.7 717.3,514.9 719.1,514.2 720.8,514.3 722.6,513.4 724.4,513.2 726.2,513.5 728,513.9 729.7,513.4 731.5,512.4 733.3,512.2 735.1,512.7 736.9,512.3 738.6,511.2 740.4,510.4 742.2,509.9 744,509.4 745.8,509.2 747.5,509.4 749.3,508.4 751.1,506.7 752.9,505.4 754.7,504.2 756.4,503.3 758.2,502.9 760,502 761.8,499.7 763.6,496.4 765.3,493.4 767.1,489.7 768.9,484.9 770.7,478.4 772.5,469.5 774.2,455 776,433.2 777.8,399.2 779.6,348.6 781.4,277.2 783.1,183.7 784.9,67.6 786.7,-62.8 788.5,-194.7 790.3,-306.5 792,-373.2 793.8,-373.3 795.6,-307.6 797.4,-195 799.2,-62.2 800.9,69 802.7,184.8 804.5,278.8 806.3,350 808.1,400.2 809.8,434 811.6,455.9 813.4,469.7 815.2,479.2 817,485.1 818.7,490.2 820.5,494.2 822.3,497.7 824.1,499.5 825.9,500.7 827.6,502.1 829.4,503.2 831.2,503.9 833,505.2 834.8,507 836.5,507.7 838.3,508.1 840.1,509 841.9,510.5 843.7,510.6 845.4,511.1 847.2,511.3 849,512.1 850.8,513 852.6,513.1 854.3,512.8 856.1,512.8 857.9,514 859.7,513.8 861.5,513.7 863.2,513.3 865,513.7 866.8,514.4 868.6,515 870.4,514.5 872.1,514.2 873.9,514.7 875.7,515.3 877.5,515.6 879.3,515.7 881,515.2 882.8,514.1 884.6,514.2 886.4,515.9 888.2,516.6 889.9,515.8 891.7,515.5 893.5,516.7 895.3,517.4 897.1,517.8 898.8,517.5 900.6,517.3 902.4,517.1 904.2,517 906,517.2 907.7,517.6 909.5,518.1 911.3,517.6 913.1,517.6 914.9,517 916.6,517.1 918.4,515.8 920.2,515.4 922,515.8 923.8,517 925.5,517.3 927.3,516.5 929.1,517.1 930.9,517.7 932.7,518.3 934.4,517.8 936.2,517.7 938,518.3 939.8,518.4 941.6,517.5 943.3,516.6 945.1,517.3 946.9,518.3 948.7,518.2 950.5,517.8 952.2,517.8 954,518.1 955.8,517.3 957.6,516.6 959.4,516.8 961.1,517.6 962.9,518 964.7,518.6 966.5,518.8 968.3,518.4 970,517.5 971.8,517.3 973.6,517.1 975.4,516.9 977.2,516.1 978.9,516.6 980.7,517.6 982.5,518.8 984.3,518.4 986.1,518.4 987.8,518.2 989.6,518.6 991.4,518 993.2,518 995,517.6 996.7,517.9 998.5,518.6 1000.3,519.4 1002.1,519.7 1003.9,518.7 1005.6,518.7 1007.4,518.1 1009.2,518.4 1011,517.8 1012.8,517.3 1014.5,517.2 1016.3,517.1 1018.1,516.9 1019.9,517.1 1021.7,517.7 1023.4,517.5 1025.2,516.8 1027,517.1 1028.8,517.5 1030.6,517.9 1032.3,517.9 1034.1,518.7 1035.9,518.8 1037.7,517.7 1039.5,516.8 1041.2,517.3 1043,518.2 1044.8,517.5 1046.6,517.7 1048.4,518 1050.1,518.5 1051.9,517.4 1053.7,517.4 1055.5,517.7 1057.3,518.8 1059,518.6 1060.8,517.9 1062.6,517.3 1064.4,517.3 1066.2,517.8 1067.9,517.5 1069.7,517.6 1071.5,517.5 1073.3,517.9 1075.1,517.8 1076.8,517.5 1078.6,517.4 1080.4,517.5 1082.2,517.8 1084,517.9 1085.7,517.1 1087.5,516.8 1089.3,517.7 1091.1,519 1092.9,519.1 1094.6,518.8 1096.4,518.4 1098.2,517.5 1100,517.6 1101.8,518.5 1103.5,519.3 1105.3,519.1 1107.1,518.8 1108.9,518.5 1110.7,518.4 1112.4,518.3 1114.2,518.4 1116,518.4"/>
<polyline fill="none" stroke="#6a6ad6" stroke-width="1.5" stroke-linejoin="round" points="1132.7,518.1 1134.9,518.3 1137.2,518.7 1139.4,517.9 1141.6,517.4 1143.9,516.9 1146.1,518.3 1148.3,519.1 1150.5,520.1 1152.8,519.1 1155,518.1 1157.2,517.7 1159.5,518.1 1161.7,518.2 1163.9,518.2 1166.2,518.6 1168.4,519.2 1170.6,518.7 1172.8,517.2 1175.1,516.8 1177.3,517.2 1179.5,518.2 1181.8,518.9 1184,520 1186.2,519.8 1188.5,519.4 1190.7,519.4 1192.9,519.4 1195.1,518.7 1197.4,518.4 1199.6,518.3 1201.8,517.8 1204.1,517 1206.3,516.9 1208.5,516.8 1210.8,517.3 1213,517.2 1215.2,517.7 1217.4,517.9 1219.7,517.4 1221.9,516.7 1224.1,516.1 1226.4,516.6 1228.6,516.3 1230.8,516 1233.1,515.1 1235.3,514.1 1237.5,513.2 1239.7,511.6 1242,509.2 1244.2,504.7 1246.4,497.2 1248.7,486.9 1250.9,472.6 1253.1,456.5 1255.4,439.9 1257.6,427.1 1259.8,420 1262,423.2 1264.3,432.5 1266.5,444.6 1268.7,454.7 1271,463.8 1273.2,468 1275.4,467.8 1277.7,461.3 1279.9,450 1282.1,431.7 1284.3,406.6 1286.6,372.3 1288.8,329.6 1291,280.9 1293.3,230.9 1295.5,185.9 1297.7,154.6 1300,144.1 1302.2,158.1 1304.4,192.7 1306.6,240.9 1308.9,293.7 1311.1,345.8 1313.3,391.2 1315.6,427.7 1317.8,455.6 1320,476.1 1322.3,489.5 1324.5,497.4 1326.7,502.1 1328.9,505.3 1331.2,508.2 1333.4,510.5 1335.6,512 1337.9,513.1 1340.1,513.7 1342.3,513.8 1344.6,513.6 1346.8,514.9 1349,515 1351.2,515.1 1353.5,515.1 1355.7,516.3 1357.9,517.3 1360.2,518.1 1362.4,518.4 1364.6,517.3 1366.9,517 1369.1,516.8 1371.3,517.2 1373.5,517.3 1375.8,517.4 1378,517.7 1380.2,518.5 1382.5,519.3 1384.7,519.1 1386.9,517.7 1389.2,517.5 1391.4,518.3 1393.6,519.1 1395.8,518.3 1398.1,518.2 1400.3,518.1 1402.5,518.5 1404.8,518.1 1407,517.8 1409.2,517.6 1411.5,517.6 1413.7,517.8 1415.9,518.2 1418.1,518.4 1420.4,518.5 1422.6,518.4 1424.8,519 1427.1,518.9 1429.3,518.9 1431.5,518.4 1433.8,517.7 1436,517.5 1438.2,517.5 1440.4,518.8 1442.7,519.9 1444.9,519.6 1447.1,518.9 1449.4,518.9 1451.6,519.2 1453.8,519 1456.1,519.4 1458.3,519.4 1460.5,518.9 1462.7,518.7 1465,518.6 1467.2,518.7 1469.4,518.7 1471.7,518.8 1473.9,518.4 1476.1,518.5 1478.4,519.3 1480.6,519.8 1482.8,519.3 1485,519.1 1487.3,519.3 1489.5,519.8 1491.7,520 1494,519.7 1496.2,519.1 1498.4,518.5 1500.7,518.5 1502.9,519.3 1505.1,520.3 1507.3,519.8 1509.6,518.8 1511.8,518.5 1514,519.6 1516.3,519.6 1518.5,519.7 1520.7,519.2 1523,519.4 1525.2,519.5 1527.4,519.3 1529.6,519.1 1531.9,519.3 1534.1,519 1536.3,518.9 1538.6,518.8 1540.8,519 1543,519.3 1545.3,519 1547.5,518.8 1549.7,518.3 1551.9,518.9 1554.2,519.1 1556.4,519.3 1558.6,519.3 1560.9,518.9 1563.1,518.8 1565.3,518.6 1567.6,519 1569.8,518.9 1572,519.5 1574.2,520 1576.5,520.7 1578.7,520.6"/>
<polyline fill="none" stroke="#a8a83c" stroke-width="1.5" stroke-linejoin="round" points="671,585.1 672.8,584.8 674.6,585 676.3,585.9 678.1,586.4 679.9,585.7 681.7,585.1 683.5,585.1 685.2,585.3 687,584.9 688.8,583.7 690.6,583.2 692.4,584.2 694.1,585.4 695.9,584.7 697.7,583.9 699.5,583.4 701.3,584.8 703,585.3 704.8,585.3 706.6,584.6 708.4,584.5 710.2,584.9 711.9,584.8 713.7,584.5 715.5,584.4 717.3,584 719.1,584.7 720.8,584.8 722.6,584.7 724.4,583.3 726.2,583.7 728,585.1 729.7,585.2 731.5,584.8 733.3,584.6 735.1,584.7 736.9,583.9 738.6,583.7 740.4,584.2 742.2,584.4 744,583.5 745.8,583.3 747.5,584 749.3,583.9 751.1,582.5 752.9,581.7 754.7,581.8 756.4,581.9 758.2,582 760,581.3 761.8,580.3 763.6,580 765.3,579.7 767.1,580 768.9,578.7 770.7,577.4 772.5,575.3 774.2,573.3 776,570.9 777.8,567.5 779.6,561.6 781.4,551.6 783.1,537.1 784.9,514 786.7,481.2 788.5,439 790.3,394.2 792,362.1 793.8,362.5 795.6,394.5 797.4,438.1 799.2,479 800.9,509.9 802.7,527.9 804.5,535 806.3,535.7 808.1,534.7 809.8,535 811.6,540.7 813.4,549.9 815.2,559.8 817,567.8 818.7,573.4 820.5,576.6 822.3,578.3 824.1,579.6 825.9,580.3 827.6,581.1 829.4,581.9 831.2,582.8 833,582.7 834.8,582.8 836.5,582 838.3,582.3 840.1,582.3 841.9,583.5 843.7,584.3 845.4,584.8 847.2,585.1 849,585.6 850.8,585.8 852.6,584.8 854.3,583.5 856.1,583.2 857.9,583.6 859.7,583.9 861.5,583.8 863.2,583.4 865,584.1 866.8,584.3 868.6,584.4 870.4,584.1 872.1,584.1 873.9,584.5 875.7,585 877.5,585.5 879.3,584.6 881,584 882.8,583.5 884.6,584.3 886.4,585 888.2,585.2 889.9,584.2 891.7,584.5 893.5,585.6 895.3,585.5 897.1,584.7 898.8,583.6 900.6,584.2 902.4,584.8 904.2,586.4 906,586.3 907.7,585.8 909.5,584.6 911.3,584.9 913.1,584.7 914.9,584.9 916.6,585 918.4,585.4 920.2,584.7 922,584.9 923.8,586.2 925.5,586.5 927.3,585.9 929.1,586 930.9,586.1 932.7,585.5 934.4,584.4 936.2,584.5 938,584.7 939.8,585 941.6,584.7 943.3,584.1 945.1,583.6 946.9,583.6 948.7,584.5 950.5,585.1 952.2,585 954,584.9 955.8,585.5 957.6,585.6 959.4,584.9 961.1,585 962.9,585.6 964.7,585.5 966.5,585.1 968.3,585.1 970,585.9 971.8,585.6 973.6,585.7 975.4,585.7 977.2,585.5 978.9,585.4 980.7,585.9 982.5,585.7 984.3,585.8 986.1,585.4 987.8,585.2 989.6,584.3 991.4,585.1 993.2,585.9 995,586 996.7,586.1 998.5,586.2 1000.3,586.7 1002.1,587.4 1003.9,587.5 1005.6,585.6 1007.4,583.9 1009.2,583.7 1011,584.7 1012.8,585.1 1014.5,585 1016.3,584.3 1018.1,584.2 1019.9,584.7 1021.7,584.1 1023.4,584.3 1025.2,584.9 1027,585.8 1028.8,585.5 1030.6,585.2 1032.3,585 1034.1,585.4 1035.9,586.4 1037.7,586.6 1039.5,586 1041.2,585.1 1043,585.4 1044.8,586 1046.6,586.1 1048.4,584.5 1050.1,583.7 1051.9,583.3 1053.7,584.5 1055.5,585.4 1057.3,585.7 1059,585 1060.8,586 1062.6,587.2 1064.4,586.6 1066.2,585.1 1067.9,584.3 1069.7,584 1071.5,584.1 1073.3,585.8 1075.1,587.5 1076.8,587.3 1078.6,586 1080.4,585.3 1082.2,585.8 1084,585.5 1085.7,584.3 1087.5,584.6 1089.3,585.8 1091.1,587 1092.9,586.5 1094.6,586.8 1096.4,586.1 1098.2,585.9 1100,586.1 1101.8,586.9 1103.5,586.5 1105.3,586 1107.1,585.5 1108.9,584.9 1110.7,584.6 1112.4,585.7 1114.2,586.8 1116,586.5"/>
<polyline fill="none" stroke="#a8a83c" stroke-width="1.5" stroke-linejoin="round" points="1132.7,586 1134.9,586.6 1137.2,586.9 1139.4,585.3 1141.6,585.2 1143.9,586.2 1146.1,587.4 1148.3,586.2 1150.5,584.9 1152.8,585.1 1155,586.5 1157.2,587.3 1159.5,586.7 1161.7,586.4 1163.9,586.1 1166.2,585.9 1168.4,585.4 1170.6,585.7 1172.8,585.7 1175.1,586.4 1177.3,586.8 1179.5,586.5 1181.8,586.7 1184,586.2 1186.2,586.3 1188.5,586.2 1190.7,587.3 1192.9,586.1 1195.1,585.6 1197.4,585.9 1199.6,587.4 1201.8,586.1 1204.1,584.7 1206.3,584.2 1208.5,584.9 1210.8,585.6 1213,585.4 1215.2,585.6 1217.4,585.2 1219.7,584.2 1221.9,582.2 1224.1,580.5 1226.4,579.2 1228.6,577.2 1230.8,573.7 1233.1,569.3 1235.3,563.1 1237.5,556.3 1239.7,551.1 1242,549.4 1244.2,550 1246.4,551.2 1248.7,554.2 1250.9,559.3 1253.1,563.8 1255.4,566.4 1257.6,567.8 1259.8,570.4 1262,572.2 1264.3,573.1 1266.5,573.2 1268.7,574 1271,573.4 1273.2,572.8 1275.4,572.1 1277.7,569.9 1279.9,563.4 1282.1,550.4 1284.3,529.8 1286.6,502.6 1288.8,475.3 1291,456 1293.3,454.7 1295.5,468.9 1297.7,489.2 1300,505.2 1302.2,515.3 1304.4,523.8 1306.6,536.5 1308.9,551.6 1311.1,563.9 1313.3,573.4 1315.6,578.8 1317.8,581.8 1320,582.2 1322.3,583.5 1324.5,583.9 1326.7,584.5 1328.9,585 1331.2,586.4 1333.4,586.9 1335.6,586.8 1337.9,585.6 1340.1,585.5 1342.3,586.2 1344.6,587.1 1346.8,587 1349,586.6 1351.2,585.9 1353.5,586 1355.7,586.8 1357.9,586.6 1360.2,586.3 1362.4,586.2 1364.6,586.9 1366.9,586.8 1369.1,587.1 1371.3,587.3 1373.5,587.5 1375.8,586.5 1378,586.1 1380.2,586.1 1382.5,586.1 1384.7,585.9 1386.9,585.6 1389.2,586.1 1391.4,586.9 1393.6,587.4 1395.8,587.1 1398.1,586.8 1400.3,587.2 1402.5,586.3 1404.8,586.1 1407,586.1 1409.2,587 1411.5,586.8 1413.7,587.1 1415.9,587.1 1418.1,587.2 1420.4,587.4 1422.6,587.5 1424.8,587.5 1427.1,587.1 1429.3,587.1 1431.5,586.6 1433.8,586.6 1436,587.1 1438.2,587.4 1440.4,587.2 1442.7,587 1444.9,586.5 1447.1,586.1 1449.4,586.7 1451.6,587.1 1453.8,586 1456.1,585.3 1458.3,585.5 1460.5,587 1462.7,587.2 1465,587.2 1467.2,586.2 1469.4,586.2 1471.7,586.1 1473.9,585.9 1476.1,585.7 1478.4,585.7 1480.6,586.5 1482.8,586.4 1485,586.3 1487.3,585.7 1489.5,585.5 1491.7,586.1 1494,586 1496.2,586.6 1498.4,585.8 1500.7,586.3 1502.9,586.9 1505.1,586.9 1507.3,585.7 1509.6,585.4 1511.8,586.7 1514,586.9 1516.3,586.2 1518.5,585.9 1520.7,586 1523,586.8 1525.2,587.2 1527.4,587 1529.6,586.9 1531.9,588 1534.1,587.8 1536.3,587.1 1538.6,586.2 1540.8,586.1 1543,585.8 1545.3,585.8 1547.5,585.3 1549.7,584.5 1551.9,584.4 1554.2,585.3 1556.4,586.8 1558.6,587 1560.9,586.6 1563.1,586.5 1565.3,587.1 1567.6,587.1 1569.8,586.7 1572,587.2 1574.2,587.4 1576.5,586.9 1578.7,586.1"/>
</g>
<path d="M1578 107.5H671V622.5H1579.5" fill="none" stroke="#666" stroke-width="3.6"/>
<path d="M1578 106V623" fill="none" stroke="#333" stroke-width="2.8"/>
<path d="M671 603.3h12M671 565.2h12M671 527h12M671 488.9h12M671 450.7h12M671 412.6h12M671 374.5h12M671 336.3h12M671 298.2h12M671 260h12M671 221.9h12M671 183.8h12M671 145.6h12M715.5 622.5v-6M760 622.5v-12M804.5 622.5v-6M849 622.5v-12M893.5 622.5v-6M938 622.5v-12M982.5 622.5v-6M1027 622.5v-12M1071.5 622.5v-6M1188.5 622.5v-6M1244.2 622.5v-12M1300 622.5v-6M1355.7 622.5v-12M1411.5 622.5v-6M1467.2 622.5v-12M1523 622.5v-6" stroke="#5a5a5a" stroke-width="2.6" fill="none"/>
<rect x="1119.5" y="104" width="11" height="7" fill="#fff"/>
<path d="M1109 121.5L1125 95.5M1125 121.5L1141 95.5" stroke="#222" stroke-width="2.2" fill="none"/>
<rect x="1119.5" y="619" width="11" height="7" fill="#fff"/>
<path d="M1109 636.5L1125 610.5M1125 636.5L1141 610.5" stroke="#222" stroke-width="2.2" fill="none"/>
<text x="671" y="670" font-size="46" text-anchor="middle" fill="#1a1a1a">21</text>
<text x="760" y="670" font-size="46" text-anchor="middle" fill="#1a1a1a">22</text>
<text x="849" y="670" font-size="46" text-anchor="middle" fill="#1a1a1a">23</text>
<text x="938" y="670" font-size="46" text-anchor="middle" fill="#1a1a1a">24</text>
<text x="1027" y="670" font-size="46" text-anchor="middle" fill="#1a1a1a">25</text>
<text x="1132.7" y="670" font-size="46" text-anchor="middle" fill="#1a1a1a">38</text>
<text x="1244.2" y="670" font-size="46" text-anchor="middle" fill="#1a1a1a">39</text>
<text x="1355.7" y="670" font-size="46" text-anchor="middle" fill="#1a1a1a">40</text>
<text x="1467.2" y="670" font-size="46" text-anchor="middle" fill="#1a1a1a">41</text>
<text x="1578.7" y="670" font-size="46" text-anchor="middle" fill="#1a1a1a">42</text>
<rect x="671" y="1238.2" width="907" height="515" fill="#fff" stroke="none"/>
<g clip-path="url(#ib)">
<polyline fill="none" stroke="#d25a5a" stroke-width="1.5" stroke-linejoin="round" points="671,1521 672.8,1521.1 674.6,1522.5 676.3,1522.5 678.1,1522.6 679.9,1522.3 681.7,1523.2 683.5,1522.4 685.2,1522.2 687,1521.9 688.8,1522.2 690.6,1521.4 692.4,1521.2 694.1,1521.1 695.9,1520.2 697.7,1520.3 699.5,1520.8 701.3,1521.3 703,1520.9 704.8,1522 706.6,1522.8 708.4,1522.4 710.2,1522 711.9,1521.8 713.7,1521.5 715.5,1520.7 717.3,1520.8 719.1,1521.2 720.8,1521.8 722.6,1521.5 724.4,1520.9 726.2,1520.8 728,1520.9 729.7,1520.8 731.5,1520.5 733.3,1520.2 735.1,1520.2 736.9,1520.2 738.6,1520.4 740.4,1520.5 742.2,1520.4 744,1519.8 745.8,1519.6 747.5,1519.9 749.3,1520.1 751.1,1520.2 752.9,1519.8 754.7,1520.1 756.4,1520.7 758.2,1520.9 760,1520.4 761.8,1520.1 763.6,1519.7 765.3,1519 767.1,1519.6 768.9,1520.1 770.7,1519.7 772.5,1517.7 774.2,1516.5 776,1516.1 777.8,1515.3 779.6,1513.6 781.4,1511.3 783.1,1509.1 784.9,1506.6 786.7,1503.4 788.5,1500 790.3,1495.8 792,1493.2 793.8,1490.3 795.6,1487.2 797.4,1483.9 799.2,1481.2 800.9,1478.5 802.7,1475 804.5,1471.1 806.3,1464.6 808.1,1454.4 809.8,1437.8 811.6,1413.8 813.4,1382 815.2,1344.7 817,1305.2 818.7,1270.9 820.5,1250.9 822.3,1252.5 824.1,1274.9 825.9,1312.2 827.6,1354.3 829.4,1395.1 831.2,1429.5 833,1456.6 834.8,1475.6 836.5,1488.5 838.3,1498.3 840.1,1504.5 841.9,1508 843.7,1510 845.4,1512.2 847.2,1514 849,1514.2 850.8,1514.2 852.6,1515.8 854.3,1517.5 856.1,1517.9 857.9,1517.1 859.7,1518 861.5,1518.1 863.2,1518.2 865,1518.2 866.8,1519.2 868.6,1519.5 870.4,1519.4 872.1,1518.8 873.9,1517.9 875.7,1518.4 877.5,1518.8 879.3,1519.4 881,1519.9 882.8,1520.8 884.6,1521 886.4,1520.4 888.2,1520.9 889.9,1520.8 891.7,1520.7 893.5,1520.9 895.3,1521.1 897.1,1520.6 898.8,1519.9 900.6,1520.4 902.4,1520.6 904.2,1520.9 906,1521.3 907.7,1522.6 909.5,1522.3 911.3,1521.9 913.1,1520.6 914.9,1520.4 916.6,1520.3 918.4,1521.3 920.2,1521.5 922,1521.4 923.8,1521 925.5,1520.7 927.3,1521 929.1,1521.5 930.9,1522 932.7,1522.3 934.4,1522.7 936.2,1521.7 938,1520.7 939.8,1520.3 941.6,1520.9 943.3,1521.4 945.1,1522.1 946.9,1522.2 948.7,1521.8 950.5,1522 952.2,1522.1 954,1521.7 955.8,1521.5 957.6,1522 959.4,1522.7 961.1,1522.6 962.9,1522.6 964.7,1521.8 966.5,1521.1 968.3,1520.8 970,1520.1 971.8,1520.2 973.6,1521 975.4,1522.2 977.2,1521.8 978.9,1521.8 980.7,1522 982.5,1522.3 984.3,1522.9 986.1,1523.3 987.8,1523.1 989.6,1522.4 991.4,1522.2 993.2,1521.9 995,1521.7 996.7,1522 998.5,1521.3 1000.3,1520.8 1002.1,1520.8 1003.9,1521.2 1005.6,1521.1 1007.4,1520.6 1009.2,1521 1011,1521.5 1012.8,1522.4 1014.5,1522.4 1016.3,1521.6 1018.1,1520.9 1019.9,1521 1021.7,1521.8 1023.4,1520.9 1025.2,1520.2 1027,1519.1 1028.8,1519.9 1030.6,1520.1 1032.3,1520.8 1034.1,1520.6 1035.9,1520.4 1037.7,1519.5 1039.5,1518.7 1041.2,1518.4 1043,1517.6 1044.8,1515.6 1046.6,1511.8 1048.4,1507.9 1050.1,1501.7 1051.9,1493.1 1053.7,1481.4 1055.5,1468.4 1057.3,1454.7 1059,1442.7 1060.8,1434.3 1062.6,1431.4 1064.4,1435.1 1066.2,1443.7 1067.9,1455.8 1069.7,1469.8 1071.5,1484.1 1073.3,1494.5 1075.1,1501.4 1076.8,1506.9 1078.6,1511.9 1080.4,1514.8 1082.2,1516.4 1084,1517.6 1085.7,1517.6 1087.5,1517.7 1089.3,1518.8 1091.1,1520.2 1092.9,1520.9 1094.6,1521.1 1096.4,1520.9 1098.2,1520.3 1100,1519.6 1101.8,1519.5 1103.5,1520.4 1105.3,1521.6 1107.1,1522.6 1108.9,1522.4 1110.7,1521.2 1112.4,1520.6 1114.2,1521.4 1116,1522.2"/>
<polyline fill="none" stroke="#d25a5a" stroke-width="1.5" stroke-linejoin="round" points="1132.7,1521.3 1134.9,1521.3 1137.2,1522.2 1139.4,1522.5 1141.6,1522 1143.9,1521.4 1146.1,1521.3 1148.3,1520.8 1150.5,1521 1152.8,1521.4 1155,1521.3 1157.2,1519.8 1159.5,1519.9 1161.7,1519.7 1163.9,1519.3 1166.2,1517 1168.4,1515.9 1170.6,1513.8 1172.8,1512.1 1175.1,1510.1 1177.3,1509.2 1179.5,1507.4 1181.8,1506.2 1184,1505.8 1186.2,1507.9 1188.5,1509.2 1190.7,1510.7 1192.9,1511.8 1195.1,1514.3 1197.4,1516.3 1199.6,1518.2 1201.8,1519.3 1204.1,1520.1 1206.3,1520.5 1208.5,1520.6 1210.8,1520.2 1213,1520.3 1215.2,1520.4 1217.4,1520.9 1219.7,1521.5 1221.9,1522.1 1224.1,1522.3 1226.4,1522.4 1228.6,1521.3 1230.8,1520.8 1233.1,1520.6 1235.3,1521.4 1237.5,1520.6 1239.7,1520.6 1242,1521.2 1244.2,1522 1246.4,1521.6 1248.7,1521 1250.9,1520.8 1253.1,1521.2 1255.4,1521 1257.6,1519.9 1259.8,1518 1262,1516.1 1264.3,1513.9 1266.5,1510.5 1268.7,1506.3 1271,1500.3 1273.2,1492.7 1275.4,1483.8 1277.7,1474.1 1279.9,1463.7 1282.1,1452.4 1284.3,1443.9 1286.6,1438.3 1288.8,1436.7 1291,1438.7 1293.3,1445 1295.5,1453.6 1297.7,1464.3 1300,1474.9 1302.2,1485.1 1304.4,1493.9 1306.6,1501.2 1308.9,1506.3 1311.1,1509.6 1313.3,1513.3 1315.6,1515.5 1317.8,1516.7 1320,1517.7 1322.3,1519.2 1324.5,1519.7 1326.7,1519.7 1328.9,1519.9 1331.2,1521.4 1333.4,1522 1335.6,1521.7 1337.9,1520.2 1340.1,1519.2 1342.3,1519.4 1344.6,1519.6 1346.8,1520.1 1349,1520.1 1351.2,1519.3 1353.5,1518.3 1355.7,1518.7 1357.9,1519.7 1360.2,1519.6 1362.4,1518.3 1364.6,1517.1 1366.9,1516.3 1369.1,1514.3 1371.3,1512.3 1373.5,1509.1 1375.8,1504.7 1378,1496.3 1380.2,1486.5 1382.5,1474.5 1384.7,1458.8 1386.9,1440.5 1389.2,1421.2 1391.4,1402.9 1393.6,1386.4 1395.8,1378 1398.1,1378.8 1400.3,1388.1 1402.5,1402.7 1404.8,1420.9 1407,1440.5 1409.2,1458.8 1411.5,1475.2 1413.7,1487.3 1415.9,1496.8 1418.1,1503.1 1420.4,1509.2 1422.6,1512.5 1424.8,1514.4 1427.1,1515.7 1429.3,1517.7 1431.5,1519.7 1433.8,1520.9 1436,1521.4 1438.2,1521 1440.4,1519.8 1442.7,1519.1 1444.9,1519 1447.1,1519.9 1449.4,1519.9 1451.6,1519.6 1453.8,1519.6 1456.1,1520.6 1458.3,1521.5 1460.5,1521.7 1462.7,1521.2 1465,1521.2 1467.2,1521.2 1469.4,1521.1 1471.7,1520.3 1473.9,1520.7 1476.1,1521.6 1478.4,1522.4 1480.6,1522.3 1482.8,1522.1 1485,1522.7 1487.3,1522.8 1489.5,1521.8 1491.7,1520.3 1494,1520.5 1496.2,1521.6 1498.4,1522.3 1500.7,1522.2 1502.9,1521.6 1505.1,1520.4 1507.3,1519.2 1509.6,1517.9 1511.8,1517.4 1514,1516.1 1516.3,1515 1518.5,1512.8 1520.7,1509.4 1523,1505.3 1525.2,1501.2 1527.4,1495.9 1529.6,1489.5 1531.9,1484 1534.1,1479.6 1536.3,1476.3 1538.6,1475.1 1540.8,1476.8 1543,1480 1545.3,1484.7 1547.5,1490.2 1549.7,1496.4 1551.9,1502.1 1554.2,1506.6 1556.4,1509.9 1558.6,1512.8 1560.9,1515.2 1563.1,1517.4 1565.3,1518.9 1567.6,1520 1569.8,1520.5 1572,1520.9 1574.2,1521.9 1576.5,1522.8 1578.7,1522.8"/>
<polyline fill="none" stroke="#d65ac8" stroke-width="1.5" stroke-linejoin="round" points="671,1595.1 672.8,1595.1 674.6,1595.1 676.3,1594.9 678.1,1594.7 679.9,1594.1 681.7,1593.1 683.5,1593.3 685.2,1594.6 687,1595.3 688.8,1595.2 690.6,1594.7 692.4,1595 694.1,1594.5 695.9,1594.4 697.7,1594.3 699.5,1593.6 701.3,1593.5 703,1593.7 704.8,1593.6 706.6,1593.4 708.4,1593.8 710.2,1594.8 711.9,1594.6 713.7,1594.4 715.5,1593.7 717.3,1593.2 719.1,1593.2 720.8,1594.5 722.6,1595.7 724.4,1595.5 726.2,1594 728,1593.3 729.7,1593.7 731.5,1593.4 733.3,1592.5 735.1,1592.8 736.9,1593.7 738.6,1593.1 740.4,1590.9 742.2,1589.7 744,1590 745.8,1590.4 747.5,1589.9 749.3,1588.1 751.1,1586.6 752.9,1585.8 754.7,1584.8 756.4,1582.4 758.2,1579.8 760,1577 761.8,1573.2 763.6,1568.9 765.3,1564 767.1,1559.6 768.9,1554.3 770.7,1548 772.5,1540.6 774.2,1533.6 776,1525.5 777.8,1516.7 779.6,1508.8 781.4,1501 783.1,1492.3 784.9,1483.5 786.7,1476.7 788.5,1469.6 790.3,1463.8 792,1459.6 793.8,1458 795.6,1457.5 797.4,1457.8 799.2,1458.9 800.9,1459.7 802.7,1459.1 804.5,1454.4 806.3,1445 808.1,1431.4 809.8,1413.1 811.6,1391 813.4,1370.8 815.2,1361.9 817,1369.1 818.7,1393.3 820.5,1427.2 822.3,1463.9 824.1,1497.8 825.9,1524.9 827.6,1544.8 829.4,1557.5 831.2,1567 833,1573.1 834.8,1577.9 836.5,1581.2 838.3,1583.3 840.1,1585.1 841.9,1586 843.7,1587.2 845.4,1587.8 847.2,1589.2 849,1589.8 850.8,1590.9 852.6,1591.2 854.3,1591.8 856.1,1592.3 857.9,1593 859.7,1592.4 861.5,1592.1 863.2,1591.4 865,1591.9 866.8,1592.2 868.6,1592.8 870.4,1592.7 872.1,1593.1 873.9,1594.5 875.7,1594.7 877.5,1595.4 879.3,1595.6 881,1595.5 882.8,1594.1 884.6,1594.2 886.4,1594.7 888.2,1595 889.9,1594.4 891.7,1594 893.5,1593.7 895.3,1593.5 897.1,1593.4 898.8,1593.4 900.6,1594.7 902.4,1596.4 904.2,1596.5 906,1595.6 907.7,1595.2 909.5,1595.9 911.3,1596.1 913.1,1595.5 914.9,1594.7 916.6,1595.1 918.4,1596.6 920.2,1596.8 922,1595 923.8,1594.1 925.5,1594.7 927.3,1595.5 929.1,1595.8 930.9,1596 932.7,1595.2 934.4,1593.7 936.2,1593.6 938,1594 939.8,1594.8 941.6,1594.5 943.3,1594.6 945.1,1594 946.9,1594.2 948.7,1594.4 950.5,1595.2 952.2,1596.1 954,1596.3 955.8,1595.5 957.6,1595.7 959.4,1596.3 961.1,1596.7 962.9,1596.2 964.7,1596.6 966.5,1596.9 968.3,1596.9 970,1596.6 971.8,1595.8 973.6,1595 975.4,1594.7 977.2,1595.2 978.9,1595.5 980.7,1595.7 982.5,1595.7 984.3,1595.4 986.1,1594.6 987.8,1594.7 989.6,1595.5 991.4,1595.8 993.2,1595.4 995,1595.5 996.7,1595.9 998.5,1594.9 1000.3,1593.9 1002.1,1593.7 1003.9,1595.3 1005.6,1595.7 1007.4,1595.5 1009.2,1594.4 1011,1594.4 1012.8,1594.8 1014.5,1594.4 1016.3,1593.1 1018.1,1593.1 1019.9,1594.4 1021.7,1595.2 1023.4,1595.2 1025.2,1595.8 1027,1595.1 1028.8,1594.1 1030.6,1594.3 1032.3,1595 1034.1,1594.5 1035.9,1594.3 1037.7,1594.4 1039.5,1593.5 1041.2,1592 1043,1590.5 1044.8,1589.3 1046.6,1585.9 1048.4,1581.6 1050.1,1574 1051.9,1565.4 1053.7,1554.8 1055.5,1546.2 1057.3,1541.2 1059,1542.5 1060.8,1548.7 1062.6,1557.2 1064.4,1566.5 1066.2,1575 1067.9,1582.3 1069.7,1587.2 1071.5,1590.6 1073.3,1592.6 1075.1,1594.3 1076.8,1594.7 1078.6,1595.2 1080.4,1594.7 1082.2,1594.3 1084,1593.7 1085.7,1593.9 1087.5,1594.2 1089.3,1595.2 1091.1,1595 1092.9,1596.2 1094.6,1596.5 1096.4,1597.2 1098.2,1596.5 1100,1595.5 1101.8,1594.4 1103.5,1594.9 1105.3,1595.2 1107.1,1595.1 1108.9,1594.6 1110.7,1595.2 1112.4,1595 1114.2,1594.8 1116,1594.7"/>
<polyline fill="none" stroke="#d65ac8" stroke-width="1.5" stroke-linejoin="round" points="1132.7,1596.3 1134.9,1595.9 1137.2,1596.1 1139.4,1598 1141.6,1598.8 1143.9,1598.3 1146.1,1596.8 1148.3,1596.3 1150.5,1596 1152.8,1596.8 1155,1597.4 1157.2,1597.4 1159.5,1596.8 1161.7,1597.6 1163.9,1596.9 1166.2,1596.6 1168.4,1596 1170.6,1596.8 1172.8,1596 1175.1,1595.1 1177.3,1594.9 1179.5,1595.5 1181.8,1595.4 1184,1594.9 1186.2,1595.1 1188.5,1596.2 1190.7,1596.4 1192.9,1595.6 1195.1,1594.8 1197.4,1596 1199.6,1596.9 1201.8,1596.9 1204.1,1596.1 1206.3,1597 1208.5,1597.6 1210.8,1596.3 1213,1594.9 1215.2,1594.3 1217.4,1594.6 1219.7,1594 1221.9,1593.7 1224.1,1593.4 1226.4,1593.7 1228.6,1593.8 1230.8,1593.4 1233.1,1591.9 1235.3,1591.2 1237.5,1591.6 1239.7,1592 1242,1591.2 1244.2,1588.3 1246.4,1586 1248.7,1584.4 1250.9,1583.6 1253.1,1580.8 1255.4,1577.9 1257.6,1574.5 1259.8,1572.2 1262,1568.6 1264.3,1563.5 1266.5,1556.7 1268.7,1550.4 1271,1544.2 1273.2,1537.4 1275.4,1530.5 1277.7,1524 1279.9,1518 1282.1,1511.7 1284.3,1506 1286.6,1500.9 1288.8,1496.2 1291,1492 1293.3,1490 1295.5,1490.5 1297.7,1492.9 1300,1496.5 1302.2,1500.3 1304.4,1504.5 1306.6,1510.1 1308.9,1517.3 1311.1,1524.2 1313.3,1530.6 1315.6,1537.6 1317.8,1544.7 1320,1550.7 1322.3,1555 1324.5,1560.6 1326.7,1566.2 1328.9,1571.3 1331.2,1574.1 1333.4,1576.2 1335.6,1578.2 1337.9,1580.1 1340.1,1581.9 1342.3,1581.8 1344.6,1581.7 1346.8,1580.8 1349,1580.4 1351.2,1578.4 1353.5,1577.4 1355.7,1577.3 1357.9,1578.1 1360.2,1577.8 1362.4,1577.6 1364.6,1578.1 1366.9,1577.5 1369.1,1574.7 1371.3,1570.7 1373.5,1565.6 1375.8,1559.2 1378,1550.5 1380.2,1541.2 1382.5,1532.7 1384.7,1528.5 1386.9,1527.3 1389.2,1529.5 1391.4,1534.9 1393.6,1543.1 1395.8,1552.6 1398.1,1561.9 1400.3,1570.5 1402.5,1576.2 1404.8,1580.5 1407,1583.1 1409.2,1586.4 1411.5,1589.4 1413.7,1592.1 1415.9,1593.8 1418.1,1594.5 1420.4,1594.3 1422.6,1594.1 1424.8,1595.2 1427.1,1595.3 1429.3,1595.2 1431.5,1594.8 1433.8,1595 1436,1595.2 1438.2,1595.2 1440.4,1594.8 1442.7,1594.7 1444.9,1595.4 1447.1,1595.7 1449.4,1595.3 1451.6,1595.6 1453.8,1595.7 1456.1,1596 1458.3,1596.1 1460.5,1596.9 1462.7,1597.3 1465,1597.4 1467.2,1596.7 1469.4,1596 1471.7,1595.4 1473.9,1596.6 1476.1,1596.9 1478.4,1596.9 1480.6,1596.3 1482.8,1595.7 1485,1594.6 1487.3,1593.6 1489.5,1593.5 1491.7,1592.7 1494,1592 1496.2,1592.2 1498.4,1592.3 1500.7,1591.3 1502.9,1589.2 1505.1,1586.7 1507.3,1585 1509.6,1583.7 1511.8,1582.1 1514,1580 1516.3,1578.4 1518.5,1577.4 1520.7,1576.1 1523,1575.5 1525.2,1575.7 1527.4,1577 1529.6,1578.9 1531.9,1580.9 1534.1,1582.4 1536.3,1583.8 1538.6,1586.3 1540.8,1587.7 1543,1589.4 1545.3,1590.5 1547.5,1592.4 1549.7,1592.7 1551.9,1593.2 1554.2,1593.4 1556.4,1593.4 1558.6,1593.8 1560.9,1594.1 1563.1,1595.1 1565.3,1596.1 1567.6,1595.5 1569.8,1594 1572,1594 1574.2,1595.8 1576.5,1596.6 1578.7,1596.5"/>
<polyline fill="none" stroke="#6a6ad6" stroke-width="1.5" stroke-linejoin="round" points="685.2,1666.8 687,1667.1 688.8,1667.7 690.6,1667.5 692.4,1667.2 694.1,1665.9 695.9,1665.4 697.7,1664.7 699.5,1665.8 701.3,1667.2 703,1668 704.8,1666.6 706.6,1665.3 708.4,1665.2 710.2,1665.8 711.9,1666.2 713.7,1666.7 715.5,1665.4 717.3,1665 719.1,1664.9 720.8,1665.4 722.6,1665.3 724.4,1665.6 726.2,1665 728,1663.6 729.7,1663.6 731.5,1664.6 733.3,1665.8 735.1,1665.7 736.9,1664.7 738.6,1664.6 740.4,1664.6 742.2,1664.9 744,1664.4 745.8,1664.3 747.5,1663.3 749.3,1662.9 751.1,1662.3 752.9,1661.5 754.7,1660.7 756.4,1659.8 758.2,1659 760,1657.8 761.8,1656.2 763.6,1653.7 765.3,1651.1 767.1,1649.2 768.9,1646.9 770.7,1643.9 772.5,1640.8 774.2,1639.6 776,1638.8 777.8,1637.6 779.6,1635.6 781.4,1632.8 783.1,1627.7 784.9,1618.8 786.7,1603.2 788.5,1580 790.3,1547.5 792,1507.8 793.8,1460.9 795.6,1410.9 797.4,1364.2 799.2,1335.6 800.9,1335.2 802.7,1363.6 804.5,1409 806.3,1460.4 808.1,1509 809.8,1551.1 811.6,1584.2 813.4,1607.7 815.2,1623.3 817,1633.7 818.7,1640.7 820.5,1644.6 822.3,1647.4 824.1,1649.8 825.9,1652.3 827.6,1654.3 829.4,1656.1 831.2,1657.3 833,1658.5 834.8,1659.1 836.5,1660 838.3,1660 840.1,1660.6 841.9,1661.1 843.7,1661.9 845.4,1661.4 847.2,1661.7 849,1662.4 850.8,1663.5 852.6,1664 854.3,1664.5 856.1,1664.2 857.9,1664.5 859.7,1665 861.5,1664.6 863.2,1664.3 865,1664.6 866.8,1665.3 868.6,1665.3 870.4,1665.1 872.1,1665 873.9,1664.7 875.7,1664.1 877.5,1664.6 879.3,1665.2 881,1665.7 882.8,1664.8 884.6,1664.9 886.4,1664.8 888.2,1666.6 889.9,1666.6 891.7,1666.1 893.5,1665.3 895.3,1666.5 897.1,1666.1 898.8,1665.4 900.6,1665.6 902.4,1666.1 904.2,1666 906,1665.7 907.7,1665.7 909.5,1665.2 911.3,1665.4 913.1,1665.2 914.9,1666.2 916.6,1666.7 918.4,1666.6 920.2,1666 922,1666.4 923.8,1667.2 925.5,1666.9 927.3,1666.9 929.1,1666.5 930.9,1666.7 932.7,1666.4 934.4,1666.3 936.2,1667 938,1667 939.8,1666.5 941.6,1665.7 943.3,1666.3 945.1,1666.8 946.9,1667.4 948.7,1666.6 950.5,1666.3 952.2,1666 954,1666.4 955.8,1666.4 957.6,1665.7 959.4,1665.7 961.1,1666 962.9,1666.2 964.7,1665.8 966.5,1666.6 968.3,1667.3 970,1667.3 971.8,1666.7 973.6,1666.4 975.4,1665.7 977.2,1665.6 978.9,1666.6 980.7,1667.5 982.5,1667.4 984.3,1667 986.1,1666.9 987.8,1666.7 989.6,1666.4 991.4,1666.3 993.2,1665.7 995,1666 996.7,1666 998.5,1666.4 1000.3,1665.6 1002.1,1666.1 1003.9,1666 1005.6,1666.4 1007.4,1665.5 1009.2,1665.3 1011,1665.7 1012.8,1666.3 1014.5,1666.2 1016.3,1666.7 1018.1,1667 1019.9,1666.9 1021.7,1666.1 1023.4,1666.4 1025.2,1666.7 1027,1668.3 1028.8,1668.8 1030.6,1668.4 1032.3,1667.9 1034.1,1667.3 1035.9,1667.2 1037.7,1666.7 1039.5,1666.6 1041.2,1666.6 1043,1667.2 1044.8,1667.8 1046.6,1666.9 1048.4,1666.5 1050.1,1665.9 1051.9,1666.2 1053.7,1665.2 1055.5,1665.3 1057.3,1665.4 1059,1665 1060.8,1663.1 1062.6,1661.7 1064.4,1661.9 1066.2,1662.3 1067.9,1662.3 1069.7,1662.4 1071.5,1663.4 1073.3,1664.4 1075.1,1665.4 1076.8,1666.2 1078.6,1666.9 1080.4,1666.5 1082.2,1666.3 1084,1666 1085.7,1666.6 1087.5,1666.6 1089.3,1666.5 1091.1,1666.3 1092.9,1666.7 1094.6,1666.9 1096.4,1666.4 1098.2,1666.2 1100,1667 1101.8,1667.5 1103.5,1667.1 1105.3,1666.5 1107.1,1666.4 1108.9,1666.9 1110.7,1667.7 1112.4,1667.8 1114.2,1667.2 1116,1666.8"/>
<polyline fill="none" stroke="#6a6ad6" stroke-width="1.5" stroke-linejoin="round" points="1132.7,1666.9 1134.9,1667.3 1137.2,1668.5 1139.4,1669.2 1141.6,1669.3 1143.9,1669 1146.1,1667.8 1148.3,1667.9 1150.5,1668.1 1152.8,1669.1 1155,1668.9 1157.2,1668.6 1159.5,1668.7 1161.7,1668.2 1163.9,1668 1166.2,1668 1168.4,1668 1170.6,1667 1172.8,1666.6 1175.1,1667.2 1177.3,1667.9 1179.5,1668 1181.8,1667.6 1184,1667.3 1186.2,1667.6 1188.5,1667.8 1190.7,1667.3 1192.9,1666.4 1195.1,1666.7 1197.4,1667.8 1199.6,1667.8 1201.8,1667.3 1204.1,1667.1 1206.3,1667.4 1208.5,1666.6 1210.8,1665.8 1213,1665.5 1215.2,1665.7 1217.4,1666.4 1219.7,1666.7 1221.9,1666.7 1224.1,1666.4 1226.4,1665.6 1228.6,1665.4 1230.8,1665.9 1233.1,1665.6 1235.3,1664.9 1237.5,1664.1 1239.7,1662.8 1242,1660.2 1244.2,1655.1 1246.4,1647.3 1248.7,1637.8 1250.9,1627.6 1253.1,1615 1255.4,1603.6 1257.6,1597 1259.8,1596.5 1262,1602.2 1264.3,1613.5 1266.5,1627.2 1268.7,1637.7 1271,1645.5 1273.2,1650.7 1275.4,1654.2 1277.7,1655.5 1279.9,1655.6 1282.1,1655.2 1284.3,1654.4 1286.6,1652.5 1288.8,1647.7 1291,1639 1293.3,1626 1295.5,1607.5 1297.7,1581.7 1300,1549.6 1302.2,1513.3 1304.4,1476.2 1306.6,1442.7 1308.9,1420.8 1311.1,1417.2 1313.3,1431.2 1315.6,1458.7 1317.8,1494.6 1320,1532.7 1322.3,1567.1 1324.5,1595.6 1326.7,1617.8 1328.9,1633.8 1331.2,1645.3 1333.4,1652.9 1335.6,1657.3 1337.9,1659.2 1340.1,1661.7 1342.3,1663.3 1344.6,1663.2 1346.8,1662.6 1349,1662.9 1351.2,1663.5 1353.5,1663.8 1355.7,1664.3 1357.9,1664.8 1360.2,1664.8 1362.4,1665.2 1364.6,1665 1366.9,1665.4 1369.1,1665.5 1371.3,1666.3 1373.5,1665.2 1375.8,1665.6 1378,1665.4 1380.2,1665.7 1382.5,1665.4 1384.7,1666.1 1386.9,1666.1 1389.2,1664.9 1391.4,1664.5 1393.6,1664.6 1395.8,1665.3 1398.1,1664.6 1400.3,1663.6 1402.5,1662.8 1404.8,1662.3 1407,1661.8 1409.2,1662.9 1411.5,1664.1 1413.7,1665.4 1415.9,1665.8 1418.1,1667.3 1420.4,1667.2 1422.6,1667.4 1424.8,1667.3 1427.1,1667.5 1429.3,1667.5 1431.5,1667.1 1433.8,1667.1 1436,1666.9 1438.2,1667.5 1440.4,1667.7 1442.7,1667.2 1444.9,1666.6 1447.1,1666.7 1449.4,1667 1451.6,1667.6 1453.8,1668.1 1456.1,1668.8 1458.3,1668 1460.5,1667.4 1462.7,1667.6 1465,1667.5 1467.2,1667.5 1469.4,1667.4 1471.7,1667.7 1473.9,1667.5 1476.1,1667.1 1478.4,1667.3 1480.6,1666.9 1482.8,1666.7 1485,1667.1 1487.3,1667.7 1489.5,1667.1 1491.7,1666.7 1494,1667.1 1496.2,1666.3 1498.4,1665.5 1500.7,1666.7 1502.9,1668.5 1505.1,1669.1 1507.3,1668.9 1509.6,1668.7 1511.8,1667.7 1514,1667.6 1516.3,1668.2 1518.5,1669 1520.7,1668.8 1523,1667.4 1525.2,1666.7 1527.4,1666.3 1529.6,1667.3 1531.9,1667.5 1534.1,1668 1536.3,1667.4 1538.6,1668.3 1540.8,1668 1543,1668.1 1545.3,1668.6 1547.5,1669.5 1549.7,1668.8 1551.9,1667.8 1554.2,1668.3 1556.4,1669.1 1558.6,1668 1560.9,1667.3 1563.1,1666.4 1565.3,1667.6 1567.6,1668.1 1569.8,1668.6 1572,1668 1574.2,1668.3 1576.5,1668 1578.7,1667.5"/>
<polyline fill="none" stroke="#a8a83c" stroke-width="1.5" stroke-linejoin="round" points="671,1729.5 672.8,1728.5 674.6,1728.2 676.3,1729.4 678.1,1730.7 679.9,1730.3 681.7,1729.1 683.5,1728.8 685.2,1729.6 687,1730.4 688.8,1730.5 690.6,1729.5 692.4,1729.3 694.1,1729.2 695.9,1728.9 697.7,1727.5 699.5,1726.7 701.3,1727.5 703,1728.4 704.8,1728.7 706.6,1728.5 708.4,1728.3 710.2,1728.4 711.9,1728.6 713.7,1728.9 715.5,1728.8 717.3,1728.6 719.1,1728.2 720.8,1728.4 722.6,1728.3 724.4,1728.9 726.2,1728.8 728,1728.9 729.7,1727.9 731.5,1727.5 733.3,1727.5 735.1,1727.8 736.9,1727.6 738.6,1726.9 740.4,1726.8 742.2,1727.2 744,1727.8 745.8,1728.3 747.5,1728.1 749.3,1726.7 751.1,1725.8 752.9,1725.2 754.7,1725.1 756.4,1725.5 758.2,1726.7 760,1726.7 761.8,1725.5 763.6,1725 765.3,1724.3 767.1,1724.2 768.9,1723.9 770.7,1724.8 772.5,1723.9 774.2,1723.4 776,1721.9 777.8,1721.5 779.6,1719.8 781.4,1718.7 783.1,1716.5 784.9,1714.1 786.7,1710.5 788.5,1706.2 790.3,1699 792,1686.6 793.8,1664.8 795.6,1628.5 797.4,1577.1 799.2,1513.3 800.9,1448.7 802.7,1404 804.5,1404 806.3,1447.7 808.1,1510.6 809.8,1570 811.6,1614.4 813.4,1641.6 815.2,1657.7 817,1670.9 818.7,1684.5 820.5,1696.8 822.3,1705.6 824.1,1712.3 825.9,1716.7 827.6,1720.1 829.4,1721.6 831.2,1721.8 833,1721.7 834.8,1721.9 836.5,1722.8 838.3,1724.4 840.1,1724.6 841.9,1723.5 843.7,1723.9 845.4,1725 847.2,1725.9 849,1725.3 850.8,1726.3 852.6,1726.9 854.3,1727.7 856.1,1727.8 857.9,1727.7 859.7,1727.9 861.5,1728.5 863.2,1729.2 865,1728.7 866.8,1727.4 868.6,1726.9 870.4,1727.2 872.1,1727.7 873.9,1727.6 875.7,1728 877.5,1728.2 879.3,1728.5 881,1728.4 882.8,1728.6 884.6,1728.1 886.4,1728.5 888.2,1728.8 889.9,1729.4 891.7,1729 893.5,1729.4 895.3,1729.6 897.1,1729.4 898.8,1728.8 900.6,1727.8 902.4,1727.6 904.2,1727.8 906,1728.3 907.7,1729.3 909.5,1729 911.3,1728.6 913.1,1728.4 914.9,1729.7 916.6,1730.2 918.4,1729.2 920.2,1728.1 922,1727.9 923.8,1728.5 925.5,1729.5 927.3,1729.7 929.1,1729.7 930.9,1729.1 932.7,1729 934.4,1728.9 936.2,1728.5 938,1728.5 939.8,1728.3 941.6,1728.6 943.3,1728.2 945.1,1727.5 946.9,1727.6 948.7,1728.6 950.5,1728.8 952.2,1728.3 954,1727.9 955.8,1729 957.6,1728.9 959.4,1729.6 961.1,1728.8 962.9,1729.3 964.7,1728.7 966.5,1728.8 968.3,1729 970,1729.6 971.8,1729.6 973.6,1728.7 975.4,1729.2 977.2,1730.3 978.9,1730.7 980.7,1729.5 982.5,1729 984.3,1729 986.1,1729.6 987.8,1729.3 989.6,1728.9 991.4,1728.2 993.2,1729.1 995,1730.1 996.7,1730.5 998.5,1729.9 1000.3,1729.8 1002.1,1729.9 1003.9,1729 1005.6,1728.8 1007.4,1729.4 1009.2,1729.6 1011,1729.7 1012.8,1729.8 1014.5,1729 1016.3,1728.2 1018.1,1728.4 1019.9,1729.9 1021.7,1730 1023.4,1729.7 1025.2,1729.1 1027,1729.3 1028.8,1728.7 1030.6,1728.4 1032.3,1728.4 1034.1,1729.5 1035.9,1730.7 1037.7,1730.5 1039.5,1729 1041.2,1727.7 1043,1727.9 1044.8,1728 1046.6,1728.4 1048.4,1729.2 1050.1,1729.1 1051.9,1728.1 1053.7,1726.9 1055.5,1727.8 1057.3,1729.4 1059,1729.6 1060.8,1728.1 1062.6,1727.5 1064.4,1728.9 1066.2,1730.1 1067.9,1730.2 1069.7,1729.9 1071.5,1729.7 1073.3,1729.3 1075.1,1729.7 1076.8,1729.9 1078.6,1729.4 1080.4,1728.2 1082.2,1727.7 1084,1728 1085.7,1728.9 1087.5,1729.2 1089.3,1729.3 1091.1,1730 1092.9,1730.9 1094.6,1729.7 1096.4,1728.2 1098.2,1728 1100,1728 1101.8,1727.7 1103.5,1727.7 1105.3,1728.3 1107.1,1729.1 1108.9,1728.8 1110.7,1729.4 1112.4,1730.1 1114.2,1730.8 1116,1730"/>
<polyline fill="none" stroke="#a8a83c" stroke-width="1.5" stroke-linejoin="round" points="1132.7,1730.3 1134.9,1730.5 1137.2,1731.3 1139.4,1731.3 1141.6,1731 1143.9,1729.7 1146.1,1730.1 1148.3,1731.2 1150.5,1731.2 1152.8,1730.4 1155,1730.1 1157.2,1729.8 1159.5,1729.5 1161.7,1729.2 1163.9,1729.3 1166.2,1729.6 1168.4,1729.6 1170.6,1729.9 1172.8,1729.9 1175.1,1730.6 1177.3,1730.7 1179.5,1731.2 1181.8,1731.2 1184,1731 1186.2,1730.4 1188.5,1730.2 1190.7,1729.6 1192.9,1729.4 1195.1,1729.5 1197.4,1730 1199.6,1730.2 1201.8,1729.4 1204.1,1729.8 1206.3,1729.7 1208.5,1730 1210.8,1729.5 1213,1730 1215.2,1729.8 1217.4,1729.1 1219.7,1727.8 1221.9,1727.6 1224.1,1727.7 1226.4,1728.4 1228.6,1729.3 1230.8,1728.8 1233.1,1727.3 1235.3,1726.6 1237.5,1727.7 1239.7,1727.4 1242,1724.5 1244.2,1718.3 1246.4,1707.9 1248.7,1693.6 1250.9,1679 1253.1,1671.4 1255.4,1676.8 1257.6,1691.2 1259.8,1706.2 1262,1716.5 1264.3,1721.9 1266.5,1724.3 1268.7,1725.5 1271,1726 1273.2,1725.5 1275.4,1724.5 1277.7,1724.3 1279.9,1725 1282.1,1724.6 1284.3,1722.9 1286.6,1718.6 1288.8,1710.3 1291,1696.5 1293.3,1675.1 1295.5,1644.8 1297.7,1606.9 1300,1571.2 1302.2,1547.1 1304.4,1546.2 1306.6,1568.6 1308.9,1603 1311.1,1633.2 1313.3,1653.8 1315.6,1665.8 1317.8,1675.4 1320,1687 1322.3,1699.7 1324.5,1710.5 1326.7,1718.4 1328.9,1722.4 1331.2,1724.2 1333.4,1725.1 1335.6,1726.2 1337.9,1726.3 1340.1,1726 1342.3,1726.9 1344.6,1727.3 1346.8,1728.3 1349,1729.1 1351.2,1729.5 1353.5,1729 1355.7,1728.8 1357.9,1729 1360.2,1728.7 1362.4,1728.9 1364.6,1729.4 1366.9,1730.2 1369.1,1729.3 1371.3,1729.3 1373.5,1730.2 1375.8,1731.3 1378,1730.1 1380.2,1729 1382.5,1729 1384.7,1729.7 1386.9,1729.6 1389.2,1729.8 1391.4,1729.7 1393.6,1729.7 1395.8,1729.4 1398.1,1729.5 1400.3,1729.9 1402.5,1730.2 1404.8,1730.2 1407,1729.6 1409.2,1729.4 1411.5,1729.1 1413.7,1730.1 1415.9,1730.1 1418.1,1730.5 1420.4,1729.6 1422.6,1729.5 1424.8,1729.6 1427.1,1730.6 1429.3,1730.3 1431.5,1729.1 1433.8,1729.2 1436,1729.4 1438.2,1729.8 1440.4,1729.5 1442.7,1729.9 1444.9,1730.7 1447.1,1731.9 1449.4,1732.2 1451.6,1730.5 1453.8,1729.7 1456.1,1729.6 1458.3,1730.1 1460.5,1730.5 1462.7,1730 1465,1729.7 1467.2,1729.5 1469.4,1729.9 1471.7,1730.4 1473.9,1730.1 1476.1,1730 1478.4,1729.5 1480.6,1729.1 1482.8,1728.2 1485,1727.9 1487.3,1729.2 1489.5,1730.4 1491.7,1731.1 1494,1730.9 1496.2,1729.5 1498.4,1729 1500.7,1729 1502.9,1730.3 1505.1,1731 1507.3,1732.2 1509.6,1732.2 1511.8,1731.7 1514,1730.4 1516.3,1729.8 1518.5,1729.1 1520.7,1729.8 1523,1729.5 1525.2,1729.7 1527.4,1729.1 1529.6,1729.3 1531.9,1729.6 1534.1,1729.9 1536.3,1730 1538.6,1729.5 1540.8,1730.2 1543,1730.1 1545.3,1730.7 1547.5,1731.3 1549.7,1730.7 1551.9,1729.2 1554.2,1728.4 1556.4,1730 1558.6,1730.4 1560.9,1730.4 1563.1,1729.8 1565.3,1730 1567.6,1729.5 1569.8,1730 1572,1728.7 1574.2,1727.9 1576.5,1728.5 1578.7,1730.3"/>
</g>
<path d="M1578 1238.2H671V1753.2H1579.5" fill="none" stroke="#666" stroke-width="3.6"/>
<path d="M1578 1236.7V1753.7" fill="none" stroke="#333" stroke-width="2.8"/>
<path d="M671 1751.4h12M671 1678.1h12M671 1604.8h12M671 1531.5h12M671 1458.2h12M671 1384.9h12M671 1311.6h12M715.5 1753.2v-6M760 1753.2v-12M804.5 1753.2v-6M849 1753.2v-12M893.5 1753.2v-6M938 1753.2v-12M982.5 1753.2v-6M1027 1753.2v-12M1071.5 1753.2v-6M1188.5 1753.2v-6M1244.2 1753.2v-12M1300 1753.2v-6M1355.7 1753.2v-12M1411.5 1753.2v-6M1467.2 1753.2v-12M1523 1753.2v-6" stroke="#5a5a5a" stroke-width="2.6" fill="none"/>
<rect x="1119.5" y="1234.7" width="11" height="7" fill="#fff"/>
<path d="M1109 1252.2L1125 1226.2M1125 1252.2L1141 1226.2" stroke="#222" stroke-width="2.2" fill="none"/>
<rect x="1119.5" y="1749.7" width="11" height="7" fill="#fff"/>
<path d="M1109 1767.2L1125 1741.2M1125 1767.2L1141 1741.2" stroke="#222" stroke-width="2.2" fill="none"/>
<text x="671" y="1800.7" font-size="46" text-anchor="middle" fill="#1a1a1a">21</text>
<text x="760" y="1800.7" font-size="46" text-anchor="middle" fill="#1a1a1a">22</text>
<text x="849" y="1800.7" font-size="46" text-anchor="middle" fill="#1a1a1a">23</text>
<text x="938" y="1800.7" font-size="46" text-anchor="middle" fill="#1a1a1a">24</text>
<text x="1027" y="1800.7" font-size="46" text-anchor="middle" fill="#1a1a1a">25</text>
<text x="1132.7" y="1800.7" font-size="46" text-anchor="middle" fill="#1a1a1a">38</text>
<text x="1244.2" y="1800.7" font-size="46" text-anchor="middle" fill="#1a1a1a">39</text>
<text x="1355.7" y="1800.7" font-size="46" text-anchor="middle" fill="#1a1a1a">40</text>
<text x="1467.2" y="1800.7" font-size="46" text-anchor="middle" fill="#1a1a1a">41</text>
<text x="1578.7" y="1800.7" font-size="46" text-anchor="middle" fill="#1a1a1a">42</text>
<text x="1013" y="750.5" font-size="57.5" textLength="195" lengthAdjust="spacingAndGlyphs" fill="#111">2θ (deg)</text>
<text x="1019.7" y="1877.5" font-size="57.5" textLength="197" lengthAdjust="spacingAndGlyphs" fill="#111">2θ (deg)</text>
<text x="1592" y="363.4" font-size="47" fill="#b01818">x=&#160;0.2</text>
<text x="1592" y="436" font-size="47" fill="#a0108c">x=&#160;0.15</text>
<text x="1592" y="505" font-size="47" fill="#181890">x=&#160;0.10</text>
<text x="1592" y="573.4" font-size="47" fill="#8a8a18">x=&#160;0.05</text>
<text x="1592" y="1516.9" font-size="47" fill="#b01818">x=&#160;0.2</text>
<text x="1592" y="1591.6" font-size="47" fill="#a0108c">x=&#160;0.15</text>
<text x="1592" y="1658.6" font-size="47" fill="#181890">x=&#160;0.10</text>
<text x="1592" y="1725.5" font-size="47" fill="#8a8a18">x=&#160;0.05</text>
<text transform="translate(875 256.9) rotate(-90)" font-size="48" fill="#111">(002)<tspan font-size="30" dy="17.5" dx="-3">O*</tspan></text>
<text transform="translate(1244 331.1) rotate(-90)" font-size="48" fill="#111">(113)<tspan font-size="30" dy="17.5" dx="-3">R</tspan></text>
<text transform="translate(1369.5 296.3) rotate(-90)" font-size="48" fill="#111">(230)<tspan font-size="30" dy="17.5" dx="-3">O*</tspan></text>
<text transform="translate(1441.5 295.5) rotate(-90)" font-size="48" fill="#111">(212)<tspan font-size="30" dy="17.5" dx="-3">O*</tspan></text>
<text transform="translate(879.3 1387.5) rotate(-90)" font-size="48" fill="#111">(002)<tspan font-size="30" dy="17.5" dx="-3">O*</tspan></text>
<text transform="translate(1045.7 1423.4) rotate(-90)" font-size="48" fill="#111">(111)<tspan font-size="30" dy="17.5" dx="-3">O</tspan></text>
<text transform="translate(1163 1423.4) rotate(-90)" font-size="48" fill="#111">(112)<tspan font-size="30" dy="17.5" dx="-3">O</tspan></text>
<text transform="translate(1232.2 1423.4) rotate(-90)" font-size="48" fill="#111">(113)<tspan font-size="30" dy="17.5" dx="-3">R</tspan></text>
<text transform="translate(1374.5 1391.8) rotate(-90)" font-size="48" fill="#111">(131)<tspan font-size="30" dy="17.5" dx="-3">O</tspan></text>
<text transform="translate(1522.8 1434.9) rotate(-90)" font-size="48" fill="#111">(212)<tspan font-size="30" dy="17.5" dx="-3">O*</tspan></text>
<line x1="824" y1="157" x2="816.2" y2="484" stroke="#444" stroke-width="1.6" stroke-dasharray="2.2 2.2" marker-end="url(#ah)"/>
<line x1="1261.6" y1="320.7" x2="1252" y2="543" stroke="#444" stroke-width="1.6" stroke-dasharray="2.2 2.2" marker-end="url(#ah)"/>
<line x1="1389.9" y1="271.6" x2="1397" y2="507" stroke="#444" stroke-width="1.6" stroke-dasharray="2.2 2.2" marker-end="url(#ah)"/>
<line x1="822.7" y1="1243.6" x2="830" y2="1632" stroke="#444" stroke-width="1.6" stroke-dasharray="2.2 2.2" marker-end="url(#ah)"/>
<line x1="1063.2" y1="1359.8" x2="1057.7" y2="1541" stroke="#444" stroke-width="1.6" stroke-dasharray="2.2 2.2" marker-end="url(#ah)"/>
<line x1="1180.6" y1="1408.9" x2="1180.8" y2="1499" stroke="#444" stroke-width="1.6" stroke-dasharray="2.2 2.2" marker-end="url(#ah)"/>
<line x1="1252.6" y1="1350.8" x2="1252.6" y2="1737" stroke="#444" stroke-width="1.6" stroke-dasharray="2.2 2.2" marker-end="url(#ah)"/>
<line x1="1400.8" y1="1325.3" x2="1387.7" y2="1590" stroke="#444" stroke-width="1.6" stroke-dasharray="2.2 2.2" marker-end="url(#ah)"/>
<line x1="1492.3" y1="1450.7" x2="1399.7" y2="1652" stroke="#444" stroke-width="1.6" stroke-dasharray="2.2 2.2" marker-end="url(#ah)"/>
<text transform="translate(209 158.6) scale(0.968 1)" font-size="65" fill="#111">Bi<tspan font-size="51" dy="24.5">0.9</tspan><tspan dy="-24.5">Nd</tspan><tspan font-size="51" dy="24.5">0.1</tspan><tspan dy="-24.5">FeO</tspan><tspan font-size="39" dy="24.5" dx="3">3</tspan></text>
<text transform="translate(209 1284.3) scale(0.968 1)" font-size="65" fill="#111">Bi<tspan font-size="51" dy="24.5">0.9</tspan><tspan dy="-24.5">Gd</tspan><tspan font-size="51" dy="24.5">0.1</tspan><tspan dy="-24.5">FeO</tspan><tspan font-size="39" dy="24.5" dx="3">3</tspan></text>
<text transform="translate(101.5 656.2) rotate(-90)" font-size="85.5" text-anchor="middle" fill="#111">Intensity (arb. un.)</text>
<text transform="translate(101.5 1786.3) rotate(-90)" font-size="85.5" text-anchor="middle" fill="#111">Intensity (arb. un.)</text>
<text x="176" y="2413.5" font-size="57.5" text-anchor="middle" fill="#111">20</text>
<text x="494.2" y="2413.5" font-size="57.5" text-anchor="middle" fill="#111">30</text>
<text x="812.4" y="2413.5" font-size="57.5" text-anchor="middle" fill="#111">40</text>
<text x="1130.6" y="2413.5" font-size="57.5" text-anchor="middle" fill="#111">50</text>
<text x="1448.8" y="2413.5" font-size="57.5" text-anchor="middle" fill="#111">60</text>
<text x="1767" y="2413.5" font-size="57.5" text-anchor="middle" fill="#111">70</text>
<text x="837" y="2491" font-size="82" textLength="284" lengthAdjust="spacingAndGlyphs" fill="#111">2θ (deg)</text>
</svg></body></html>
